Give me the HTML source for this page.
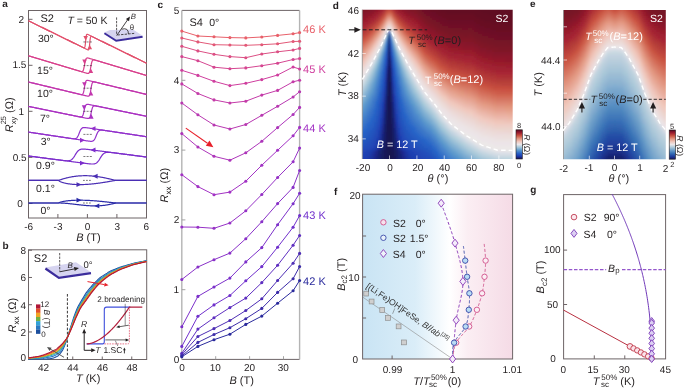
<!DOCTYPE html>
<html><head><meta charset="utf-8"><style>html,body{margin:0;padding:0;background:#fff;}body{width:685px;height:388px;overflow:hidden;font-family:"Liberation Sans", sans-serif;}svg{display:block;will-change:transform;text-rendering:geometricPrecision;}</style></head><body><svg width="685" height="388" viewBox="0 0 685 388" font-family="&quot;Liberation Sans&quot;, sans-serif" font-size="10" fill="#231f20"><text x="2.25" y="7.35" font-weight="bold">a</text>
<rect x="28.5" y="10.5" width="118" height="207.5" fill="none" stroke="#6d6466" stroke-width="1"/>
<line x1="28.5" y1="19.3" x2="32.5" y2="19.3" stroke="#6d6466" stroke-width="1"/>
<line x1="28.5" y1="65.3" x2="32.5" y2="65.3" stroke="#6d6466" stroke-width="1"/>
<line x1="28.5" y1="111.3" x2="32.5" y2="111.3" stroke="#6d6466" stroke-width="1"/>
<line x1="28.5" y1="157.4" x2="32.5" y2="157.4" stroke="#6d6466" stroke-width="1"/>
<line x1="28.5" y1="203.5" x2="32.5" y2="203.5" stroke="#6d6466" stroke-width="1"/>
<line x1="57.9" y1="218" x2="57.9" y2="214" stroke="#6d6466" stroke-width="1"/>
<line x1="87.4" y1="218" x2="87.4" y2="214" stroke="#6d6466" stroke-width="1"/>
<line x1="116.9" y1="218" x2="116.9" y2="214" stroke="#6d6466" stroke-width="1"/>
<text x="18.45" y="22.85">2</text>
<text x="12.5" y="68.45">1.5</text>
<text x="18.55" y="114.7">1</text>
<text x="12.65" y="160.85">0.5</text>
<text x="17.15" y="207.05">0</text>
<text x="24.2" y="230.25">-6</text>
<text x="53.6" y="230.25">-3</text>
<text x="84.8" y="230.25">0</text>
<text x="114.45" y="230.25">3</text>
<text x="143.6" y="230.25">6</text>
<text x="76.2" y="241" font-size="11"><tspan font-style="italic">B</tspan> (T)</text>
<text transform="translate(12.6 132.2) rotate(-90)" font-size="11"><tspan font-style="italic">R</tspan><tspan font-size="7.5" dy="3.2">xy</tspan><tspan font-size="7.5" dx="-7.6" dy="-9.4">25</tspan><tspan dy="6.2"> (Ω)</tspan></text>
<text x="40.4" y="22" font-size="11">S2</text>
<text x="67.4" y="24.15" font-size="10.5"><tspan font-style="italic">T</tspan> = 50 K</text>
<polyline points="28.5,20.8 29,21.05 29.5,21.29 30,21.54 30.5,21.78 31,22.03 31.5,22.27 32,22.52 32.5,22.76 33,23.01 33.5,23.25 34,23.5 34.5,23.74 35,23.98 35.5,24.23 36,24.48 36.5,24.72 37,24.96 37.5,25.21 38,25.46 38.5,25.7 39,25.95 39.5,26.19 40,26.44 40.5,26.68 41,26.93 41.5,27.17 42,27.41 42.5,27.66 43,27.91 43.5,28.15 44,28.39 44.5,28.64 45,28.88 45.5,29.13 46,29.38 46.5,29.62 47,29.87 47.5,30.11 48,30.36 48.5,30.6 49,30.84 49.5,31.09 50,31.34 50.5,31.58 51,31.83 51.5,32.07 52,32.31 52.5,32.56 53,32.8 53.5,33.05 54,33.3 54.5,33.54 55,33.78 55.5,34.03 56,34.27 56.5,34.52 57,34.77 57.5,35.01 58,35.26 58.5,35.5 59,35.75 59.5,35.99 60,36.23 60.5,36.48 61,36.73 61.5,36.97 62,37.22 62.5,37.46 63,37.7 63.5,37.95 64,38.2 64.5,38.44 65,38.69 65.5,38.93 66,39.17 66.5,39.42 67,39.66 67.5,39.91 68,40.16 68.5,40.4 69,40.64 69.5,40.89 70,41.14 70.5,41.38 71,41.62 71.5,41.87 72,42.12 72.5,42.36 73,42.61 73.5,42.85 74,43.09 74.5,43.34 75,43.59 75.5,43.83 76,44.08 76.5,44.32 77,44.56 77.5,44.81 78,45.05 78.5,45.3 79,45.54 79.5,45.79 80,46.03 80.5,46.28 81,46.52 81.5,46.77 82,47.01 82.5,47.26 83,47.5 83.5,47.75 84,47.99 84.5,48.24 85,48.48 85.5,48.73 86,48.97 86.5,49.22 87,49.46 87.5,49.69 88,49.88 88.5,49.88 89,49.05 89.5,45.81 90,40.41 90.5,37.17 91,36.35 91.5,36.34 92,36.53 92.5,36.76 93,37.01 93.5,37.25 94,37.5 94.5,37.74 95,37.99 95.5,38.23 96,38.48 96.5,38.72 97,38.97 97.5,39.21 98,39.46 98.5,39.7 99,39.95 99.5,40.19 100,40.44 100.5,40.68 101,40.93 101.5,41.17 102,41.41 102.5,41.66 103,41.91 103.5,42.15 104,42.4 104.5,42.64 105,42.88 105.5,43.13 106,43.38 106.5,43.62 107,43.87 107.5,44.11 108,44.35 108.5,44.6 109,44.85 109.5,45.09 110,45.34 110.5,45.58 111,45.82 111.5,46.07 112,46.32 112.5,46.56 113,46.8 113.5,47.05 114,47.29 114.5,47.54 115,47.79 115.5,48.03 116,48.27 116.5,48.52 117,48.77 117.5,49.01 118,49.26 118.5,49.5 119,49.74 119.5,49.99 120,50.24 120.5,50.48 121,50.73 121.5,50.97 122,51.21 122.5,51.46 123,51.71 123.5,51.95 124,52.2 124.5,52.44 125,52.68 125.5,52.93 126,53.18 126.5,53.42 127,53.66 127.5,53.91 128,54.16 128.5,54.4 129,54.65 129.5,54.89 130,55.13 130.5,55.38 131,55.63 131.5,55.87 132,56.12 132.5,56.36 133,56.6 133.5,56.85 134,57.1 134.5,57.34 135,57.59 135.5,57.83 136,58.07 136.5,58.32 137,58.57 137.5,58.81 138,59.05 138.5,59.3 139,59.54 139.5,59.79 140,60.04 140.5,60.28 141,60.52 141.5,60.77 142,61.02 142.5,61.26 143,61.51 143.5,61.75 144,61.99 144.5,62.24 145,62.49 145.5,62.73 146,62.98 146.5,63.22" fill="none" stroke="#e2506c" stroke-width="1.2"/>
<polyline points="28.5,20.8 29,21.05 29.5,21.29 30,21.54 30.5,21.78 31,22.03 31.5,22.27 32,22.52 32.5,22.76 33,23.01 33.5,23.25 34,23.5 34.5,23.74 35,23.98 35.5,24.23 36,24.48 36.5,24.72 37,24.96 37.5,25.21 38,25.46 38.5,25.7 39,25.95 39.5,26.19 40,26.44 40.5,26.68 41,26.93 41.5,27.17 42,27.41 42.5,27.66 43,27.91 43.5,28.15 44,28.39 44.5,28.64 45,28.88 45.5,29.13 46,29.38 46.5,29.62 47,29.87 47.5,30.11 48,30.36 48.5,30.6 49,30.84 49.5,31.09 50,31.34 50.5,31.58 51,31.83 51.5,32.07 52,32.31 52.5,32.56 53,32.8 53.5,33.05 54,33.3 54.5,33.54 55,33.78 55.5,34.03 56,34.27 56.5,34.52 57,34.77 57.5,35.01 58,35.26 58.5,35.5 59,35.75 59.5,35.99 60,36.23 60.5,36.48 61,36.73 61.5,36.97 62,37.22 62.5,37.46 63,37.7 63.5,37.95 64,38.2 64.5,38.44 65,38.69 65.5,38.93 66,39.17 66.5,39.42 67,39.66 67.5,39.91 68,40.16 68.5,40.4 69,40.64 69.5,40.89 70,41.14 70.5,41.38 71,41.62 71.5,41.87 72,42.12 72.5,42.36 73,42.61 73.5,42.85 74,43.09 74.5,43.34 75,43.58 75.5,43.83 76,44.07 76.5,44.32 77,44.56 77.5,44.81 78,45.05 78.5,45.3 79,45.54 79.5,45.79 80,46.03 80.5,46.28 81,46.52 81.5,46.77 82,47.01 82.5,47.26 83,47.5 83.5,47.73 84,47.9 84.5,47.81 85,46.65 85.5,42.78 86,37.49 86.5,34.87 87,34.3 87.5,34.36 88,34.57 88.5,34.8 89,35.05 89.5,35.29 90,35.54 90.5,35.78 91,36.03 91.5,36.27 92,36.52 92.5,36.76 93,37.01 93.5,37.25 94,37.5 94.5,37.74 95,37.99 95.5,38.23 96,38.48 96.5,38.72 97,38.97 97.5,39.21 98,39.46 98.5,39.7 99,39.95 99.5,40.19 100,40.43 100.5,40.68 101,40.93 101.5,41.17 102,41.41 102.5,41.66 103,41.91 103.5,42.15 104,42.4 104.5,42.64 105,42.88 105.5,43.13 106,43.38 106.5,43.62 107,43.87 107.5,44.11 108,44.35 108.5,44.6 109,44.85 109.5,45.09 110,45.34 110.5,45.58 111,45.82 111.5,46.07 112,46.32 112.5,46.56 113,46.8 113.5,47.05 114,47.29 114.5,47.54 115,47.79 115.5,48.03 116,48.27 116.5,48.52 117,48.77 117.5,49.01 118,49.26 118.5,49.5 119,49.74 119.5,49.99 120,50.24 120.5,50.48 121,50.73 121.5,50.97 122,51.21 122.5,51.46 123,51.71 123.5,51.95 124,52.2 124.5,52.44 125,52.68 125.5,52.93 126,53.18 126.5,53.42 127,53.66 127.5,53.91 128,54.16 128.5,54.4 129,54.65 129.5,54.89 130,55.13 130.5,55.38 131,55.63 131.5,55.87 132,56.12 132.5,56.36 133,56.6 133.5,56.85 134,57.1 134.5,57.34 135,57.59 135.5,57.83 136,58.07 136.5,58.32 137,58.57 137.5,58.81 138,59.05 138.5,59.3 139,59.54 139.5,59.79 140,60.04 140.5,60.28 141,60.52 141.5,60.77 142,61.02 142.5,61.26 143,61.51 143.5,61.75 144,61.99 144.5,62.24 145,62.49 145.5,62.73 146,62.98 146.5,63.22" fill="none" stroke="#e2506c" stroke-width="1.2"/>
<line x1="83.4" y1="41.96" x2="91.9" y2="41.96" stroke="#231f20" stroke-width="0.6" stroke-dasharray="2,1.2"/>
<path d="M85.65 40.56L83.35 35.96L87.95 35.96Z" fill="#e2506c"/>
<path d="M89.75 44.76L92.05 49.36L87.45 49.36Z" fill="#e2506c"/>
<polyline points="28.5,55.8 29,55.95 29.5,56.1 30,56.25 30.5,56.4 31,56.55 31.5,56.7 32,56.85 32.5,57 33,57.15 33.5,57.3 34,57.45 34.5,57.6 35,57.75 35.5,57.9 36,58.05 36.5,58.2 37,58.35 37.5,58.5 38,58.65 38.5,58.8 39,58.95 39.5,59.1 40,59.25 40.5,59.4 41,59.55 41.5,59.7 42,59.85 42.5,60 43,60.15 43.5,60.3 44,60.45 44.5,60.6 45,60.75 45.5,60.9 46,61.05 46.5,61.2 47,61.35 47.5,61.5 48,61.65 48.5,61.8 49,61.95 49.5,62.1 50,62.25 50.5,62.4 51,62.55 51.5,62.7 52,62.85 52.5,63 53,63.15 53.5,63.3 54,63.45 54.5,63.6 55,63.75 55.5,63.9 56,64.05 56.5,64.2 57,64.35 57.5,64.5 58,64.65 58.5,64.8 59,64.95 59.5,65.1 60,65.25 60.5,65.4 61,65.55 61.5,65.7 62,65.85 62.5,66 63,66.15 63.5,66.3 64,66.45 64.5,66.6 65,66.75 65.5,66.9 66,67.05 66.5,67.2 67,67.35 67.5,67.5 68,67.65 68.5,67.8 69,67.95 69.5,68.1 70,68.25 70.5,68.4 71,68.55 71.5,68.7 72,68.85 72.5,69 73,69.15 73.5,69.3 74,69.45 74.5,69.6 75,69.75 75.5,69.9 76,70.05 76.5,70.2 77,70.35 77.5,70.5 78,70.65 78.5,70.8 79,70.95 79.5,71.1 80,71.25 80.5,71.4 81,71.55 81.5,71.7 82,71.85 82.5,72 83,72.15 83.5,72.3 84,72.45 84.5,72.6 85,72.75 85.5,72.9 86,73.04 86.5,73.18 87,73.31 87.5,73.41 88,73.46 88.5,73.39 89,73.09 89.5,72.35 90,70.91 90.5,68.61 91,65.8 91.5,63.22 92,61.44 92.5,60.45 93,60 93.5,59.86 94,59.87 94.5,59.96 95,60.08 95.5,60.21 96,60.36 96.5,60.5 97,60.65 97.5,60.8 98,60.95 98.5,61.1 99,61.25 99.5,61.4 100,61.55 100.5,61.7 101,61.85 101.5,62 102,62.15 102.5,62.3 103,62.45 103.5,62.6 104,62.75 104.5,62.9 105,63.05 105.5,63.2 106,63.35 106.5,63.5 107,63.65 107.5,63.8 108,63.95 108.5,64.1 109,64.25 109.5,64.4 110,64.55 110.5,64.7 111,64.85 111.5,65 112,65.15 112.5,65.3 113,65.45 113.5,65.6 114,65.75 114.5,65.9 115,66.05 115.5,66.2 116,66.35 116.5,66.5 117,66.65 117.5,66.8 118,66.95 118.5,67.1 119,67.25 119.5,67.4 120,67.55 120.5,67.7 121,67.85 121.5,68 122,68.15 122.5,68.3 123,68.45 123.5,68.6 124,68.75 124.5,68.9 125,69.05 125.5,69.2 126,69.35 126.5,69.5 127,69.65 127.5,69.8 128,69.95 128.5,70.1 129,70.25 129.5,70.4 130,70.55 130.5,70.7 131,70.85 131.5,71 132,71.15 132.5,71.3 133,71.45 133.5,71.6 134,71.75 134.5,71.9 135,72.05 135.5,72.2 136,72.35 136.5,72.5 137,72.65 137.5,72.8 138,72.95 138.5,73.1 139,73.25 139.5,73.4 140,73.55 140.5,73.7 141,73.85 141.5,74 142,74.15 142.5,74.3 143,74.45 143.5,74.6 144,74.75 144.5,74.9 145,75.05 145.5,75.2 146,75.35 146.5,75.5" fill="none" stroke="#d8408c" stroke-width="1.2"/>
<polyline points="28.5,55.8 29,55.95 29.5,56.1 30,56.25 30.5,56.4 31,56.55 31.5,56.7 32,56.85 32.5,57 33,57.15 33.5,57.3 34,57.45 34.5,57.6 35,57.75 35.5,57.9 36,58.05 36.5,58.2 37,58.35 37.5,58.5 38,58.65 38.5,58.8 39,58.95 39.5,59.1 40,59.25 40.5,59.4 41,59.55 41.5,59.7 42,59.85 42.5,60 43,60.15 43.5,60.3 44,60.45 44.5,60.6 45,60.75 45.5,60.9 46,61.05 46.5,61.2 47,61.35 47.5,61.5 48,61.65 48.5,61.8 49,61.95 49.5,62.1 50,62.25 50.5,62.4 51,62.55 51.5,62.7 52,62.85 52.5,63 53,63.15 53.5,63.3 54,63.45 54.5,63.6 55,63.75 55.5,63.9 56,64.05 56.5,64.2 57,64.35 57.5,64.5 58,64.65 58.5,64.8 59,64.95 59.5,65.1 60,65.25 60.5,65.4 61,65.55 61.5,65.7 62,65.85 62.5,66 63,66.15 63.5,66.3 64,66.45 64.5,66.6 65,66.75 65.5,66.9 66,67.05 66.5,67.2 67,67.35 67.5,67.5 68,67.65 68.5,67.8 69,67.95 69.5,68.1 70,68.25 70.5,68.4 71,68.55 71.5,68.7 72,68.85 72.5,69 73,69.15 73.5,69.3 74,69.45 74.5,69.6 75,69.75 75.5,69.9 76,70.05 76.5,70.2 77,70.35 77.5,70.5 78,70.65 78.5,70.8 79,70.95 79.5,71.09 80,71.24 80.5,71.37 81,71.48 81.5,71.56 82,71.55 82.5,71.36 83,70.83 83.5,69.7 84,67.74 84.5,65.05 85,62.29 85.5,60.16 86,58.87 86.5,58.24 87,58 87.5,57.97 88,58.03 88.5,58.14 89,58.27 89.5,58.41 90,58.55 90.5,58.7 91,58.85 91.5,59 92,59.15 92.5,59.3 93,59.45 93.5,59.6 94,59.75 94.5,59.9 95,60.05 95.5,60.2 96,60.35 96.5,60.5 97,60.65 97.5,60.8 98,60.95 98.5,61.1 99,61.25 99.5,61.4 100,61.55 100.5,61.7 101,61.85 101.5,62 102,62.15 102.5,62.3 103,62.45 103.5,62.6 104,62.75 104.5,62.9 105,63.05 105.5,63.2 106,63.35 106.5,63.5 107,63.65 107.5,63.8 108,63.95 108.5,64.1 109,64.25 109.5,64.4 110,64.55 110.5,64.7 111,64.85 111.5,65 112,65.15 112.5,65.3 113,65.45 113.5,65.6 114,65.75 114.5,65.9 115,66.05 115.5,66.2 116,66.35 116.5,66.5 117,66.65 117.5,66.8 118,66.95 118.5,67.1 119,67.25 119.5,67.4 120,67.55 120.5,67.7 121,67.85 121.5,68 122,68.15 122.5,68.3 123,68.45 123.5,68.6 124,68.75 124.5,68.9 125,69.05 125.5,69.2 126,69.35 126.5,69.5 127,69.65 127.5,69.8 128,69.95 128.5,70.1 129,70.25 129.5,70.4 130,70.55 130.5,70.7 131,70.85 131.5,71 132,71.15 132.5,71.3 133,71.45 133.5,71.6 134,71.75 134.5,71.9 135,72.05 135.5,72.2 136,72.35 136.5,72.5 137,72.65 137.5,72.8 138,72.95 138.5,73.1 139,73.25 139.5,73.4 140,73.55 140.5,73.7 141,73.85 141.5,74 142,74.15 142.5,74.3 143,74.45 143.5,74.6 144,74.75 144.5,74.9 145,75.05 145.5,75.2 146,75.35 146.5,75.5" fill="none" stroke="#d8408c" stroke-width="1.2"/>
<line x1="83.4" y1="65.62" x2="91.9" y2="65.62" stroke="#231f20" stroke-width="0.6" stroke-dasharray="2,1.2"/>
<path d="M84.55 64.22L82.25 59.62L86.85 59.62Z" fill="#d8408c"/>
<path d="M90.85 68.42L93.15 73.02L88.55 73.02Z" fill="#d8408c"/>
<polyline points="28.5,82 29,82.12 29.5,82.24 30,82.36 30.5,82.48 31,82.6 31.5,82.72 32,82.84 32.5,82.96 33,83.08 33.5,83.2 34,83.32 34.5,83.44 35,83.56 35.5,83.68 36,83.8 36.5,83.92 37,84.04 37.5,84.16 38,84.28 38.5,84.4 39,84.52 39.5,84.64 40,84.76 40.5,84.88 41,85 41.5,85.12 42,85.24 42.5,85.36 43,85.48 43.5,85.6 44,85.72 44.5,85.84 45,85.96 45.5,86.08 46,86.2 46.5,86.32 47,86.44 47.5,86.56 48,86.68 48.5,86.8 49,86.92 49.5,87.04 50,87.16 50.5,87.28 51,87.4 51.5,87.52 52,87.64 52.5,87.76 53,87.88 53.5,88 54,88.12 54.5,88.24 55,88.36 55.5,88.48 56,88.6 56.5,88.72 57,88.84 57.5,88.96 58,89.08 58.5,89.2 59,89.32 59.5,89.44 60,89.56 60.5,89.68 61,89.8 61.5,89.92 62,90.04 62.5,90.16 63,90.28 63.5,90.4 64,90.52 64.5,90.64 65,90.76 65.5,90.88 66,91 66.5,91.12 67,91.24 67.5,91.36 68,91.48 68.5,91.6 69,91.72 69.5,91.84 70,91.96 70.5,92.08 71,92.2 71.5,92.32 72,92.44 72.5,92.56 73,92.68 73.5,92.8 74,92.92 74.5,93.04 75,93.16 75.5,93.28 76,93.4 76.5,93.52 77,93.64 77.5,93.76 78,93.88 78.5,94 79,94.12 79.5,94.24 80,94.36 80.5,94.48 81,94.6 81.5,94.72 82,94.84 82.5,94.96 83,95.08 83.5,95.2 84,95.32 84.5,95.44 85,95.56 85.5,95.68 86,95.8 86.5,95.91 87,96.02 87.5,96.11 88,96.16 88.5,96.14 89,95.93 89.5,95.34 90,94.05 90.5,91.78 91,88.72 91.5,85.76 92,83.69 92.5,82.58 93,82.09 93.5,81.92 94,81.92 94.5,81.98 95,82.08 95.5,82.19 96,82.3 96.5,82.42 97,82.54 97.5,82.66 98,82.78 98.5,82.9 99,83.02 99.5,83.14 100,83.26 100.5,83.38 101,83.5 101.5,83.62 102,83.74 102.5,83.86 103,83.98 103.5,84.1 104,84.22 104.5,84.34 105,84.46 105.5,84.58 106,84.7 106.5,84.82 107,84.94 107.5,85.06 108,85.18 108.5,85.3 109,85.42 109.5,85.54 110,85.66 110.5,85.78 111,85.9 111.5,86.02 112,86.14 112.5,86.26 113,86.38 113.5,86.5 114,86.62 114.5,86.74 115,86.86 115.5,86.98 116,87.1 116.5,87.22 117,87.34 117.5,87.46 118,87.58 118.5,87.7 119,87.82 119.5,87.94 120,88.06 120.5,88.18 121,88.3 121.5,88.42 122,88.54 122.5,88.66 123,88.78 123.5,88.9 124,89.02 124.5,89.14 125,89.26 125.5,89.38 126,89.5 126.5,89.62 127,89.74 127.5,89.86 128,89.98 128.5,90.1 129,90.22 129.5,90.34 130,90.46 130.5,90.58 131,90.7 131.5,90.82 132,90.94 132.5,91.06 133,91.18 133.5,91.3 134,91.42 134.5,91.54 135,91.66 135.5,91.78 136,91.9 136.5,92.02 137,92.14 137.5,92.26 138,92.38 138.5,92.5 139,92.62 139.5,92.74 140,92.86 140.5,92.98 141,93.1 141.5,93.22 142,93.34 142.5,93.46 143,93.58 143.5,93.7 144,93.82 144.5,93.94 145,94.06 145.5,94.18 146,94.3 146.5,94.42" fill="none" stroke="#c236ae" stroke-width="1.2"/>
<polyline points="28.5,82 29,82.12 29.5,82.24 30,82.36 30.5,82.48 31,82.6 31.5,82.72 32,82.84 32.5,82.96 33,83.08 33.5,83.2 34,83.32 34.5,83.44 35,83.56 35.5,83.68 36,83.8 36.5,83.92 37,84.04 37.5,84.16 38,84.28 38.5,84.4 39,84.52 39.5,84.64 40,84.76 40.5,84.88 41,85 41.5,85.12 42,85.24 42.5,85.36 43,85.48 43.5,85.6 44,85.72 44.5,85.84 45,85.96 45.5,86.08 46,86.2 46.5,86.32 47,86.44 47.5,86.56 48,86.68 48.5,86.8 49,86.92 49.5,87.04 50,87.16 50.5,87.28 51,87.4 51.5,87.52 52,87.64 52.5,87.76 53,87.88 53.5,88 54,88.12 54.5,88.24 55,88.36 55.5,88.48 56,88.6 56.5,88.72 57,88.84 57.5,88.96 58,89.08 58.5,89.2 59,89.32 59.5,89.44 60,89.56 60.5,89.68 61,89.8 61.5,89.92 62,90.04 62.5,90.16 63,90.28 63.5,90.4 64,90.52 64.5,90.64 65,90.76 65.5,90.88 66,91 66.5,91.12 67,91.24 67.5,91.36 68,91.48 68.5,91.6 69,91.72 69.5,91.84 70,91.96 70.5,92.08 71,92.2 71.5,92.32 72,92.44 72.5,92.56 73,92.68 73.5,92.8 74,92.92 74.5,93.04 75,93.16 75.5,93.28 76,93.4 76.5,93.52 77,93.64 77.5,93.76 78,93.88 78.5,94 79,94.12 79.5,94.24 80,94.35 80.5,94.46 81,94.55 81.5,94.6 82,94.58 82.5,94.37 83,93.78 83.5,92.49 84,90.22 84.5,87.16 85,84.2 85.5,82.13 86,81.02 86.5,80.53 87,80.36 87.5,80.36 88,80.42 88.5,80.52 89,80.63 89.5,80.74 90,80.86 90.5,80.98 91,81.1 91.5,81.22 92,81.34 92.5,81.46 93,81.58 93.5,81.7 94,81.82 94.5,81.94 95,82.06 95.5,82.18 96,82.3 96.5,82.42 97,82.54 97.5,82.66 98,82.78 98.5,82.9 99,83.02 99.5,83.14 100,83.26 100.5,83.38 101,83.5 101.5,83.62 102,83.74 102.5,83.86 103,83.98 103.5,84.1 104,84.22 104.5,84.34 105,84.46 105.5,84.58 106,84.7 106.5,84.82 107,84.94 107.5,85.06 108,85.18 108.5,85.3 109,85.42 109.5,85.54 110,85.66 110.5,85.78 111,85.9 111.5,86.02 112,86.14 112.5,86.26 113,86.38 113.5,86.5 114,86.62 114.5,86.74 115,86.86 115.5,86.98 116,87.1 116.5,87.22 117,87.34 117.5,87.46 118,87.58 118.5,87.7 119,87.82 119.5,87.94 120,88.06 120.5,88.18 121,88.3 121.5,88.42 122,88.54 122.5,88.66 123,88.78 123.5,88.9 124,89.02 124.5,89.14 125,89.26 125.5,89.38 126,89.5 126.5,89.62 127,89.74 127.5,89.86 128,89.98 128.5,90.1 129,90.22 129.5,90.34 130,90.46 130.5,90.58 131,90.7 131.5,90.82 132,90.94 132.5,91.06 133,91.18 133.5,91.3 134,91.42 134.5,91.54 135,91.66 135.5,91.78 136,91.9 136.5,92.02 137,92.14 137.5,92.26 138,92.38 138.5,92.5 139,92.62 139.5,92.74 140,92.86 140.5,92.98 141,93.1 141.5,93.22 142,93.34 142.5,93.46 143,93.58 143.5,93.7 144,93.82 144.5,93.94 145,94.06 145.5,94.18 146,94.3 146.5,94.42" fill="none" stroke="#c236ae" stroke-width="1.2"/>
<line x1="83.4" y1="88.19" x2="91.9" y2="88.19" stroke="#231f20" stroke-width="0.6" stroke-dasharray="2,1.2"/>
<path d="M84.45 86.79L82.15 82.19L86.75 82.19Z" fill="#c236ae"/>
<path d="M90.95 90.99L93.25 95.59L88.65 95.59Z" fill="#c236ae"/>
<polyline points="28.5,106.4 29,106.5 29.5,106.61 30,106.71 30.5,106.81 31,106.91 31.5,107.02 32,107.12 32.5,107.22 33,107.32 33.5,107.43 34,107.53 34.5,107.63 35,107.73 35.5,107.84 36,107.94 36.5,108.04 37,108.14 37.5,108.25 38,108.35 38.5,108.45 39,108.55 39.5,108.66 40,108.76 40.5,108.86 41,108.96 41.5,109.07 42,109.17 42.5,109.27 43,109.37 43.5,109.48 44,109.58 44.5,109.68 45,109.78 45.5,109.89 46,109.99 46.5,110.09 47,110.19 47.5,110.3 48,110.4 48.5,110.5 49,110.6 49.5,110.71 50,110.81 50.5,110.91 51,111.01 51.5,111.12 52,111.22 52.5,111.32 53,111.42 53.5,111.53 54,111.63 54.5,111.73 55,111.83 55.5,111.94 56,112.04 56.5,112.14 57,112.24 57.5,112.34 58,112.45 58.5,112.55 59,112.65 59.5,112.76 60,112.86 60.5,112.96 61,113.06 61.5,113.17 62,113.27 62.5,113.37 63,113.47 63.5,113.58 64,113.68 64.5,113.78 65,113.88 65.5,113.98 66,114.09 66.5,114.19 67,114.29 67.5,114.39 68,114.5 68.5,114.6 69,114.7 69.5,114.8 70,114.91 70.5,115.01 71,115.11 71.5,115.21 72,115.32 72.5,115.42 73,115.52 73.5,115.62 74,115.73 74.5,115.83 75,115.93 75.5,116.03 76,116.14 76.5,116.24 77,116.34 77.5,116.44 78,116.55 78.5,116.65 79,116.75 79.5,116.85 80,116.96 80.5,117.06 81,117.16 81.5,117.26 82,117.37 82.5,117.47 83,117.57 83.5,117.67 84,117.78 84.5,117.88 85,117.98 85.5,118.08 86,118.18 86.5,118.27 87,118.35 87.5,118.42 88,118.45 88.5,118.41 89,118.23 89.5,117.8 90,116.97 90.5,115.55 91,113.52 91.5,111.19 92,109.06 92.5,107.51 93,106.57 93.5,106.08 94,105.86 94.5,105.8 95,105.82 95.5,105.88 96,105.96 96.5,106.05 97,106.15 97.5,106.25 98,106.35 98.5,106.45 99,106.55 99.5,106.66 100,106.76 100.5,106.86 101,106.96 101.5,107.07 102,107.17 102.5,107.27 103,107.37 103.5,107.48 104,107.58 104.5,107.68 105,107.78 105.5,107.89 106,107.99 106.5,108.09 107,108.19 107.5,108.3 108,108.4 108.5,108.5 109,108.6 109.5,108.71 110,108.81 110.5,108.91 111,109.01 111.5,109.12 112,109.22 112.5,109.32 113,109.42 113.5,109.53 114,109.63 114.5,109.73 115,109.83 115.5,109.94 116,110.04 116.5,110.14 117,110.24 117.5,110.35 118,110.45 118.5,110.55 119,110.65 119.5,110.76 120,110.86 120.5,110.96 121,111.06 121.5,111.17 122,111.27 122.5,111.37 123,111.47 123.5,111.58 124,111.68 124.5,111.78 125,111.88 125.5,111.98 126,112.09 126.5,112.19 127,112.29 127.5,112.4 128,112.5 128.5,112.6 129,112.7 129.5,112.81 130,112.91 130.5,113.01 131,113.11 131.5,113.22 132,113.32 132.5,113.42 133,113.52 133.5,113.63 134,113.73 134.5,113.83 135,113.93 135.5,114.04 136,114.14 136.5,114.24 137,114.34 137.5,114.45 138,114.55 138.5,114.65 139,114.75 139.5,114.86 140,114.96 140.5,115.06 141,115.16 141.5,115.27 142,115.37 142.5,115.47 143,115.57 143.5,115.67 144,115.78 144.5,115.88 145,115.98 145.5,116.08 146,116.19 146.5,116.29" fill="none" stroke="#aa32c2" stroke-width="1.2"/>
<polyline points="28.5,106.4 29,106.5 29.5,106.61 30,106.71 30.5,106.81 31,106.91 31.5,107.02 32,107.12 32.5,107.22 33,107.32 33.5,107.43 34,107.53 34.5,107.63 35,107.73 35.5,107.84 36,107.94 36.5,108.04 37,108.14 37.5,108.25 38,108.35 38.5,108.45 39,108.55 39.5,108.66 40,108.76 40.5,108.86 41,108.96 41.5,109.07 42,109.17 42.5,109.27 43,109.37 43.5,109.48 44,109.58 44.5,109.68 45,109.78 45.5,109.89 46,109.99 46.5,110.09 47,110.19 47.5,110.3 48,110.4 48.5,110.5 49,110.6 49.5,110.71 50,110.81 50.5,110.91 51,111.01 51.5,111.12 52,111.22 52.5,111.32 53,111.42 53.5,111.53 54,111.63 54.5,111.73 55,111.83 55.5,111.94 56,112.04 56.5,112.14 57,112.24 57.5,112.34 58,112.45 58.5,112.55 59,112.65 59.5,112.75 60,112.86 60.5,112.96 61,113.06 61.5,113.16 62,113.27 62.5,113.37 63,113.47 63.5,113.57 64,113.68 64.5,113.78 65,113.88 65.5,113.98 66,114.09 66.5,114.19 67,114.29 67.5,114.39 68,114.5 68.5,114.6 69,114.7 69.5,114.8 70,114.91 70.5,115.01 71,115.11 71.5,115.21 72,115.32 72.5,115.42 73,115.52 73.5,115.62 74,115.73 74.5,115.83 75,115.93 75.5,116.03 76,116.14 76.5,116.24 77,116.34 77.5,116.44 78,116.54 78.5,116.64 79,116.74 79.5,116.83 80,116.91 80.5,116.96 81,116.97 81.5,116.88 82,116.62 82.5,116.05 83,115 83.5,113.33 84,111.12 84.5,108.81 85,106.89 85.5,105.6 86,104.86 86.5,104.49 87,104.35 87.5,104.33 88,104.36 88.5,104.43 89,104.52 89.5,104.61 90,104.71 90.5,104.81 91,104.91 91.5,105.02 92,105.12 92.5,105.22 93,105.32 93.5,105.43 94,105.53 94.5,105.63 95,105.73 95.5,105.84 96,105.94 96.5,106.04 97,106.14 97.5,106.25 98,106.35 98.5,106.45 99,106.55 99.5,106.66 100,106.76 100.5,106.86 101,106.96 101.5,107.07 102,107.17 102.5,107.27 103,107.37 103.5,107.48 104,107.58 104.5,107.68 105,107.78 105.5,107.89 106,107.99 106.5,108.09 107,108.19 107.5,108.3 108,108.4 108.5,108.5 109,108.6 109.5,108.71 110,108.81 110.5,108.91 111,109.01 111.5,109.12 112,109.22 112.5,109.32 113,109.42 113.5,109.53 114,109.63 114.5,109.73 115,109.83 115.5,109.94 116,110.04 116.5,110.14 117,110.24 117.5,110.35 118,110.45 118.5,110.55 119,110.65 119.5,110.76 120,110.86 120.5,110.96 121,111.06 121.5,111.17 122,111.27 122.5,111.37 123,111.47 123.5,111.58 124,111.68 124.5,111.78 125,111.88 125.5,111.98 126,112.09 126.5,112.19 127,112.29 127.5,112.4 128,112.5 128.5,112.6 129,112.7 129.5,112.81 130,112.91 130.5,113.01 131,113.11 131.5,113.22 132,113.32 132.5,113.42 133,113.52 133.5,113.63 134,113.73 134.5,113.83 135,113.93 135.5,114.04 136,114.14 136.5,114.24 137,114.34 137.5,114.45 138,114.55 138.5,114.65 139,114.75 139.5,114.86 140,114.96 140.5,115.06 141,115.16 141.5,115.27 142,115.37 142.5,115.47 143,115.57 143.5,115.67 144,115.78 144.5,115.88 145,115.98 145.5,116.08 146,116.19 146.5,116.29" fill="none" stroke="#aa32c2" stroke-width="1.2"/>
<line x1="83.4" y1="111.32" x2="91.9" y2="111.32" stroke="#231f20" stroke-width="0.6" stroke-dasharray="2,1.2"/>
<path d="M84.1 109.92L81.8 105.32L86.4 105.32Z" fill="#aa32c2"/>
<path d="M91.3 114.12L93.6 118.72L89 118.72Z" fill="#aa32c2"/>
<polyline points="28.5,132.1 29,132.17 29.5,132.25 30,132.32 30.5,132.4 31,132.47 31.5,132.55 32,132.62 32.5,132.7 33,132.78 33.5,132.85 34,132.92 34.5,133 35,133.07 35.5,133.15 36,133.22 36.5,133.3 37,133.38 37.5,133.45 38,133.53 38.5,133.6 39,133.67 39.5,133.75 40,133.82 40.5,133.9 41,133.97 41.5,134.05 42,134.12 42.5,134.2 43,134.28 43.5,134.35 44,134.42 44.5,134.5 45,134.57 45.5,134.65 46,134.72 46.5,134.8 47,134.88 47.5,134.95 48,135.03 48.5,135.1 49,135.17 49.5,135.25 50,135.32 50.5,135.4 51,135.47 51.5,135.55 52,135.62 52.5,135.7 53,135.78 53.5,135.85 54,135.92 54.5,136 55,136.07 55.5,136.15 56,136.22 56.5,136.3 57,136.37 57.5,136.45 58,136.52 58.5,136.6 59,136.67 59.5,136.75 60,136.82 60.5,136.9 61,136.97 61.5,137.05 62,137.12 62.5,137.2 63,137.27 63.5,137.35 64,137.42 64.5,137.5 65,137.57 65.5,137.65 66,137.72 66.5,137.8 67,137.87 67.5,137.95 68,138.02 68.5,138.1 69,138.17 69.5,138.25 70,138.32 70.5,138.4 71,138.47 71.5,138.55 72,138.62 72.5,138.7 73,138.77 73.5,138.85 74,138.92 74.5,139 75,139.07 75.5,139.15 76,139.22 76.5,139.3 77,139.37 77.5,139.45 78,139.52 78.5,139.6 79,139.67 79.5,139.75 80,139.82 80.5,139.9 81,139.97 81.5,140.05 82,140.12 82.5,140.2 83,140.27 83.5,140.35 84,140.42 84.5,140.5 85,140.57 85.5,140.65 86,140.72 86.5,140.8 87,140.87 87.5,140.94 88,141.01 88.5,141.08 89,141.14 89.5,141.2 90,141.25 90.5,141.29 91,141.31 91.5,141.29 92,141.24 92.5,141.13 93,140.92 93.5,140.6 94,140.12 94.5,139.44 95,138.55 95.5,137.46 96,136.22 96.5,134.94 97,133.72 97.5,132.66 98,131.81 98.5,131.18 99,130.73 99.5,130.44 100,130.25 100.5,130.15 101,130.11 101.5,130.11 102,130.13 102.5,130.17 103,130.22 103.5,130.28 104,130.34 104.5,130.41 105,130.48 105.5,130.56 106,130.63 106.5,130.7 107,130.78 107.5,130.85 108,130.93 108.5,131 109,131.08 109.5,131.15 110,131.23 110.5,131.3 111,131.38 111.5,131.45 112,131.53 112.5,131.6 113,131.68 113.5,131.75 114,131.83 114.5,131.9 115,131.98 115.5,132.05 116,132.13 116.5,132.2 117,132.28 117.5,132.35 118,132.43 118.5,132.5 119,132.58 119.5,132.65 120,132.73 120.5,132.8 121,132.88 121.5,132.95 122,133.03 122.5,133.1 123,133.18 123.5,133.25 124,133.33 124.5,133.4 125,133.48 125.5,133.55 126,133.63 126.5,133.7 127,133.78 127.5,133.85 128,133.93 128.5,134 129,134.08 129.5,134.15 130,134.23 130.5,134.3 131,134.38 131.5,134.45 132,134.53 132.5,134.6 133,134.68 133.5,134.75 134,134.83 134.5,134.9 135,134.98 135.5,135.05 136,135.13 136.5,135.2 137,135.28 137.5,135.35 138,135.43 138.5,135.5 139,135.57 139.5,135.65 140,135.72 140.5,135.8 141,135.88 141.5,135.95 142,136.03 142.5,136.1 143,136.18 143.5,136.25 144,136.32 144.5,136.4 145,136.47 145.5,136.55 146,136.62 146.5,136.7" fill="none" stroke="#9230cc" stroke-width="1.2"/>
<polyline points="28.5,132.1 29,132.17 29.5,132.25 30,132.32 30.5,132.4 31,132.47 31.5,132.55 32,132.62 32.5,132.7 33,132.78 33.5,132.85 34,132.92 34.5,133 35,133.07 35.5,133.15 36,133.22 36.5,133.3 37,133.38 37.5,133.45 38,133.52 38.5,133.6 39,133.67 39.5,133.75 40,133.82 40.5,133.9 41,133.97 41.5,134.05 42,134.12 42.5,134.2 43,134.27 43.5,134.35 44,134.42 44.5,134.5 45,134.57 45.5,134.65 46,134.72 46.5,134.8 47,134.87 47.5,134.95 48,135.02 48.5,135.1 49,135.17 49.5,135.25 50,135.32 50.5,135.4 51,135.47 51.5,135.55 52,135.62 52.5,135.7 53,135.77 53.5,135.85 54,135.92 54.5,136 55,136.07 55.5,136.15 56,136.22 56.5,136.3 57,136.37 57.5,136.45 58,136.52 58.5,136.6 59,136.67 59.5,136.75 60,136.82 60.5,136.9 61,136.97 61.5,137.05 62,137.12 62.5,137.2 63,137.27 63.5,137.35 64,137.42 64.5,137.5 65,137.57 65.5,137.65 66,137.72 66.5,137.8 67,137.87 67.5,137.95 68,138.02 68.5,138.1 69,138.17 69.5,138.25 70,138.32 70.5,138.39 71,138.46 71.5,138.53 72,138.59 72.5,138.65 73,138.7 73.5,138.74 74,138.76 74.5,138.74 75,138.69 75.5,138.58 76,138.37 76.5,138.05 77,137.57 77.5,136.89 78,136 78.5,134.91 79,133.67 79.5,132.39 80,131.17 80.5,130.11 81,129.26 81.5,128.63 82,128.18 82.5,127.89 83,127.7 83.5,127.6 84,127.56 84.5,127.56 85,127.58 85.5,127.62 86,127.67 86.5,127.73 87,127.79 87.5,127.86 88,127.93 88.5,128.01 89,128.08 89.5,128.15 90,128.23 90.5,128.3 91,128.38 91.5,128.45 92,128.53 92.5,128.6 93,128.68 93.5,128.75 94,128.83 94.5,128.9 95,128.98 95.5,129.05 96,129.13 96.5,129.2 97,129.28 97.5,129.35 98,129.43 98.5,129.5 99,129.58 99.5,129.65 100,129.73 100.5,129.8 101,129.88 101.5,129.95 102,130.03 102.5,130.1 103,130.18 103.5,130.25 104,130.33 104.5,130.4 105,130.48 105.5,130.55 106,130.63 106.5,130.7 107,130.78 107.5,130.85 108,130.93 108.5,131 109,131.08 109.5,131.15 110,131.23 110.5,131.3 111,131.38 111.5,131.45 112,131.53 112.5,131.6 113,131.68 113.5,131.75 114,131.83 114.5,131.9 115,131.98 115.5,132.05 116,132.13 116.5,132.2 117,132.28 117.5,132.35 118,132.43 118.5,132.5 119,132.58 119.5,132.65 120,132.73 120.5,132.8 121,132.88 121.5,132.95 122,133.03 122.5,133.1 123,133.18 123.5,133.25 124,133.32 124.5,133.4 125,133.47 125.5,133.55 126,133.62 126.5,133.7 127,133.78 127.5,133.85 128,133.93 128.5,134 129,134.07 129.5,134.15 130,134.22 130.5,134.3 131,134.38 131.5,134.45 132,134.53 132.5,134.6 133,134.68 133.5,134.75 134,134.82 134.5,134.9 135,134.97 135.5,135.05 136,135.12 136.5,135.2 137,135.28 137.5,135.35 138,135.43 138.5,135.5 139,135.57 139.5,135.65 140,135.72 140.5,135.8 141,135.88 141.5,135.95 142,136.03 142.5,136.1 143,136.18 143.5,136.25 144,136.32 144.5,136.4 145,136.47 145.5,136.55 146,136.62 146.5,136.7" fill="none" stroke="#9230cc" stroke-width="1.2"/>
<line x1="83.4" y1="134.38" x2="91.9" y2="134.38" stroke="#231f20" stroke-width="0.6" stroke-dasharray="2,1.2"/>
<path d="M90.5 128.6L95.5 126.2L95.5 131Z" fill="#9230cc"/>
<path d="M85 140.27L80 142.67L80 137.87Z" fill="#9230cc"/>
<polyline points="28.5,156 29,156.06 29.5,156.13 30,156.19 30.5,156.26 31,156.32 31.5,156.39 32,156.45 32.5,156.52 33,156.58 33.5,156.65 34,156.71 34.5,156.78 35,156.84 35.5,156.91 36,156.97 36.5,157.04 37,157.1 37.5,157.17 38,157.23 38.5,157.3 39,157.36 39.5,157.43 40,157.49 40.5,157.56 41,157.62 41.5,157.69 42,157.75 42.5,157.82 43,157.88 43.5,157.95 44,158.01 44.5,158.08 45,158.14 45.5,158.21 46,158.27 46.5,158.34 47,158.4 47.5,158.47 48,158.53 48.5,158.6 49,158.66 49.5,158.73 50,158.79 50.5,158.86 51,158.92 51.5,158.99 52,159.05 52.5,159.12 53,159.18 53.5,159.25 54,159.31 54.5,159.38 55,159.44 55.5,159.51 56,159.57 56.5,159.64 57,159.7 57.5,159.77 58,159.83 58.5,159.9 59,159.96 59.5,160.03 60,160.09 60.5,160.16 61,160.22 61.5,160.29 62,160.35 62.5,160.42 63,160.48 63.5,160.55 64,160.61 64.5,160.68 65,160.74 65.5,160.81 66,160.87 66.5,160.94 67,161 67.5,161.07 68,161.13 68.5,161.2 69,161.26 69.5,161.33 70,161.39 70.5,161.46 71,161.52 71.5,161.59 72,161.65 72.5,161.72 73,161.78 73.5,161.85 74,161.91 74.5,161.98 75,162.04 75.5,162.11 76,162.17 76.5,162.24 77,162.3 77.5,162.37 78,162.43 78.5,162.5 79,162.56 79.5,162.63 80,162.69 80.5,162.76 81,162.82 81.5,162.89 82,162.95 82.5,163.02 83,163.08 83.5,163.15 84,163.21 84.5,163.27 85,163.34 85.5,163.4 86,163.46 86.5,163.52 87,163.59 87.5,163.65 88,163.7 88.5,163.76 89,163.81 89.5,163.86 90,163.91 90.5,163.95 91,163.98 91.5,164.01 92,164.02 92.5,164.02 93,164 93.5,163.97 94,163.9 94.5,163.8 95,163.66 95.5,163.46 96,163.21 96.5,162.9 97,162.5 97.5,162.03 98,161.46 98.5,160.82 99,160.1 99.5,159.32 100,158.5 100.5,157.67 101,156.86 101.5,156.09 102,155.39 102.5,154.76 103,154.21 103.5,153.75 104,153.38 104.5,153.07 105,152.83 105.5,152.65 106,152.52 106.5,152.43 107,152.37 107.5,152.33 108,152.32 108.5,152.32 109,152.34 109.5,152.37 110,152.4 110.5,152.44 111,152.49 111.5,152.54 112,152.59 112.5,152.65 113,152.71 113.5,152.77 114,152.83 114.5,152.89 115,152.95 115.5,153.02 116,153.08 116.5,153.14 117,153.21 117.5,153.27 118,153.34 118.5,153.4 119,153.47 119.5,153.53 120,153.6 120.5,153.66 121,153.73 121.5,153.79 122,153.86 122.5,153.92 123,153.99 123.5,154.05 124,154.12 124.5,154.18 125,154.25 125.5,154.31 126,154.38 126.5,154.44 127,154.51 127.5,154.57 128,154.64 128.5,154.7 129,154.77 129.5,154.83 130,154.9 130.5,154.96 131,155.03 131.5,155.09 132,155.16 132.5,155.22 133,155.29 133.5,155.35 134,155.42 134.5,155.48 135,155.55 135.5,155.61 136,155.68 136.5,155.74 137,155.81 137.5,155.87 138,155.94 138.5,156 139,156.07 139.5,156.13 140,156.2 140.5,156.26 141,156.33 141.5,156.39 142,156.46 142.5,156.52 143,156.59 143.5,156.65 144,156.72 144.5,156.78 145,156.85 145.5,156.91 146,156.98 146.5,157.04" fill="none" stroke="#7c2ecc" stroke-width="1.2"/>
<polyline points="28.5,156 29,156.06 29.5,156.13 30,156.19 30.5,156.26 31,156.32 31.5,156.39 32,156.45 32.5,156.52 33,156.58 33.5,156.65 34,156.71 34.5,156.78 35,156.84 35.5,156.91 36,156.97 36.5,157.04 37,157.1 37.5,157.17 38,157.23 38.5,157.3 39,157.36 39.5,157.43 40,157.49 40.5,157.56 41,157.62 41.5,157.69 42,157.75 42.5,157.82 43,157.88 43.5,157.95 44,158.01 44.5,158.08 45,158.14 45.5,158.21 46,158.27 46.5,158.34 47,158.4 47.5,158.47 48,158.53 48.5,158.6 49,158.66 49.5,158.73 50,158.79 50.5,158.86 51,158.92 51.5,158.99 52,159.05 52.5,159.12 53,159.18 53.5,159.25 54,159.31 54.5,159.38 55,159.44 55.5,159.51 56,159.57 56.5,159.64 57,159.7 57.5,159.77 58,159.83 58.5,159.9 59,159.96 59.5,160.02 60,160.09 60.5,160.15 61,160.21 61.5,160.27 62,160.34 62.5,160.4 63,160.45 63.5,160.51 64,160.56 64.5,160.61 65,160.66 65.5,160.7 66,160.73 66.5,160.76 67,160.77 67.5,160.77 68,160.75 68.5,160.72 69,160.65 69.5,160.55 70,160.41 70.5,160.21 71,159.96 71.5,159.65 72,159.25 72.5,158.78 73,158.21 73.5,157.57 74,156.85 74.5,156.07 75,155.25 75.5,154.42 76,153.61 76.5,152.84 77,152.14 77.5,151.51 78,150.96 78.5,150.5 79,150.13 79.5,149.82 80,149.58 80.5,149.4 81,149.27 81.5,149.18 82,149.12 82.5,149.08 83,149.07 83.5,149.07 84,149.09 84.5,149.12 85,149.15 85.5,149.19 86,149.24 86.5,149.29 87,149.34 87.5,149.4 88,149.46 88.5,149.52 89,149.58 89.5,149.64 90,149.7 90.5,149.77 91,149.83 91.5,149.89 92,149.96 92.5,150.02 93,150.09 93.5,150.15 94,150.22 94.5,150.28 95,150.35 95.5,150.41 96,150.48 96.5,150.54 97,150.61 97.5,150.67 98,150.74 98.5,150.8 99,150.87 99.5,150.93 100,151 100.5,151.06 101,151.13 101.5,151.19 102,151.26 102.5,151.32 103,151.39 103.5,151.45 104,151.52 104.5,151.58 105,151.65 105.5,151.71 106,151.78 106.5,151.84 107,151.91 107.5,151.97 108,152.04 108.5,152.1 109,152.17 109.5,152.23 110,152.3 110.5,152.36 111,152.43 111.5,152.49 112,152.56 112.5,152.62 113,152.69 113.5,152.75 114,152.82 114.5,152.88 115,152.95 115.5,153.01 116,153.08 116.5,153.14 117,153.21 117.5,153.27 118,153.34 118.5,153.4 119,153.47 119.5,153.53 120,153.6 120.5,153.66 121,153.73 121.5,153.79 122,153.86 122.5,153.92 123,153.99 123.5,154.05 124,154.12 124.5,154.18 125,154.25 125.5,154.31 126,154.38 126.5,154.44 127,154.51 127.5,154.57 128,154.64 128.5,154.7 129,154.77 129.5,154.83 130,154.9 130.5,154.96 131,155.03 131.5,155.09 132,155.16 132.5,155.22 133,155.29 133.5,155.35 134,155.42 134.5,155.48 135,155.55 135.5,155.61 136,155.68 136.5,155.74 137,155.81 137.5,155.87 138,155.94 138.5,156 139,156.07 139.5,156.13 140,156.2 140.5,156.26 141,156.33 141.5,156.39 142,156.46 142.5,156.52 143,156.59 143.5,156.65 144,156.72 144.5,156.78 145,156.85 145.5,156.91 146,156.98 146.5,157.04" fill="none" stroke="#7c2ecc" stroke-width="1.2"/>
<line x1="83.4" y1="156.51" x2="91.9" y2="156.51" stroke="#231f20" stroke-width="0.6" stroke-dasharray="2,1.2"/>
<path d="M90.5 150.02L95.5 147.62L95.5 152.42Z" fill="#7c2ecc"/>
<path d="M85 163.08L80 165.48L80 160.68Z" fill="#7c2ecc"/>
<polyline points="28.5,180.4 29,180.4 29.5,180.4 30,180.4 30.5,180.4 31,180.4 31.5,180.4 32,180.4 32.5,180.4 33,180.4 33.5,180.4 34,180.4 34.5,180.4 35,180.4 35.5,180.4 36,180.4 36.5,180.4 37,180.4 37.5,180.4 38,180.4 38.5,180.4 39,180.4 39.5,180.4 40,180.4 40.5,180.4 41,180.4 41.5,180.4 42,180.4 42.5,180.4 43,180.4 43.5,180.4 44,180.4 44.5,180.4 45,180.4 45.5,180.4 46,180.4 46.5,180.4 47,180.4 47.5,180.4 48,180.4 48.5,180.4 49,180.4 49.5,180.4 50,180.4 50.5,180.4 51,180.4 51.5,180.4 52,180.4 52.5,180.4 53,180.4 53.5,180.4 54,180.4 54.5,180.4 55,180.4 55.5,180.4 56,180.4 56.5,180.4 57,180.4 57.5,180.4 58,180.4 58.5,180.4 59,180.28 59.5,180.09 60,179.91 60.5,179.74 61,179.56 61.5,179.4 62,179.24 62.5,179.08 63,178.92 63.5,178.77 64,178.63 64.5,178.48 65,178.35 65.5,178.21 66,178.08 66.5,177.95 67,177.83 67.5,177.71 68,177.59 68.5,177.48 69,177.37 69.5,177.27 70,177.17 70.5,177.07 71,176.97 71.5,176.88 72,176.79 72.5,176.71 73,176.63 73.5,176.55 74,176.48 74.5,176.41 75,176.34 75.5,176.28 76,176.22 76.5,176.16 77,176.11 77.5,176.06 78,176.01 78.5,175.97 79,175.93 79.5,175.89 80,175.86 80.5,175.83 81,175.8 81.5,175.78 82,175.76 82.5,175.74 83,175.73 83.5,175.71 84,175.71 84.5,175.7 85,175.7 85.5,175.7 86,175.71 86.5,175.71 87,175.72 87.5,175.74 88,175.75 88.5,175.77 89,175.79 89.5,175.82 90,175.85 90.5,175.88 91,175.91 91.5,175.95 92,175.99 92.5,176.03 93,176.07 93.5,176.12 94,176.17 94.5,176.23 95,176.28 95.5,176.34 96,176.4 96.5,176.47 97,176.53 97.5,176.6 98,176.67 98.5,176.75 99,176.82 99.5,176.9 100,176.98 100.5,177.07 101,177.15 101.5,177.24 102,177.33 102.5,177.42 103,177.52 103.5,177.61 104,177.71 104.5,177.81 105,177.92 105.5,178.02 106,178.13 106.5,178.23 107,178.34 107.5,178.46 108,178.57 108.5,178.68 109,178.8 109.5,178.91 110,179.03 110.5,179.15 111,179.27 111.5,179.39 112,179.51 112.5,179.63 113,179.75 113.5,179.87 114,179.98 114.5,180.1 115,180.21 115.5,180.31 116,180.4 116.5,180.4 117,180.4 117.5,180.4 118,180.4 118.5,180.4 119,180.4 119.5,180.4 120,180.4 120.5,180.4 121,180.4 121.5,180.4 122,180.4 122.5,180.4 123,180.4 123.5,180.4 124,180.4 124.5,180.4 125,180.4 125.5,180.4 126,180.4 126.5,180.4 127,180.4 127.5,180.4 128,180.4 128.5,180.4 129,180.4 129.5,180.4 130,180.4 130.5,180.4 131,180.4 131.5,180.4 132,180.4 132.5,180.4 133,180.4 133.5,180.4 134,180.4 134.5,180.4 135,180.4 135.5,180.4 136,180.4 136.5,180.4 137,180.4 137.5,180.4 138,180.4 138.5,180.4 139,180.4 139.5,180.4 140,180.4 140.5,180.4 141,180.4 141.5,180.4 142,180.4 142.5,180.4 143,180.4 143.5,180.4 144,180.4 144.5,180.4 145,180.4 145.5,180.4 146,180.4 146.5,180.4" fill="none" stroke="#4a2eb4" stroke-width="1.2"/>
<polyline points="28.5,180.4 29,180.4 29.5,180.4 30,180.4 30.5,180.4 31,180.4 31.5,180.4 32,180.4 32.5,180.4 33,180.4 33.5,180.4 34,180.4 34.5,180.4 35,180.4 35.5,180.4 36,180.4 36.5,180.4 37,180.4 37.5,180.4 38,180.4 38.5,180.4 39,180.4 39.5,180.4 40,180.4 40.5,180.4 41,180.4 41.5,180.4 42,180.4 42.5,180.4 43,180.4 43.5,180.4 44,180.4 44.5,180.4 45,180.4 45.5,180.4 46,180.4 46.5,180.4 47,180.4 47.5,180.4 48,180.4 48.5,180.4 49,180.4 49.5,180.4 50,180.4 50.5,180.4 51,180.4 51.5,180.4 52,180.4 52.5,180.4 53,180.4 53.5,180.4 54,180.4 54.5,180.4 55,180.4 55.5,180.4 56,180.4 56.5,180.4 57,180.4 57.5,180.4 58,180.4 58.5,180.4 59,180.8 59.5,181.17 60,181.46 60.5,181.7 61,181.92 61.5,182.12 62,182.3 62.5,182.47 63,182.62 63.5,182.77 64,182.91 64.5,183.03 65,183.15 65.5,183.27 66,183.37 66.5,183.47 67,183.57 67.5,183.66 68,183.74 68.5,183.82 69,183.89 69.5,183.96 70,184.03 70.5,184.09 71,184.15 71.5,184.2 72,184.25 72.5,184.29 73,184.34 73.5,184.38 74,184.41 74.5,184.44 75,184.47 75.5,184.5 76,184.52 76.5,184.54 77,184.56 77.5,184.57 78,184.58 78.5,184.59 79,184.6 79.5,184.6 80,184.6 80.5,184.6 81,184.59 81.5,184.59 82,184.58 82.5,184.57 83,184.55 83.5,184.54 84,184.52 84.5,184.5 85,184.48 85.5,184.45 86,184.43 86.5,184.4 87,184.37 87.5,184.34 88,184.3 88.5,184.27 89,184.23 89.5,184.19 90,184.15 90.5,184.1 91,184.06 91.5,184.01 92,183.96 92.5,183.91 93,183.86 93.5,183.81 94,183.75 94.5,183.7 95,183.64 95.5,183.58 96,183.52 96.5,183.46 97,183.39 97.5,183.33 98,183.26 98.5,183.19 99,183.13 99.5,183.06 100,182.98 100.5,182.91 101,182.84 101.5,182.76 102,182.69 102.5,182.61 103,182.53 103.5,182.46 104,182.38 104.5,182.3 105,182.21 105.5,182.13 106,182.05 106.5,181.97 107,181.88 107.5,181.8 108,181.71 108.5,181.63 109,181.54 109.5,181.46 110,181.37 110.5,181.28 111,181.2 111.5,181.11 112,181.02 112.5,180.94 113,180.85 113.5,180.77 114,180.69 114.5,180.61 115,180.53 115.5,180.46 116,180.4 116.5,180.4 117,180.4 117.5,180.4 118,180.4 118.5,180.4 119,180.4 119.5,180.4 120,180.4 120.5,180.4 121,180.4 121.5,180.4 122,180.4 122.5,180.4 123,180.4 123.5,180.4 124,180.4 124.5,180.4 125,180.4 125.5,180.4 126,180.4 126.5,180.4 127,180.4 127.5,180.4 128,180.4 128.5,180.4 129,180.4 129.5,180.4 130,180.4 130.5,180.4 131,180.4 131.5,180.4 132,180.4 132.5,180.4 133,180.4 133.5,180.4 134,180.4 134.5,180.4 135,180.4 135.5,180.4 136,180.4 136.5,180.4 137,180.4 137.5,180.4 138,180.4 138.5,180.4 139,180.4 139.5,180.4 140,180.4 140.5,180.4 141,180.4 141.5,180.4 142,180.4 142.5,180.4 143,180.4 143.5,180.4 144,180.4 144.5,180.4 145,180.4 145.5,180.4 146,180.4 146.5,180.4" fill="none" stroke="#4a2eb4" stroke-width="1.2"/>
<line x1="83" y1="180.4" x2="91.7" y2="180.4" stroke="#231f20" stroke-width="0.6" stroke-dasharray="1.8,1.2"/>
<path d="M92.6 176.24L97.6 173.84L97.6 178.64Z" fill="#4a2eb4"/>
<path d="M81.5 184.6L76.5 187L76.5 182.2Z" fill="#4a2eb4"/>
<polyline points="28.5,203 29,203 29.5,203 30,203 30.5,203 31,203 31.5,203 32,203 32.5,203 33,203 33.5,203 34,203 34.5,203 35,203 35.5,203 36,203 36.5,203 37,203 37.5,203 38,203 38.5,203 39,203 39.5,203 40,203 40.5,203 41,203 41.5,203 42,203 42.5,203 43,203 43.5,203 44,203 44.5,203 45,203 45.5,203 46,203 46.5,203 47,203 47.5,203 48,203 48.5,203 49,203 49.5,203 50,203 50.5,203 51,203 51.5,203 52,203 52.5,203 53,203 53.5,203 54,203 54.5,203 55,203 55.5,203 56,203 56.5,203 57,203 57.5,203 58,203 58.5,203 59,202.73 59.5,202.49 60,202.3 60.5,202.13 61,201.99 61.5,201.85 62,201.73 62.5,201.62 63,201.52 63.5,201.42 64,201.33 64.5,201.24 65,201.16 65.5,201.09 66,201.02 66.5,200.95 67,200.89 67.5,200.83 68,200.77 68.5,200.72 69,200.67 69.5,200.62 70,200.58 70.5,200.54 71,200.5 71.5,200.47 72,200.43 72.5,200.4 73,200.38 73.5,200.35 74,200.33 74.5,200.31 75,200.29 75.5,200.27 76,200.25 76.5,200.24 77,200.23 77.5,200.22 78,200.21 78.5,200.21 79,200.2 79.5,200.2 80,200.2 80.5,200.2 81,200.2 81.5,200.21 82,200.21 82.5,200.22 83,200.23 83.5,200.24 84,200.25 84.5,200.27 85,200.28 85.5,200.3 86,200.32 86.5,200.33 87,200.35 87.5,200.38 88,200.4 88.5,200.42 89,200.45 89.5,200.47 90,200.5 90.5,200.53 91,200.56 91.5,200.59 92,200.62 92.5,200.66 93,200.69 93.5,200.73 94,200.76 94.5,200.8 95,200.84 95.5,200.88 96,200.92 96.5,200.96 97,201 97.5,201.05 98,201.09 98.5,201.14 99,201.18 99.5,201.23 100,201.28 100.5,201.32 101,201.37 101.5,201.42 102,201.47 102.5,201.53 103,201.58 103.5,201.63 104,201.68 104.5,201.74 105,201.79 105.5,201.84 106,201.9 106.5,201.96 107,202.01 107.5,202.07 108,202.12 108.5,202.18 109,202.24 109.5,202.3 110,202.35 110.5,202.41 111,202.47 111.5,202.53 112,202.58 112.5,202.64 113,202.7 113.5,202.75 114,202.81 114.5,202.86 115,202.91 115.5,202.96 116,203 116.5,203 117,203 117.5,203 118,203 118.5,203 119,203 119.5,203 120,203 120.5,203 121,203 121.5,203 122,203 122.5,203 123,203 123.5,203 124,203 124.5,203 125,203 125.5,203 126,203 126.5,203 127,203 127.5,203 128,203 128.5,203 129,203 129.5,203 130,203 130.5,203 131,203 131.5,203 132,203 132.5,203 133,203 133.5,203 134,203 134.5,203 135,203 135.5,203 136,203 136.5,203 137,203 137.5,203 138,203 138.5,203 139,203 139.5,203 140,203 140.5,203 141,203 141.5,203 142,203 142.5,203 143,203 143.5,203 144,203 144.5,203 145,203 145.5,203 146,203 146.5,203" fill="none" stroke="#2a2aa8" stroke-width="1.2"/>
<polyline points="28.5,203 29,203 29.5,203 30,203 30.5,203 31,203 31.5,203 32,203 32.5,203 33,203 33.5,203 34,203 34.5,203 35,203 35.5,203 36,203 36.5,203 37,203 37.5,203 38,203 38.5,203 39,203 39.5,203 40,203 40.5,203 41,203 41.5,203 42,203 42.5,203 43,203 43.5,203 44,203 44.5,203 45,203 45.5,203 46,203 46.5,203 47,203 47.5,203 48,203 48.5,203 49,203 49.5,203 50,203 50.5,203 51,203 51.5,203 52,203 52.5,203 53,203 53.5,203 54,203 54.5,203 55,203 55.5,203 56,203 56.5,203 57,203 57.5,203 58,203 58.5,203 59,203 59.5,203.01 60,203.01 60.5,203.02 61,203.04 61.5,203.06 62,203.08 62.5,203.1 63,203.13 63.5,203.16 64,203.19 64.5,203.22 65,203.26 65.5,203.3 66,203.34 66.5,203.38 67,203.43 67.5,203.47 68,203.52 68.5,203.57 69,203.62 69.5,203.67 70,203.73 70.5,203.78 71,203.84 71.5,203.89 72,203.95 72.5,204.01 73,204.07 73.5,204.13 74,204.19 74.5,204.25 75,204.31 75.5,204.37 76,204.43 76.5,204.49 77,204.55 77.5,204.61 78,204.66 78.5,204.72 79,204.78 79.5,204.84 80,204.9 80.5,204.95 81,205.01 81.5,205.06 82,205.12 82.5,205.17 83,205.22 83.5,205.27 84,205.32 84.5,205.37 85,205.41 85.5,205.46 86,205.5 86.5,205.54 87,205.58 87.5,205.62 88,205.65 88.5,205.69 89,205.72 89.5,205.75 90,205.77 90.5,205.8 91,205.82 91.5,205.84 92,205.86 92.5,205.87 93,205.88 93.5,205.89 94,205.9 94.5,205.9 95,205.9 95.5,205.9 96,205.89 96.5,205.88 97,205.87 97.5,205.86 98,205.84 98.5,205.82 99,205.79 99.5,205.76 100,205.73 100.5,205.7 101,205.66 101.5,205.61 102,205.57 102.5,205.52 103,205.47 103.5,205.41 104,205.35 104.5,205.29 105,205.22 105.5,205.15 106,205.07 106.5,205 107,204.91 107.5,204.83 108,204.74 108.5,204.65 109,204.55 109.5,204.45 110,204.35 110.5,204.25 111,204.14 111.5,204.03 112,203.91 112.5,203.8 113,203.68 113.5,203.56 114,203.44 114.5,203.32 115,203.21 115.5,203.09 116,203 116.5,203 117,203 117.5,203 118,203 118.5,203 119,203 119.5,203 120,203 120.5,203 121,203 121.5,203 122,203 122.5,203 123,203 123.5,203 124,203 124.5,203 125,203 125.5,203 126,203 126.5,203 127,203 127.5,203 128,203 128.5,203 129,203 129.5,203 130,203 130.5,203 131,203 131.5,203 132,203 132.5,203 133,203 133.5,203 134,203 134.5,203 135,203 135.5,203 136,203 136.5,203 137,203 137.5,203 138,203 138.5,203 139,203 139.5,203 140,203 140.5,203 141,203 141.5,203 142,203 142.5,203 143,203 143.5,203 144,203 144.5,203 145,203 145.5,203 146,203 146.5,203" fill="none" stroke="#2a2aa8" stroke-width="1.2"/>
<line x1="83" y1="203" x2="91.7" y2="203" stroke="#231f20" stroke-width="0.6" stroke-dasharray="1.8,1.2"/>
<path d="M81.5 200.2L76.5 202.6L76.5 197.8Z" fill="#2a2aa8"/>
<path d="M94.3 205.89L99.3 203.49L99.3 208.29Z" fill="#2a2aa8"/>
<text x="37.95" y="42.35" font-size="10.5">30°</text>
<text x="37.1" y="73.65" font-size="10.5">15°</text>
<text x="37.1" y="97.15" font-size="10.5">10°</text>
<text x="39.95" y="122.1" font-size="10.5">7°</text>
<text x="40.7" y="145.05" font-size="10.5">3°</text>
<text x="36.1" y="169.2" font-size="10.5">0.9°</text>
<text x="36.05" y="191.5" font-size="10.5">0.1°</text>
<text x="40.5" y="214.3" font-size="10.5">0°</text>
<path d="M104.2 32.4 L110 30.0 L133 29.6 L142.6 35.8 L116.2 39.9 Z" fill="#d6d4f0" stroke="none" stroke-width="1"/>
<path d="M104.4 33.2 L116.2 40.8 L142.6 36.8" fill="none" stroke="#3b2c9c" stroke-width="1.9"/>
<line x1="116.6" y1="17.4" x2="116.6" y2="35.2" stroke="#231f20" stroke-width="0.75" stroke-dasharray="2.4,1.1"/>
<line x1="116.8" y1="35.4" x2="127.9" y2="19.4" stroke="#231f20" stroke-width="0.85"/>
<path d="M130 16.6L129.03 21.29L125.92 19.11Z" fill="#231f20"/>
<line x1="117.5" y1="35" x2="134.2" y2="33.4" stroke="#231f20" stroke-width="0.8" stroke-dasharray="2.4,1.2"/>
<path d="M121.6 29.2 Q128.6 27.2 128.4 34.0" fill="none" stroke="#231f20" stroke-width="0.8"/>
<text x="130.75" y="19.3" font-style="italic" font-size="7.8">B</text>
<text x="129.85" y="30.2" font-size="7.8">θ</text>
<text x="2.45" y="248.55" font-weight="bold">b</text>
<rect x="28.5" y="249.8" width="118.2" height="109.7" fill="none" stroke="#6d6466" stroke-width="1"/>
<line x1="28.5" y1="331.96" x2="32" y2="331.96" stroke="#6d6466" stroke-width="1"/>
<line x1="28.5" y1="304.72" x2="32" y2="304.72" stroke="#6d6466" stroke-width="1"/>
<line x1="28.5" y1="277.48" x2="32" y2="277.48" stroke="#6d6466" stroke-width="1"/>
<line x1="28.5" y1="250.24" x2="32" y2="250.24" stroke="#6d6466" stroke-width="1"/>
<line x1="43.25" y1="359.5" x2="43.25" y2="356.5" stroke="#6d6466" stroke-width="1"/>
<line x1="72.75" y1="359.5" x2="72.75" y2="356.5" stroke="#6d6466" stroke-width="1"/>
<line x1="102.25" y1="359.5" x2="102.25" y2="356.5" stroke="#6d6466" stroke-width="1"/>
<line x1="131.75" y1="359.5" x2="131.75" y2="356.5" stroke="#6d6466" stroke-width="1"/>
<text x="20.45" y="253.65">8</text>
<text x="20.4" y="281.05">6</text>
<text x="20.45" y="308.95">4</text>
<text x="20.4" y="336.2">2</text>
<text x="20.4" y="360.95">0</text>
<text x="37.9" y="371.1">42</text>
<text x="67.35" y="371.05">44</text>
<text x="96.95" y="371.05">46</text>
<text x="126.5" y="371.05">48</text>
<text x="75.9" y="382.3" font-size="11"><tspan font-style="italic">T</tspan> (K)</text>
<text transform="translate(16.2 332.5) rotate(-90)" font-size="11"><tspan font-style="italic">R</tspan><tspan font-size="8" dy="2.6">xx</tspan><tspan dy="-2.6"> (Ω)</tspan></text>
<text x="33.85" y="261.6" font-size="11">S2</text>
<rect x="36" y="304.4" width="4.4" height="4.3" fill="#b01838" stroke="none" stroke-width="1"/>
<rect x="36" y="308.59" width="4.4" height="4.3" fill="#e2502a" stroke="none" stroke-width="1"/>
<rect x="36" y="312.78" width="4.4" height="4.3" fill="#f2a424" stroke="none" stroke-width="1"/>
<rect x="36" y="316.97" width="4.4" height="4.3" fill="#72b044" stroke="none" stroke-width="1"/>
<rect x="36" y="321.16" width="4.4" height="4.3" fill="#32a2d8" stroke="none" stroke-width="1"/>
<rect x="36" y="325.35" width="4.4" height="4.3" fill="#2a7ac2" stroke="none" stroke-width="1"/>
<rect x="36" y="329.54" width="4.4" height="4.3" fill="#1c4f9e" stroke="none" stroke-width="1"/>
<text x="40.3" y="306.9" font-size="8">12</text>
<text x="41.3" y="336.5" font-size="8">0</text>
<text transform="translate(44.3 309.6) rotate(90)" font-size="8.4"><tspan font-style="italic">B</tspan> (T)</text>
<line x1="67.4" y1="294" x2="67.4" y2="359.5" stroke="#231f20" stroke-width="0.9" stroke-dasharray="2.6,1.6"/>
<polyline points="28.5,359.1 28.89,359.1 29.29,359.09 29.68,359.09 30.08,359.09 30.47,359.09 30.87,359.09 31.26,359.08 31.66,359.08 32.05,359.08 32.45,359.08 32.84,359.07 33.24,359.07 33.63,359.07 34.03,359.07 34.42,359.06 34.81,359.06 35.21,359.06 35.6,359.06 36,359.05 36.39,359.05 36.79,359.05 37.18,359.05 37.58,359.04 37.97,359.04 38.37,359.04 38.76,359.04 39.16,359.04 39.55,359.03 39.94,359.03 40.34,359.03 40.73,359.03 41.13,359.02 41.52,359.02 41.92,359.02 42.31,359.02 42.71,359.01 43.1,359.01 43.5,359.01 43.89,359.01 44.29,359 44.68,359 45.08,358.99 45.47,358.98 45.86,358.96 46.26,358.95 46.65,358.93 47.05,358.92 47.44,358.9 47.84,358.89 48.23,358.87 48.63,358.85 49.02,358.83 49.42,358.8 49.81,358.76 50.21,358.71 50.6,358.64 50.99,358.57 51.39,358.49 51.78,358.4 52.18,358.31 52.57,358.22 52.97,358.12 53.36,358.02 53.76,357.9 54.15,357.76 54.55,357.6 54.94,357.43 55.34,357.24 55.73,357.05 56.13,356.86 56.52,356.67 56.91,356.47 57.31,356.25 57.7,356.01 58.1,355.72 58.49,355.38 58.89,354.98 59.28,354.54 59.68,354.07 60.07,353.59 60.47,353.09 60.86,352.6 61.26,352.1 61.65,351.57 62.05,351.01 62.44,350.38 62.83,349.67 63.23,348.88 63.62,348.02 64.02,347.11 64.41,346.15 64.81,345.17 65.2,344.15 65.6,343.09 65.99,341.99 66.39,340.86 66.78,339.69 67.18,338.48 67.57,337.24 67.96,335.98 68.36,334.68 68.75,333.37 69.15,332.05 69.54,330.73 69.94,329.42 70.33,328.12 70.73,326.84 71.12,325.57 71.52,324.31 71.91,323.07 72.31,321.82 72.7,320.59 73.1,319.37 73.49,318.18 73.88,317.02 74.28,315.9 74.67,314.82 75.07,313.77 75.46,312.74 75.86,311.72 76.25,310.72 76.65,309.74 77.04,308.8 77.44,307.9 77.83,307.07 78.23,306.3 78.62,305.57 79.02,304.86 79.41,304.17 79.8,303.48 80.2,302.79 80.59,302.11 80.99,301.42 81.38,300.74 81.78,300.07 82.17,299.4 82.57,298.73 82.96,298.07 83.36,297.42 83.75,296.76 84.15,296.11 84.54,295.45 84.93,294.8 85.33,294.15 85.72,293.52 86.12,292.91 86.51,292.33 86.91,291.79 87.3,291.28 87.7,290.79 88.09,290.31 88.49,289.84 88.88,289.37 89.28,288.9 89.67,288.43 90.07,287.97 90.46,287.5 90.85,287.03 91.25,286.56 91.64,286.09 92.04,285.63 92.43,285.18 92.83,284.74 93.22,284.32 93.62,283.91 94.01,283.51 94.41,283.12 94.8,282.73 95.2,282.34 95.59,281.95 95.98,281.56 96.38,281.17 96.77,280.78 97.17,280.39 97.56,280 97.96,279.61 98.35,279.22 98.75,278.84 99.14,278.46 99.54,278.11 99.93,277.77 100.33,277.46 100.72,277.17 101.12,276.89 101.51,276.63 101.9,276.38 102.3,276.13 102.69,275.88 103.09,275.62 103.48,275.37 103.88,275.12 104.27,274.87 104.67,274.61 105.06,274.36 105.46,274.11 105.85,273.86 106.25,273.6 106.64,273.35 107.04,273.1 107.43,272.84 107.82,272.59 108.22,272.34 108.61,272.09 109.01,271.84 109.4,271.61 109.8,271.39 110.19,271.18 110.59,270.99 110.98,270.82 111.38,270.65 111.77,270.49 112.17,270.33 112.56,270.18 112.95,270.02 113.35,269.86 113.74,269.7 114.14,269.54 114.53,269.39 114.93,269.23 115.32,269.07 115.72,268.91 116.11,268.76 116.51,268.6 116.9,268.44 117.3,268.28 117.69,268.12 118.09,267.97 118.48,267.81 118.87,267.65 119.27,267.5 119.66,267.35 120.06,267.21 120.45,267.08 120.85,266.96 121.24,266.84 121.64,266.72 122.03,266.61 122.43,266.49 122.82,266.38 123.22,266.26 123.61,266.14 124.01,266.03 124.4,265.91 124.79,265.8 125.19,265.68 125.58,265.57 125.98,265.45 126.37,265.34 126.77,265.22 127.16,265.11 127.56,264.99 127.95,264.88 128.35,264.76 128.74,264.64 129.14,264.53 129.53,264.41 129.92,264.3 130.32,264.18 130.71,264.07 131.11,263.95 131.5,263.84 131.9,263.72 132.29,263.61 132.69,263.51 133.08,263.41 133.48,263.31 133.87,263.22 134.27,263.14 134.66,263.06 135.06,262.97 135.45,262.89 135.84,262.81 136.24,262.73 136.63,262.65 137.03,262.56 137.42,262.48 137.82,262.4 138.21,262.32 138.61,262.24 139,262.16 139.4,262.07 139.79,261.99 140.19,261.91 140.58,261.83 140.97,261.75 141.37,261.66 141.76,261.58 142.16,261.5 142.55,261.42 142.95,261.34 143.34,261.25 143.74,261.17 144.13,261.09 144.53,261.01 144.92,260.93 145.32,260.85 145.71,260.78 146.11,260.72 146.5,260.68" fill="none" stroke="#1c4f9e" stroke-width="1.1"/>
<polyline points="28.5,358.77 28.89,358.76 29.29,358.75 29.68,358.73 30.08,358.72 30.47,358.7 30.87,358.68 31.26,358.66 31.66,358.64 32.05,358.63 32.45,358.61 32.84,358.59 33.24,358.57 33.63,358.56 34.03,358.54 34.42,358.52 34.81,358.5 35.21,358.49 35.6,358.47 36,358.45 36.39,358.43 36.79,358.41 37.18,358.4 37.58,358.38 37.97,358.36 38.37,358.34 38.76,358.31 39.16,358.29 39.55,358.26 39.94,358.23 40.34,358.2 40.73,358.17 41.13,358.14 41.52,358.11 41.92,358.07 42.31,358.04 42.71,358.01 43.1,357.98 43.5,357.95 43.89,357.91 44.29,357.87 44.68,357.83 45.08,357.78 45.47,357.73 45.86,357.68 46.26,357.63 46.65,357.58 47.05,357.52 47.44,357.47 47.84,357.42 48.23,357.36 48.63,357.31 49.02,357.25 49.42,357.18 49.81,357.11 50.21,357.02 50.6,356.93 50.99,356.82 51.39,356.71 51.78,356.59 52.18,356.48 52.57,356.36 52.97,356.24 53.36,356.11 53.76,355.97 54.15,355.82 54.55,355.65 54.94,355.47 55.34,355.28 55.73,355.08 56.13,354.87 56.52,354.65 56.91,354.43 57.31,354.18 57.7,353.91 58.1,353.61 58.49,353.26 58.89,352.88 59.28,352.46 59.68,352.02 60.07,351.57 60.47,351.11 60.86,350.64 61.26,350.17 61.65,349.67 62.05,349.15 62.44,348.57 62.83,347.94 63.23,347.24 63.62,346.49 64.02,345.7 64.41,344.88 64.81,344.02 65.2,343.14 65.6,342.23 65.99,341.29 66.39,340.31 66.78,339.3 67.18,338.26 67.57,337.17 67.96,336.04 68.36,334.88 68.75,333.69 69.15,332.49 69.54,331.28 69.94,330.08 70.33,328.89 70.73,327.71 71.12,326.54 71.52,325.38 71.91,324.21 72.31,323.05 72.7,321.89 73.1,320.74 73.49,319.6 73.88,318.49 74.28,317.42 74.67,316.37 75.07,315.35 75.46,314.35 75.86,313.36 76.25,312.39 76.65,311.44 77.04,310.52 77.44,309.64 77.83,308.81 78.23,308.01 78.62,307.25 79.02,306.51 79.41,305.78 79.8,305.07 80.2,304.36 80.59,303.67 80.99,302.99 81.38,302.33 81.78,301.69 82.17,301.05 82.57,300.42 82.96,299.79 83.36,299.17 83.75,298.54 84.15,297.92 84.54,297.3 84.93,296.67 85.33,296.05 85.72,295.45 86.12,294.86 86.51,294.29 86.91,293.74 87.3,293.22 87.7,292.71 88.09,292.21 88.49,291.72 88.88,291.23 89.28,290.74 89.67,290.25 90.07,289.76 90.46,289.27 90.85,288.78 91.25,288.29 91.64,287.81 92.04,287.34 92.43,286.87 92.83,286.42 93.22,285.98 93.62,285.55 94.01,285.12 94.41,284.71 94.8,284.29 95.2,283.88 95.59,283.46 95.98,283.05 96.38,282.64 96.77,282.23 97.17,281.82 97.56,281.42 97.96,281.03 98.35,280.64 98.75,280.26 99.14,279.89 99.54,279.53 99.93,279.18 100.33,278.86 100.72,278.55 101.12,278.26 101.51,277.97 101.9,277.69 102.3,277.41 102.69,277.13 103.09,276.85 103.48,276.58 103.88,276.3 104.27,276.03 104.67,275.76 105.06,275.49 105.46,275.23 105.85,274.97 106.25,274.7 106.64,274.44 107.04,274.17 107.43,273.91 107.82,273.65 108.22,273.38 108.61,273.12 109.01,272.86 109.4,272.62 109.8,272.38 110.19,272.16 110.59,271.96 110.98,271.77 111.38,271.59 111.77,271.42 112.17,271.25 112.56,271.07 112.95,270.9 113.35,270.73 113.74,270.56 114.14,270.38 114.53,270.21 114.93,270.04 115.32,269.87 115.72,269.7 116.11,269.52 116.51,269.35 116.9,269.18 117.3,269.01 117.69,268.83 118.09,268.66 118.48,268.49 118.87,268.32 119.27,268.15 119.66,268 120.06,267.84 120.45,267.7 120.85,267.57 121.24,267.44 121.64,267.31 122.03,267.19 122.43,267.07 122.82,266.94 123.22,266.82 123.61,266.7 124.01,266.57 124.4,266.45 124.79,266.33 125.19,266.21 125.58,266.08 125.98,265.96 126.37,265.84 126.77,265.71 127.16,265.59 127.56,265.47 127.95,265.34 128.35,265.22 128.74,265.1 129.14,264.97 129.53,264.85 129.92,264.73 130.32,264.6 130.71,264.48 131.11,264.36 131.5,264.23 131.9,264.11 132.29,263.99 132.69,263.88 133.08,263.78 133.48,263.68 133.87,263.58 134.27,263.49 134.66,263.41 135.06,263.32 135.45,263.24 135.84,263.15 136.24,263.07 136.63,262.98 137.03,262.9 137.42,262.81 137.82,262.73 138.21,262.64 138.61,262.56 139,262.47 139.4,262.39 139.79,262.3 140.19,262.22 140.58,262.13 140.97,262.05 141.37,261.96 141.76,261.88 142.16,261.79 142.55,261.71 142.95,261.62 143.34,261.54 143.74,261.46 144.13,261.37 144.53,261.29 144.92,261.2 145.32,261.12 145.71,261.04 146.11,260.99 146.5,260.95" fill="none" stroke="#2a7ac2" stroke-width="1.1"/>
<polyline points="28.5,358.55 28.89,358.53 29.29,358.51 29.68,358.49 30.08,358.46 30.47,358.43 30.87,358.4 31.26,358.38 31.66,358.35 32.05,358.32 32.45,358.29 32.84,358.26 33.24,358.23 33.63,358.21 34.03,358.18 34.42,358.15 34.81,358.12 35.21,358.09 35.6,358.07 36,358.04 36.39,358.01 36.79,357.98 37.18,357.95 37.58,357.92 37.97,357.89 38.37,357.86 38.76,357.82 39.16,357.78 39.55,357.73 39.94,357.69 40.34,357.64 40.73,357.59 41.13,357.53 41.52,357.48 41.92,357.43 42.31,357.38 42.71,357.33 43.1,357.28 43.5,357.22 43.89,357.16 44.29,357.1 44.68,357.03 45.08,356.96 45.47,356.88 45.86,356.81 46.26,356.73 46.65,356.65 47.05,356.57 47.44,356.49 47.84,356.41 48.23,356.34 48.63,356.26 49.02,356.17 49.42,356.08 49.81,355.98 50.21,355.87 50.6,355.75 50.99,355.63 51.39,355.5 51.78,355.36 52.18,355.23 52.57,355.09 52.97,354.95 53.36,354.81 53.76,354.65 54.15,354.49 54.55,354.32 54.94,354.13 55.34,353.94 55.73,353.73 56.13,353.51 56.52,353.28 56.91,353.03 57.31,352.77 57.7,352.48 58.1,352.17 58.49,351.82 58.89,351.45 59.28,351.05 59.68,350.63 60.07,350.19 60.47,349.75 60.86,349.3 61.26,348.85 61.65,348.37 62.05,347.88 62.44,347.34 62.83,346.76 63.23,346.13 63.62,345.45 64.02,344.74 64.41,344 64.81,343.24 65.2,342.45 65.6,341.64 65.99,340.81 66.39,339.94 66.78,339.05 67.18,338.11 67.57,337.12 67.96,336.09 68.36,335.01 68.75,333.91 69.15,332.79 69.54,331.66 69.94,330.54 70.33,329.42 70.73,328.31 71.12,327.21 71.52,326.1 71.91,325 72.31,323.88 72.7,322.77 73.1,321.67 73.49,320.58 73.88,319.5 74.28,318.45 74.67,317.43 75.07,316.43 75.46,315.45 75.86,314.48 76.25,313.53 76.65,312.6 77.04,311.7 77.44,310.83 77.83,309.99 78.23,309.18 78.62,308.4 79.02,307.63 79.41,306.88 79.8,306.15 80.2,305.43 80.59,304.73 80.99,304.06 81.38,303.42 81.78,302.79 82.17,302.18 82.57,301.57 82.96,300.96 83.36,300.36 83.75,299.76 84.15,299.16 84.54,298.55 84.93,297.95 85.33,297.35 85.72,296.76 86.12,296.18 86.51,295.62 86.91,295.07 87.3,294.54 87.7,294.02 88.09,293.51 88.49,293.01 88.88,292.5 89.28,291.99 89.67,291.48 90.07,290.98 90.46,290.47 90.85,289.97 91.25,289.47 91.64,288.98 92.04,288.5 92.43,288.02 92.83,287.56 93.22,287.11 93.62,286.66 94.01,286.23 94.41,285.79 94.8,285.36 95.2,284.93 95.59,284.5 95.98,284.06 96.38,283.63 96.77,283.21 97.17,282.79 97.56,282.39 97.96,281.99 98.35,281.6 98.75,281.22 99.14,280.85 99.54,280.49 99.93,280.15 100.33,279.82 100.72,279.5 101.12,279.19 101.51,278.88 101.9,278.58 102.3,278.28 102.69,277.99 103.09,277.69 103.48,277.4 103.88,277.11 104.27,276.82 104.67,276.54 105.06,276.27 105.46,275.99 105.85,275.72 106.25,275.45 106.64,275.18 107.04,274.91 107.43,274.64 107.82,274.36 108.22,274.09 108.61,273.82 109.01,273.56 109.4,273.3 109.8,273.06 110.19,272.83 110.59,272.62 110.98,272.42 111.38,272.23 111.77,272.05 112.17,271.87 112.56,271.69 112.95,271.5 113.35,271.32 113.74,271.14 114.14,270.96 114.53,270.78 114.93,270.59 115.32,270.41 115.72,270.23 116.11,270.05 116.51,269.86 116.9,269.68 117.3,269.5 117.69,269.32 118.09,269.14 118.48,268.95 118.87,268.78 119.27,268.6 119.66,268.43 120.06,268.27 120.45,268.12 120.85,267.98 121.24,267.85 121.64,267.72 122.03,267.59 122.43,267.46 122.82,267.33 123.22,267.2 123.61,267.08 124.01,266.95 124.4,266.82 124.79,266.69 125.19,266.56 125.58,266.43 125.98,266.3 126.37,266.17 126.77,266.05 127.16,265.92 127.56,265.79 127.95,265.66 128.35,265.53 128.74,265.4 129.14,265.27 129.53,265.15 129.92,265.02 130.32,264.89 130.71,264.76 131.11,264.63 131.5,264.5 131.9,264.38 132.29,264.25 132.69,264.14 133.08,264.03 133.48,263.92 133.87,263.83 134.27,263.74 134.66,263.65 135.06,263.56 135.45,263.47 135.84,263.39 136.24,263.3 136.63,263.21 137.03,263.13 137.42,263.04 137.82,262.95 138.21,262.87 138.61,262.78 139,262.69 139.4,262.6 139.79,262.52 140.19,262.43 140.58,262.34 140.97,262.26 141.37,262.17 141.76,262.08 142.16,262 142.55,261.91 142.95,261.82 143.34,261.73 143.74,261.65 144.13,261.56 144.53,261.47 144.92,261.39 145.32,261.3 145.71,261.23 146.11,261.17 146.5,261.13" fill="none" stroke="#32a2d8" stroke-width="1.1"/>
<polyline points="28.5,358.35 28.89,358.33 29.29,358.31 29.68,358.27 30.08,358.24 30.47,358.2 30.87,358.16 31.26,358.12 31.66,358.09 32.05,358.05 32.45,358.01 32.84,357.97 33.24,357.94 33.63,357.9 34.03,357.86 34.42,357.83 34.81,357.79 35.21,357.75 35.6,357.71 36,357.68 36.39,357.64 36.79,357.6 37.18,357.56 37.58,357.52 37.97,357.48 38.37,357.44 38.76,357.39 39.16,357.33 39.55,357.27 39.94,357.21 40.34,357.14 40.73,357.07 41.13,357 41.52,356.94 41.92,356.87 42.31,356.8 42.71,356.73 43.1,356.66 43.5,356.58 43.89,356.51 44.29,356.42 44.68,356.33 45.08,356.24 45.47,356.14 45.86,356.04 46.26,355.94 46.65,355.84 47.05,355.74 47.44,355.64 47.84,355.54 48.23,355.43 48.63,355.33 49.02,355.22 49.42,355.11 49.81,354.99 50.21,354.86 50.6,354.72 50.99,354.58 51.39,354.43 51.78,354.28 52.18,354.13 52.57,353.98 52.97,353.82 53.36,353.66 53.76,353.5 54.15,353.33 54.55,353.15 54.94,352.96 55.34,352.76 55.73,352.55 56.13,352.32 56.52,352.08 56.91,351.81 57.31,351.53 57.7,351.23 58.1,350.9 58.49,350.56 58.89,350.19 59.28,349.8 59.68,349.4 60.07,348.99 60.47,348.56 60.86,348.13 61.26,347.69 61.65,347.24 62.05,346.76 62.44,346.26 62.83,345.72 63.23,345.15 63.62,344.54 64.02,343.9 64.41,343.24 64.81,342.55 65.2,341.85 65.6,341.13 65.99,340.39 66.39,339.62 66.78,338.82 67.18,337.97 67.57,337.08 67.96,336.13 68.36,335.13 68.75,334.1 69.15,333.05 69.54,331.99 69.94,330.94 70.33,329.89 70.73,328.84 71.12,327.79 71.52,326.74 71.91,325.68 72.31,324.62 72.7,323.55 73.1,322.49 73.49,321.43 73.88,320.39 74.28,319.36 74.67,318.36 75.07,317.37 75.46,316.41 75.86,315.46 76.25,314.53 76.65,313.62 77.04,312.73 77.44,311.86 77.83,311.03 78.23,310.21 78.62,309.41 79.02,308.62 79.41,307.85 79.8,307.09 80.2,306.36 80.59,305.67 80.99,305 81.38,304.37 81.78,303.76 82.17,303.16 82.57,302.58 82.96,301.99 83.36,301.41 83.75,300.82 84.15,300.24 84.54,299.66 84.93,299.07 85.33,298.49 85.72,297.91 86.12,297.35 86.51,296.79 86.91,296.24 87.3,295.7 87.7,295.18 88.09,294.65 88.49,294.13 88.88,293.61 89.28,293.09 89.67,292.57 90.07,292.05 90.46,291.53 90.85,291.01 91.25,290.5 91.64,290 92.04,289.51 92.43,289.03 92.83,288.56 93.22,288.1 93.62,287.64 94.01,287.19 94.41,286.74 94.8,286.3 95.2,285.85 95.59,285.4 95.98,284.95 96.38,284.51 96.77,284.07 97.17,283.65 97.56,283.23 97.96,282.83 98.35,282.45 98.75,282.07 99.14,281.7 99.54,281.34 99.93,280.99 100.33,280.65 100.72,280.32 101.12,280 101.51,279.68 101.9,279.37 102.3,279.05 102.69,278.74 103.09,278.42 103.48,278.12 103.88,277.81 104.27,277.52 104.67,277.23 105.06,276.95 105.46,276.66 105.85,276.39 106.25,276.11 106.64,275.83 107.04,275.55 107.43,275.27 107.82,274.99 108.22,274.72 108.61,274.44 109.01,274.17 109.4,273.9 109.8,273.65 110.19,273.42 110.59,273.2 110.98,272.99 111.38,272.8 111.77,272.6 112.17,272.41 112.56,272.22 112.95,272.03 113.35,271.84 113.74,271.65 114.14,271.46 114.53,271.27 114.93,271.08 115.32,270.89 115.72,270.7 116.11,270.51 116.51,270.32 116.9,270.12 117.3,269.93 117.69,269.74 118.09,269.55 118.48,269.36 118.87,269.17 119.27,268.99 119.66,268.82 120.06,268.65 120.45,268.49 120.85,268.35 121.24,268.21 121.64,268.07 122.03,267.94 122.43,267.81 122.82,267.67 123.22,267.54 123.61,267.41 124.01,267.27 124.4,267.14 124.79,267.01 125.19,266.87 125.58,266.74 125.98,266.61 126.37,266.47 126.77,266.34 127.16,266.21 127.56,266.07 127.95,265.94 128.35,265.81 128.74,265.67 129.14,265.54 129.53,265.41 129.92,265.27 130.32,265.14 130.71,265.01 131.11,264.87 131.5,264.74 131.9,264.61 132.29,264.48 132.69,264.36 133.08,264.25 133.48,264.14 133.87,264.04 134.27,263.95 134.66,263.86 135.06,263.77 135.45,263.68 135.84,263.59 136.24,263.5 136.63,263.41 137.03,263.33 137.42,263.24 137.82,263.15 138.21,263.06 138.61,262.97 139,262.88 139.4,262.79 139.79,262.7 140.19,262.62 140.58,262.53 140.97,262.44 141.37,262.35 141.76,262.26 142.16,262.17 142.55,262.08 142.95,261.99 143.34,261.91 143.74,261.82 144.13,261.73 144.53,261.64 144.92,261.55 145.32,261.46 145.71,261.39 146.11,261.33 146.5,261.28" fill="none" stroke="#72b044" stroke-width="1.1"/>
<polyline points="28.5,358.17 28.89,358.15 29.29,358.12 29.68,358.08 30.08,358.03 30.47,357.99 30.87,357.94 31.26,357.89 31.66,357.85 32.05,357.8 32.45,357.76 32.84,357.71 33.24,357.66 33.63,357.62 34.03,357.57 34.42,357.53 34.81,357.48 35.21,357.44 35.6,357.39 36,357.34 36.39,357.3 36.79,357.25 37.18,357.21 37.58,357.16 37.97,357.11 38.37,357.05 38.76,356.99 39.16,356.92 39.55,356.85 39.94,356.77 40.34,356.69 40.73,356.6 41.13,356.52 41.52,356.43 41.92,356.35 42.31,356.26 42.71,356.18 43.1,356.09 43.5,356 43.89,355.9 44.29,355.8 44.68,355.69 45.08,355.58 45.47,355.46 45.86,355.34 46.26,355.22 46.65,355.09 47.05,354.97 47.44,354.85 47.84,354.73 48.23,354.61 48.63,354.48 49.02,354.36 49.42,354.22 49.81,354.08 50.21,353.94 50.6,353.78 50.99,353.62 51.39,353.46 51.78,353.29 52.18,353.12 52.57,352.96 52.97,352.79 53.36,352.62 53.76,352.44 54.15,352.26 54.55,352.08 54.94,351.88 55.34,351.68 55.73,351.46 56.13,351.23 56.52,350.97 56.91,350.69 57.31,350.39 57.7,350.08 58.1,349.75 58.49,349.4 58.89,349.04 59.28,348.66 59.68,348.28 60.07,347.88 60.47,347.47 60.86,347.06 61.26,346.63 61.65,346.19 62.05,345.74 62.44,345.27 62.83,344.77 63.23,344.25 63.62,343.7 64.02,343.13 64.41,342.54 64.81,341.92 65.2,341.3 65.6,340.66 65.99,340 66.39,339.32 66.78,338.61 67.18,337.85 67.57,337.04 67.96,336.16 68.36,335.24 68.75,334.28 69.15,333.29 69.54,332.3 69.94,331.3 70.33,330.31 70.73,329.32 71.12,328.33 71.52,327.32 71.91,326.31 72.31,325.29 72.7,324.26 73.1,323.24 73.49,322.21 73.88,321.2 74.28,320.2 74.67,319.21 75.07,318.24 75.46,317.29 75.86,316.36 76.25,315.45 76.65,314.55 77.04,313.68 77.44,312.82 77.83,311.98 78.23,311.15 78.62,310.33 79.02,309.53 79.41,308.73 79.8,307.96 80.2,307.22 80.59,306.52 80.99,305.86 81.38,305.24 81.78,304.65 82.17,304.07 82.57,303.5 82.96,302.93 83.36,302.37 83.75,301.8 84.15,301.23 84.54,300.67 84.93,300.1 85.33,299.54 85.72,298.97 86.12,298.41 86.51,297.86 86.91,297.31 87.3,296.77 87.7,296.23 88.09,295.7 88.49,295.16 88.88,294.63 89.28,294.09 89.67,293.56 90.07,293.03 90.46,292.5 90.85,291.97 91.25,291.45 91.64,290.94 92.04,290.45 92.43,289.96 92.83,289.48 93.22,289.01 93.62,288.54 94.01,288.08 94.41,287.62 94.8,287.15 95.2,286.69 95.59,286.23 95.98,285.77 96.38,285.32 96.77,284.87 97.17,284.43 97.56,284.01 97.96,283.61 98.35,283.22 98.75,282.85 99.14,282.48 99.54,282.12 99.93,281.77 100.33,281.42 100.72,281.08 101.12,280.75 101.51,280.42 101.9,280.09 102.3,279.75 102.69,279.43 103.09,279.1 103.48,278.78 103.88,278.46 104.27,278.16 104.67,277.86 105.06,277.57 105.46,277.28 105.85,277 106.25,276.71 106.64,276.43 107.04,276.14 107.43,275.86 107.82,275.57 108.22,275.29 108.61,275.01 109.01,274.73 109.4,274.46 109.8,274.2 110.19,273.96 110.59,273.73 110.98,273.52 111.38,273.31 111.77,273.11 112.17,272.91 112.56,272.72 112.95,272.52 113.35,272.32 113.74,272.12 114.14,271.92 114.53,271.72 114.93,271.52 115.32,271.32 115.72,271.13 116.11,270.93 116.51,270.73 116.9,270.53 117.3,270.33 117.69,270.13 118.09,269.93 118.48,269.74 118.87,269.54 119.27,269.35 119.66,269.17 120.06,269 120.45,268.83 120.85,268.68 121.24,268.54 121.64,268.4 122.03,268.26 122.43,268.12 122.82,267.99 123.22,267.85 123.61,267.71 124.01,267.57 124.4,267.43 124.79,267.3 125.19,267.16 125.58,267.02 125.98,266.88 126.37,266.75 126.77,266.61 127.16,266.47 127.56,266.33 127.95,266.2 128.35,266.06 128.74,265.92 129.14,265.78 129.53,265.64 129.92,265.51 130.32,265.37 130.71,265.23 131.11,265.09 131.5,264.96 131.9,264.82 132.29,264.69 132.69,264.56 133.08,264.45 133.48,264.34 133.87,264.24 134.27,264.14 134.66,264.05 135.06,263.96 135.45,263.87 135.84,263.78 136.24,263.69 136.63,263.6 137.03,263.51 137.42,263.42 137.82,263.33 138.21,263.24 138.61,263.15 139,263.06 139.4,262.97 139.79,262.88 140.19,262.79 140.58,262.69 140.97,262.6 141.37,262.51 141.76,262.42 142.16,262.33 142.55,262.24 142.95,262.15 143.34,262.06 143.74,261.97 144.13,261.88 144.53,261.79 144.92,261.7 145.32,261.61 145.71,261.53 146.11,261.47 146.5,261.43" fill="none" stroke="#f2a424" stroke-width="1.1"/>
<polyline points="28.5,358 28.89,357.97 29.29,357.94 29.68,357.89 30.08,357.84 30.47,357.78 30.87,357.73 31.26,357.68 31.66,357.62 32.05,357.57 32.45,357.52 32.84,357.46 33.24,357.41 33.63,357.35 34.03,357.3 34.42,357.25 34.81,357.19 35.21,357.14 35.6,357.09 36,357.03 36.39,356.98 36.79,356.92 37.18,356.87 37.58,356.81 37.97,356.76 38.37,356.69 38.76,356.62 39.16,356.54 39.55,356.45 39.94,356.36 40.34,356.26 40.73,356.16 41.13,356.06 41.52,355.96 41.92,355.86 42.31,355.76 42.71,355.66 43.1,355.56 43.5,355.45 43.89,355.34 44.29,355.22 44.68,355.09 45.08,354.95 45.47,354.82 45.86,354.68 46.26,354.54 46.65,354.39 47.05,354.25 47.44,354.11 47.84,353.97 48.23,353.83 48.63,353.69 49.02,353.54 49.42,353.39 49.81,353.23 50.21,353.07 50.6,352.89 50.99,352.72 51.39,352.54 51.78,352.36 52.18,352.18 52.57,352 52.97,351.82 53.36,351.63 53.76,351.45 54.15,351.26 54.55,351.07 54.94,350.87 55.34,350.67 55.73,350.44 56.13,350.2 56.52,349.93 56.91,349.64 57.31,349.33 57.7,349 58.1,348.66 58.49,348.31 58.89,347.95 59.28,347.59 59.68,347.22 60.07,346.84 60.47,346.45 60.86,346.05 61.26,345.64 61.65,345.21 62.05,344.78 62.44,344.34 62.83,343.88 63.23,343.4 63.62,342.91 64.02,342.4 64.41,341.88 64.81,341.33 65.2,340.78 65.6,340.21 65.99,339.64 66.39,339.04 66.78,338.41 67.18,337.74 67.57,337 67.96,336.2 68.36,335.34 68.75,334.44 69.15,333.52 69.54,332.58 69.94,331.65 70.33,330.71 70.73,329.77 71.12,328.83 71.52,327.87 71.91,326.9 72.31,325.92 72.7,324.93 73.1,323.94 73.49,322.95 73.88,321.96 74.28,320.98 74.67,320.01 75.07,319.06 75.46,318.12 75.86,317.21 76.25,316.31 76.65,315.43 77.04,314.57 77.44,313.71 77.83,312.87 78.23,312.03 78.62,311.2 79.02,310.38 79.41,309.57 79.8,308.78 80.2,308.03 80.59,307.33 80.99,306.67 81.38,306.06 81.78,305.48 82.17,304.92 82.57,304.37 82.96,303.82 83.36,303.27 83.75,302.72 84.15,302.17 84.54,301.62 84.93,301.07 85.33,300.52 85.72,299.97 86.12,299.42 86.51,298.87 86.91,298.32 87.3,297.77 87.7,297.22 88.09,296.68 88.49,296.13 88.88,295.59 89.28,295.04 89.67,294.49 90.07,293.95 90.46,293.41 90.85,292.87 91.25,292.34 91.64,291.83 92.04,291.32 92.43,290.83 92.83,290.34 93.22,289.86 93.62,289.39 94.01,288.91 94.41,288.44 94.8,287.96 95.2,287.49 95.59,287.01 95.98,286.54 96.38,286.07 96.77,285.61 97.17,285.17 97.56,284.74 97.96,284.34 98.35,283.95 98.75,283.58 99.14,283.21 99.54,282.86 99.93,282.5 100.33,282.15 100.72,281.8 101.12,281.45 101.51,281.11 101.9,280.76 102.3,280.42 102.69,280.07 103.09,279.73 103.48,279.4 103.88,279.07 104.27,278.76 104.67,278.45 105.06,278.15 105.46,277.86 105.85,277.57 106.25,277.28 106.64,276.99 107.04,276.7 107.43,276.41 107.82,276.12 108.22,275.83 108.61,275.54 109.01,275.25 109.4,274.98 109.8,274.71 110.19,274.47 110.59,274.23 110.98,274.01 111.38,273.8 111.77,273.59 112.17,273.38 112.56,273.18 112.95,272.97 113.35,272.77 113.74,272.56 114.14,272.35 114.53,272.15 114.93,271.94 115.32,271.74 115.72,271.53 116.11,271.32 116.51,271.12 116.9,270.91 117.3,270.71 117.69,270.5 118.09,270.29 118.48,270.09 118.87,269.88 119.27,269.69 119.66,269.5 120.06,269.32 120.45,269.15 120.85,269 121.24,268.85 121.64,268.7 122.03,268.56 122.43,268.42 122.82,268.28 123.22,268.14 123.61,268 124.01,267.85 124.4,267.71 124.79,267.57 125.19,267.43 125.58,267.29 125.98,267.14 126.37,267 126.77,266.86 127.16,266.72 127.56,266.58 127.95,266.44 128.35,266.29 128.74,266.15 129.14,266.01 129.53,265.87 129.92,265.73 130.32,265.58 130.71,265.44 131.11,265.3 131.5,265.16 131.9,265.02 132.29,264.89 132.69,264.76 133.08,264.64 133.48,264.53 133.87,264.42 134.27,264.33 134.66,264.23 135.06,264.14 135.45,264.05 135.84,263.96 136.24,263.87 136.63,263.77 137.03,263.68 137.42,263.59 137.82,263.5 138.21,263.41 138.61,263.31 139,263.22 139.4,263.13 139.79,263.04 140.19,262.95 140.58,262.85 140.97,262.76 141.37,262.67 141.76,262.58 142.16,262.48 142.55,262.39 142.95,262.3 143.34,262.21 143.74,262.12 144.13,262.02 144.53,261.93 144.92,261.84 145.32,261.75 145.71,261.67 146.11,261.61 146.5,261.56" fill="none" stroke="#e2502a" stroke-width="1.1"/>
<polyline points="28.5,357.84 28.89,357.81 29.29,357.77 29.68,357.71 30.08,357.65 30.47,357.59 30.87,357.53 31.26,357.47 31.66,357.41 32.05,357.35 32.45,357.29 32.84,357.23 33.24,357.16 33.63,357.1 34.03,357.04 34.42,356.98 34.81,356.92 35.21,356.86 35.6,356.8 36,356.74 36.39,356.67 36.79,356.61 37.18,356.55 37.58,356.49 37.97,356.42 38.37,356.35 38.76,356.27 39.16,356.17 39.55,356.07 39.94,355.97 40.34,355.86 40.73,355.74 41.13,355.63 41.52,355.51 41.92,355.4 42.31,355.29 42.71,355.17 43.1,355.05 43.5,354.93 43.89,354.8 44.29,354.66 44.68,354.52 45.08,354.36 45.47,354.21 45.86,354.05 46.26,353.89 46.65,353.73 47.05,353.57 47.44,353.41 47.84,353.25 48.23,353.09 48.63,352.93 49.02,352.77 49.42,352.6 49.81,352.42 50.21,352.24 50.6,352.05 50.99,351.86 51.39,351.67 51.78,351.47 52.18,351.28 52.57,351.09 52.97,350.89 53.36,350.7 53.76,350.5 54.15,350.31 54.55,350.11 54.94,349.91 55.34,349.7 55.73,349.48 56.13,349.22 56.52,348.94 56.91,348.64 57.31,348.31 57.7,347.97 58.1,347.62 58.49,347.27 58.89,346.92 59.28,346.57 59.68,346.22 60.07,345.85 60.47,345.48 60.86,345.09 61.26,344.69 61.65,344.28 62.05,343.87 62.44,343.45 62.83,343.03 63.23,342.6 63.62,342.16 64.02,341.72 64.41,341.25 64.81,340.77 65.2,340.29 65.6,339.79 65.99,339.29 66.39,338.78 66.78,338.23 67.18,337.63 67.57,336.97 67.96,336.23 68.36,335.43 68.75,334.6 69.15,333.73 69.54,332.85 69.94,331.98 70.33,331.09 70.73,330.2 71.12,329.31 71.52,328.39 71.91,327.46 72.31,326.52 72.7,325.57 73.1,324.61 73.49,323.65 73.88,322.68 74.28,321.72 74.67,320.77 75.07,319.83 75.46,318.91 75.86,318.01 76.25,317.13 76.65,316.27 77.04,315.41 77.44,314.56 77.83,313.72 78.23,312.87 78.62,312.03 79.02,311.18 79.41,310.36 79.8,309.56 80.2,308.8 80.59,308.09 80.99,307.44 81.38,306.84 81.78,306.28 82.17,305.73 82.57,305.2 82.96,304.66 83.36,304.13 83.75,303.59 84.15,303.06 84.54,302.52 84.93,301.99 85.33,301.45 85.72,300.91 86.12,300.37 86.51,299.82 86.91,299.28 87.3,298.72 87.7,298.17 88.09,297.61 88.49,297.05 88.88,296.5 89.28,295.94 89.67,295.38 90.07,294.83 90.46,294.27 90.85,293.73 91.25,293.19 91.64,292.67 92.04,292.16 92.43,291.66 92.83,291.16 93.22,290.68 93.62,290.19 94.01,289.7 94.41,289.22 94.8,288.73 95.2,288.24 95.59,287.76 95.98,287.27 96.38,286.79 96.77,286.32 97.17,285.87 97.56,285.44 97.96,285.03 98.35,284.64 98.75,284.27 99.14,283.91 99.54,283.55 99.93,283.19 100.33,282.83 100.72,282.48 101.12,282.12 101.51,281.76 101.9,281.4 102.3,281.04 102.69,280.69 103.09,280.33 103.48,279.99 103.88,279.65 104.27,279.33 104.67,279.01 105.06,278.71 105.46,278.41 105.85,278.11 106.25,277.82 106.64,277.52 107.04,277.22 107.43,276.93 107.82,276.63 108.22,276.34 108.61,276.04 109.01,275.75 109.4,275.47 109.8,275.2 110.19,274.95 110.59,274.71 110.98,274.48 111.38,274.26 111.77,274.04 112.17,273.83 112.56,273.62 112.95,273.4 113.35,273.19 113.74,272.98 114.14,272.77 114.53,272.55 114.93,272.34 115.32,272.13 115.72,271.91 116.11,271.7 116.51,271.49 116.9,271.27 117.3,271.06 117.69,270.85 118.09,270.63 118.48,270.42 118.87,270.21 119.27,270.01 119.66,269.81 120.06,269.63 120.45,269.46 120.85,269.3 121.24,269.14 121.64,269 122.03,268.85 122.43,268.7 122.82,268.56 123.22,268.41 123.61,268.27 124.01,268.12 124.4,267.98 124.79,267.83 125.19,267.68 125.58,267.54 125.98,267.39 126.37,267.25 126.77,267.1 127.16,266.96 127.56,266.81 127.95,266.66 128.35,266.52 128.74,266.37 129.14,266.23 129.53,266.08 129.92,265.94 130.32,265.79 130.71,265.64 131.11,265.5 131.5,265.35 131.9,265.21 132.29,265.07 132.69,264.94 133.08,264.82 133.48,264.71 133.87,264.6 134.27,264.5 134.66,264.41 135.06,264.31 135.45,264.22 135.84,264.13 136.24,264.03 136.63,263.94 137.03,263.85 137.42,263.75 137.82,263.66 138.21,263.56 138.61,263.47 139,263.38 139.4,263.28 139.79,263.19 140.19,263.1 140.58,263 140.97,262.91 141.37,262.82 141.76,262.72 142.16,262.63 142.55,262.54 142.95,262.44 143.34,262.35 143.74,262.25 144.13,262.16 144.53,262.07 144.92,261.97 145.32,261.88 145.71,261.8 146.11,261.74 146.5,261.69" fill="none" stroke="#b01838" stroke-width="1.1"/>
<line x1="87.5" y1="281.6" x2="104.5" y2="284.6" stroke="#e8202a" stroke-width="1"/>
<path d="M108.6 285.3L104.13 286.45L104.79 282.7Z" fill="#e8202a"/>
<line x1="64" y1="357.3" x2="49.5" y2="348.6" stroke="#4d4d4d" stroke-width="0.9"/>
<path d="M47 347.1L51.58 347.63L49.62 350.89Z" fill="#4d4d4d"/>
<path d="M45.2 267.6 L76.0 262.2 L91.0 272.2 L58.9 277.0 Z" fill="#d6d4f0" stroke="none" stroke-width="1"/>
<path d="M45.4 268.5 L58.9 277.9 L91.0 273.2" fill="none" stroke="#3b2c9c" stroke-width="2.2"/>
<line x1="59.7" y1="253" x2="59.7" y2="271.6" stroke="#231f20" stroke-width="0.75" stroke-dasharray="2.4,1.1"/>
<line x1="59.7" y1="271.8" x2="74.5" y2="268.9" stroke="#231f20" stroke-width="0.9"/>
<path d="M79 268.1L74.68 271.07L73.89 266.94Z" fill="#231f20"/>
<text x="67.5" y="268.4" font-style="italic" font-size="8">B</text>
<text x="83.45" y="268.15" font-size="9.5">0°</text>
<path d="M86.7 343.9 H102.6 Q104.3 343.9 104.3 341.5 V309.5 Q104.3 307.1 106.6 307.1 H130.3" fill="none" stroke="#3f4fdc" stroke-width="1.1"/>
<path d="M104.3 343.9 H127.4 Q129.4 343.9 129.4 341.8 V307.6" fill="none" stroke="#e0506c" stroke-width="0.8" stroke-dasharray="1.6,1"/>
<polyline points="86.7,343.9 87.24,343.88 87.78,343.84 88.32,343.78 88.86,343.7 89.4,343.61 89.94,343.5 90.48,343.37 91.02,343.23 91.56,343.08 92.11,342.91 92.65,342.73 93.19,342.54 93.73,342.34 94.27,342.12 94.81,341.89 95.35,341.65 95.89,341.4 96.43,341.13 96.97,340.86 97.51,340.57 98.05,340.28 98.59,339.97 99.13,339.65 99.67,339.33 100.21,338.99 100.75,338.64 101.29,338.28 101.83,337.91 102.37,337.53 102.92,337.14 103.46,336.74 104,336.33 104.54,335.91 105.08,335.48 105.62,335.05 106.16,334.6 106.7,334.14 107.24,333.68 107.78,333.2 108.32,332.72 108.86,332.22 109.4,331.72 109.94,331.21 110.48,330.69 111.02,330.16 111.56,329.62 112.1,329.07 112.64,328.51 113.18,327.95 113.73,327.37 114.27,326.79 114.81,326.2 115.35,325.6 115.89,324.99 116.43,324.37 116.97,323.75 117.51,323.11 118.05,322.47 118.59,321.82 119.13,321.16 119.67,320.49 120.21,319.82 120.75,319.13 121.29,318.44 121.83,317.74 122.37,317.03 122.91,316.32 123.45,315.59 123.99,314.86 124.54,314.12 125.08,313.37 125.62,312.62 126.16,311.85 126.7,311.08 127.24,310.3 127.78,309.51 128.32,308.71 128.86,307.91 129.4,307.1 142.3,307.1" fill="none" stroke="#b3203e" stroke-width="1.2"/>
<line x1="105.3" y1="339.9" x2="126.5" y2="339.9" stroke="#231f20" stroke-width="0.7"/>
<path d="M129.2 339.9L125.6 341.4L125.6 338.4Z" fill="#231f20"/>
<line x1="115.3" y1="340.6" x2="117.8" y2="346" stroke="#231f20" stroke-width="0.5"/>
<line x1="125.2" y1="303.8" x2="125.2" y2="325.5" stroke="#231f20" stroke-width="0.5"/>
<line x1="128.8" y1="325.2" x2="119" y2="326.8" stroke="#231f20" stroke-width="0.7"/>
<path d="M116.2 327.2L119.34 325.28L119.78 328.05Z" fill="#231f20"/>
<line x1="84.2" y1="350.3" x2="84.2" y2="332.5" stroke="#231f20" stroke-width="1"/>
<path d="M84.2 328.8L86.2 333.2L82.2 333.2Z" fill="#231f20"/>
<line x1="84.2" y1="350.3" x2="91.5" y2="350.3" stroke="#231f20" stroke-width="1"/>
<path d="M95.6 350.3L91.2 352.3L91.2 348.3Z" fill="#231f20"/>
<text x="80.95" y="327.4" font-style="italic" font-size="8.5">R</text>
<text x="95.25" y="353.4" font-style="italic" font-size="8.5">T</text>
<text x="103.4" y="353.4" font-size="8.5">1.SC</text>
<line x1="124.4" y1="353.4" x2="124.4" y2="349.5" stroke="#231f20" stroke-width="0.9"/>
<path d="M124.4 347.4L125.7 350.2L123.1 350.2Z" fill="#231f20"/>
<text x="97.3" y="302" font-size="8.2">2.broadening</text>
<text x="157.55" y="7.55" font-weight="bold">c</text>
<line x1="181.8" y1="10.4" x2="299.6" y2="10.4" stroke="#6d6466" stroke-width="1"/>
<line x1="181.8" y1="359.4" x2="299.6" y2="359.4" stroke="#6d6466" stroke-width="1"/>
<line x1="181.8" y1="10.4" x2="181.8" y2="359.4" stroke="#b4b4b4" stroke-width="1.4"/>
<line x1="299.6" y1="10.4" x2="299.6" y2="359.4" stroke="#b4b4b4" stroke-width="1.4"/>
<line x1="181.8" y1="289.7" x2="185.4" y2="289.7" stroke="#9a9a9a" stroke-width="0.9"/>
<line x1="181.8" y1="219.9" x2="185.4" y2="219.9" stroke="#9a9a9a" stroke-width="0.9"/>
<line x1="181.8" y1="150.1" x2="185.4" y2="150.1" stroke="#9a9a9a" stroke-width="0.9"/>
<line x1="181.8" y1="80.3" x2="185.4" y2="80.3" stroke="#9a9a9a" stroke-width="0.9"/>
<line x1="215.7" y1="359.4" x2="215.7" y2="356.2" stroke="#9a9a9a" stroke-width="0.9"/>
<line x1="249.6" y1="359.4" x2="249.6" y2="356.2" stroke="#9a9a9a" stroke-width="0.9"/>
<line x1="283.5" y1="359.4" x2="283.5" y2="356.2" stroke="#9a9a9a" stroke-width="0.9"/>
<text x="173.7" y="14.2">5</text>
<text x="173.75" y="84.05">4</text>
<text x="173.75" y="153.15">3</text>
<text x="173.7" y="223.2">2</text>
<text x="173.55" y="293.05">1</text>
<text x="173.7" y="363.35">0</text>
<text x="179.15" y="371.1">0</text>
<text x="209.7" y="371.1">10</text>
<text x="243.95" y="371.1">20</text>
<text x="277.8" y="371.1">30</text>
<text x="229.4" y="383.6" font-size="11"><tspan font-style="italic">B</tspan> (T)</text>
<text transform="translate(168.2 202.4) rotate(-90)" font-size="11"><tspan font-style="italic">R</tspan><tspan font-size="8" dy="2.6">xx</tspan><tspan dy="-2.6"> (Ω)</tspan></text>
<text x="189.4" y="25.7" font-size="11">S4</text>
<text x="209.25" y="25.5" font-size="10.5">0°</text>
<polyline points="181.8,31.1 197.9,36 214,36.8 229.9,37.6 245.8,37.9 261.8,37 277.6,35.4 293.1,33.8 299.6,32.6" fill="none" stroke="#e8606a" stroke-width="1"/>
<circle cx="181.8" cy="31.1" r="1.55" fill="#e8606a"/>
<circle cx="197.9" cy="36" r="1.55" fill="#e8606a"/>
<circle cx="214" cy="36.8" r="1.55" fill="#e8606a"/>
<circle cx="229.9" cy="37.6" r="1.55" fill="#e8606a"/>
<circle cx="245.8" cy="37.9" r="1.55" fill="#e8606a"/>
<circle cx="261.8" cy="37" r="1.55" fill="#e8606a"/>
<circle cx="277.6" cy="35.4" r="1.55" fill="#e8606a"/>
<circle cx="293.1" cy="33.8" r="1.55" fill="#e8606a"/>
<circle cx="299.6" cy="32.6" r="1.55" fill="#e8606a"/>
<polyline points="181.8,38 197.9,41.9 214,44.7 229.9,45 245.8,45.3 261.8,44.7 277.6,43.8 293.1,41.5 299.6,41.3" fill="none" stroke="#e25877" stroke-width="1"/>
<circle cx="181.8" cy="38" r="1.55" fill="#e25877"/>
<circle cx="197.9" cy="41.9" r="1.55" fill="#e25877"/>
<circle cx="214" cy="44.7" r="1.55" fill="#e25877"/>
<circle cx="229.9" cy="45" r="1.55" fill="#e25877"/>
<circle cx="245.8" cy="45.3" r="1.55" fill="#e25877"/>
<circle cx="261.8" cy="44.7" r="1.55" fill="#e25877"/>
<circle cx="277.6" cy="43.8" r="1.55" fill="#e25877"/>
<circle cx="293.1" cy="41.5" r="1.55" fill="#e25877"/>
<circle cx="299.6" cy="41.3" r="1.55" fill="#e25877"/>
<polyline points="181.8,46.3 197.9,50.9 214,54.3 229.9,56.6 245.8,57.7 261.8,54 277.6,51.8 293.1,50 299.6,48.4" fill="none" stroke="#dc4f84" stroke-width="1"/>
<circle cx="181.8" cy="46.3" r="1.55" fill="#dc4f84"/>
<circle cx="197.9" cy="50.9" r="1.55" fill="#dc4f84"/>
<circle cx="214" cy="54.3" r="1.55" fill="#dc4f84"/>
<circle cx="229.9" cy="56.6" r="1.55" fill="#dc4f84"/>
<circle cx="245.8" cy="57.7" r="1.55" fill="#dc4f84"/>
<circle cx="261.8" cy="54" r="1.55" fill="#dc4f84"/>
<circle cx="277.6" cy="51.8" r="1.55" fill="#dc4f84"/>
<circle cx="293.1" cy="50" r="1.55" fill="#dc4f84"/>
<circle cx="299.6" cy="48.4" r="1.55" fill="#dc4f84"/>
<polyline points="181.8,56.6 197.9,60.7 214,67.2 229.9,68.7 245.8,67.9 261.8,65.7 277.6,63.2 293.1,59.5 299.6,58.6" fill="none" stroke="#d54691" stroke-width="1"/>
<circle cx="181.8" cy="56.6" r="1.55" fill="#d54691"/>
<circle cx="197.9" cy="60.7" r="1.55" fill="#d54691"/>
<circle cx="214" cy="67.2" r="1.55" fill="#d54691"/>
<circle cx="229.9" cy="68.7" r="1.55" fill="#d54691"/>
<circle cx="245.8" cy="67.9" r="1.55" fill="#d54691"/>
<circle cx="261.8" cy="65.7" r="1.55" fill="#d54691"/>
<circle cx="277.6" cy="63.2" r="1.55" fill="#d54691"/>
<circle cx="293.1" cy="59.5" r="1.55" fill="#d54691"/>
<circle cx="299.6" cy="58.6" r="1.55" fill="#d54691"/>
<polyline points="181.8,70.3 197.9,75.4 214,81.3 229.9,85.6 245.8,83.3 261.8,79.6 277.6,75 293.1,67 299.6,69" fill="none" stroke="#cf3e9e" stroke-width="1"/>
<circle cx="181.8" cy="70.3" r="1.55" fill="#cf3e9e"/>
<circle cx="197.9" cy="75.4" r="1.55" fill="#cf3e9e"/>
<circle cx="214" cy="81.3" r="1.55" fill="#cf3e9e"/>
<circle cx="229.9" cy="85.6" r="1.55" fill="#cf3e9e"/>
<circle cx="245.8" cy="83.3" r="1.55" fill="#cf3e9e"/>
<circle cx="261.8" cy="79.6" r="1.55" fill="#cf3e9e"/>
<circle cx="277.6" cy="75" r="1.55" fill="#cf3e9e"/>
<circle cx="293.1" cy="67" r="1.55" fill="#cf3e9e"/>
<circle cx="299.6" cy="69" r="1.55" fill="#cf3e9e"/>
<polyline points="181.8,83.9 197.9,93.5 214,99.9 229.9,103 245.8,101.2 261.8,95.1 277.6,90.4 293.1,81.8 299.6,80.2" fill="none" stroke="#c43ba8" stroke-width="1"/>
<circle cx="181.8" cy="83.9" r="1.55" fill="#c43ba8"/>
<circle cx="197.9" cy="93.5" r="1.55" fill="#c43ba8"/>
<circle cx="214" cy="99.9" r="1.55" fill="#c43ba8"/>
<circle cx="229.9" cy="103" r="1.55" fill="#c43ba8"/>
<circle cx="245.8" cy="101.2" r="1.55" fill="#c43ba8"/>
<circle cx="261.8" cy="95.1" r="1.55" fill="#c43ba8"/>
<circle cx="277.6" cy="90.4" r="1.55" fill="#c43ba8"/>
<circle cx="293.1" cy="81.8" r="1.55" fill="#c43ba8"/>
<circle cx="299.6" cy="80.2" r="1.55" fill="#c43ba8"/>
<polyline points="181.8,103 197.9,114.8 214,125 229.9,129 245.8,124.5 261.8,115.3 277.6,106.3 293.1,97 299.6,91.7" fill="none" stroke="#b838b1" stroke-width="1"/>
<circle cx="181.8" cy="103" r="1.55" fill="#b838b1"/>
<circle cx="197.9" cy="114.8" r="1.55" fill="#b838b1"/>
<circle cx="214" cy="125" r="1.55" fill="#b838b1"/>
<circle cx="229.9" cy="129" r="1.55" fill="#b838b1"/>
<circle cx="245.8" cy="124.5" r="1.55" fill="#b838b1"/>
<circle cx="261.8" cy="115.3" r="1.55" fill="#b838b1"/>
<circle cx="277.6" cy="106.3" r="1.55" fill="#b838b1"/>
<circle cx="293.1" cy="97" r="1.55" fill="#b838b1"/>
<circle cx="299.6" cy="91.7" r="1.55" fill="#b838b1"/>
<polyline points="181.8,133.6 197.9,147 214,156.3 229.9,160.2 245.8,152.8 261.8,141.3 277.6,127.6 293.1,114.5 299.6,107.4" fill="none" stroke="#ad35ba" stroke-width="1"/>
<circle cx="181.8" cy="133.6" r="1.55" fill="#ad35ba"/>
<circle cx="197.9" cy="147" r="1.55" fill="#ad35ba"/>
<circle cx="214" cy="156.3" r="1.55" fill="#ad35ba"/>
<circle cx="229.9" cy="160.2" r="1.55" fill="#ad35ba"/>
<circle cx="245.8" cy="152.8" r="1.55" fill="#ad35ba"/>
<circle cx="261.8" cy="141.3" r="1.55" fill="#ad35ba"/>
<circle cx="277.6" cy="127.6" r="1.55" fill="#ad35ba"/>
<circle cx="293.1" cy="114.5" r="1.55" fill="#ad35ba"/>
<circle cx="299.6" cy="107.4" r="1.55" fill="#ad35ba"/>
<polyline points="181.8,174.7 197.9,186.6 214,194.7 229.9,192.1 245.8,181.2 261.8,165.2 277.6,150.3 293.1,135.8 299.6,127.4" fill="none" stroke="#a232c4" stroke-width="1"/>
<circle cx="181.8" cy="174.7" r="1.55" fill="#a232c4"/>
<circle cx="197.9" cy="186.6" r="1.55" fill="#a232c4"/>
<circle cx="214" cy="194.7" r="1.55" fill="#a232c4"/>
<circle cx="229.9" cy="192.1" r="1.55" fill="#a232c4"/>
<circle cx="245.8" cy="181.2" r="1.55" fill="#a232c4"/>
<circle cx="261.8" cy="165.2" r="1.55" fill="#a232c4"/>
<circle cx="277.6" cy="150.3" r="1.55" fill="#a232c4"/>
<circle cx="293.1" cy="135.8" r="1.55" fill="#a232c4"/>
<circle cx="299.6" cy="127.4" r="1.55" fill="#a232c4"/>
<polyline points="181.8,227 197.9,227.2 214,228.3 229.9,223 245.8,210.8 261.8,194.5 277.6,177.5 293.1,161.8 299.6,148.1" fill="none" stroke="#9632c6" stroke-width="1"/>
<circle cx="181.8" cy="227" r="1.55" fill="#9632c6"/>
<circle cx="197.9" cy="227.2" r="1.55" fill="#9632c6"/>
<circle cx="214" cy="228.3" r="1.55" fill="#9632c6"/>
<circle cx="229.9" cy="223" r="1.55" fill="#9632c6"/>
<circle cx="245.8" cy="210.8" r="1.55" fill="#9632c6"/>
<circle cx="261.8" cy="194.5" r="1.55" fill="#9632c6"/>
<circle cx="277.6" cy="177.5" r="1.55" fill="#9632c6"/>
<circle cx="293.1" cy="161.8" r="1.55" fill="#9632c6"/>
<circle cx="299.6" cy="148.1" r="1.55" fill="#9632c6"/>
<polyline points="181.8,279.5 197.9,267 214,259.7 229.9,253.1 245.8,238.7 261.8,221.7 277.6,203.6 293.1,187.4 299.6,170.5" fill="none" stroke="#8931c8" stroke-width="1"/>
<circle cx="181.8" cy="279.5" r="1.55" fill="#8931c8"/>
<circle cx="197.9" cy="267" r="1.55" fill="#8931c8"/>
<circle cx="214" cy="259.7" r="1.55" fill="#8931c8"/>
<circle cx="229.9" cy="253.1" r="1.55" fill="#8931c8"/>
<circle cx="245.8" cy="238.7" r="1.55" fill="#8931c8"/>
<circle cx="261.8" cy="221.7" r="1.55" fill="#8931c8"/>
<circle cx="277.6" cy="203.6" r="1.55" fill="#8931c8"/>
<circle cx="293.1" cy="187.4" r="1.55" fill="#8931c8"/>
<circle cx="299.6" cy="170.5" r="1.55" fill="#8931c8"/>
<polyline points="181.8,326.8 197.9,296.4 214,287 229.9,278.1 245.8,261.9 261.8,247.6 277.6,224.7 293.1,203.7 299.6,193.3" fill="none" stroke="#7c30ca" stroke-width="1"/>
<circle cx="181.8" cy="326.8" r="1.55" fill="#7c30ca"/>
<circle cx="197.9" cy="296.4" r="1.55" fill="#7c30ca"/>
<circle cx="214" cy="287" r="1.55" fill="#7c30ca"/>
<circle cx="229.9" cy="278.1" r="1.55" fill="#7c30ca"/>
<circle cx="245.8" cy="261.9" r="1.55" fill="#7c30ca"/>
<circle cx="261.8" cy="247.6" r="1.55" fill="#7c30ca"/>
<circle cx="277.6" cy="224.7" r="1.55" fill="#7c30ca"/>
<circle cx="293.1" cy="203.7" r="1.55" fill="#7c30ca"/>
<circle cx="299.6" cy="193.3" r="1.55" fill="#7c30ca"/>
<polyline points="181.8,346.4 197.9,316.3 214,304.9 229.9,295.5 245.8,280.8 261.8,266.6 277.6,247.2 293.1,227.2 299.6,215.6" fill="none" stroke="#7030cc" stroke-width="1"/>
<circle cx="181.8" cy="346.4" r="1.55" fill="#7030cc"/>
<circle cx="197.9" cy="316.3" r="1.55" fill="#7030cc"/>
<circle cx="214" cy="304.9" r="1.55" fill="#7030cc"/>
<circle cx="229.9" cy="295.5" r="1.55" fill="#7030cc"/>
<circle cx="245.8" cy="280.8" r="1.55" fill="#7030cc"/>
<circle cx="261.8" cy="266.6" r="1.55" fill="#7030cc"/>
<circle cx="277.6" cy="247.2" r="1.55" fill="#7030cc"/>
<circle cx="293.1" cy="227.2" r="1.55" fill="#7030cc"/>
<circle cx="299.6" cy="215.6" r="1.55" fill="#7030cc"/>
<polyline points="181.8,353.3 197.9,329.1 214,317.8 229.9,307.6 245.8,298.1 261.8,282.6 277.6,265.3 293.1,245.2 299.6,235.5" fill="none" stroke="#5e2ec0" stroke-width="1"/>
<circle cx="181.8" cy="353.3" r="1.55" fill="#5e2ec0"/>
<circle cx="197.9" cy="329.1" r="1.55" fill="#5e2ec0"/>
<circle cx="214" cy="317.8" r="1.55" fill="#5e2ec0"/>
<circle cx="229.9" cy="307.6" r="1.55" fill="#5e2ec0"/>
<circle cx="245.8" cy="298.1" r="1.55" fill="#5e2ec0"/>
<circle cx="261.8" cy="282.6" r="1.55" fill="#5e2ec0"/>
<circle cx="277.6" cy="265.3" r="1.55" fill="#5e2ec0"/>
<circle cx="293.1" cy="245.2" r="1.55" fill="#5e2ec0"/>
<circle cx="299.6" cy="235.5" r="1.55" fill="#5e2ec0"/>
<polyline points="181.8,354.7 197.9,336.5 214,328.6 229.9,320.5 245.8,310.5 261.8,298.8 277.6,280.5 293.1,263.2 299.6,253.4" fill="none" stroke="#4d2db4" stroke-width="1"/>
<circle cx="181.8" cy="354.7" r="1.55" fill="#4d2db4"/>
<circle cx="197.9" cy="336.5" r="1.55" fill="#4d2db4"/>
<circle cx="214" cy="328.6" r="1.55" fill="#4d2db4"/>
<circle cx="229.9" cy="320.5" r="1.55" fill="#4d2db4"/>
<circle cx="245.8" cy="310.5" r="1.55" fill="#4d2db4"/>
<circle cx="261.8" cy="298.8" r="1.55" fill="#4d2db4"/>
<circle cx="277.6" cy="280.5" r="1.55" fill="#4d2db4"/>
<circle cx="293.1" cy="263.2" r="1.55" fill="#4d2db4"/>
<circle cx="299.6" cy="253.4" r="1.55" fill="#4d2db4"/>
<polyline points="181.8,356 197.9,342.4 214,334.5 229.9,327.7 245.8,318.7 261.8,308.4 277.6,292.4 293.1,278.7 299.6,266.6" fill="none" stroke="#3c2ca8" stroke-width="1"/>
<circle cx="181.8" cy="356" r="1.55" fill="#3c2ca8"/>
<circle cx="197.9" cy="342.4" r="1.55" fill="#3c2ca8"/>
<circle cx="214" cy="334.5" r="1.55" fill="#3c2ca8"/>
<circle cx="229.9" cy="327.7" r="1.55" fill="#3c2ca8"/>
<circle cx="245.8" cy="318.7" r="1.55" fill="#3c2ca8"/>
<circle cx="261.8" cy="308.4" r="1.55" fill="#3c2ca8"/>
<circle cx="277.6" cy="292.4" r="1.55" fill="#3c2ca8"/>
<circle cx="293.1" cy="278.7" r="1.55" fill="#3c2ca8"/>
<circle cx="299.6" cy="266.6" r="1.55" fill="#3c2ca8"/>
<polyline points="181.8,356.8 197.9,346.4 214,339.7 229.9,334.2 245.8,324.4 261.8,316.1 277.6,303.2 293.1,290.8 299.6,280.5" fill="none" stroke="#2a2a9c" stroke-width="1"/>
<circle cx="181.8" cy="356.8" r="1.55" fill="#2a2a9c"/>
<circle cx="197.9" cy="346.4" r="1.55" fill="#2a2a9c"/>
<circle cx="214" cy="339.7" r="1.55" fill="#2a2a9c"/>
<circle cx="229.9" cy="334.2" r="1.55" fill="#2a2a9c"/>
<circle cx="245.8" cy="324.4" r="1.55" fill="#2a2a9c"/>
<circle cx="261.8" cy="316.1" r="1.55" fill="#2a2a9c"/>
<circle cx="277.6" cy="303.2" r="1.55" fill="#2a2a9c"/>
<circle cx="293.1" cy="290.8" r="1.55" fill="#2a2a9c"/>
<circle cx="299.6" cy="280.5" r="1.55" fill="#2a2a9c"/>
<text x="303.1" y="33.4" fill="#e8606a" font-size="11">46 K</text>
<text x="303.1" y="72.65" fill="#cf3e9e" font-size="11">45 K</text>
<text x="303.1" y="132" fill="#a232c4" font-size="11">44 K</text>
<text x="303.1" y="218.7" fill="#7030cc" font-size="11">43 K</text>
<text x="303.1" y="285.15" fill="#2a2a9c" font-size="11">42 K</text>
<line x1="185.8" y1="128.1" x2="207.5" y2="143.2" stroke="#e8202a" stroke-width="1.1"/>
<path d="M213.4 147.2L205.82 145.85L209.46 140.59Z" fill="#e8202a"/>
<text x="332.75" y="8.55" font-weight="bold">d</text>
<defs><clipPath id="hc1"><rect x="362.3" y="9.7" width="150.4" height="149.3"/></clipPath><filter id="hb1" x="-5%" y="-5%" width="110%" height="110%"><feGaussianBlur stdDeviation="0.9"/></filter></defs>
<g clip-path="url(#hc1)"><g filter="url(#hb1)" shape-rendering="crispEdges">
<path fill="#701028" d="M358.3 5.7h2v2h-2zM420.3 5.7h2v2h-2zM420.3 7.7h4v2h-4zM422.3 9.7h4v2h-4zM424.3 11.7h6v2h-6zM428.3 13.7h4v2h-4zM430.3 15.7h6v2h-6zM434.3 17.7h6v2h-6zM438.3 19.7h6v2h-6zM440.3 21.7h8v2h-8zM444.3 23.7h30v2h-30zM450.3 25.7h26v2h-26zM474.3 27.7h6v2h-6zM476.3 29.7h8v2h-8zM480.3 31.7h10v2h-10zM484.3 33.7h14v2h-14zM490.3 35.7h28v2h-28zM496.3 37.7h22v2h-22z"/>
<path fill="#741428" d="M360.3 5.7h2v2h-2zM416.3 5.7h2v2h-2zM358.3 7.7h2v2h-2zM418.3 7.7h2v2h-2zM420.3 9.7h2v2h-2zM422.3 11.7h2v2h-2zM424.3 13.7h2v2h-2zM426.3 15.7h4v2h-4zM430.3 17.7h2v2h-2zM432.3 19.7h4v2h-4zM436.3 21.7h4v2h-4zM438.3 23.7h4v2h-4zM442.3 25.7h6v2h-6zM446.3 27.7h16v2h-16zM468.3 27.7h4v2h-4zM454.3 29.7h20v2h-20zM474.3 31.7h4v2h-4zM476.3 33.7h6v2h-6zM480.3 35.7h8v2h-8zM486.3 37.7h8v2h-8zM492.3 39.7h26v2h-26zM508.3 41.7h10v2h-10z"/>
<path fill="#781428" d="M362.3 5.7h6v2h-6zM410.3 5.7h6v2h-6zM360.3 7.7h2v2h-2zM416.3 7.7h2v2h-2zM358.3 9.7h2v2h-2zM418.3 9.7h2v2h-2zM420.3 11.7h2v2h-2zM422.3 13.7h2v2h-2zM424.3 15.7h2v2h-2zM426.3 17.7h4v2h-4zM428.3 19.7h4v2h-4zM432.3 21.7h4v2h-4zM434.3 23.7h4v2h-4zM438.3 25.7h4v2h-4zM440.3 27.7h6v2h-6zM444.3 29.7h10v2h-10zM448.3 31.7h26v2h-26zM464.3 33.7h4v2h-4zM472.3 33.7h4v2h-4zM474.3 35.7h6v2h-6zM478.3 37.7h8v2h-8zM482.3 39.7h10v2h-10zM488.3 41.7h20v2h-20zM494.3 43.7h24v2h-24z"/>
<path fill="#7c1428" d="M368.3 5.7h4v2h-4zM406.3 5.7h4v2h-4zM362.3 7.7h6v2h-6zM410.3 7.7h6v2h-6zM360.3 9.7h4v2h-4zM416.3 9.7h2v2h-2zM358.3 11.7h2v2h-2zM418.3 11.7h2v2h-2zM420.3 13.7h2v2h-2zM422.3 15.7h2v2h-2zM424.3 17.7h2v2h-2zM426.3 19.7h2v2h-2zM428.3 21.7h4v2h-4zM430.3 23.7h4v2h-4zM434.3 25.7h4v2h-4zM436.3 27.7h4v2h-4zM440.3 29.7h4v2h-4zM444.3 31.7h4v2h-4zM448.3 33.7h16v2h-16zM468.3 33.7h4v2h-4zM456.3 35.7h18v2h-18zM474.3 37.7h4v2h-4zM476.3 39.7h6v2h-6zM480.3 41.7h8v2h-8zM484.3 43.7h10v2h-10zM490.3 45.7h28v2h-28zM498.3 47.7h20v2h-20z"/>
<path fill="#801428" d="M372.3 5.7h4v2h-4zM404.3 5.7h2v2h-2zM368.3 7.7h4v2h-4zM406.3 7.7h4v2h-4zM364.3 9.7h4v2h-4zM410.3 9.7h6v2h-6zM360.3 11.7h2v2h-2zM416.3 11.7h2v2h-2zM358.3 13.7h2v2h-2zM418.3 13.7h2v2h-2zM420.3 15.7h2v2h-2zM422.3 17.7h2v2h-2zM424.3 19.7h2v2h-2zM424.3 21.7h4v2h-4zM428.3 23.7h2v2h-2zM430.3 25.7h4v2h-4zM434.3 27.7h2v2h-2zM436.3 29.7h4v2h-4zM440.3 31.7h4v2h-4zM442.3 33.7h6v2h-6zM446.3 35.7h10v2h-10zM452.3 37.7h22v2h-22zM472.3 39.7h4v2h-4zM476.3 41.7h4v2h-4zM478.3 43.7h6v2h-6zM482.3 45.7h8v2h-8zM488.3 47.7h10v2h-10zM494.3 49.7h24v2h-24z"/>
<path fill="#84182c" d="M376.3 5.7h2v2h-2zM400.3 5.7h2v2h-2zM404.3 7.7h2v2h-2zM370.3 9.7h2v2h-2zM408.3 9.7h2v2h-2zM364.3 11.7h2v2h-2zM412.3 11.7h2v2h-2zM416.3 13.7h2v2h-2zM418.3 15.7h2v2h-2zM428.3 25.7h2v2h-2zM430.3 27.7h2v2h-2zM434.3 29.7h2v2h-2zM436.3 31.7h2v2h-2zM440.3 33.7h2v2h-2zM442.3 35.7h2v2h-2zM446.3 37.7h4v2h-4zM450.3 39.7h12v2h-12zM466.3 41.7h8v2h-8zM474.3 43.7h4v2h-4zM478.3 45.7h2v2h-2zM480.3 47.7h6v2h-6zM486.3 49.7h6v2h-6zM494.3 51.7h22v2h-22z"/>
<path fill="#88182c" d="M378.3 5.7h2v2h-2zM374.3 7.7h2v2h-2zM402.3 7.7h2v2h-2zM372.3 9.7h2v2h-2zM406.3 9.7h2v2h-2zM366.3 11.7h4v2h-4zM408.3 11.7h4v2h-4zM362.3 13.7h4v2h-4zM412.3 13.7h4v2h-4zM360.3 15.7h2v2h-2zM416.3 15.7h2v2h-2zM358.3 17.7h2v2h-2zM418.3 17.7h2v2h-2zM420.3 19.7h2v2h-2zM422.3 21.7h2v2h-2zM424.3 23.7h2v2h-2zM426.3 25.7h2v2h-2zM428.3 27.7h2v2h-2zM430.3 29.7h4v2h-4zM434.3 31.7h2v2h-2zM436.3 33.7h4v2h-4zM440.3 35.7h2v2h-2zM442.3 37.7h4v2h-4zM446.3 39.7h4v2h-4zM450.3 41.7h16v2h-16zM464.3 43.7h10v2h-10zM474.3 45.7h4v2h-4zM478.3 47.7h2v2h-2zM480.3 49.7h6v2h-6zM486.3 51.7h8v2h-8zM492.3 53.7h26v2h-26zM516.3 55.7h2v2h-2z"/>
<path fill="#90182c" d="M380.3 5.7h2v2h-2zM378.3 7.7h2v2h-2zM398.3 7.7h2v2h-2zM402.3 9.7h2v2h-2zM372.3 11.7h2v2h-2zM404.3 11.7h2v2h-2zM368.3 13.7h4v2h-4zM408.3 13.7h2v2h-2zM364.3 15.7h4v2h-4zM412.3 15.7h2v2h-2zM362.3 17.7h2v2h-2zM414.3 17.7h4v2h-4zM360.3 19.7h2v2h-2zM358.3 21.7h2v2h-2zM420.3 23.7h2v2h-2zM422.3 25.7h2v2h-2zM424.3 27.7h2v2h-2zM426.3 29.7h2v2h-2zM428.3 31.7h2v2h-2zM432.3 33.7h2v2h-2zM434.3 35.7h2v2h-2zM438.3 37.7h2v2h-2zM440.3 39.7h2v2h-2zM442.3 41.7h4v2h-4zM446.3 43.7h4v2h-4zM450.3 45.7h12v2h-12zM462.3 47.7h12v2h-12zM474.3 49.7h2v2h-2zM476.3 51.7h4v2h-4zM480.3 53.7h4v2h-4zM484.3 55.7h8v2h-8zM492.3 57.7h14v2h-14zM504.3 59.7h14v2h-14z"/>
<path fill="#981c2c" d="M382.3 5.7h2v2h-2zM380.3 7.7h2v2h-2zM378.3 9.7h2v2h-2zM402.3 11.7h2v2h-2zM372.3 13.7h2v2h-2zM404.3 13.7h2v2h-2zM370.3 15.7h2v2h-2zM406.3 15.7h2v2h-2zM366.3 17.7h2v2h-2zM410.3 17.7h2v2h-2zM362.3 19.7h4v2h-4zM414.3 19.7h2v2h-2zM360.3 21.7h2v2h-2zM416.3 21.7h2v2h-2zM418.3 23.7h2v2h-2zM420.3 25.7h2v2h-2zM424.3 31.7h2v2h-2zM428.3 33.7h2v2h-2zM430.3 35.7h2v2h-2zM432.3 37.7h4v2h-4zM436.3 39.7h2v2h-2zM438.3 41.7h2v2h-2zM440.3 43.7h4v2h-4zM444.3 45.7h4v2h-4zM448.3 47.7h4v2h-4zM454.3 49.7h10v2h-10zM464.3 51.7h10v2h-10zM474.3 53.7h2v2h-2zM476.3 55.7h4v2h-4zM480.3 57.7h4v2h-4zM486.3 59.7h6v2h-6zM492.3 61.7h12v2h-12zM510.3 63.7h8v2h-8z"/>
<path fill="#a02430" d="M384.3 5.7h2v2h-2zM396.3 9.7h2v2h-2zM398.3 11.7h2v2h-2zM374.3 15.7h2v2h-2zM408.3 19.7h2v2h-2zM366.3 21.7h2v2h-2zM414.3 23.7h2v2h-2zM432.3 41.7h2v2h-2zM440.3 47.7h2v2h-2zM446.3 51.7h2v2h-2zM450.3 53.7h4v2h-4zM460.3 55.7h4v2h-4zM472.3 57.7h2v2h-2zM478.3 61.7h2v2h-2zM482.3 63.7h2v2h-2zM488.3 65.7h2v2h-2zM494.3 67.7h2v2h-2z"/>
<path fill="#ac3034" d="M386.3 5.7h2v2h-2zM392.3 7.7h2v2h-2zM378.3 15.7h2v2h-2zM376.3 17.7h2v2h-2zM374.3 19.7h2v2h-2zM408.3 23.7h2v2h-2zM366.3 25.7h2v2h-2zM410.3 25.7h2v2h-2zM364.3 27.7h2v2h-2zM416.3 29.7h2v2h-2zM358.3 33.7h2v2h-2zM420.3 35.7h2v2h-2zM422.3 37.7h2v2h-2zM426.3 41.7h2v2h-2zM428.3 43.7h2v2h-2zM430.3 45.7h2v2h-2zM436.3 49.7h2v2h-2zM438.3 51.7h2v2h-2zM440.3 53.7h2v2h-2zM444.3 55.7h2v2h-2zM446.3 57.7h2v2h-2zM450.3 59.7h6v2h-6zM456.3 61.7h8v2h-8zM466.3 63.7h6v2h-6zM474.3 65.7h2v2h-2zM476.3 67.7h4v2h-4zM480.3 69.7h4v2h-4zM484.3 71.7h6v2h-6zM490.3 73.7h6v2h-6zM502.3 75.7h16v2h-16z"/>
<path fill="#b03434" d="M388.3 5.7h4v2h-4zM398.3 15.7h2v2h-2zM400.3 17.7h2v2h-2zM402.3 19.7h2v2h-2zM404.3 21.7h2v2h-2zM370.3 23.7h2v2h-2zM414.3 29.7h2v2h-2zM418.3 33.7h2v2h-2zM424.3 41.7h2v2h-2zM426.3 43.7h2v2h-2zM434.3 49.7h2v2h-2zM436.3 51.7h2v2h-2zM444.3 57.7h2v2h-2zM448.3 59.7h2v2h-2zM452.3 61.7h4v2h-4zM460.3 63.7h4v2h-4zM472.3 65.7h2v2h-2zM474.3 67.7h2v2h-2zM478.3 69.7h2v2h-2zM482.3 71.7h2v2h-2zM488.3 73.7h2v2h-2zM494.3 75.7h2v2h-2z"/>
<path fill="#a42430" d="M392.3 5.7h2v2h-2zM394.3 7.7h2v2h-2zM400.3 13.7h2v2h-2zM402.3 15.7h2v2h-2zM372.3 17.7h2v2h-2zM404.3 17.7h2v2h-2zM370.3 19.7h2v2h-2zM410.3 21.7h2v2h-2zM364.3 23.7h2v2h-2zM412.3 23.7h2v2h-2zM416.3 25.7h2v2h-2zM358.3 29.7h2v2h-2zM420.3 31.7h2v2h-2zM422.3 33.7h2v2h-2zM424.3 35.7h2v2h-2zM426.3 37.7h2v2h-2zM428.3 39.7h2v2h-2zM430.3 41.7h2v2h-2zM434.3 43.7h2v2h-2zM436.3 45.7h2v2h-2zM438.3 47.7h2v2h-2zM442.3 49.7h2v2h-2zM444.3 51.7h2v2h-2zM448.3 53.7h2v2h-2zM454.3 55.7h6v2h-6zM462.3 57.7h10v2h-10zM472.3 59.7h4v2h-4zM476.3 61.7h2v2h-2zM480.3 63.7h2v2h-2zM484.3 65.7h4v2h-4zM490.3 67.7h4v2h-4zM496.3 69.7h22v2h-22z"/>
<path fill="#9c1c30" d="M394.3 5.7h2v2h-2zM400.3 11.7h2v2h-2zM374.3 13.7h2v2h-2zM402.3 13.7h2v2h-2zM372.3 15.7h2v2h-2zM408.3 17.7h2v2h-2zM366.3 19.7h2v2h-2zM362.3 21.7h2v2h-2zM414.3 21.7h2v2h-2zM360.3 23.7h2v2h-2zM418.3 25.7h2v2h-2zM420.3 27.7h2v2h-2zM430.3 37.7h2v2h-2zM436.3 41.7h2v2h-2zM438.3 43.7h2v2h-2zM440.3 45.7h2v2h-2zM444.3 47.7h2v2h-2zM448.3 49.7h2v2h-2zM454.3 51.7h6v2h-6zM464.3 53.7h8v2h-8zM474.3 55.7h2v2h-2zM476.3 57.7h2v2h-2zM480.3 59.7h2v2h-2zM484.3 61.7h4v2h-4zM492.3 63.7h4v2h-4zM506.3 65.7h12v2h-12z"/>
<path fill="#94182c" d="M396.3 5.7h2v2h-2zM376.3 9.7h2v2h-2zM406.3 13.7h2v2h-2zM410.3 15.7h2v2h-2zM364.3 17.7h2v2h-2zM416.3 19.7h2v2h-2zM418.3 21.7h2v2h-2zM430.3 33.7h2v2h-2zM436.3 37.7h2v2h-2zM438.3 39.7h2v2h-2zM448.3 45.7h2v2h-2zM458.3 47.7h4v2h-4zM472.3 49.7h2v2h-2zM478.3 53.7h2v2h-2zM482.3 55.7h2v2h-2zM488.3 57.7h4v2h-4zM494.3 59.7h10v2h-10z"/>
<path fill="#8c182c" d="M398.3 5.7h2v2h-2zM376.3 7.7h2v2h-2zM400.3 7.7h2v2h-2zM374.3 9.7h2v2h-2zM404.3 9.7h2v2h-2zM370.3 11.7h2v2h-2zM406.3 11.7h2v2h-2zM366.3 13.7h2v2h-2zM410.3 13.7h2v2h-2zM362.3 15.7h2v2h-2zM414.3 15.7h2v2h-2zM360.3 17.7h2v2h-2zM358.3 19.7h2v2h-2zM418.3 19.7h2v2h-2zM420.3 21.7h2v2h-2zM422.3 23.7h2v2h-2zM424.3 25.7h2v2h-2zM426.3 27.7h2v2h-2zM428.3 29.7h2v2h-2zM430.3 31.7h4v2h-4zM434.3 33.7h2v2h-2zM436.3 35.7h4v2h-4zM440.3 37.7h2v2h-2zM442.3 39.7h4v2h-4zM446.3 41.7h4v2h-4zM450.3 43.7h14v2h-14zM462.3 45.7h12v2h-12zM474.3 47.7h4v2h-4zM476.3 49.7h4v2h-4zM480.3 51.7h6v2h-6zM484.3 53.7h8v2h-8zM492.3 55.7h24v2h-24zM506.3 57.7h12v2h-12z"/>
<path fill="#841428" d="M402.3 5.7h2v2h-2zM372.3 7.7h2v2h-2zM368.3 9.7h2v2h-2zM362.3 11.7h2v2h-2zM414.3 11.7h2v2h-2zM360.3 13.7h2v2h-2zM358.3 15.7h2v2h-2zM420.3 17.7h2v2h-2zM422.3 19.7h2v2h-2zM426.3 23.7h2v2h-2zM432.3 27.7h2v2h-2zM438.3 31.7h2v2h-2zM444.3 35.7h2v2h-2zM450.3 37.7h2v2h-2zM462.3 39.7h10v2h-10zM474.3 41.7h2v2h-2zM480.3 45.7h2v2h-2zM486.3 47.7h2v2h-2zM492.3 49.7h2v2h-2zM516.3 51.7h2v2h-2z"/>
<path fill="#741028" d="M418.3 5.7h2v2h-2zM426.3 13.7h2v2h-2zM432.3 17.7h2v2h-2zM436.3 19.7h2v2h-2zM442.3 23.7h2v2h-2zM448.3 25.7h2v2h-2zM462.3 27.7h6v2h-6zM472.3 27.7h2v2h-2zM474.3 29.7h2v2h-2zM478.3 31.7h2v2h-2zM482.3 33.7h2v2h-2zM488.3 35.7h2v2h-2zM494.3 37.7h2v2h-2z"/>
<path fill="#6c1028" d="M422.3 5.7h2v2h-2zM424.3 7.7h4v2h-4zM426.3 9.7h4v2h-4zM430.3 11.7h6v2h-6zM432.3 13.7h6v2h-6zM436.3 15.7h6v2h-6zM440.3 17.7h6v2h-6zM444.3 19.7h30v2h-30zM448.3 21.7h28v2h-28zM474.3 23.7h6v2h-6zM476.3 25.7h8v2h-8zM480.3 27.7h10v2h-10zM484.3 29.7h12v2h-12zM490.3 31.7h28v2h-28zM498.3 33.7h20v2h-20z"/>
<path fill="#6c1024" d="M424.3 5.7h2v2h-2zM430.3 9.7h2v2h-2zM438.3 13.7h2v2h-2zM442.3 15.7h2v2h-2zM446.3 17.7h2v2h-2zM476.3 21.7h2v2h-2zM484.3 25.7h2v2h-2zM490.3 27.7h2v2h-2zM496.3 29.7h22v2h-22z"/>
<path fill="#681024" d="M426.3 5.7h8v2h-8zM428.3 7.7h10v2h-10zM432.3 9.7h8v2h-8zM436.3 11.7h10v2h-10zM440.3 13.7h34v2h-34zM444.3 15.7h32v2h-32zM448.3 17.7h32v2h-32zM474.3 19.7h10v2h-10zM478.3 21.7h14v2h-14zM480.3 23.7h26v2h-26zM486.3 25.7h32v2h-32zM492.3 27.7h26v2h-26z"/>
<path fill="#641024" d="M434.3 5.7h8v2h-8zM438.3 7.7h12v2h-12zM460.3 7.7h14v2h-14zM440.3 9.7h36v2h-36zM446.3 11.7h34v2h-34zM474.3 13.7h10v2h-10zM476.3 15.7h14v2h-14zM480.3 17.7h22v2h-22zM484.3 19.7h34v2h-34zM492.3 21.7h26v2h-26zM506.3 23.7h12v2h-12z"/>
<path fill="#640c24" d="M442.3 5.7h2v2h-2zM470.3 5.7h2v2h-2zM450.3 7.7h10v2h-10zM476.3 9.7h2v2h-2zM480.3 11.7h2v2h-2zM484.3 13.7h4v2h-4zM490.3 15.7h4v2h-4zM502.3 17.7h16v2h-16z"/>
<path fill="#600c24" d="M444.3 5.7h26v2h-26zM472.3 5.7h18v2h-18zM474.3 7.7h22v2h-22zM478.3 9.7h40v2h-40zM482.3 11.7h36v2h-36zM488.3 13.7h30v2h-30zM494.3 15.7h24v2h-24z"/>
<path fill="#5c0c24" d="M490.3 5.7h28v2h-28zM496.3 7.7h22v2h-22z"/>
<path fill="#a02030" d="M382.3 7.7h2v2h-2zM380.3 9.7h2v2h-2zM378.3 11.7h2v2h-2zM376.3 13.7h2v2h-2zM404.3 15.7h2v2h-2zM370.3 17.7h2v2h-2zM406.3 17.7h2v2h-2zM368.3 19.7h2v2h-2zM410.3 19.7h2v2h-2zM364.3 21.7h2v2h-2zM412.3 21.7h2v2h-2zM362.3 23.7h2v2h-2zM416.3 23.7h2v2h-2zM360.3 25.7h2v2h-2zM358.3 27.7h2v2h-2zM418.3 27.7h2v2h-2zM420.3 29.7h2v2h-2zM422.3 31.7h2v2h-2zM424.3 33.7h2v2h-2zM426.3 35.7h2v2h-2zM428.3 37.7h2v2h-2zM430.3 39.7h2v2h-2zM434.3 41.7h2v2h-2zM436.3 43.7h2v2h-2zM438.3 45.7h2v2h-2zM442.3 47.7h2v2h-2zM444.3 49.7h4v2h-4zM448.3 51.7h4v2h-4zM454.3 53.7h10v2h-10zM464.3 55.7h10v2h-10zM474.3 57.7h2v2h-2zM476.3 59.7h4v2h-4zM480.3 61.7h4v2h-4zM484.3 63.7h6v2h-6zM490.3 65.7h6v2h-6zM496.3 67.7h22v2h-22z"/>
<path fill="#a82c34" d="M384.3 7.7h2v2h-2zM382.3 9.7h2v2h-2zM396.3 11.7h2v2h-2zM398.3 13.7h2v2h-2zM400.3 15.7h2v2h-2zM402.3 17.7h2v2h-2zM372.3 19.7h2v2h-2zM404.3 19.7h2v2h-2zM370.3 21.7h2v2h-2zM364.3 25.7h2v2h-2zM412.3 25.7h2v2h-2zM362.3 27.7h2v2h-2zM360.3 29.7h2v2h-2zM358.3 31.7h2v2h-2zM418.3 31.7h2v2h-2zM420.3 33.7h2v2h-2zM430.3 43.7h2v2h-2zM432.3 45.7h2v2h-2zM438.3 49.7h2v2h-2zM440.3 51.7h2v2h-2zM442.3 53.7h4v2h-4zM446.3 55.7h2v2h-2zM450.3 57.7h4v2h-4zM458.3 59.7h6v2h-6zM466.3 61.7h6v2h-6zM474.3 63.7h2v2h-2zM478.3 65.7h2v2h-2zM480.3 67.7h4v2h-4zM486.3 69.7h4v2h-4zM492.3 71.7h4v2h-4zM512.3 73.7h6v2h-6z"/>
<path fill="#b43c38" d="M386.3 7.7h2v2h-2zM370.3 25.7h2v2h-2zM416.3 33.7h2v2h-2zM422.3 41.7h2v2h-2zM428.3 47.7h2v2h-2zM438.3 55.7h2v2h-2zM440.3 57.7h2v2h-2zM450.3 63.7h2v2h-2zM458.3 65.7h2v2h-2zM464.3 67.7h4v2h-4zM476.3 71.7h2v2h-2zM484.3 75.7h2v2h-2zM490.3 77.7h2v2h-2zM496.3 79.7h18v2h-18z"/>
<path fill="#bc403c" d="M388.3 7.7h2v2h-2zM414.3 33.7h2v2h-2zM416.3 35.7h2v2h-2zM422.3 43.7h2v2h-2zM426.3 47.7h2v2h-2zM428.3 49.7h2v2h-2zM430.3 51.7h2v2h-2zM440.3 59.7h2v2h-2zM446.3 63.7h2v2h-2zM456.3 67.7h2v2h-2zM462.3 69.7h4v2h-4zM472.3 71.7h2v2h-2zM478.3 75.7h2v2h-2zM482.3 77.7h2v2h-2zM488.3 79.7h2v2h-2zM494.3 81.7h2v2h-2z"/>
<path fill="#b84038" d="M390.3 7.7h2v2h-2zM382.3 13.7h2v2h-2zM396.3 15.7h2v2h-2zM410.3 29.7h2v2h-2zM412.3 31.7h2v2h-2zM362.3 33.7h2v2h-2zM360.3 35.7h2v2h-2zM418.3 37.7h2v2h-2zM424.3 45.7h2v2h-2zM434.3 53.7h2v2h-2zM436.3 55.7h2v2h-2zM438.3 57.7h2v2h-2zM444.3 61.7h2v2h-2zM450.3 65.7h4v2h-4zM458.3 67.7h2v2h-2zM466.3 69.7h6v2h-6zM476.3 73.7h2v2h-2zM484.3 77.7h2v2h-2zM490.3 79.7h2v2h-2zM496.3 81.7h22v2h-22z"/>
<path fill="#9c1c2c" d="M396.3 7.7h2v2h-2zM398.3 9.7h2v2h-2zM376.3 11.7h2v2h-2zM368.3 17.7h2v2h-2zM412.3 19.7h2v2h-2zM358.3 25.7h2v2h-2zM422.3 29.7h2v2h-2zM426.3 33.7h2v2h-2zM428.3 35.7h2v2h-2zM434.3 39.7h2v2h-2zM442.3 45.7h2v2h-2zM446.3 47.7h2v2h-2zM450.3 49.7h4v2h-4zM460.3 51.7h4v2h-4zM472.3 53.7h2v2h-2zM478.3 57.7h2v2h-2zM482.3 59.7h4v2h-4zM488.3 61.7h4v2h-4zM496.3 63.7h14v2h-14z"/>
<path fill="#b43838" d="M384.3 9.7h2v2h-2zM394.3 11.7h2v2h-2zM378.3 17.7h2v2h-2zM376.3 19.7h2v2h-2zM374.3 21.7h2v2h-2zM372.3 23.7h2v2h-2zM410.3 27.7h2v2h-2zM364.3 29.7h2v2h-2zM412.3 29.7h2v2h-2zM362.3 31.7h2v2h-2zM414.3 31.7h2v2h-2zM360.3 33.7h2v2h-2zM418.3 35.7h2v2h-2zM424.3 43.7h2v2h-2zM426.3 45.7h2v2h-2zM432.3 49.7h2v2h-2zM434.3 51.7h2v2h-2zM436.3 53.7h2v2h-2zM442.3 57.7h2v2h-2zM444.3 59.7h2v2h-2zM448.3 61.7h2v2h-2zM452.3 63.7h4v2h-4zM460.3 65.7h4v2h-4zM468.3 67.7h6v2h-6zM474.3 69.7h2v2h-2zM478.3 71.7h2v2h-2zM480.3 73.7h4v2h-4zM486.3 75.7h4v2h-4zM492.3 77.7h4v2h-4zM514.3 79.7h4v2h-4z"/>
<path fill="#c0483c" d="M386.3 9.7h2v2h-2zM392.3 11.7h2v2h-2zM380.3 17.7h2v2h-2zM398.3 19.7h2v2h-2zM400.3 21.7h2v2h-2zM410.3 31.7h2v2h-2zM412.3 33.7h2v2h-2zM362.3 35.7h2v2h-2zM414.3 35.7h2v2h-2zM416.3 37.7h2v2h-2zM422.3 45.7h2v2h-2zM424.3 47.7h2v2h-2zM426.3 49.7h2v2h-2zM428.3 51.7h2v2h-2zM430.3 53.7h2v2h-2zM438.3 59.7h2v2h-2zM440.3 61.7h2v2h-2zM442.3 63.7h2v2h-2zM446.3 65.7h2v2h-2zM448.3 67.7h2v2h-2zM454.3 69.7h4v2h-4zM460.3 71.7h4v2h-4zM468.3 73.7h4v2h-4zM474.3 75.7h2v2h-2zM476.3 77.7h4v2h-4zM480.3 79.7h2v2h-2zM486.3 81.7h4v2h-4zM492.3 83.7h4v2h-4zM508.3 85.7h10v2h-10z"/>
<path fill="#c85040" d="M388.3 9.7h2v2h-2zM384.3 13.7h2v2h-2zM394.3 15.7h2v2h-2zM378.3 21.7h2v2h-2zM400.3 23.7h2v2h-2zM402.3 25.7h2v2h-2zM404.3 27.7h2v2h-2zM410.3 33.7h2v2h-2zM412.3 35.7h2v2h-2zM414.3 37.7h2v2h-2zM416.3 39.7h2v2h-2zM358.3 43.7h2v2h-2zM420.3 45.7h2v2h-2zM422.3 47.7h2v2h-2zM430.3 55.7h2v2h-2zM432.3 57.7h2v2h-2zM442.3 65.7h2v2h-2zM444.3 67.7h2v2h-2zM448.3 69.7h2v2h-2zM450.3 71.7h4v2h-4zM458.3 73.7h4v2h-4zM464.3 75.7h6v2h-6zM472.3 77.7h2v2h-2zM476.3 79.7h2v2h-2zM478.3 81.7h2v2h-2zM482.3 83.7h4v2h-4zM488.3 85.7h4v2h-4zM494.3 87.7h24v2h-24z"/>
<path fill="#c44c40" d="M390.3 9.7h2v2h-2zM376.3 23.7h2v2h-2zM374.3 25.7h2v2h-2zM406.3 29.7h2v2h-2zM366.3 33.7h2v2h-2zM364.3 35.7h2v2h-2zM362.3 37.7h2v2h-2zM360.3 39.7h2v2h-2zM418.3 41.7h2v2h-2zM424.3 49.7h2v2h-2zM426.3 51.7h2v2h-2zM438.3 61.7h2v2h-2zM440.3 63.7h2v2h-2zM446.3 67.7h2v2h-2zM454.3 71.7h4v2h-4zM462.3 73.7h2v2h-2zM470.3 75.7h2v2h-2zM474.3 77.7h2v2h-2zM480.3 81.7h2v2h-2zM486.3 83.7h2v2h-2zM492.3 85.7h2v2h-2z"/>
<path fill="#b83c38" d="M392.3 9.7h2v2h-2zM380.3 15.7h2v2h-2zM398.3 17.7h2v2h-2zM400.3 19.7h2v2h-2zM402.3 21.7h2v2h-2zM404.3 23.7h2v2h-2zM406.3 25.7h2v2h-2zM368.3 27.7h2v2h-2zM408.3 27.7h2v2h-2zM366.3 29.7h2v2h-2zM364.3 31.7h2v2h-2zM358.3 37.7h2v2h-2zM420.3 39.7h2v2h-2zM430.3 49.7h2v2h-2zM432.3 51.7h2v2h-2zM442.3 59.7h2v2h-2zM446.3 61.7h2v2h-2zM448.3 63.7h2v2h-2zM454.3 65.7h4v2h-4zM460.3 67.7h4v2h-4zM472.3 69.7h2v2h-2zM474.3 71.7h2v2h-2zM478.3 73.7h2v2h-2zM480.3 75.7h4v2h-4zM486.3 77.7h4v2h-4zM492.3 79.7h4v2h-4z"/>
<path fill="#ac2c34" d="M394.3 9.7h2v2h-2zM406.3 21.7h2v2h-2zM368.3 23.7h2v2h-2zM414.3 27.7h2v2h-2zM424.3 39.7h2v2h-2zM434.3 47.7h2v2h-2zM448.3 57.7h2v2h-2zM456.3 59.7h2v2h-2zM464.3 61.7h2v2h-2zM472.3 63.7h2v2h-2zM476.3 65.7h2v2h-2zM484.3 69.7h2v2h-2zM490.3 71.7h2v2h-2zM496.3 73.7h16v2h-16z"/>
<path fill="#941c2c" d="M400.3 9.7h2v2h-2zM374.3 11.7h2v2h-2zM368.3 15.7h2v2h-2zM408.3 15.7h2v2h-2zM412.3 17.7h2v2h-2zM358.3 23.7h2v2h-2zM422.3 27.7h2v2h-2zM424.3 29.7h2v2h-2zM426.3 31.7h2v2h-2zM432.3 35.7h2v2h-2zM440.3 41.7h2v2h-2zM444.3 43.7h2v2h-2zM452.3 47.7h6v2h-6zM464.3 49.7h8v2h-8zM474.3 51.7h2v2h-2zM476.3 53.7h2v2h-2zM480.3 55.7h2v2h-2zM484.3 57.7h4v2h-4zM492.3 59.7h2v2h-2zM504.3 61.7h14v2h-14z"/>
<path fill="#a82834" d="M380.3 11.7h2v2h-2zM376.3 15.7h2v2h-2zM374.3 17.7h2v2h-2zM408.3 21.7h2v2h-2zM366.3 23.7h2v2h-2zM410.3 23.7h2v2h-2zM416.3 27.7h2v2h-2zM422.3 35.7h2v2h-2zM424.3 37.7h2v2h-2zM426.3 39.7h2v2h-2zM428.3 41.7h2v2h-2zM434.3 45.7h2v2h-2zM436.3 47.7h2v2h-2zM442.3 51.7h2v2h-2zM448.3 55.7h2v2h-2zM454.3 57.7h4v2h-4zM464.3 59.7h6v2h-6zM472.3 61.7h2v2h-2zM476.3 63.7h2v2h-2zM484.3 67.7h2v2h-2zM490.3 69.7h2v2h-2zM496.3 71.7h22v2h-22z"/>
<path fill="#b03438" d="M382.3 11.7h2v2h-2zM396.3 13.7h2v2h-2zM406.3 23.7h2v2h-2zM368.3 25.7h2v2h-2zM408.3 25.7h2v2h-2zM366.3 27.7h2v2h-2zM416.3 31.7h2v2h-2zM358.3 35.7h2v2h-2zM422.3 39.7h2v2h-2zM428.3 45.7h2v2h-2zM430.3 47.7h2v2h-2zM438.3 53.7h2v2h-2zM440.3 55.7h2v2h-2zM446.3 59.7h2v2h-2zM450.3 61.7h2v2h-2zM458.3 63.7h2v2h-2zM466.3 65.7h6v2h-6zM476.3 69.7h2v2h-2zM480.3 71.7h2v2h-2zM484.3 73.7h4v2h-4zM490.3 75.7h4v2h-4zM502.3 77.7h16v2h-16z"/>
<path fill="#bc443c" d="M384.3 11.7h2v2h-2zM394.3 13.7h2v2h-2zM378.3 19.7h2v2h-2zM376.3 21.7h2v2h-2zM374.3 23.7h2v2h-2zM372.3 25.7h2v2h-2zM370.3 27.7h2v2h-2zM406.3 27.7h2v2h-2zM368.3 29.7h2v2h-2zM366.3 31.7h2v2h-2zM358.3 39.7h2v2h-2zM420.3 41.7h2v2h-2zM432.3 53.7h2v2h-2zM442.3 61.7h2v2h-2zM444.3 63.7h2v2h-2zM448.3 65.7h2v2h-2zM452.3 67.7h4v2h-4zM458.3 69.7h4v2h-4zM466.3 71.7h6v2h-6zM474.3 73.7h2v2h-2zM476.3 75.7h2v2h-2zM480.3 77.7h2v2h-2zM484.3 79.7h4v2h-4zM490.3 81.7h4v2h-4zM500.3 83.7h18v2h-18z"/>
<path fill="#cc5844" d="M386.3 11.7h2v2h-2zM392.3 13.7h2v2h-2zM374.3 27.7h2v2h-2zM372.3 29.7h2v2h-2zM364.3 37.7h2v2h-2zM362.3 39.7h2v2h-2zM422.3 49.7h2v2h-2zM428.3 55.7h2v2h-2zM430.3 57.7h2v2h-2zM442.3 67.7h2v2h-2zM448.3 71.7h2v2h-2zM452.3 73.7h2v2h-2zM458.3 75.7h2v2h-2zM464.3 77.7h2v2h-2zM472.3 79.7h2v2h-2zM478.3 83.7h2v2h-2zM482.3 85.7h2v2h-2zM488.3 87.7h2v2h-2zM496.3 89.7h4v2h-4z"/>
<path fill="#d06450" d="M388.3 11.7h2v2h-2zM380.3 21.7h2v2h-2zM372.3 31.7h2v2h-2zM406.3 33.7h2v2h-2zM408.3 35.7h2v2h-2zM410.3 37.7h2v2h-2zM412.3 39.7h2v2h-2zM414.3 41.7h2v2h-2zM416.3 43.7h2v2h-2zM358.3 47.7h2v2h-2zM432.3 61.7h2v2h-2zM434.3 63.7h2v2h-2zM436.3 65.7h2v2h-2zM438.3 67.7h2v2h-2zM440.3 69.7h2v2h-2zM446.3 73.7h2v2h-2zM454.3 77.7h2v2h-2zM460.3 79.7h2v2h-2zM466.3 81.7h4v2h-4zM476.3 85.7h2v2h-2zM484.3 89.7h2v2h-2zM490.3 91.7h2v2h-2zM496.3 93.7h22v2h-22z"/>
<path fill="#d0604c" d="M390.3 11.7h2v2h-2zM366.3 37.7h2v2h-2zM364.3 39.7h2v2h-2zM362.3 41.7h2v2h-2zM430.3 59.7h2v2h-2zM474.3 83.7h2v2h-2zM494.3 91.7h2v2h-2z"/>
<path fill="#a42830" d="M378.3 13.7h2v2h-2zM406.3 19.7h2v2h-2zM368.3 21.7h2v2h-2zM362.3 25.7h2v2h-2zM414.3 25.7h2v2h-2zM360.3 27.7h2v2h-2zM418.3 29.7h2v2h-2zM432.3 43.7h2v2h-2zM440.3 49.7h2v2h-2zM446.3 53.7h2v2h-2zM450.3 55.7h4v2h-4zM458.3 57.7h4v2h-4zM470.3 59.7h2v2h-2zM474.3 61.7h2v2h-2zM478.3 63.7h2v2h-2zM480.3 65.7h4v2h-4zM486.3 67.7h4v2h-4zM492.3 69.7h4v2h-4z"/>
<path fill="#b03034" d="M380.3 13.7h2v2h-2zM372.3 21.7h2v2h-2zM412.3 27.7h2v2h-2zM362.3 29.7h2v2h-2zM360.3 31.7h2v2h-2zM432.3 47.7h2v2h-2zM442.3 55.7h2v2h-2zM464.3 63.7h2v2h-2zM496.3 75.7h6v2h-6z"/>
<path fill="#d46c58" d="M386.3 13.7h2v2h-2zM382.3 19.7h2v2h-2zM378.3 25.7h2v2h-2zM402.3 29.7h2v2h-2zM368.3 37.7h2v2h-2zM366.3 39.7h2v2h-2zM364.3 41.7h2v2h-2zM362.3 43.7h2v2h-2zM422.3 53.7h2v2h-2zM432.3 63.7h2v2h-2zM434.3 65.7h2v2h-2zM436.3 67.7h2v2h-2zM446.3 75.7h2v2h-2zM454.3 79.7h2v2h-2zM460.3 81.7h2v2h-2zM466.3 83.7h4v2h-4zM472.3 85.7h2v2h-2zM476.3 87.7h2v2h-2zM484.3 91.7h2v2h-2zM490.3 93.7h2v2h-2zM496.3 95.7h22v2h-22z"/>
<path fill="#d87864" d="M388.3 13.7h2v2h-2zM376.3 29.7h2v2h-2zM402.3 31.7h2v2h-2zM368.3 39.7h2v2h-2zM366.3 41.7h2v2h-2zM364.3 43.7h2v2h-2zM362.3 45.7h2v2h-2zM416.3 47.7h2v2h-2zM434.3 67.7h2v2h-2zM436.3 69.7h2v2h-2zM438.3 71.7h2v2h-2zM440.3 73.7h2v2h-2zM442.3 75.7h2v2h-2zM448.3 79.7h2v2h-2zM452.3 81.7h2v2h-2zM458.3 83.7h2v2h-2zM462.3 85.7h4v2h-4zM470.3 87.7h2v2h-2zM474.3 89.7h2v2h-2zM480.3 93.7h2v2h-2zM486.3 95.7h2v2h-2zM492.3 97.7h4v2h-4z"/>
<path fill="#d47460" d="M390.3 13.7h2v2h-2zM384.3 17.7h2v2h-2zM394.3 19.7h2v2h-2zM380.3 23.7h2v2h-2zM374.3 31.7h2v2h-2zM406.3 35.7h2v2h-2zM360.3 47.7h2v2h-2zM418.3 49.7h2v2h-2zM424.3 57.7h2v2h-2zM426.3 59.7h2v2h-2zM428.3 61.7h2v2h-2zM430.3 63.7h2v2h-2zM432.3 65.7h2v2h-2zM444.3 75.7h2v2h-2zM450.3 79.7h2v2h-2zM454.3 81.7h2v2h-2zM460.3 83.7h2v2h-2zM466.3 85.7h4v2h-4zM472.3 87.7h2v2h-2zM476.3 89.7h2v2h-2zM484.3 93.7h2v2h-2zM490.3 95.7h2v2h-2zM496.3 97.7h22v2h-22z"/>
<path fill="#c44c3c" d="M382.3 15.7h2v2h-2zM396.3 17.7h2v2h-2zM372.3 27.7h2v2h-2zM370.3 29.7h2v2h-2zM368.3 31.7h2v2h-2zM358.3 41.7h2v2h-2zM420.3 43.7h2v2h-2zM434.3 57.7h2v2h-2zM436.3 59.7h2v2h-2zM444.3 65.7h2v2h-2zM450.3 69.7h2v2h-2zM458.3 71.7h2v2h-2zM464.3 73.7h2v2h-2zM472.3 75.7h2v2h-2zM478.3 79.7h2v2h-2zM482.3 81.7h2v2h-2zM488.3 83.7h2v2h-2zM494.3 85.7h8v2h-8z"/>
<path fill="#d06050" d="M384.3 15.7h2v2h-2zM394.3 17.7h2v2h-2zM398.3 23.7h2v2h-2zM370.3 33.7h2v2h-2zM368.3 35.7h2v2h-2zM422.3 51.7h2v2h-2zM444.3 71.7h2v2h-2zM450.3 75.7h2v2h-2zM456.3 77.7h2v2h-2zM462.3 79.7h2v2h-2zM470.3 81.7h2v2h-2zM480.3 87.7h2v2h-2zM486.3 89.7h2v2h-2zM492.3 91.7h2v2h-2z"/>
<path fill="#dc806c" d="M386.3 15.7h2v2h-2zM362.3 47.7h2v2h-2zM422.3 57.7h2v2h-2zM434.3 69.7h2v2h-2zM436.3 71.7h2v2h-2zM438.3 73.7h2v2h-2zM440.3 75.7h2v2h-2zM448.3 81.7h2v2h-2zM452.3 83.7h2v2h-2zM470.3 89.7h2v2h-2zM480.3 95.7h2v2h-2zM486.3 97.7h2v2h-2zM492.3 99.7h2v2h-2z"/>
<path fill="#e0907c" d="M388.3 15.7h2v2h-2zM382.3 23.7h2v2h-2zM366.3 45.7h2v2h-2zM414.3 49.7h2v2h-2zM358.3 55.7h2v2h-2zM420.3 57.7h2v2h-2zM446.3 83.7h2v2h-2zM458.3 89.7h2v2h-2zM464.3 91.7h2v2h-2zM470.3 93.7h2v2h-2zM474.3 95.7h2v2h-2zM480.3 99.7h2v2h-2zM486.3 101.7h2v2h-2zM492.3 103.7h2v2h-2z"/>
<path fill="#e08c74" d="M390.3 15.7h2v2h-2zM408.3 41.7h2v2h-2zM422.3 59.7h2v2h-2zM434.3 71.7h2v2h-2zM436.3 73.7h2v2h-2zM438.3 75.7h2v2h-2zM468.3 91.7h2v2h-2zM476.3 95.7h2v2h-2zM484.3 99.7h2v2h-2zM506.3 103.7h6v2h-6z"/>
<path fill="#d06858" d="M392.3 15.7h2v2h-2zM396.3 21.7h2v2h-2zM430.3 61.7h2v2h-2zM444.3 73.7h2v2h-2zM450.3 77.7h2v2h-2zM456.3 79.7h2v2h-2zM470.3 83.7h2v2h-2z"/>
<path fill="#cc5848" d="M382.3 17.7h2v2h-2zM396.3 19.7h2v2h-2zM406.3 31.7h2v2h-2zM408.3 33.7h2v2h-2zM410.3 35.7h2v2h-2zM412.3 37.7h2v2h-2zM414.3 39.7h2v2h-2zM416.3 41.7h2v2h-2zM432.3 59.7h2v2h-2zM444.3 69.7h2v2h-2zM450.3 73.7h2v2h-2zM456.3 75.7h2v2h-2zM474.3 81.7h2v2h-2zM494.3 89.7h2v2h-2z"/>
<path fill="#e09480" d="M386.3 17.7h2v2h-2zM398.3 29.7h2v2h-2zM368.3 43.7h2v2h-2zM410.3 45.7h2v2h-2zM412.3 47.7h2v2h-2zM360.3 53.7h2v2h-2zM418.3 55.7h2v2h-2zM422.3 61.7h2v2h-2zM434.3 73.7h2v2h-2zM436.3 75.7h2v2h-2zM438.3 77.7h2v2h-2zM440.3 79.7h2v2h-2zM442.3 81.7h2v2h-2zM448.3 85.7h2v2h-2zM456.3 89.7h2v2h-2zM466.3 93.7h2v2h-2zM472.3 95.7h2v2h-2zM478.3 99.7h2v2h-2zM482.3 101.7h2v2h-2zM490.3 103.7h2v2h-2zM496.3 105.7h8v2h-8z"/>
<path fill="#e8a494" d="M388.3 17.7h2v2h-2zM372.3 41.7h2v2h-2zM406.3 43.7h2v2h-2zM414.3 53.7h2v2h-2zM434.3 77.7h2v2h-2zM442.3 85.7h2v2h-2zM450.3 91.7h2v2h-2zM464.3 97.7h2v2h-2zM470.3 99.7h2v2h-2zM480.3 105.7h2v2h-2zM486.3 107.7h2v2h-2zM492.3 109.7h2v2h-2z"/>
<path fill="#e4a08c" d="M390.3 17.7h2v2h-2zM382.3 25.7h2v2h-2zM374.3 37.7h2v2h-2zM404.3 39.7h2v2h-2zM368.3 45.7h2v2h-2zM410.3 47.7h2v2h-2zM360.3 55.7h2v2h-2zM418.3 57.7h2v2h-2zM422.3 63.7h2v2h-2zM444.3 85.7h2v2h-2zM454.3 91.7h2v2h-2zM458.3 93.7h2v2h-2zM464.3 95.7h2v2h-2zM470.3 97.7h2v2h-2zM474.3 99.7h2v2h-2zM476.3 101.7h2v2h-2zM480.3 103.7h2v2h-2zM484.3 105.7h4v2h-4zM492.3 107.7h2v2h-2zM506.3 109.7h12v2h-12z"/>
<path fill="#d88068" d="M392.3 17.7h2v2h-2zM372.3 35.7h2v2h-2zM408.3 39.7h2v2h-2zM446.3 79.7h2v2h-2zM488.3 97.7h2v2h-2zM494.3 99.7h2v2h-2z"/>
<path fill="#c85440" d="M380.3 19.7h2v2h-2zM398.3 21.7h2v2h-2zM434.3 59.7h2v2h-2zM436.3 61.7h2v2h-2zM438.3 63.7h2v2h-2zM440.3 65.7h2v2h-2zM446.3 69.7h2v2h-2zM456.3 73.7h2v2h-2zM462.3 75.7h2v2h-2zM470.3 77.7h2v2h-2zM474.3 79.7h2v2h-2zM480.3 83.7h2v2h-2zM486.3 85.7h2v2h-2zM492.3 87.7h2v2h-2z"/>
<path fill="#dc8874" d="M384.3 19.7h2v2h-2zM376.3 31.7h2v2h-2zM402.3 33.7h2v2h-2zM370.3 39.7h2v2h-2zM410.3 43.7h2v2h-2zM412.3 45.7h2v2h-2zM424.3 61.7h2v2h-2zM426.3 63.7h2v2h-2zM428.3 65.7h2v2h-2zM430.3 67.7h2v2h-2zM432.3 69.7h2v2h-2zM446.3 81.7h2v2h-2zM458.3 87.7h2v2h-2zM464.3 89.7h2v2h-2zM470.3 91.7h2v2h-2zM474.3 93.7h2v2h-2zM480.3 97.7h2v2h-2zM486.3 99.7h2v2h-2zM492.3 101.7h2v2h-2z"/>
<path fill="#e8a898" d="M386.3 19.7h2v2h-2zM394.3 25.7h2v2h-2zM368.3 47.7h2v2h-2zM412.3 51.7h2v2h-2zM360.3 57.7h2v2h-2zM418.3 59.7h2v2h-2zM422.3 65.7h2v2h-2zM446.3 89.7h2v2h-2zM452.3 93.7h2v2h-2zM462.3 97.7h2v2h-2zM466.3 99.7h4v2h-4zM472.3 101.7h2v2h-2zM478.3 105.7h2v2h-2zM482.3 107.7h2v2h-2zM490.3 109.7h2v2h-2zM496.3 111.7h10v2h-10z"/>
<path fill="#ecb8ac" d="M388.3 19.7h2v2h-2zM394.3 27.7h2v2h-2zM378.3 35.7h2v2h-2zM374.3 41.7h2v2h-2zM370.3 47.7h2v2h-2zM408.3 49.7h2v2h-2zM364.3 55.7h2v2h-2zM414.3 57.7h2v2h-2zM446.3 93.7h2v2h-2zM448.3 95.7h2v2h-2zM452.3 97.7h2v2h-2zM456.3 99.7h2v2h-2zM460.3 101.7h2v2h-2zM464.3 103.7h2v2h-2zM470.3 105.7h2v2h-2zM474.3 107.7h2v2h-2zM480.3 111.7h2v2h-2zM486.3 113.7h2v2h-2zM492.3 115.7h2v2h-2z"/>
<path fill="#e8b0a4" d="M390.3 19.7h2v2h-2zM376.3 37.7h2v2h-2zM406.3 45.7h2v2h-2zM366.3 51.7h2v2h-2zM360.3 59.7h2v2h-2zM456.3 97.7h2v2h-2z"/>
<path fill="#e0947c" d="M392.3 19.7h2v2h-2zM374.3 35.7h2v2h-2zM404.3 37.7h2v2h-2zM424.3 63.7h2v2h-2zM426.3 65.7h2v2h-2zM428.3 67.7h2v2h-2zM430.3 69.7h2v2h-2zM432.3 71.7h2v2h-2zM452.3 87.7h2v2h-2zM462.3 91.7h2v2h-2zM468.3 93.7h2v2h-2zM476.3 97.7h2v2h-2zM484.3 101.7h2v2h-2zM504.3 105.7h14v2h-14z"/>
<path fill="#d87c68" d="M382.3 21.7h2v2h-2zM396.3 23.7h2v2h-2zM378.3 27.7h2v2h-2zM400.3 29.7h2v2h-2zM370.3 37.7h2v2h-2zM410.3 41.7h2v2h-2zM412.3 43.7h2v2h-2zM424.3 59.7h2v2h-2zM426.3 61.7h2v2h-2zM428.3 63.7h2v2h-2zM430.3 65.7h2v2h-2zM444.3 77.7h2v2h-2zM450.3 81.7h2v2h-2zM454.3 83.7h2v2h-2zM460.3 85.7h2v2h-2zM466.3 87.7h4v2h-4zM472.3 89.7h2v2h-2zM476.3 91.7h2v2h-2zM478.3 93.7h2v2h-2zM482.3 95.7h4v2h-4zM490.3 97.7h2v2h-2zM496.3 99.7h16v2h-16z"/>
<path fill="#e49c88" d="M384.3 21.7h2v2h-2zM378.3 31.7h2v2h-2zM400.3 33.7h2v2h-2zM366.3 47.7h2v2h-2zM414.3 51.7h2v2h-2zM424.3 65.7h2v2h-2zM426.3 67.7h2v2h-2zM428.3 69.7h2v2h-2zM430.3 71.7h2v2h-2zM432.3 73.7h2v2h-2zM434.3 75.7h2v2h-2zM436.3 77.7h2v2h-2zM438.3 79.7h2v2h-2zM440.3 81.7h2v2h-2zM442.3 83.7h2v2h-2zM448.3 87.7h2v2h-2zM452.3 89.7h2v2h-2zM456.3 91.7h2v2h-2zM460.3 93.7h2v2h-2zM466.3 95.7h2v2h-2zM472.3 97.7h2v2h-2zM478.3 101.7h2v2h-2zM482.3 103.7h2v2h-2zM488.3 105.7h4v2h-4zM494.3 107.7h10v2h-10z"/>
<path fill="#ecbcac" d="M386.3 21.7h2v2h-2zM360.3 61.7h2v2h-2zM418.3 63.7h2v2h-2zM422.3 69.7h2v2h-2zM476.3 109.7h2v2h-2zM508.3 117.7h10v2h-10z"/>
<path fill="#f0c8c0" d="M388.3 21.7h2v2h-2zM386.3 23.7h2v2h-2zM396.3 33.7h2v2h-2zM376.3 41.7h2v2h-2zM402.3 43.7h2v2h-2zM372.3 47.7h2v2h-2zM368.3 53.7h2v2h-2zM410.3 55.7h2v2h-2zM364.3 59.7h2v2h-2zM414.3 61.7h2v2h-2zM422.3 73.7h2v2h-2zM440.3 93.7h2v2h-2zM450.3 101.7h2v2h-2zM454.3 103.7h2v2h-2zM458.3 105.7h2v2h-2zM462.3 107.7h2v2h-2zM466.3 109.7h2v2h-2zM474.3 113.7h2v2h-2zM478.3 115.7h2v2h-2zM482.3 117.7h2v2h-2zM486.3 119.7h4v2h-4zM494.3 121.7h2v2h-2z"/>
<path fill="#f0c4b8" d="M390.3 21.7h2v2h-2zM380.3 33.7h2v2h-2zM400.3 39.7h2v2h-2zM374.3 43.7h2v2h-2zM404.3 45.7h2v2h-2zM370.3 49.7h2v2h-2zM408.3 51.7h2v2h-2zM364.3 57.7h2v2h-2zM414.3 59.7h2v2h-2zM360.3 63.7h2v2h-2zM418.3 65.7h2v2h-2zM422.3 71.7h2v2h-2zM438.3 89.7h2v2h-2zM440.3 91.7h2v2h-2zM442.3 93.7h2v2h-2zM450.3 99.7h2v2h-2zM454.3 101.7h2v2h-2zM458.3 103.7h2v2h-2zM462.3 105.7h2v2h-2zM466.3 107.7h4v2h-4zM472.3 109.7h2v2h-2zM478.3 113.7h2v2h-2zM482.3 115.7h2v2h-2zM488.3 117.7h2v2h-2zM494.3 119.7h6v2h-6z"/>
<path fill="#e4a494" d="M392.3 21.7h2v2h-2zM380.3 29.7h2v2h-2zM364.3 51.7h2v2h-2zM424.3 67.7h2v2h-2zM432.3 75.7h2v2h-2zM436.3 79.7h2v2h-2zM438.3 81.7h2v2h-2zM440.3 83.7h2v2h-2zM474.3 101.7h2v2h-2z"/>
<path fill="#dc8870" d="M394.3 21.7h2v2h-2zM368.3 41.7h2v2h-2zM454.3 85.7h2v2h-2zM488.3 99.7h2v2h-2zM494.3 101.7h2v2h-2z"/>
<path fill="#cc5c48" d="M378.3 23.7h2v2h-2zM376.3 25.7h2v2h-2zM402.3 27.7h2v2h-2zM404.3 29.7h2v2h-2zM358.3 45.7h2v2h-2zM420.3 47.7h2v2h-2zM434.3 61.7h2v2h-2zM436.3 63.7h2v2h-2zM438.3 65.7h2v2h-2zM440.3 67.7h2v2h-2zM446.3 71.7h2v2h-2zM454.3 75.7h2v2h-2zM460.3 77.7h4v2h-4zM468.3 79.7h4v2h-4zM476.3 83.7h2v2h-2zM480.3 85.7h2v2h-2zM484.3 87.7h4v2h-4zM492.3 89.7h2v2h-2zM506.3 91.7h12v2h-12z"/>
<path fill="#e8ac9c" d="M384.3 23.7h2v2h-2zM396.3 29.7h2v2h-2zM374.3 39.7h2v2h-2zM404.3 41.7h2v2h-2zM370.3 45.7h2v2h-2zM410.3 49.7h2v2h-2zM362.3 55.7h2v2h-2zM416.3 57.7h2v2h-2zM358.3 61.7h2v2h-2zM420.3 63.7h2v2h-2zM424.3 69.7h2v2h-2zM426.3 71.7h2v2h-2zM428.3 73.7h2v2h-2zM430.3 75.7h2v2h-2zM432.3 77.7h2v2h-2zM434.3 79.7h2v2h-2zM436.3 81.7h2v2h-2zM438.3 83.7h2v2h-2zM440.3 85.7h2v2h-2zM442.3 87.7h2v2h-2zM450.3 93.7h2v2h-2zM454.3 95.7h2v2h-2zM460.3 97.7h2v2h-2zM464.3 99.7h2v2h-2zM470.3 101.7h2v2h-2zM474.3 103.7h2v2h-2zM476.3 105.7h2v2h-2zM480.3 107.7h2v2h-2zM486.3 109.7h2v2h-2zM492.3 111.7h2v2h-2zM510.3 113.7h8v2h-8z"/>
<path fill="#ecd4d0" d="M388.3 23.7h2v2h-2zM386.3 25.7h2v2h-2zM384.3 29.7h2v2h-2zM382.3 33.7h2v2h-2zM380.3 37.7h2v2h-2zM400.3 43.7h2v2h-2zM374.3 47.7h2v2h-2zM406.3 53.7h2v2h-2zM368.3 57.7h2v2h-2zM410.3 59.7h2v2h-2zM364.3 63.7h2v2h-2zM414.3 65.7h2v2h-2zM360.3 69.7h2v2h-2zM418.3 71.7h2v2h-2zM422.3 77.7h2v2h-2zM428.3 85.7h2v2h-2zM430.3 87.7h2v2h-2zM432.3 89.7h2v2h-2zM434.3 91.7h2v2h-2zM436.3 93.7h2v2h-2zM438.3 95.7h2v2h-2zM444.3 101.7h2v2h-2zM446.3 103.7h2v2h-2zM448.3 105.7h2v2h-2zM450.3 107.7h2v2h-2zM454.3 109.7h2v2h-2zM458.3 111.7h2v2h-2zM462.3 113.7h2v2h-2zM464.3 115.7h4v2h-4zM470.3 117.7h2v2h-2zM474.3 119.7h2v2h-2zM476.3 121.7h4v2h-4zM480.3 123.7h4v2h-4zM484.3 125.7h6v2h-6zM492.3 127.7h4v2h-4zM504.3 129.7h14v2h-14z"/>
<path fill="#ecd0c8" d="M390.3 23.7h2v2h-2zM378.3 39.7h2v2h-2zM402.3 45.7h2v2h-2zM372.3 49.7h2v2h-2zM406.3 51.7h2v2h-2zM368.3 55.7h2v2h-2zM410.3 57.7h2v2h-2zM364.3 61.7h2v2h-2zM414.3 63.7h2v2h-2zM360.3 67.7h2v2h-2zM418.3 69.7h2v2h-2zM422.3 75.7h2v2h-2zM430.3 85.7h2v2h-2zM432.3 87.7h2v2h-2zM434.3 89.7h2v2h-2zM436.3 91.7h2v2h-2zM438.3 93.7h2v2h-2zM440.3 95.7h2v2h-2zM442.3 97.7h2v2h-2zM444.3 99.7h2v2h-2zM446.3 101.7h2v2h-2zM448.3 103.7h2v2h-2zM452.3 105.7h2v2h-2zM456.3 107.7h2v2h-2zM460.3 109.7h2v2h-2zM464.3 111.7h2v2h-2zM468.3 113.7h2v2h-2zM472.3 115.7h2v2h-2zM476.3 117.7h2v2h-2zM478.3 119.7h2v2h-2zM482.3 121.7h4v2h-4zM488.3 123.7h4v2h-4zM494.3 125.7h24v2h-24z"/>
<path fill="#ecb4a8" d="M392.3 23.7h2v2h-2zM368.3 49.7h2v2h-2zM410.3 51.7h2v2h-2zM362.3 57.7h2v2h-2zM416.3 59.7h2v2h-2zM420.3 65.7h2v2h-2zM426.3 73.7h2v2h-2zM428.3 75.7h2v2h-2zM430.3 77.7h2v2h-2zM432.3 79.7h2v2h-2zM436.3 83.7h2v2h-2zM438.3 85.7h2v2h-2zM442.3 89.7h2v2h-2zM454.3 97.7h2v2h-2zM458.3 99.7h2v2h-2zM468.3 103.7h2v2h-2zM484.3 111.7h2v2h-2zM490.3 113.7h2v2h-2zM496.3 115.7h12v2h-12z"/>
<path fill="#e49884" d="M394.3 23.7h2v2h-2zM402.3 35.7h2v2h-2zM372.3 39.7h2v2h-2zM408.3 43.7h2v2h-2zM362.3 51.7h2v2h-2zM416.3 53.7h2v2h-2zM444.3 83.7h2v2h-2zM446.3 85.7h2v2h-2zM454.3 89.7h2v2h-2zM458.3 91.7h2v2h-2zM464.3 93.7h2v2h-2zM470.3 95.7h2v2h-2zM474.3 97.7h2v2h-2zM476.3 99.7h2v2h-2zM480.3 101.7h2v2h-2zM486.3 103.7h2v2h-2zM492.3 105.7h2v2h-2zM510.3 107.7h8v2h-8z"/>
<path fill="#c0443c" d="M402.3 23.7h2v2h-2zM404.3 25.7h2v2h-2zM408.3 29.7h2v2h-2zM364.3 33.7h2v2h-2zM360.3 37.7h2v2h-2zM418.3 39.7h2v2h-2zM434.3 55.7h2v2h-2zM436.3 57.7h2v2h-2zM450.3 67.7h2v2h-2zM464.3 71.7h2v2h-2zM472.3 73.7h2v2h-2zM482.3 79.7h2v2h-2zM496.3 83.7h4v2h-4z"/>
<path fill="#dc8470" d="M380.3 25.7h2v2h-2zM404.3 35.7h2v2h-2zM366.3 43.7h2v2h-2zM364.3 45.7h2v2h-2zM414.3 47.7h2v2h-2zM416.3 49.7h2v2h-2zM358.3 53.7h2v2h-2zM420.3 55.7h2v2h-2zM444.3 79.7h2v2h-2zM450.3 83.7h2v2h-2zM456.3 85.7h2v2h-2zM460.3 87.7h2v2h-2zM466.3 89.7h2v2h-2zM472.3 91.7h2v2h-2zM478.3 95.7h2v2h-2zM482.3 97.7h4v2h-4zM490.3 99.7h2v2h-2zM496.3 101.7h12v2h-12z"/>
<path fill="#ecbcb0" d="M384.3 25.7h2v2h-2zM396.3 31.7h2v2h-2zM402.3 41.7h2v2h-2zM406.3 47.7h2v2h-2zM366.3 53.7h2v2h-2zM412.3 55.7h2v2h-2zM428.3 77.7h2v2h-2zM430.3 79.7h2v2h-2zM436.3 85.7h2v2h-2zM438.3 87.7h2v2h-2zM440.3 89.7h2v2h-2zM442.3 91.7h2v2h-2zM450.3 97.7h2v2h-2zM454.3 99.7h2v2h-2zM458.3 101.7h2v2h-2zM462.3 103.7h2v2h-2zM466.3 105.7h4v2h-4zM472.3 107.7h2v2h-2zM478.3 111.7h2v2h-2zM482.3 113.7h4v2h-4zM488.3 115.7h4v2h-4zM496.3 117.7h12v2h-12z"/>
<path fill="#ece0e0" d="M388.3 25.7h2v2h-2zM394.3 35.7h2v2h-2zM396.3 39.7h2v2h-2zM398.3 43.7h2v2h-2zM376.3 47.7h2v2h-2zM374.3 51.7h2v2h-2zM404.3 53.7h2v2h-2zM372.3 55.7h2v2h-2zM406.3 57.7h2v2h-2zM368.3 61.7h2v2h-2zM410.3 63.7h2v2h-2zM364.3 67.7h2v2h-2zM412.3 67.7h2v2h-2zM414.3 69.7h2v2h-2zM362.3 71.7h2v2h-2zM360.3 73.7h2v2h-2zM416.3 73.7h2v2h-2zM358.3 77.7h2v2h-2zM420.3 79.7h2v2h-2zM422.3 83.7h2v2h-2zM424.3 85.7h2v2h-2zM426.3 87.7h2v2h-2zM430.3 93.7h2v2h-2zM432.3 95.7h2v2h-2zM434.3 97.7h2v2h-2zM436.3 99.7h2v2h-2zM438.3 101.7h2v2h-2zM444.3 107.7h2v2h-2zM446.3 109.7h2v2h-2zM448.3 111.7h2v2h-2zM450.3 113.7h2v2h-2zM452.3 115.7h4v2h-4zM454.3 117.7h4v2h-4zM458.3 119.7h4v2h-4zM462.3 121.7h4v2h-4zM464.3 123.7h6v2h-6zM468.3 125.7h6v2h-6zM472.3 127.7h4v2h-4zM476.3 129.7h4v2h-4zM480.3 131.7h4v2h-4zM482.3 133.7h8v2h-8zM490.3 135.7h12v2h-12zM496.3 137.7h22v2h-22z"/>
<path fill="#ecdcd8" d="M390.3 25.7h2v2h-2zM392.3 29.7h2v2h-2zM394.3 33.7h2v2h-2zM396.3 37.7h2v2h-2zM398.3 41.7h2v2h-2zM374.3 49.7h2v2h-2zM406.3 55.7h2v2h-2zM368.3 59.7h2v2h-2zM410.3 61.7h2v2h-2zM364.3 65.7h2v2h-2zM414.3 67.7h2v2h-2zM360.3 71.7h2v2h-2zM420.3 77.7h2v2h-2zM424.3 83.7h2v2h-2zM426.3 85.7h2v2h-2zM428.3 87.7h2v2h-2zM440.3 101.7h2v2h-2zM442.3 103.7h2v2h-2zM444.3 105.7h2v2h-2zM446.3 107.7h2v2h-2zM452.3 111.7h2v2h-2zM458.3 115.7h2v2h-2zM462.3 117.7h2v2h-2zM466.3 119.7h2v2h-2zM470.3 121.7h2v2h-2zM474.3 123.7h2v2h-2zM476.3 125.7h4v2h-4zM480.3 127.7h2v2h-2zM486.3 129.7h4v2h-4zM492.3 131.7h4v2h-4zM510.3 133.7h8v2h-8z"/>
<path fill="#f0c8bc" d="M392.3 25.7h2v2h-2zM394.3 29.7h2v2h-2zM378.3 37.7h2v2h-2zM406.3 49.7h2v2h-2zM366.3 55.7h2v2h-2zM412.3 57.7h2v2h-2zM362.3 61.7h2v2h-2zM416.3 63.7h2v2h-2zM358.3 67.7h2v2h-2zM420.3 69.7h2v2h-2zM424.3 75.7h2v2h-2zM426.3 77.7h2v2h-2zM428.3 79.7h2v2h-2zM430.3 81.7h2v2h-2zM432.3 83.7h2v2h-2zM434.3 85.7h2v2h-2zM444.3 95.7h2v2h-2zM446.3 97.7h2v2h-2zM448.3 99.7h2v2h-2zM452.3 101.7h2v2h-2zM456.3 103.7h2v2h-2zM460.3 105.7h2v2h-2zM464.3 107.7h2v2h-2zM468.3 109.7h4v2h-4zM472.3 111.7h2v2h-2zM476.3 113.7h2v2h-2zM480.3 115.7h2v2h-2zM484.3 117.7h4v2h-4zM490.3 119.7h4v2h-4zM496.3 121.7h22v2h-22z"/>
<path fill="#e08c78" d="M396.3 25.7h2v2h-2zM378.3 29.7h2v2h-2zM372.3 37.7h2v2h-2zM406.3 39.7h2v2h-2zM362.3 49.7h2v2h-2zM442.3 79.7h2v2h-2zM450.3 85.7h2v2h-2zM456.3 87.7h2v2h-2zM466.3 91.7h2v2h-2zM472.3 93.7h2v2h-2zM482.3 99.7h2v2h-2zM490.3 101.7h2v2h-2zM496.3 103.7h10v2h-10z"/>
<path fill="#d4705c" d="M398.3 25.7h2v2h-2zM372.3 33.7h2v2h-2zM408.3 37.7h2v2h-2zM410.3 39.7h2v2h-2zM412.3 41.7h2v2h-2zM414.3 43.7h2v2h-2zM358.3 49.7h2v2h-2zM420.3 51.7h2v2h-2zM440.3 71.7h2v2h-2zM442.3 73.7h2v2h-2zM448.3 77.7h2v2h-2zM452.3 79.7h2v2h-2zM456.3 81.7h4v2h-4zM462.3 83.7h4v2h-4zM470.3 85.7h2v2h-2zM474.3 87.7h2v2h-2zM480.3 91.7h2v2h-2zM486.3 93.7h4v2h-4zM492.3 95.7h4v2h-4z"/>
<path fill="#cc604c" d="M400.3 25.7h2v2h-2zM360.3 43.7h2v2h-2zM418.3 45.7h2v2h-2zM424.3 53.7h2v2h-2zM426.3 55.7h2v2h-2zM428.3 57.7h2v2h-2zM442.3 69.7h2v2h-2zM448.3 73.7h2v2h-2zM452.3 75.7h2v2h-2zM458.3 77.7h2v2h-2zM464.3 79.7h2v2h-2zM478.3 85.7h2v2h-2zM482.3 87.7h2v2h-2zM488.3 89.7h2v2h-2z"/>
<path fill="#d06854" d="M376.3 27.7h2v2h-2zM404.3 31.7h2v2h-2zM360.3 45.7h2v2h-2zM418.3 47.7h2v2h-2zM424.3 55.7h2v2h-2zM426.3 57.7h2v2h-2zM428.3 59.7h2v2h-2zM442.3 71.7h2v2h-2zM448.3 75.7h2v2h-2zM452.3 77.7h2v2h-2zM458.3 79.7h2v2h-2zM462.3 81.7h4v2h-4zM474.3 85.7h2v2h-2zM478.3 87.7h2v2h-2zM480.3 89.7h4v2h-4zM486.3 91.7h4v2h-4zM492.3 93.7h4v2h-4z"/>
<path fill="#e09880" d="M380.3 27.7h2v2h-2zM370.3 41.7h2v2h-2zM450.3 87.7h2v2h-2zM460.3 91.7h2v2h-2zM488.3 103.7h2v2h-2zM494.3 105.7h2v2h-2z"/>
<path fill="#e8b0a0" d="M382.3 27.7h2v2h-2zM398.3 33.7h2v2h-2zM402.3 39.7h2v2h-2zM364.3 53.7h2v2h-2zM414.3 55.7h2v2h-2zM418.3 61.7h2v2h-2zM422.3 67.7h2v2h-2zM444.3 89.7h2v2h-2zM446.3 91.7h2v2h-2zM452.3 95.7h2v2h-2zM458.3 97.7h2v2h-2zM462.3 99.7h2v2h-2zM466.3 101.7h4v2h-4zM472.3 103.7h2v2h-2zM478.3 107.7h2v2h-2zM482.3 109.7h4v2h-4zM488.3 111.7h4v2h-4zM494.3 113.7h14v2h-14z"/>
<path fill="#f0ccc4" d="M384.3 27.7h2v2h-2zM382.3 31.7h2v2h-2zM380.3 35.7h2v2h-2zM400.3 41.7h2v2h-2zM374.3 45.7h2v2h-2zM404.3 47.7h2v2h-2zM370.3 51.7h2v2h-2zM408.3 53.7h2v2h-2zM366.3 57.7h2v2h-2zM412.3 59.7h2v2h-2zM362.3 63.7h2v2h-2zM416.3 65.7h2v2h-2zM358.3 69.7h2v2h-2zM420.3 71.7h2v2h-2zM424.3 77.7h2v2h-2zM426.3 79.7h2v2h-2zM428.3 81.7h2v2h-2zM430.3 83.7h2v2h-2zM432.3 85.7h2v2h-2zM434.3 87.7h2v2h-2zM436.3 89.7h2v2h-2zM446.3 99.7h2v2h-2zM448.3 101.7h2v2h-2zM450.3 103.7h2v2h-2zM454.3 105.7h2v2h-2zM458.3 107.7h2v2h-2zM462.3 109.7h2v2h-2zM466.3 111.7h4v2h-4zM472.3 113.7h2v2h-2zM474.3 115.7h4v2h-4zM478.3 117.7h2v2h-2zM482.3 119.7h4v2h-4zM488.3 121.7h4v2h-4zM494.3 123.7h20v2h-20z"/>
<path fill="#ecdcdc" d="M386.3 27.7h2v2h-2zM384.3 31.7h2v2h-2zM382.3 35.7h2v2h-2zM380.3 39.7h2v2h-2zM378.3 43.7h2v2h-2zM400.3 45.7h2v2h-2zM402.3 49.7h2v2h-2zM372.3 53.7h2v2h-2zM370.3 57.7h2v2h-2zM408.3 59.7h2v2h-2zM366.3 63.7h2v2h-2zM412.3 65.7h2v2h-2zM362.3 69.7h2v2h-2zM416.3 71.7h2v2h-2zM358.3 75.7h2v2h-2zM422.3 81.7h2v2h-2zM430.3 91.7h2v2h-2zM432.3 93.7h2v2h-2zM434.3 95.7h2v2h-2zM436.3 97.7h2v2h-2zM438.3 99.7h2v2h-2zM448.3 109.7h2v2h-2zM450.3 111.7h2v2h-2zM452.3 113.7h4v2h-4zM456.3 115.7h2v2h-2zM460.3 117.7h2v2h-2zM462.3 119.7h4v2h-4zM466.3 121.7h4v2h-4zM470.3 123.7h4v2h-4zM474.3 125.7h2v2h-2zM478.3 127.7h2v2h-2zM480.3 129.7h6v2h-6zM486.3 131.7h6v2h-6zM492.3 133.7h18v2h-18z"/>
<path fill="#ece4e8" d="M388.3 27.7h2v2h-2zM386.3 29.7h2v2h-2zM396.3 41.7h2v2h-2zM398.3 45.7h2v2h-2zM400.3 49.7h2v2h-2zM374.3 53.7h2v2h-2zM372.3 57.7h2v2h-2zM406.3 59.7h2v2h-2zM370.3 61.7h2v2h-2zM408.3 63.7h2v2h-2zM366.3 67.7h2v2h-2zM412.3 69.7h2v2h-2zM364.3 71.7h2v2h-2zM362.3 73.7h2v2h-2zM414.3 73.7h2v2h-2zM360.3 77.7h2v2h-2zM418.3 79.7h2v2h-2zM420.3 83.7h2v2h-2zM422.3 85.7h2v2h-2zM424.3 89.7h2v2h-2zM426.3 91.7h2v2h-2zM428.3 93.7h2v2h-2zM434.3 101.7h2v2h-2zM436.3 103.7h2v2h-2zM438.3 105.7h2v2h-2zM440.3 109.7h2v2h-2zM442.3 111.7h2v2h-2zM444.3 113.7h2v2h-2zM446.3 115.7h2v2h-2zM448.3 117.7h2v2h-2zM450.3 119.7h4v2h-4zM454.3 121.7h2v2h-2zM456.3 123.7h4v2h-4zM458.3 125.7h6v2h-6zM462.3 127.7h4v2h-4zM464.3 129.7h6v2h-6zM468.3 131.7h6v2h-6zM472.3 133.7h6v2h-6zM476.3 135.7h4v2h-4zM478.3 137.7h8v2h-8zM482.3 139.7h10v2h-10zM488.3 141.7h22v2h-22zM494.3 143.7h24v2h-24z"/>
<path fill="#ece4e4" d="M390.3 27.7h2v2h-2zM384.3 33.7h2v2h-2zM382.3 37.7h2v2h-2zM380.3 41.7h2v2h-2zM378.3 45.7h2v2h-2zM376.3 49.7h2v2h-2zM402.3 51.7h2v2h-2zM404.3 55.7h2v2h-2zM370.3 59.7h2v2h-2zM368.3 63.7h2v2h-2zM410.3 65.7h2v2h-2zM364.3 69.7h2v2h-2zM414.3 71.7h2v2h-2zM360.3 75.7h2v2h-2zM416.3 75.7h2v2h-2zM358.3 79.7h2v2h-2zM420.3 81.7h2v2h-2zM424.3 87.7h2v2h-2zM426.3 89.7h2v2h-2zM430.3 95.7h2v2h-2zM432.3 97.7h2v2h-2zM434.3 99.7h2v2h-2zM436.3 101.7h2v2h-2zM438.3 103.7h2v2h-2zM440.3 107.7h2v2h-2zM442.3 109.7h2v2h-2zM444.3 111.7h2v2h-2zM446.3 113.7h2v2h-2zM448.3 115.7h2v2h-2zM450.3 117.7h4v2h-4zM454.3 119.7h4v2h-4zM456.3 121.7h4v2h-4zM460.3 123.7h4v2h-4zM464.3 125.7h4v2h-4zM466.3 127.7h6v2h-6zM470.3 129.7h4v2h-4zM474.3 131.7h4v2h-4zM478.3 133.7h4v2h-4zM480.3 135.7h8v2h-8zM486.3 137.7h8v2h-8zM492.3 139.7h26v2h-26zM510.3 141.7h8v2h-8z"/>
<path fill="#ecd0cc" d="M392.3 27.7h2v2h-2zM394.3 31.7h2v2h-2zM376.3 43.7h2v2h-2zM426.3 81.7h2v2h-2zM428.3 83.7h2v2h-2zM450.3 105.7h2v2h-2zM454.3 107.7h2v2h-2zM458.3 109.7h2v2h-2zM462.3 111.7h2v2h-2zM466.3 113.7h2v2h-2zM470.3 115.7h2v2h-2zM474.3 117.7h2v2h-2zM480.3 121.7h2v2h-2zM486.3 123.7h2v2h-2zM492.3 125.7h2v2h-2z"/>
<path fill="#e49c8c" d="M396.3 27.7h2v2h-2zM412.3 49.7h2v2h-2zM450.3 89.7h2v2h-2z"/>
<path fill="#dc846c" d="M398.3 27.7h2v2h-2zM374.3 33.7h2v2h-2zM442.3 77.7h2v2h-2zM462.3 87.7h2v2h-2zM468.3 89.7h2v2h-2zM476.3 93.7h2v2h-2zM508.3 101.7h10v2h-10z"/>
<path fill="#d46c5c" d="M400.3 27.7h2v2h-2zM370.3 35.7h2v2h-2zM416.3 45.7h2v2h-2zM438.3 69.7h2v2h-2zM478.3 89.7h2v2h-2zM482.3 91.7h2v2h-2z"/>
<path fill="#d06454" d="M374.3 29.7h2v2h-2zM420.3 49.7h2v2h-2zM472.3 83.7h2v2h-2z"/>
<path fill="#ecc0b4" d="M382.3 29.7h2v2h-2zM398.3 35.7h2v2h-2zM376.3 39.7h2v2h-2zM368.3 51.7h2v2h-2zM410.3 53.7h2v2h-2zM362.3 59.7h2v2h-2zM416.3 61.7h2v2h-2zM358.3 65.7h2v2h-2zM420.3 67.7h2v2h-2zM424.3 73.7h2v2h-2zM426.3 75.7h2v2h-2zM446.3 95.7h2v2h-2zM448.3 97.7h2v2h-2zM452.3 99.7h2v2h-2zM456.3 101.7h2v2h-2zM460.3 103.7h2v2h-2zM464.3 105.7h2v2h-2zM470.3 107.7h2v2h-2zM474.3 109.7h2v2h-2zM476.3 111.7h2v2h-2zM480.3 113.7h2v2h-2zM484.3 115.7h4v2h-4zM492.3 117.7h2v2h-2zM506.3 119.7h12v2h-12z"/>
<path fill="#2450bc" d="M388.3 29.7h2v2h-2zM390.3 45.7h2v2h-2zM386.3 51.7h2v2h-2zM392.3 65.7h2v2h-2zM384.3 69.7h2v2h-2zM384.3 71.7h2v2h-2zM394.3 81.7h2v2h-2zM394.3 83.7h2v2h-2zM382.3 87.7h2v2h-2zM382.3 89.7h2v2h-2zM396.3 97.7h2v2h-2zM380.3 101.7h2v2h-2zM398.3 109.7h2v2h-2zM398.3 111.7h2v2h-2zM378.3 113.7h2v2h-2zM398.3 113.7h2v2h-2zM378.3 115.7h2v2h-2zM400.3 121.7h2v2h-2zM376.3 123.7h2v2h-2zM400.3 123.7h2v2h-2zM376.3 125.7h2v2h-2zM402.3 127.7h2v2h-2zM374.3 129.7h2v2h-2zM402.3 129.7h2v2h-2zM374.3 131.7h2v2h-2zM372.3 133.7h2v2h-2zM404.3 133.7h2v2h-2zM372.3 135.7h2v2h-2zM404.3 135.7h2v2h-2zM370.3 137.7h2v2h-2zM406.3 137.7h2v2h-2zM368.3 139.7h4v2h-4zM408.3 139.7h2v2h-2zM366.3 141.7h4v2h-4zM408.3 141.7h4v2h-4zM364.3 143.7h4v2h-4zM410.3 143.7h4v2h-4zM362.3 145.7h4v2h-4zM412.3 145.7h6v2h-6zM358.3 147.7h4v2h-4zM416.3 147.7h4v2h-4zM422.3 149.7h4v2h-4zM424.3 151.7h4v2h-4zM428.3 153.7h2v2h-2zM430.3 155.7h2v2h-2zM432.3 157.7h2v2h-2zM434.3 159.7h2v2h-2z"/>
<path fill="#ece8e8" d="M390.3 29.7h2v2h-2zM392.3 33.7h2v2h-2zM394.3 37.7h2v2h-2zM382.3 39.7h2v2h-2zM380.3 43.7h2v2h-2zM378.3 47.7h2v2h-2zM376.3 51.7h2v2h-2zM402.3 53.7h2v2h-2zM374.3 55.7h2v2h-2zM404.3 57.7h2v2h-2zM406.3 61.7h2v2h-2zM368.3 65.7h2v2h-2zM410.3 67.7h2v2h-2zM366.3 69.7h2v2h-2zM412.3 71.7h2v2h-2zM362.3 75.7h2v2h-2zM414.3 75.7h2v2h-2zM416.3 77.7h2v2h-2zM360.3 79.7h2v2h-2zM358.3 81.7h2v2h-2zM418.3 81.7h2v2h-2zM420.3 85.7h2v2h-2zM422.3 87.7h2v2h-2zM424.3 91.7h2v2h-2zM426.3 93.7h2v2h-2zM428.3 95.7h2v2h-2zM430.3 97.7h2v2h-2zM432.3 99.7h2v2h-2zM432.3 101.7h2v2h-2zM434.3 103.7h2v2h-2zM436.3 105.7h2v2h-2zM438.3 107.7h2v2h-2zM440.3 111.7h2v2h-2zM442.3 113.7h2v2h-2zM444.3 115.7h2v2h-2zM446.3 117.7h2v2h-2zM448.3 119.7h2v2h-2zM450.3 121.7h4v2h-4zM452.3 123.7h4v2h-4zM454.3 125.7h4v2h-4zM456.3 127.7h6v2h-6zM460.3 129.7h4v2h-4zM462.3 131.7h6v2h-6zM464.3 133.7h8v2h-8zM468.3 135.7h8v2h-8zM470.3 137.7h8v2h-8zM474.3 139.7h8v2h-8zM478.3 141.7h10v2h-10zM480.3 143.7h14v2h-14zM486.3 145.7h32v2h-32zM492.3 147.7h26v2h-26zM516.3 149.7h2v2h-2z"/>
<path fill="#cc5444" d="M370.3 31.7h2v2h-2zM368.3 33.7h2v2h-2zM366.3 35.7h2v2h-2zM360.3 41.7h2v2h-2zM418.3 43.7h2v2h-2zM424.3 51.7h2v2h-2zM426.3 53.7h2v2h-2zM460.3 75.7h2v2h-2zM466.3 77.7h4v2h-4zM476.3 81.7h2v2h-2zM484.3 85.7h2v2h-2zM490.3 87.7h2v2h-2zM500.3 89.7h16v2h-16z"/>
<path fill="#ecb4a4" d="M380.3 31.7h2v2h-2zM440.3 87.7h2v2h-2zM450.3 95.7h2v2h-2zM476.3 107.7h2v2h-2zM508.3 115.7h10v2h-10z"/>
<path fill="#d4dce4" d="M386.3 31.7h2v2h-2zM394.3 39.7h2v2h-2zM404.3 61.7h2v2h-2zM366.3 73.7h2v2h-2zM364.3 77.7h2v2h-2zM414.3 79.7h2v2h-2zM416.3 83.7h2v2h-2zM358.3 87.7h2v2h-2zM420.3 89.7h2v2h-2zM430.3 103.7h2v2h-2zM432.3 105.7h2v2h-2zM438.3 113.7h2v2h-2zM448.3 125.7h2v2h-2zM450.3 127.7h2v2h-2zM456.3 131.7h2v2h-2zM458.3 133.7h2v2h-2zM464.3 137.7h2v2h-2zM466.3 139.7h2v2h-2zM470.3 141.7h2v2h-2zM476.3 145.7h2v2h-2zM484.3 149.7h2v2h-2zM490.3 151.7h4v2h-4zM498.3 153.7h20v2h-20z"/>
<path fill="#1c34a0" d="M388.3 31.7h2v2h-2zM386.3 65.7h2v2h-2zM392.3 85.7h2v2h-2zM384.3 93.7h2v2h-2zM394.3 107.7h2v2h-2zM382.3 115.7h2v2h-2zM396.3 125.7h2v2h-2zM380.3 129.7h2v2h-2zM378.3 141.7h2v2h-2zM376.3 147.7h2v2h-2zM404.3 149.7h2v2h-2zM372.3 151.7h2v2h-2zM406.3 153.7h2v2h-2zM370.3 155.7h2v2h-2zM408.3 157.7h2v2h-2zM368.3 159.7h2v2h-2zM410.3 161.7h2v2h-2z"/>
<path fill="#94bcd4" d="M390.3 31.7h2v2h-2zM378.3 57.7h2v2h-2zM400.3 61.7h2v2h-2zM372.3 73.7h2v2h-2zM408.3 81.7h2v2h-2zM360.3 97.7h2v2h-2zM418.3 99.7h2v2h-2zM432.3 117.7h2v2h-2zM438.3 125.7h2v2h-2zM458.3 145.7h2v2h-2zM466.3 151.7h2v2h-2zM476.3 157.7h2v2h-2zM484.3 161.7h2v2h-2z"/>
<path fill="#ece0e4" d="M392.3 31.7h2v2h-2zM400.3 47.7h2v2h-2zM408.3 61.7h2v2h-2zM366.3 65.7h2v2h-2zM418.3 77.7h2v2h-2zM428.3 91.7h2v2h-2zM440.3 105.7h2v2h-2zM442.3 107.7h2v2h-2zM444.3 109.7h2v2h-2zM446.3 111.7h2v2h-2zM448.3 113.7h2v2h-2zM450.3 115.7h2v2h-2zM460.3 121.7h2v2h-2zM474.3 129.7h2v2h-2zM478.3 131.7h2v2h-2zM488.3 135.7h2v2h-2zM494.3 137.7h2v2h-2z"/>
<path fill="#e4a490" d="M398.3 31.7h2v2h-2zM376.3 35.7h2v2h-2zM402.3 37.7h2v2h-2zM408.3 45.7h2v2h-2zM416.3 55.7h2v2h-2zM358.3 59.7h2v2h-2zM420.3 61.7h2v2h-2zM426.3 69.7h2v2h-2zM428.3 71.7h2v2h-2zM430.3 73.7h2v2h-2zM448.3 89.7h2v2h-2zM452.3 91.7h2v2h-2zM456.3 93.7h2v2h-2zM460.3 95.7h2v2h-2zM466.3 97.7h2v2h-2zM472.3 99.7h2v2h-2zM478.3 103.7h2v2h-2zM482.3 105.7h2v2h-2zM488.3 107.7h2v2h-2zM494.3 109.7h2v2h-2z"/>
<path fill="#e09078" d="M400.3 31.7h2v2h-2zM364.3 47.7h2v2h-2zM416.3 51.7h2v2h-2zM444.3 81.7h2v2h-2zM454.3 87.7h2v2h-2zM460.3 89.7h2v2h-2zM478.3 97.7h2v2h-2zM488.3 101.7h2v2h-2zM494.3 103.7h2v2h-2z"/>
<path fill="#c45040" d="M408.3 31.7h2v2h-2zM428.3 53.7h2v2h-2z"/>
<path fill="#e49880" d="M376.3 33.7h2v2h-2z"/>
<path fill="#e8ac98" d="M378.3 33.7h2v2h-2zM400.3 35.7h2v2h-2zM448.3 91.7h2v2h-2zM456.3 95.7h2v2h-2zM488.3 109.7h2v2h-2zM494.3 111.7h2v2h-2z"/>
<path fill="#90bcd4" d="M386.3 33.7h2v2h-2zM376.3 63.7h2v2h-2zM366.3 87.7h2v2h-2zM414.3 93.7h2v2h-2zM430.3 115.7h2v2h-2zM448.3 137.7h2v2h-2zM450.3 139.7h2v2h-2z"/>
<path fill="#1c2480" d="M388.3 33.7h2v2h-2zM390.3 65.7h2v2h-2zM386.3 77.7h2v2h-2zM384.3 109.7h2v2h-2zM382.3 131.7h2v2h-2zM380.3 145.7h2v2h-2zM400.3 151.7h2v2h-2zM376.3 153.7h2v2h-2zM402.3 159.7h2v2h-2zM374.3 161.7h2v2h-2z"/>
<path fill="#5c98cc" d="M390.3 33.7h2v2h-2zM398.3 65.7h2v2h-2zM378.3 67.7h2v2h-2zM402.3 79.7h2v2h-2zM374.3 81.7h2v2h-2zM404.3 85.7h2v2h-2zM372.3 87.7h2v2h-2zM406.3 91.7h2v2h-2zM408.3 95.7h2v2h-2zM410.3 99.7h2v2h-2zM364.3 103.7h2v2h-2zM362.3 107.7h2v2h-2zM416.3 109.7h2v2h-2zM358.3 113.7h2v2h-2zM420.3 115.7h2v2h-2zM422.3 117.7h2v2h-2zM434.3 131.7h2v2h-2zM436.3 133.7h2v2h-2zM440.3 139.7h2v2h-2zM442.3 141.7h2v2h-2zM444.3 143.7h2v2h-2zM446.3 145.7h2v2h-2zM452.3 151.7h2v2h-2zM454.3 153.7h2v2h-2zM460.3 157.7h2v2h-2zM462.3 159.7h2v2h-2z"/>
<path fill="#d87460" d="M404.3 33.7h2v2h-2zM422.3 55.7h2v2h-2zM446.3 77.7h2v2h-2zM478.3 91.7h2v2h-2zM482.3 93.7h2v2h-2z"/>
<path fill="#e8e4e8" d="M384.3 35.7h2v2h-2zM370.3 63.7h2v2h-2zM410.3 69.7h2v2h-2zM416.3 79.7h2v2h-2zM358.3 83.7h2v2h-2zM422.3 89.7h2v2h-2zM430.3 99.7h2v2h-2zM446.3 119.7h2v2h-2zM448.3 121.7h2v2h-2zM450.3 123.7h2v2h-2zM458.3 129.7h2v2h-2zM460.3 131.7h2v2h-2zM466.3 135.7h2v2h-2zM472.3 139.7h2v2h-2zM490.3 147.7h2v2h-2zM496.3 149.7h10v2h-10z"/>
<path fill="#68a0cc" d="M386.3 35.7h2v2h-2zM370.3 89.7h2v2h-2zM366.3 97.7h2v2h-2zM360.3 107.7h2v2h-2zM422.3 115.7h2v2h-2zM436.3 131.7h2v2h-2zM444.3 141.7h2v2h-2zM452.3 149.7h2v2h-2zM460.3 155.7h2v2h-2z"/>
<path fill="#182070" d="M388.3 35.7h2v2h-2zM390.3 73.7h2v2h-2zM386.3 87.7h2v2h-2zM386.3 89.7h2v2h-2zM392.3 113.7h2v2h-2zM392.3 115.7h2v2h-2zM384.3 123.7h2v2h-2zM394.3 137.7h2v2h-2zM394.3 139.7h2v2h-2zM382.3 143.7h2v2h-2zM398.3 153.7h2v2h-2zM398.3 155.7h2v2h-2zM378.3 157.7h2v2h-2z"/>
<path fill="#4480cc" d="M390.3 35.7h2v2h-2zM384.3 49.7h2v2h-2zM382.3 59.7h2v2h-2zM396.3 65.7h2v2h-2zM378.3 77.7h2v2h-2zM400.3 83.7h2v2h-2zM376.3 85.7h2v2h-2zM402.3 91.7h2v2h-2zM372.3 97.7h2v2h-2zM406.3 101.7h2v2h-2zM408.3 105.7h2v2h-2zM368.3 107.7h2v2h-2zM410.3 109.7h2v2h-2zM366.3 111.7h2v2h-2zM412.3 113.7h2v2h-2zM362.3 117.7h2v2h-2zM360.3 119.7h2v2h-2zM416.3 119.7h2v2h-2zM418.3 121.7h2v2h-2zM428.3 131.7h2v2h-2zM430.3 133.7h2v2h-2zM436.3 141.7h2v2h-2zM438.3 143.7h2v2h-2zM442.3 149.7h2v2h-2zM444.3 151.7h2v2h-2zM446.3 153.7h2v2h-2zM448.3 155.7h2v2h-2zM450.3 157.7h2v2h-2zM452.3 159.7h2v2h-2z"/>
<path fill="#c4d4e0" d="M392.3 35.7h2v2h-2zM396.3 45.7h2v2h-2zM378.3 51.7h2v2h-2zM404.3 63.7h2v2h-2zM406.3 67.7h2v2h-2zM408.3 71.7h2v2h-2zM410.3 75.7h2v2h-2zM412.3 79.7h2v2h-2zM360.3 87.7h2v2h-2zM418.3 89.7h2v2h-2zM426.3 101.7h2v2h-2zM428.3 103.7h2v2h-2zM436.3 113.7h2v2h-2zM440.3 119.7h2v2h-2zM442.3 121.7h2v2h-2zM444.3 123.7h2v2h-2zM452.3 131.7h2v2h-2zM454.3 133.7h2v2h-2zM460.3 137.7h2v2h-2zM462.3 139.7h2v2h-2zM468.3 143.7h2v2h-2zM474.3 147.7h2v2h-2zM478.3 149.7h2v2h-2zM482.3 151.7h2v2h-2zM488.3 153.7h2v2h-2zM494.3 155.7h2v2h-2z"/>
<path fill="#ecd4cc" d="M396.3 35.7h2v2h-2zM398.3 39.7h2v2h-2zM404.3 49.7h2v2h-2zM370.3 53.7h2v2h-2zM408.3 55.7h2v2h-2zM366.3 59.7h2v2h-2zM412.3 61.7h2v2h-2zM362.3 65.7h2v2h-2zM416.3 67.7h2v2h-2zM358.3 71.7h2v2h-2zM420.3 73.7h2v2h-2zM424.3 79.7h2v2h-2zM440.3 97.7h2v2h-2zM442.3 99.7h2v2h-2zM452.3 107.7h2v2h-2zM456.3 109.7h2v2h-2zM460.3 111.7h2v2h-2zM464.3 113.7h2v2h-2zM468.3 115.7h2v2h-2zM472.3 117.7h2v2h-2zM476.3 119.7h2v2h-2zM484.3 123.7h2v2h-2zM490.3 125.7h2v2h-2zM496.3 127.7h22v2h-22z"/>
<path fill="#b8d0e0" d="M384.3 37.7h2v2h-2zM408.3 73.7h2v2h-2zM410.3 77.7h2v2h-2zM360.3 89.7h2v2h-2zM478.3 151.7h2v2h-2z"/>
<path fill="#508ccc" d="M386.3 37.7h2v2h-2zM384.3 47.7h2v2h-2zM394.3 53.7h2v2h-2zM382.3 55.7h2v2h-2zM396.3 61.7h2v2h-2zM380.3 63.7h2v2h-2zM398.3 69.7h2v2h-2zM378.3 71.7h2v2h-2zM400.3 77.7h2v2h-2zM376.3 79.7h2v2h-2zM402.3 85.7h2v2h-2zM374.3 87.7h2v2h-2zM404.3 91.7h2v2h-2zM372.3 93.7h2v2h-2zM406.3 95.7h2v2h-2zM370.3 97.7h2v2h-2zM408.3 99.7h2v2h-2zM368.3 101.7h2v2h-2zM410.3 103.7h2v2h-2zM366.3 105.7h2v2h-2zM412.3 107.7h2v2h-2zM364.3 109.7h2v2h-2zM362.3 111.7h2v2h-2zM414.3 111.7h2v2h-2zM416.3 113.7h2v2h-2zM360.3 115.7h2v2h-2zM358.3 117.7h2v2h-2zM418.3 117.7h2v2h-2zM420.3 119.7h2v2h-2zM422.3 121.7h2v2h-2zM428.3 127.7h2v2h-2zM430.3 129.7h2v2h-2zM436.3 137.7h2v2h-2zM440.3 143.7h2v2h-2zM442.3 145.7h2v2h-2zM444.3 147.7h2v2h-2zM446.3 149.7h2v2h-2zM448.3 151.7h2v2h-2zM450.3 153.7h2v2h-2zM452.3 155.7h2v2h-2zM454.3 157.7h2v2h-2zM458.3 159.7h2v2h-2zM460.3 161.7h2v2h-2z"/>
<path fill="#181c68" d="M388.3 37.7h2v2h-2zM390.3 81.7h2v2h-2zM386.3 95.7h2v2h-2zM386.3 97.7h2v2h-2zM392.3 123.7h2v2h-2zM392.3 125.7h2v2h-2zM384.3 131.7h2v2h-2zM384.3 133.7h2v2h-2zM394.3 145.7h2v2h-2zM396.3 149.7h2v2h-2zM396.3 151.7h2v2h-2zM380.3 153.7h2v2h-2zM380.3 155.7h2v2h-2z"/>
<path fill="#3470c8" d="M390.3 37.7h2v2h-2zM386.3 41.7h2v2h-2zM384.3 53.7h2v2h-2zM394.3 61.7h2v2h-2zM382.3 65.7h2v2h-2zM396.3 73.7h2v2h-2zM380.3 75.7h2v2h-2zM398.3 83.7h2v2h-2zM378.3 85.7h2v2h-2zM378.3 87.7h2v2h-2zM400.3 93.7h2v2h-2zM376.3 95.7h2v2h-2zM402.3 99.7h2v2h-2zM374.3 101.7h2v2h-2zM404.3 105.7h2v2h-2zM372.3 107.7h2v2h-2zM370.3 111.7h2v2h-2zM406.3 111.7h2v2h-2zM370.3 113.7h2v2h-2zM368.3 115.7h2v2h-2zM408.3 115.7h2v2h-2zM368.3 117.7h2v2h-2zM366.3 119.7h2v2h-2zM410.3 119.7h2v2h-2zM412.3 121.7h2v2h-2zM364.3 123.7h2v2h-2zM362.3 125.7h2v2h-2zM360.3 127.7h2v2h-2zM416.3 127.7h2v2h-2zM358.3 129.7h2v2h-2zM418.3 129.7h2v2h-2zM420.3 131.7h2v2h-2zM422.3 133.7h2v2h-2zM424.3 135.7h2v2h-2zM428.3 137.7h2v2h-2zM430.3 139.7h2v2h-2zM432.3 141.7h2v2h-2zM436.3 147.7h2v2h-2zM438.3 149.7h2v2h-2zM442.3 155.7h2v2h-2zM444.3 157.7h2v2h-2zM446.3 159.7h2v2h-2zM448.3 161.7h2v2h-2z"/>
<path fill="#9cc0d8" d="M392.3 37.7h2v2h-2zM394.3 43.7h2v2h-2zM382.3 45.7h2v2h-2zM396.3 49.7h2v2h-2zM402.3 65.7h2v2h-2zM406.3 75.7h2v2h-2zM408.3 79.7h2v2h-2zM410.3 83.7h2v2h-2zM412.3 87.7h2v2h-2zM414.3 91.7h2v2h-2zM360.3 95.7h2v2h-2zM418.3 97.7h2v2h-2zM426.3 109.7h2v2h-2zM428.3 111.7h2v2h-2zM430.3 113.7h2v2h-2zM436.3 121.7h2v2h-2zM444.3 131.7h2v2h-2zM446.3 133.7h2v2h-2zM448.3 135.7h2v2h-2zM450.3 137.7h2v2h-2zM452.3 139.7h2v2h-2zM458.3 143.7h2v2h-2zM460.3 145.7h2v2h-2zM466.3 149.7h2v2h-2zM472.3 153.7h2v2h-2zM482.3 159.7h2v2h-2zM490.3 161.7h2v2h-2z"/>
<path fill="#f0ccc0" d="M398.3 37.7h2v2h-2zM360.3 65.7h2v2h-2zM418.3 67.7h2v2h-2zM438.3 91.7h2v2h-2zM442.3 95.7h2v2h-2zM444.3 97.7h2v2h-2zM452.3 103.7h2v2h-2zM456.3 105.7h2v2h-2zM460.3 107.7h2v2h-2zM464.3 109.7h2v2h-2zM470.3 111.7h2v2h-2zM480.3 117.7h2v2h-2zM492.3 121.7h2v2h-2zM514.3 123.7h4v2h-4z"/>
<path fill="#ecb8a8" d="M400.3 37.7h2v2h-2zM404.3 43.7h2v2h-2zM358.3 63.7h2v2h-2zM424.3 71.7h2v2h-2zM434.3 81.7h2v2h-2zM444.3 91.7h2v2h-2zM462.3 101.7h2v2h-2zM466.3 103.7h2v2h-2zM472.3 105.7h2v2h-2zM478.3 109.7h2v2h-2zM482.3 111.7h2v2h-2zM488.3 113.7h2v2h-2zM494.3 115.7h2v2h-2z"/>
<path fill="#d8806c" d="M406.3 37.7h2v2h-2zM360.3 49.7h2v2h-2zM418.3 51.7h2v2h-2zM432.3 67.7h2v2h-2zM458.3 85.7h2v2h-2zM464.3 87.7h2v2h-2zM474.3 91.7h2v2h-2z"/>
<path fill="#b03838" d="M420.3 37.7h2v2h-2zM456.3 63.7h2v2h-2zM464.3 65.7h2v2h-2zM496.3 77.7h6v2h-6z"/>
<path fill="#98c0d8" d="M384.3 39.7h2v2h-2zM374.3 67.7h2v2h-2zM370.3 77.7h2v2h-2zM368.3 81.7h2v2h-2zM366.3 85.7h2v2h-2zM364.3 89.7h2v2h-2zM416.3 95.7h2v2h-2zM358.3 99.7h2v2h-2zM420.3 101.7h2v2h-2zM424.3 107.7h2v2h-2zM440.3 127.7h2v2h-2zM442.3 129.7h2v2h-2zM454.3 141.7h2v2h-2zM462.3 147.7h2v2h-2zM468.3 151.7h2v2h-2zM474.3 155.7h2v2h-2zM478.3 157.7h2v2h-2zM488.3 161.7h2v2h-2z"/>
<path fill="#407cc8" d="M386.3 39.7h2v2h-2zM392.3 47.7h2v2h-2zM394.3 57.7h2v2h-2zM396.3 67.7h2v2h-2zM380.3 69.7h2v2h-2zM398.3 75.7h2v2h-2zM378.3 79.7h2v2h-2zM400.3 85.7h2v2h-2zM376.3 87.7h2v2h-2zM402.3 93.7h2v2h-2zM374.3 95.7h2v2h-2zM372.3 99.7h2v2h-2zM404.3 99.7h2v2h-2zM406.3 103.7h2v2h-2zM370.3 105.7h2v2h-2zM408.3 107.7h2v2h-2zM368.3 109.7h2v2h-2zM408.3 109.7h2v2h-2zM410.3 111.7h2v2h-2zM366.3 113.7h2v2h-2zM412.3 115.7h2v2h-2zM364.3 117.7h2v2h-2zM362.3 119.7h2v2h-2zM414.3 119.7h2v2h-2zM360.3 121.7h2v2h-2zM416.3 121.7h2v2h-2zM358.3 123.7h2v2h-2zM418.3 123.7h2v2h-2zM420.3 125.7h2v2h-2zM422.3 127.7h2v2h-2zM424.3 129.7h2v2h-2zM426.3 131.7h2v2h-2zM428.3 133.7h2v2h-2zM430.3 135.7h2v2h-2zM432.3 137.7h2v2h-2zM434.3 139.7h2v2h-2zM438.3 145.7h2v2h-2zM446.3 155.7h2v2h-2zM448.3 157.7h2v2h-2zM450.3 159.7h2v2h-2z"/>
<path fill="#181c60" d="M388.3 39.7h2v2h-2zM390.3 89.7h2v2h-2zM390.3 91.7h2v2h-2zM390.3 93.7h2v2h-2zM386.3 103.7h2v2h-2zM386.3 105.7h2v2h-2zM386.3 107.7h2v2h-2zM386.3 109.7h2v2h-2zM386.3 111.7h2v2h-2zM392.3 133.7h2v2h-2zM392.3 135.7h2v2h-2zM392.3 137.7h2v2h-2zM384.3 139.7h2v2h-2zM384.3 141.7h2v2h-2zM384.3 143.7h2v2h-2zM384.3 145.7h2v2h-2zM382.3 149.7h2v2h-2zM382.3 151.7h2v2h-2zM382.3 153.7h2v2h-2zM396.3 159.7h2v2h-2zM396.3 161.7h2v2h-2z"/>
<path fill="#2864c8" d="M390.3 39.7h2v2h-2zM394.3 67.7h2v2h-2zM382.3 71.7h2v2h-2zM396.3 79.7h2v2h-2zM380.3 83.7h2v2h-2zM398.3 91.7h2v2h-2zM378.3 93.7h2v2h-2zM378.3 95.7h2v2h-2zM400.3 99.7h2v2h-2zM376.3 101.7h2v2h-2zM400.3 101.7h2v2h-2zM376.3 103.7h2v2h-2zM402.3 107.7h2v2h-2zM374.3 109.7h2v2h-2zM402.3 109.7h2v2h-2zM374.3 111.7h2v2h-2zM404.3 113.7h2v2h-2zM372.3 115.7h2v2h-2zM404.3 115.7h2v2h-2zM372.3 117.7h2v2h-2zM370.3 119.7h2v2h-2zM406.3 119.7h2v2h-2zM370.3 121.7h2v2h-2zM368.3 123.7h2v2h-2zM408.3 123.7h2v2h-2zM410.3 125.7h2v2h-2zM366.3 127.7h2v2h-2zM412.3 127.7h2v2h-2zM364.3 129.7h2v2h-2zM412.3 129.7h2v2h-2zM362.3 131.7h2v2h-2zM414.3 131.7h2v2h-2zM360.3 133.7h2v2h-2zM416.3 133.7h2v2h-2zM358.3 135.7h2v2h-2zM418.3 135.7h2v2h-2zM422.3 137.7h2v2h-2zM424.3 139.7h2v2h-2zM426.3 141.7h2v2h-2zM430.3 143.7h2v2h-2zM434.3 149.7h2v2h-2zM436.3 151.7h2v2h-2zM440.3 157.7h2v2h-2zM442.3 159.7h2v2h-2zM444.3 161.7h2v2h-2z"/>
<path fill="#7cacd0" d="M392.3 39.7h2v2h-2zM398.3 59.7h2v2h-2zM378.3 61.7h2v2h-2zM400.3 65.7h2v2h-2zM376.3 67.7h2v2h-2zM402.3 71.7h2v2h-2zM374.3 73.7h2v2h-2zM404.3 77.7h2v2h-2zM370.3 83.7h2v2h-2zM408.3 87.7h2v2h-2zM410.3 91.7h2v2h-2zM364.3 95.7h2v2h-2zM362.3 99.7h2v2h-2zM416.3 101.7h2v2h-2zM358.3 105.7h2v2h-2zM420.3 107.7h2v2h-2zM424.3 113.7h2v2h-2zM426.3 115.7h2v2h-2zM428.3 117.7h2v2h-2zM430.3 119.7h2v2h-2zM436.3 127.7h2v2h-2zM444.3 137.7h2v2h-2zM446.3 139.7h2v2h-2zM448.3 141.7h2v2h-2zM450.3 143.7h2v2h-2zM452.3 145.7h2v2h-2zM458.3 149.7h2v2h-2zM460.3 151.7h2v2h-2zM466.3 155.7h2v2h-2zM472.3 159.7h2v2h-2z"/>
<path fill="#9c2030" d="M432.3 39.7h2v2h-2zM452.3 51.7h2v2h-2zM490.3 63.7h2v2h-2zM496.3 65.7h10v2h-10z"/>
<path fill="#ecd8d4" d="M378.3 41.7h2v2h-2zM376.3 45.7h2v2h-2zM402.3 47.7h2v2h-2zM372.3 51.7h2v2h-2zM370.3 55.7h2v2h-2zM408.3 57.7h2v2h-2zM366.3 61.7h2v2h-2zM412.3 63.7h2v2h-2zM362.3 67.7h2v2h-2zM416.3 69.7h2v2h-2zM358.3 73.7h2v2h-2zM420.3 75.7h2v2h-2zM424.3 81.7h2v2h-2zM426.3 83.7h2v2h-2zM436.3 95.7h2v2h-2zM438.3 97.7h2v2h-2zM440.3 99.7h2v2h-2zM442.3 101.7h2v2h-2zM444.3 103.7h2v2h-2zM446.3 105.7h2v2h-2zM448.3 107.7h2v2h-2zM452.3 109.7h2v2h-2zM454.3 111.7h4v2h-4zM458.3 113.7h4v2h-4zM462.3 115.7h2v2h-2zM466.3 117.7h4v2h-4zM470.3 119.7h4v2h-4zM474.3 121.7h2v2h-2zM476.3 123.7h4v2h-4zM480.3 125.7h4v2h-4zM486.3 127.7h4v2h-4zM492.3 129.7h8v2h-8zM508.3 131.7h10v2h-10z"/>
<path fill="#ccd8e4" d="M382.3 41.7h2v2h-2zM398.3 49.7h2v2h-2zM374.3 59.7h2v2h-2zM372.3 63.7h2v2h-2zM370.3 67.7h2v2h-2zM368.3 71.7h2v2h-2zM412.3 77.7h2v2h-2zM414.3 81.7h2v2h-2zM360.3 85.7h2v2h-2zM358.3 89.7h2v2h-2zM420.3 91.7h2v2h-2zM424.3 97.7h2v2h-2zM426.3 99.7h2v2h-2zM434.3 109.7h2v2h-2zM440.3 117.7h2v2h-2zM454.3 131.7h2v2h-2zM456.3 133.7h2v2h-2zM462.3 137.7h2v2h-2zM464.3 139.7h2v2h-2zM470.3 143.7h2v2h-2zM474.3 145.7h2v2h-2zM480.3 149.7h2v2h-2zM486.3 151.7h2v2h-2zM492.3 153.7h2v2h-2z"/>
<path fill="#7cacd4" d="M384.3 41.7h2v2h-2z"/>
<path fill="#181c5c" d="M388.3 41.7h2v2h-2zM390.3 95.7h2v2h-2zM390.3 97.7h2v2h-2zM390.3 99.7h2v2h-2zM386.3 113.7h2v2h-2zM386.3 115.7h2v2h-2zM386.3 117.7h2v2h-2zM392.3 139.7h2v2h-2zM392.3 141.7h2v2h-2zM392.3 143.7h2v2h-2zM384.3 147.7h2v2h-2zM394.3 149.7h2v2h-2zM394.3 151.7h2v2h-2zM394.3 153.7h2v2h-2zM382.3 155.7h2v2h-2zM382.3 157.7h2v2h-2zM382.3 159.7h2v2h-2z"/>
<path fill="#285cc4" d="M390.3 41.7h2v2h-2zM392.3 57.7h2v2h-2zM394.3 71.7h2v2h-2zM382.3 77.7h2v2h-2zM396.3 85.7h2v2h-2zM380.3 89.7h2v2h-2zM398.3 97.7h2v2h-2zM378.3 99.7h2v2h-2zM378.3 101.7h2v2h-2zM400.3 107.7h2v2h-2zM376.3 109.7h2v2h-2zM376.3 111.7h2v2h-2zM402.3 115.7h2v2h-2zM374.3 117.7h2v2h-2zM404.3 121.7h2v2h-2zM372.3 123.7h2v2h-2zM406.3 125.7h2v2h-2zM370.3 127.7h2v2h-2zM368.3 129.7h2v2h-2zM408.3 129.7h2v2h-2zM366.3 131.7h2v2h-2zM410.3 131.7h2v2h-2zM412.3 133.7h2v2h-2zM414.3 135.7h2v2h-2zM360.3 137.7h2v2h-2zM416.3 137.7h2v2h-2zM358.3 139.7h2v2h-2zM418.3 139.7h2v2h-2zM420.3 141.7h2v2h-2zM426.3 145.7h2v2h-2zM430.3 147.7h2v2h-2zM436.3 155.7h2v2h-2zM440.3 161.7h2v2h-2z"/>
<path fill="#649ccc" d="M392.3 41.7h2v2h-2zM394.3 49.7h2v2h-2zM382.3 51.7h2v2h-2zM398.3 63.7h2v2h-2zM378.3 65.7h2v2h-2zM402.3 77.7h2v2h-2zM374.3 79.7h2v2h-2zM404.3 83.7h2v2h-2zM372.3 85.7h2v2h-2zM408.3 93.7h2v2h-2zM410.3 97.7h2v2h-2zM364.3 101.7h2v2h-2zM362.3 105.7h2v2h-2zM416.3 107.7h2v2h-2zM358.3 111.7h2v2h-2zM420.3 113.7h2v2h-2zM434.3 129.7h2v2h-2zM440.3 137.7h2v2h-2zM454.3 151.7h2v2h-2zM462.3 157.7h2v2h-2zM464.3 159.7h2v2h-2zM468.3 161.7h2v2h-2z"/>
<path fill="#b8d0dc" d="M394.3 41.7h2v2h-2zM398.3 51.7h2v2h-2zM376.3 57.7h2v2h-2zM404.3 65.7h2v2h-2zM406.3 69.7h2v2h-2zM412.3 81.7h2v2h-2zM414.3 85.7h2v2h-2zM420.3 95.7h2v2h-2zM424.3 101.7h2v2h-2zM426.3 103.7h2v2h-2zM434.3 113.7h2v2h-2zM440.3 121.7h2v2h-2zM442.3 123.7h2v2h-2zM454.3 135.7h2v2h-2zM462.3 141.7h2v2h-2zM468.3 145.7h2v2h-2zM474.3 149.7h2v2h-2zM486.3 155.7h4v2h-4zM494.3 157.7h2v2h-2z"/>
<path fill="#e49c84" d="M406.3 41.7h2v2h-2zM364.3 49.7h2v2h-2zM358.3 57.7h2v2h-2zM420.3 59.7h2v2h-2zM462.3 93.7h2v2h-2zM468.3 95.7h2v2h-2zM484.3 103.7h2v2h-2zM504.3 107.7h6v2h-6z"/>
<path fill="#e4a090" d="M370.3 43.7h2v2h-2zM362.3 53.7h2v2h-2zM446.3 87.7h2v2h-2zM462.3 95.7h2v2h-2zM468.3 97.7h2v2h-2zM490.3 107.7h2v2h-2zM496.3 109.7h10v2h-10z"/>
<path fill="#e8b4a4" d="M372.3 43.7h2v2h-2zM412.3 53.7h2v2h-2zM448.3 93.7h2v2h-2zM460.3 99.7h2v2h-2zM464.3 101.7h2v2h-2zM470.3 103.7h2v2h-2zM474.3 105.7h2v2h-2zM480.3 109.7h2v2h-2zM486.3 111.7h2v2h-2zM492.3 113.7h2v2h-2z"/>
<path fill="#b0ccdc" d="M382.3 43.7h2v2h-2zM396.3 47.7h2v2h-2zM378.3 53.7h2v2h-2zM374.3 63.7h2v2h-2zM406.3 71.7h2v2h-2zM408.3 75.7h2v2h-2zM410.3 79.7h2v2h-2zM412.3 83.7h2v2h-2zM360.3 91.7h2v2h-2zM418.3 93.7h2v2h-2zM426.3 105.7h2v2h-2zM428.3 107.7h2v2h-2zM430.3 109.7h2v2h-2zM436.3 117.7h2v2h-2zM442.3 125.7h2v2h-2zM444.3 127.7h2v2h-2zM446.3 129.7h2v2h-2zM448.3 131.7h2v2h-2zM452.3 135.7h2v2h-2zM460.3 141.7h2v2h-2zM468.3 147.7h2v2h-2zM472.3 149.7h2v2h-2zM478.3 153.7h2v2h-2zM482.3 155.7h2v2h-2zM488.3 157.7h2v2h-2zM494.3 159.7h6v2h-6z"/>
<path fill="#68a0d0" d="M384.3 43.7h2v2h-2zM400.3 69.7h2v2h-2zM376.3 71.7h2v2h-2zM372.3 83.7h2v2h-2zM406.3 87.7h2v2h-2zM368.3 93.7h2v2h-2zM412.3 99.7h2v2h-2zM362.3 103.7h2v2h-2zM418.3 109.7h2v2h-2zM424.3 117.7h2v2h-2zM426.3 119.7h2v2h-2zM428.3 121.7h2v2h-2zM430.3 123.7h2v2h-2zM446.3 143.7h2v2h-2zM448.3 145.7h2v2h-2zM450.3 147.7h2v2h-2zM458.3 153.7h2v2h-2zM466.3 159.7h2v2h-2z"/>
<path fill="#2c68c8" d="M386.3 43.7h2v2h-2zM392.3 53.7h2v2h-2zM384.3 57.7h2v2h-2zM394.3 65.7h2v2h-2zM382.3 69.7h2v2h-2zM396.3 77.7h2v2h-2zM380.3 79.7h2v2h-2zM380.3 81.7h2v2h-2zM398.3 87.7h2v2h-2zM398.3 89.7h2v2h-2zM378.3 91.7h2v2h-2zM400.3 97.7h2v2h-2zM376.3 99.7h2v2h-2zM402.3 103.7h2v2h-2zM402.3 105.7h2v2h-2zM374.3 107.7h2v2h-2zM404.3 111.7h2v2h-2zM372.3 113.7h2v2h-2zM406.3 115.7h2v2h-2zM370.3 117.7h2v2h-2zM406.3 117.7h2v2h-2zM408.3 119.7h2v2h-2zM368.3 121.7h2v2h-2zM408.3 121.7h2v2h-2zM366.3 123.7h2v2h-2zM410.3 123.7h2v2h-2zM366.3 125.7h2v2h-2zM412.3 125.7h2v2h-2zM364.3 127.7h2v2h-2zM414.3 127.7h2v2h-2zM362.3 129.7h2v2h-2zM414.3 129.7h2v2h-2zM360.3 131.7h2v2h-2zM416.3 131.7h2v2h-2zM358.3 133.7h2v2h-2zM418.3 133.7h2v2h-2zM420.3 135.7h2v2h-2zM424.3 137.7h2v2h-2zM426.3 139.7h2v2h-2zM428.3 141.7h2v2h-2zM432.3 145.7h2v2h-2zM434.3 147.7h2v2h-2zM436.3 149.7h2v2h-2zM438.3 153.7h2v2h-2zM440.3 155.7h2v2h-2zM442.3 157.7h2v2h-2zM444.3 159.7h2v2h-2z"/>
<path fill="#18185c" d="M388.3 43.7h2v2h-2zM390.3 101.7h2v2h-2zM390.3 103.7h2v2h-2zM386.3 119.7h2v2h-2zM386.3 121.7h2v2h-2zM392.3 145.7h2v2h-2zM394.3 155.7h2v2h-2zM394.3 157.7h2v2h-2zM382.3 161.7h2v2h-2z"/>
<path fill="#2454c0" d="M390.3 43.7h2v2h-2zM386.3 49.7h2v2h-2zM382.3 83.7h2v2h-2zM396.3 93.7h2v2h-2zM398.3 105.7h2v2h-2zM378.3 109.7h2v2h-2zM376.3 119.7h2v2h-2zM402.3 123.7h2v2h-2zM374.3 125.7h2v2h-2zM372.3 129.7h2v2h-2zM370.3 133.7h2v2h-2zM408.3 135.7h2v2h-2zM410.3 137.7h2v2h-2zM412.3 139.7h2v2h-2zM362.3 141.7h2v2h-2zM414.3 141.7h2v2h-2zM360.3 143.7h2v2h-2zM416.3 143.7h2v2h-2zM420.3 145.7h2v2h-2zM436.3 159.7h2v2h-2z"/>
<path fill="#5490cc" d="M392.3 43.7h2v2h-2zM398.3 67.7h2v2h-2zM400.3 75.7h2v2h-2zM376.3 77.7h2v2h-2zM402.3 83.7h2v2h-2zM374.3 85.7h2v2h-2zM404.3 89.7h2v2h-2zM372.3 91.7h2v2h-2zM370.3 95.7h2v2h-2zM368.3 99.7h2v2h-2zM366.3 103.7h2v2h-2zM412.3 105.7h2v2h-2zM364.3 107.7h2v2h-2zM414.3 109.7h2v2h-2zM360.3 113.7h2v2h-2zM358.3 115.7h2v2h-2zM418.3 115.7h2v2h-2zM420.3 117.7h2v2h-2zM424.3 123.7h2v2h-2zM426.3 125.7h2v2h-2zM432.3 131.7h2v2h-2zM434.3 133.7h2v2h-2zM438.3 139.7h2v2h-2zM440.3 141.7h2v2h-2zM442.3 143.7h2v2h-2zM454.3 155.7h2v2h-2zM456.3 157.7h2v2h-2zM462.3 161.7h2v2h-2z"/>
<path fill="#e0e0e8" d="M396.3 43.7h2v2h-2zM406.3 63.7h2v2h-2zM414.3 77.7h2v2h-2zM358.3 85.7h2v2h-2zM420.3 87.7h2v2h-2zM432.3 103.7h2v2h-2zM438.3 111.7h2v2h-2zM476.3 143.7h2v2h-2zM484.3 147.7h2v2h-2zM508.3 151.7h10v2h-10z"/>
<path fill="#ecc0b0" d="M372.3 45.7h2v2h-2zM432.3 81.7h2v2h-2zM434.3 83.7h2v2h-2zM444.3 93.7h2v2h-2zM494.3 117.7h2v2h-2z"/>
<path fill="#d8dce4" d="M380.3 45.7h2v2h-2zM368.3 69.7h2v2h-2zM424.3 95.7h2v2h-2zM434.3 107.7h2v2h-2zM480.3 147.7h2v2h-2zM486.3 149.7h2v2h-2z"/>
<path fill="#5894cc" d="M384.3 45.7h2v2h-2zM394.3 51.7h2v2h-2zM382.3 53.7h2v2h-2zM396.3 59.7h2v2h-2zM380.3 61.7h2v2h-2zM378.3 69.7h2v2h-2zM400.3 73.7h2v2h-2zM376.3 75.7h2v2h-2zM402.3 81.7h2v2h-2zM374.3 83.7h2v2h-2zM404.3 87.7h2v2h-2zM372.3 89.7h2v2h-2zM370.3 93.7h2v2h-2zM406.3 93.7h2v2h-2zM368.3 97.7h2v2h-2zM408.3 97.7h2v2h-2zM366.3 101.7h2v2h-2zM410.3 101.7h2v2h-2zM412.3 103.7h2v2h-2zM364.3 105.7h2v2h-2zM414.3 107.7h2v2h-2zM362.3 109.7h2v2h-2zM360.3 111.7h2v2h-2zM416.3 111.7h2v2h-2zM418.3 113.7h2v2h-2zM422.3 119.7h2v2h-2zM424.3 121.7h2v2h-2zM426.3 123.7h2v2h-2zM428.3 125.7h2v2h-2zM430.3 127.7h2v2h-2zM432.3 129.7h2v2h-2zM436.3 135.7h2v2h-2zM438.3 137.7h2v2h-2zM444.3 145.7h2v2h-2zM446.3 147.7h2v2h-2zM448.3 149.7h2v2h-2zM450.3 151.7h2v2h-2zM452.3 153.7h2v2h-2zM456.3 155.7h2v2h-2zM458.3 157.7h2v2h-2zM460.3 159.7h2v2h-2zM464.3 161.7h2v2h-2z"/>
<path fill="#2860c4" d="M386.3 45.7h2v2h-2zM392.3 55.7h2v2h-2zM384.3 61.7h2v2h-2zM394.3 69.7h2v2h-2zM382.3 73.7h2v2h-2zM382.3 75.7h2v2h-2zM396.3 83.7h2v2h-2zM380.3 85.7h2v2h-2zM380.3 87.7h2v2h-2zM398.3 93.7h2v2h-2zM398.3 95.7h2v2h-2zM378.3 97.7h2v2h-2zM400.3 103.7h2v2h-2zM376.3 105.7h2v2h-2zM400.3 105.7h2v2h-2zM376.3 107.7h2v2h-2zM402.3 111.7h2v2h-2zM374.3 113.7h2v2h-2zM402.3 113.7h2v2h-2zM374.3 115.7h2v2h-2zM404.3 117.7h2v2h-2zM372.3 119.7h2v2h-2zM404.3 119.7h2v2h-2zM372.3 121.7h2v2h-2zM370.3 123.7h2v2h-2zM406.3 123.7h2v2h-2zM370.3 125.7h2v2h-2zM408.3 125.7h2v2h-2zM368.3 127.7h2v2h-2zM408.3 127.7h2v2h-2zM366.3 129.7h2v2h-2zM410.3 129.7h2v2h-2zM364.3 131.7h2v2h-2zM412.3 131.7h2v2h-2zM362.3 133.7h4v2h-4zM414.3 133.7h2v2h-2zM360.3 135.7h4v2h-4zM416.3 135.7h2v2h-2zM358.3 137.7h2v2h-2zM418.3 137.7h2v2h-2zM420.3 139.7h2v2h-2zM422.3 141.7h4v2h-4zM424.3 143.7h4v2h-4zM428.3 145.7h4v2h-4zM432.3 149.7h2v2h-2zM434.3 151.7h2v2h-2zM436.3 153.7h2v2h-2zM438.3 157.7h2v2h-2zM440.3 159.7h2v2h-2zM442.3 161.7h2v2h-2z"/>
<path fill="#181858" d="M388.3 45.7h2v2h-2zM388.3 47.7h2v2h-2zM390.3 105.7h2v2h-2zM390.3 107.7h2v2h-2zM390.3 109.7h2v2h-2zM390.3 111.7h2v2h-2zM390.3 113.7h2v2h-2zM390.3 115.7h2v2h-2zM390.3 117.7h2v2h-2zM390.3 119.7h2v2h-2zM390.3 121.7h2v2h-2zM386.3 123.7h2v2h-2zM386.3 125.7h2v2h-2zM386.3 127.7h2v2h-2zM386.3 129.7h2v2h-2zM386.3 131.7h2v2h-2zM386.3 133.7h2v2h-2zM386.3 135.7h2v2h-2zM386.3 137.7h2v2h-2zM392.3 147.7h2v2h-2zM384.3 149.7h2v2h-2zM392.3 149.7h2v2h-2zM384.3 151.7h2v2h-2zM384.3 153.7h2v2h-2zM384.3 155.7h2v2h-2zM384.3 157.7h2v2h-2zM384.3 159.7h2v2h-2zM394.3 159.7h2v2h-2zM394.3 161.7h2v2h-2z"/>
<path fill="#4884cc" d="M392.3 45.7h2v2h-2zM394.3 55.7h2v2h-2zM382.3 57.7h2v2h-2zM380.3 67.7h2v2h-2zM398.3 73.7h2v2h-2zM378.3 75.7h2v2h-2zM400.3 81.7h2v2h-2zM376.3 83.7h2v2h-2zM402.3 89.7h2v2h-2zM374.3 91.7h2v2h-2zM372.3 95.7h2v2h-2zM404.3 95.7h2v2h-2zM406.3 99.7h2v2h-2zM370.3 101.7h2v2h-2zM408.3 103.7h2v2h-2zM368.3 105.7h2v2h-2zM410.3 107.7h2v2h-2zM366.3 109.7h2v2h-2zM412.3 111.7h2v2h-2zM364.3 113.7h2v2h-2zM362.3 115.7h2v2h-2zM414.3 115.7h2v2h-2zM416.3 117.7h2v2h-2zM418.3 119.7h2v2h-2zM358.3 121.7h2v2h-2zM420.3 123.7h2v2h-2zM422.3 125.7h2v2h-2zM424.3 127.7h2v2h-2zM426.3 129.7h2v2h-2zM432.3 135.7h2v2h-2zM434.3 137.7h2v2h-2zM436.3 139.7h2v2h-2zM440.3 145.7h2v2h-2zM442.3 147.7h2v2h-2zM444.3 149.7h2v2h-2zM452.3 157.7h2v2h-2zM454.3 159.7h2v2h-2zM456.3 161.7h2v2h-2z"/>
<path fill="#88b4d4" d="M394.3 45.7h2v2h-2zM382.3 47.7h2v2h-2zM396.3 51.7h2v2h-2zM380.3 53.7h2v2h-2zM398.3 57.7h2v2h-2zM378.3 59.7h2v2h-2zM400.3 63.7h2v2h-2zM406.3 79.7h2v2h-2zM368.3 85.7h2v2h-2zM366.3 89.7h2v2h-2zM364.3 93.7h2v2h-2zM414.3 95.7h2v2h-2zM360.3 99.7h2v2h-2zM418.3 101.7h2v2h-2zM428.3 115.7h2v2h-2zM430.3 117.7h2v2h-2zM432.3 119.7h2v2h-2zM438.3 127.7h2v2h-2zM446.3 137.7h2v2h-2zM448.3 139.7h2v2h-2zM450.3 141.7h2v2h-2zM458.3 147.7h2v2h-2zM466.3 153.7h2v2h-2zM472.3 157.7h2v2h-2zM476.3 159.7h2v2h-2z"/>
<path fill="#d87c64" d="M414.3 45.7h2v2h-2zM358.3 51.7h2v2h-2zM420.3 53.7h2v2h-2zM456.3 83.7h2v2h-2zM512.3 99.7h6v2h-6z"/>
<path fill="#c0d4e0" d="M380.3 47.7h2v2h-2zM402.3 59.7h2v2h-2zM372.3 65.7h2v2h-2zM370.3 69.7h2v2h-2zM368.3 73.7h2v2h-2zM366.3 77.7h2v2h-2zM364.3 81.7h2v2h-2zM414.3 83.7h2v2h-2zM416.3 87.7h2v2h-2zM358.3 91.7h2v2h-2zM420.3 93.7h2v2h-2zM424.3 99.7h2v2h-2zM432.3 109.7h2v2h-2zM434.3 111.7h2v2h-2zM438.3 117.7h2v2h-2zM456.3 135.7h2v2h-2zM464.3 141.7h2v2h-2zM470.3 145.7h2v2h-2zM480.3 151.7h2v2h-2zM486.3 153.7h2v2h-2zM492.3 155.7h2v2h-2zM512.3 157.7h6v2h-6z"/>
<path fill="#285cc0" d="M386.3 47.7h2v2h-2zM384.3 63.7h2v2h-2zM394.3 73.7h2v2h-2zM396.3 87.7h2v2h-2zM380.3 91.7h2v2h-2zM398.3 99.7h2v2h-2zM400.3 109.7h2v2h-2zM376.3 113.7h2v2h-2zM402.3 117.7h2v2h-2zM374.3 119.7h2v2h-2zM404.3 123.7h2v2h-2zM372.3 125.7h2v2h-2zM406.3 127.7h2v2h-2zM368.3 131.7h2v2h-2zM366.3 133.7h2v2h-2zM410.3 133.7h2v2h-2zM364.3 135.7h2v2h-2zM412.3 135.7h2v2h-2zM362.3 137.7h2v2h-2zM414.3 137.7h2v2h-2zM360.3 139.7h2v2h-2zM416.3 139.7h2v2h-2zM358.3 141.7h2v2h-2zM422.3 143.7h2v2h-2zM424.3 145.7h2v2h-2zM428.3 147.7h2v2h-2zM432.3 151.7h2v2h-2zM434.3 153.7h2v2h-2zM438.3 159.7h2v2h-2z"/>
<path fill="#204cb8" d="M390.3 47.7h2v2h-2zM386.3 53.7h2v2h-2zM392.3 67.7h2v2h-2zM384.3 73.7h2v2h-2zM394.3 85.7h2v2h-2zM394.3 87.7h2v2h-2zM382.3 91.7h2v2h-2zM396.3 101.7h2v2h-2zM380.3 105.7h2v2h-2zM380.3 107.7h2v2h-2zM398.3 115.7h2v2h-2zM398.3 117.7h2v2h-2zM378.3 119.7h2v2h-2zM378.3 121.7h2v2h-2zM400.3 125.7h2v2h-2zM376.3 127.7h2v2h-2zM400.3 127.7h2v2h-2zM376.3 129.7h2v2h-2zM402.3 131.7h2v2h-2zM374.3 133.7h2v2h-2zM402.3 133.7h2v2h-2zM374.3 135.7h2v2h-2zM372.3 137.7h2v2h-2zM404.3 137.7h2v2h-2zM372.3 139.7h2v2h-2zM370.3 141.7h2v2h-2zM406.3 141.7h2v2h-2zM368.3 143.7h4v2h-4zM408.3 143.7h2v2h-2zM366.3 145.7h4v2h-4zM410.3 145.7h2v2h-2zM362.3 147.7h4v2h-4zM412.3 147.7h4v2h-4zM358.3 149.7h2v2h-2zM420.3 149.7h2v2h-2zM422.3 151.7h2v2h-2zM424.3 153.7h2v2h-2zM426.3 155.7h4v2h-4zM430.3 157.7h2v2h-2zM432.3 159.7h2v2h-2z"/>
<path fill="#74a8d0" d="M394.3 47.7h2v2h-2zM382.3 49.7h2v2h-2zM402.3 73.7h2v2h-2zM374.3 75.7h2v2h-2zM404.3 79.7h2v2h-2zM370.3 85.7h2v2h-2zM408.3 89.7h2v2h-2zM410.3 93.7h2v2h-2zM364.3 97.7h2v2h-2zM416.3 103.7h2v2h-2zM358.3 107.7h2v2h-2zM420.3 109.7h2v2h-2zM424.3 115.7h2v2h-2zM426.3 117.7h2v2h-2zM428.3 119.7h2v2h-2zM430.3 121.7h2v2h-2zM432.3 123.7h2v2h-2zM438.3 131.7h2v2h-2zM448.3 143.7h2v2h-2zM450.3 145.7h2v2h-2zM456.3 149.7h2v2h-2zM458.3 151.7h2v2h-2zM466.3 157.7h2v2h-2zM470.3 159.7h2v2h-2z"/>
<path fill="#e4e4e8" d="M398.3 47.7h2v2h-2zM400.3 51.7h2v2h-2zM368.3 67.7h2v2h-2zM412.3 73.7h2v2h-2zM362.3 77.7h2v2h-2zM418.3 83.7h2v2h-2zM426.3 95.7h2v2h-2zM428.3 97.7h2v2h-2zM436.3 107.7h2v2h-2zM440.3 113.7h2v2h-2zM442.3 115.7h2v2h-2zM444.3 117.7h2v2h-2zM452.3 125.7h2v2h-2zM454.3 127.7h2v2h-2zM462.3 133.7h2v2h-2zM468.3 137.7h2v2h-2zM474.3 141.7h2v2h-2zM478.3 143.7h2v2h-2zM482.3 145.7h2v2h-2zM488.3 147.7h2v2h-2zM494.3 149.7h2v2h-2z"/>
<path fill="#e8b09c" d="M408.3 47.7h2v2h-2zM508.3 113.7h2v2h-2z"/>
<path fill="#e8a894" d="M366.3 49.7h2v2h-2zM444.3 87.7h2v2h-2zM454.3 93.7h2v2h-2zM458.3 95.7h2v2h-2zM476.3 103.7h2v2h-2zM484.3 107.7h2v2h-2zM506.3 111.7h12v2h-12z"/>
<path fill="#d8e0e4" d="M378.3 49.7h2v2h-2zM370.3 65.7h2v2h-2zM412.3 75.7h2v2h-2zM360.3 83.7h2v2h-2zM418.3 85.7h2v2h-2zM426.3 97.7h2v2h-2zM440.3 115.7h2v2h-2zM442.3 117.7h2v2h-2zM454.3 129.7h2v2h-2zM462.3 135.7h2v2h-2zM468.3 139.7h2v2h-2zM474.3 143.7h2v2h-2zM488.3 149.7h2v2h-2zM494.3 151.7h2v2h-2z"/>
<path fill="#a8c8dc" d="M380.3 49.7h2v2h-2zM362.3 89.7h2v2h-2zM432.3 113.7h2v2h-2zM514.3 161.7h4v2h-4z"/>
<path fill="#181854" d="M388.3 49.7h2v2h-2zM388.3 51.7h2v2h-2zM388.3 53.7h2v2h-2zM388.3 55.7h2v2h-2zM388.3 57.7h2v2h-2zM388.3 59.7h2v2h-2zM388.3 61.7h2v2h-2zM388.3 63.7h2v2h-2zM388.3 65.7h2v2h-2zM390.3 123.7h2v2h-2zM390.3 125.7h2v2h-2zM390.3 127.7h2v2h-2zM390.3 129.7h2v2h-2zM390.3 131.7h2v2h-2zM390.3 133.7h2v2h-2zM390.3 135.7h2v2h-2zM390.3 137.7h2v2h-2zM386.3 139.7h2v2h-2zM390.3 139.7h2v2h-2zM386.3 141.7h2v2h-2zM390.3 141.7h2v2h-2zM386.3 143.7h2v2h-2zM390.3 143.7h2v2h-2zM386.3 145.7h2v2h-2zM390.3 145.7h2v2h-2zM386.3 147.7h2v2h-2zM390.3 147.7h2v2h-2zM386.3 149.7h2v2h-2zM386.3 151.7h2v2h-2zM392.3 151.7h2v2h-2zM386.3 153.7h2v2h-2zM392.3 153.7h2v2h-2zM386.3 155.7h2v2h-2zM392.3 155.7h2v2h-2zM386.3 157.7h2v2h-2zM392.3 157.7h2v2h-2zM386.3 159.7h2v2h-2zM392.3 159.7h2v2h-2zM384.3 161.7h2v2h-2zM392.3 161.7h2v2h-2z"/>
<path fill="#2044b4" d="M390.3 49.7h2v2h-2zM386.3 57.7h2v2h-2zM392.3 71.7h2v2h-2zM392.3 73.7h2v2h-2zM384.3 79.7h2v2h-2zM394.3 93.7h2v2h-2zM382.3 97.7h2v2h-2zM382.3 99.7h2v2h-2zM396.3 109.7h2v2h-2zM396.3 111.7h2v2h-2zM380.3 113.7h2v2h-2zM380.3 115.7h2v2h-2zM398.3 123.7h2v2h-2zM378.3 125.7h2v2h-2zM398.3 125.7h2v2h-2zM378.3 127.7h2v2h-2zM400.3 133.7h2v2h-2zM376.3 135.7h2v2h-2zM402.3 139.7h2v2h-2zM374.3 141.7h2v2h-2zM402.3 141.7h2v2h-2zM374.3 143.7h2v2h-2zM404.3 143.7h2v2h-2zM372.3 145.7h2v2h-2zM404.3 145.7h2v2h-2zM370.3 147.7h2v2h-2zM406.3 147.7h2v2h-2zM362.3 149.7h4v2h-4zM412.3 149.7h4v2h-4zM360.3 151.7h4v2h-4zM414.3 151.7h4v2h-4zM358.3 153.7h4v2h-4zM416.3 153.7h4v2h-4zM358.3 155.7h2v2h-2zM418.3 155.7h4v2h-4zM420.3 157.7h4v2h-4zM422.3 159.7h6v2h-6zM426.3 161.7h4v2h-4z"/>
<path fill="#3874c8" d="M392.3 49.7h2v2h-2zM382.3 63.7h2v2h-2zM396.3 71.7h2v2h-2zM380.3 73.7h2v2h-2zM398.3 81.7h2v2h-2zM378.3 83.7h2v2h-2zM400.3 89.7h2v2h-2zM400.3 91.7h2v2h-2zM376.3 93.7h2v2h-2zM402.3 97.7h2v2h-2zM374.3 99.7h2v2h-2zM404.3 103.7h2v2h-2zM372.3 105.7h2v2h-2zM406.3 107.7h2v2h-2zM370.3 109.7h2v2h-2zM406.3 109.7h2v2h-2zM368.3 113.7h2v2h-2zM408.3 113.7h2v2h-2zM366.3 117.7h2v2h-2zM410.3 117.7h2v2h-2zM412.3 119.7h2v2h-2zM364.3 121.7h2v2h-2zM362.3 123.7h2v2h-2zM414.3 123.7h2v2h-2zM360.3 125.7h2v2h-2zM416.3 125.7h2v2h-2zM358.3 127.7h2v2h-2zM418.3 127.7h2v2h-2zM420.3 129.7h2v2h-2zM422.3 131.7h2v2h-2zM424.3 133.7h2v2h-2zM426.3 135.7h4v2h-4zM430.3 137.7h2v2h-2zM434.3 143.7h2v2h-2zM436.3 145.7h2v2h-2zM440.3 151.7h2v2h-2zM442.3 153.7h2v2h-2zM444.3 155.7h2v2h-2zM446.3 157.7h2v2h-2zM448.3 159.7h2v2h-2zM450.3 161.7h2v2h-2z"/>
<path fill="#dc8c74" d="M360.3 51.7h2v2h-2zM418.3 53.7h2v2h-2zM440.3 77.7h2v2h-2zM448.3 83.7h2v2h-2zM452.3 85.7h2v2h-2zM462.3 89.7h2v2h-2zM512.3 103.7h6v2h-6z"/>
<path fill="#98bcd8" d="M380.3 51.7h2v2h-2zM362.3 93.7h2v2h-2zM434.3 119.7h2v2h-2zM486.3 161.7h2v2h-2z"/>
<path fill="#3c78c8" d="M384.3 51.7h2v2h-2zM394.3 59.7h2v2h-2zM382.3 61.7h2v2h-2zM396.3 69.7h2v2h-2zM380.3 71.7h2v2h-2zM398.3 77.7h2v2h-2zM398.3 79.7h2v2h-2zM378.3 81.7h2v2h-2zM400.3 87.7h2v2h-2zM376.3 89.7h2v2h-2zM376.3 91.7h2v2h-2zM402.3 95.7h2v2h-2zM374.3 97.7h2v2h-2zM372.3 101.7h2v2h-2zM404.3 101.7h2v2h-2zM372.3 103.7h2v2h-2zM406.3 105.7h2v2h-2zM370.3 107.7h2v2h-2zM368.3 111.7h2v2h-2zM408.3 111.7h2v2h-2zM410.3 113.7h2v2h-2zM366.3 115.7h2v2h-2zM410.3 115.7h2v2h-2zM412.3 117.7h2v2h-2zM364.3 119.7h2v2h-2zM362.3 121.7h2v2h-2zM414.3 121.7h2v2h-2zM360.3 123.7h2v2h-2zM416.3 123.7h2v2h-2zM358.3 125.7h2v2h-2zM418.3 125.7h2v2h-2zM420.3 127.7h2v2h-2zM422.3 129.7h2v2h-2zM424.3 131.7h2v2h-2zM426.3 133.7h2v2h-2zM432.3 139.7h2v2h-2zM434.3 141.7h2v2h-2zM436.3 143.7h2v2h-2zM438.3 147.7h2v2h-2zM440.3 149.7h2v2h-2zM442.3 151.7h2v2h-2zM444.3 153.7h2v2h-2zM452.3 161.7h2v2h-2z"/>
<path fill="#1c40b0" d="M390.3 51.7h2v2h-2zM386.3 59.7h2v2h-2zM384.3 83.7h2v2h-2zM394.3 97.7h2v2h-2zM382.3 103.7h2v2h-2zM396.3 115.7h2v2h-2zM398.3 129.7h2v2h-2zM378.3 131.7h2v2h-2zM374.3 145.7h2v2h-2zM368.3 149.7h2v2h-2zM366.3 151.7h2v2h-2zM410.3 151.7h2v2h-2zM412.3 153.7h2v2h-2zM414.3 155.7h2v2h-2zM416.3 157.7h2v2h-2zM358.3 159.7h2v2h-2zM418.3 159.7h2v2h-2zM420.3 161.7h2v2h-2z"/>
<path fill="#306cc8" d="M392.3 51.7h2v2h-2zM384.3 55.7h2v2h-2zM394.3 63.7h2v2h-2zM382.3 67.7h2v2h-2zM396.3 75.7h2v2h-2zM380.3 77.7h2v2h-2zM398.3 85.7h2v2h-2zM378.3 89.7h2v2h-2zM400.3 95.7h2v2h-2zM376.3 97.7h2v2h-2zM402.3 101.7h2v2h-2zM374.3 103.7h2v2h-2zM374.3 105.7h2v2h-2zM404.3 107.7h2v2h-2zM372.3 109.7h2v2h-2zM404.3 109.7h2v2h-2zM372.3 111.7h2v2h-2zM406.3 113.7h2v2h-2zM370.3 115.7h2v2h-2zM408.3 117.7h2v2h-2zM368.3 119.7h2v2h-2zM366.3 121.7h2v2h-2zM410.3 121.7h2v2h-2zM412.3 123.7h2v2h-2zM364.3 125.7h2v2h-2zM414.3 125.7h2v2h-2zM362.3 127.7h2v2h-2zM360.3 129.7h2v2h-2zM416.3 129.7h2v2h-2zM358.3 131.7h2v2h-2zM418.3 131.7h2v2h-2zM420.3 133.7h2v2h-2zM422.3 135.7h2v2h-2zM426.3 137.7h2v2h-2zM428.3 139.7h2v2h-2zM430.3 141.7h2v2h-2zM432.3 143.7h2v2h-2zM434.3 145.7h2v2h-2zM438.3 151.7h2v2h-2zM440.3 153.7h2v2h-2zM446.3 161.7h2v2h-2z"/>
<path fill="#ecd8d8" d="M404.3 51.7h2v2h-2zM418.3 73.7h2v2h-2zM422.3 79.7h2v2h-2zM430.3 89.7h2v2h-2zM432.3 91.7h2v2h-2zM434.3 93.7h2v2h-2zM450.3 109.7h2v2h-2zM456.3 113.7h2v2h-2zM460.3 115.7h2v2h-2zM464.3 117.7h2v2h-2zM468.3 119.7h2v2h-2zM472.3 121.7h2v2h-2zM482.3 127.7h4v2h-4zM490.3 129.7h2v2h-2zM496.3 131.7h12v2h-12z"/>
<path fill="#dce0e4" d="M376.3 53.7h2v2h-2zM410.3 71.7h2v2h-2zM478.3 145.7h2v2h-2z"/>
<path fill="#1c3cac" d="M390.3 53.7h2v2h-2zM384.3 87.7h2v2h-2zM394.3 101.7h2v2h-2zM382.3 107.7h2v2h-2zM370.3 149.7h2v2h-2zM368.3 153.7h2v2h-2zM410.3 155.7h2v2h-2zM362.3 161.7h2v2h-2z"/>
<path fill="#78acd0" d="M396.3 53.7h2v2h-2zM380.3 55.7h2v2h-2zM372.3 79.7h2v2h-2zM412.3 95.7h2v2h-2zM422.3 111.7h2v2h-2zM442.3 135.7h2v2h-2zM454.3 147.7h2v2h-2zM462.3 153.7h2v2h-2zM468.3 157.7h2v2h-2z"/>
<path fill="#a4c8d8" d="M398.3 53.7h2v2h-2zM374.3 65.7h2v2h-2zM406.3 73.7h2v2h-2zM408.3 77.7h2v2h-2zM414.3 89.7h2v2h-2zM426.3 107.7h2v2h-2zM428.3 109.7h2v2h-2zM436.3 119.7h2v2h-2zM442.3 127.7h2v2h-2zM444.3 129.7h2v2h-2zM452.3 137.7h2v2h-2zM460.3 143.7h2v2h-2zM468.3 149.7h2v2h-2zM478.3 155.7h2v2h-2zM482.3 157.7h2v2h-2zM488.3 159.7h2v2h-2zM494.3 161.7h2v2h-2z"/>
<path fill="#d0d8e4" d="M400.3 53.7h2v2h-2zM468.3 141.7h2v2h-2zM494.3 153.7h2v2h-2z"/>
<path fill="#c8d8e0" d="M376.3 55.7h2v2h-2zM366.3 75.7h2v2h-2zM364.3 79.7h2v2h-2zM362.3 83.7h2v2h-2zM416.3 85.7h2v2h-2zM422.3 95.7h2v2h-2zM430.3 105.7h2v2h-2zM432.3 107.7h2v2h-2zM438.3 115.7h2v2h-2zM446.3 125.7h2v2h-2zM448.3 127.7h2v2h-2zM450.3 129.7h2v2h-2zM458.3 135.7h2v2h-2zM466.3 141.7h2v2h-2zM472.3 145.7h2v2h-2zM476.3 147.7h2v2h-2zM484.3 151.7h2v2h-2zM490.3 153.7h2v2h-2zM496.3 155.7h22v2h-22z"/>
<path fill="#a0c4d8" d="M378.3 55.7h2v2h-2zM400.3 59.7h2v2h-2zM404.3 69.7h2v2h-2zM370.3 75.7h2v2h-2zM362.3 91.7h2v2h-2zM416.3 93.7h2v2h-2zM358.3 97.7h2v2h-2zM432.3 115.7h2v2h-2zM434.3 117.7h2v2h-2zM438.3 123.7h2v2h-2zM456.3 141.7h2v2h-2zM464.3 147.7h2v2h-2zM470.3 151.7h2v2h-2zM480.3 157.7h2v2h-2zM486.3 159.7h2v2h-2zM492.3 161.7h2v2h-2z"/>
<path fill="#2048b8" d="M386.3 55.7h2v2h-2zM392.3 69.7h2v2h-2zM384.3 75.7h2v2h-2zM394.3 89.7h2v2h-2zM394.3 91.7h2v2h-2zM382.3 93.7h2v2h-2zM382.3 95.7h2v2h-2zM396.3 103.7h2v2h-2zM396.3 105.7h2v2h-2zM380.3 109.7h2v2h-2zM380.3 111.7h2v2h-2zM398.3 119.7h2v2h-2zM398.3 121.7h2v2h-2zM378.3 123.7h2v2h-2zM400.3 129.7h2v2h-2zM376.3 131.7h2v2h-2zM402.3 135.7h2v2h-2zM374.3 137.7h2v2h-2zM402.3 137.7h2v2h-2zM404.3 139.7h2v2h-2zM372.3 141.7h2v2h-2zM404.3 141.7h2v2h-2zM372.3 143.7h2v2h-2zM406.3 143.7h2v2h-2zM370.3 145.7h2v2h-2zM406.3 145.7h4v2h-4zM366.3 147.7h4v2h-4zM408.3 147.7h4v2h-4zM360.3 149.7h2v2h-2zM416.3 149.7h4v2h-4zM358.3 151.7h2v2h-2zM418.3 151.7h4v2h-4zM420.3 153.7h4v2h-4zM422.3 155.7h4v2h-4zM426.3 157.7h4v2h-4zM428.3 159.7h4v2h-4zM432.3 161.7h2v2h-2z"/>
<path fill="#1c34a4" d="M390.3 55.7h2v2h-2zM382.3 113.7h2v2h-2zM398.3 137.7h2v2h-2zM400.3 145.7h2v2h-2zM372.3 149.7h2v2h-2zM366.3 161.7h2v2h-2z"/>
<path fill="#6ca0d0" d="M396.3 55.7h2v2h-2zM402.3 75.7h2v2h-2zM374.3 77.7h2v2h-2zM404.3 81.7h2v2h-2zM408.3 91.7h2v2h-2zM410.3 95.7h2v2h-2zM416.3 105.7h2v2h-2zM358.3 109.7h2v2h-2zM420.3 111.7h2v2h-2zM432.3 125.7h2v2h-2zM438.3 133.7h2v2h-2zM470.3 161.7h2v2h-2z"/>
<path fill="#94bcd8" d="M398.3 55.7h2v2h-2zM404.3 71.7h2v2h-2zM410.3 85.7h2v2h-2zM412.3 89.7h2v2h-2zM422.3 105.7h2v2h-2zM456.3 143.7h2v2h-2zM464.3 149.7h2v2h-2zM470.3 153.7h2v2h-2zM480.3 159.7h2v2h-2z"/>
<path fill="#bcd4e0" d="M400.3 55.7h2v2h-2zM374.3 61.7h2v2h-2zM458.3 137.7h2v2h-2zM476.3 149.7h2v2h-2zM484.3 153.7h2v2h-2zM504.3 157.7h8v2h-8z"/>
<path fill="#e0e4e8" d="M402.3 55.7h2v2h-2zM404.3 59.7h2v2h-2zM366.3 71.7h2v2h-2zM360.3 81.7h2v2h-2zM424.3 93.7h2v2h-2zM434.3 105.7h2v2h-2zM456.3 129.7h2v2h-2zM464.3 135.7h2v2h-2zM470.3 139.7h2v2h-2zM480.3 145.7h2v2h-2zM486.3 147.7h2v2h-2zM492.3 149.7h2v2h-2z"/>
<path fill="#c4483c" d="M432.3 55.7h2v2h-2zM452.3 69.7h2v2h-2zM466.3 73.7h2v2h-2zM484.3 81.7h2v2h-2zM490.3 83.7h2v2h-2zM502.3 85.7h6v2h-6z"/>
<path fill="#dce0e8" d="M374.3 57.7h2v2h-2zM372.3 61.7h2v2h-2zM408.3 67.7h2v2h-2zM364.3 75.7h2v2h-2zM362.3 79.7h2v2h-2zM416.3 81.7h2v2h-2zM422.3 91.7h2v2h-2zM428.3 99.7h2v2h-2zM430.3 101.7h2v2h-2zM436.3 109.7h2v2h-2zM444.3 119.7h2v2h-2zM446.3 121.7h2v2h-2zM448.3 123.7h2v2h-2zM450.3 125.7h2v2h-2zM452.3 127.7h2v2h-2zM458.3 131.7h2v2h-2zM460.3 133.7h2v2h-2zM466.3 137.7h2v2h-2zM472.3 141.7h2v2h-2zM482.3 147.7h2v2h-2zM490.3 149.7h2v2h-2zM496.3 151.7h12v2h-12z"/>
<path fill="#6ca4d0" d="M380.3 57.7h2v2h-2zM364.3 99.7h2v2h-2zM414.3 101.7h2v2h-2zM434.3 127.7h2v2h-2zM440.3 135.7h2v2h-2zM454.3 149.7h2v2h-2zM456.3 151.7h2v2h-2zM464.3 157.7h2v2h-2z"/>
<path fill="#1c309c" d="M390.3 57.7h2v2h-2zM394.3 111.7h2v2h-2zM382.3 117.7h2v2h-2zM404.3 151.7h2v2h-2zM408.3 161.7h2v2h-2z"/>
<path fill="#609ccc" d="M396.3 57.7h2v2h-2zM380.3 59.7h2v2h-2zM400.3 71.7h2v2h-2zM376.3 73.7h2v2h-2zM406.3 89.7h2v2h-2zM370.3 91.7h2v2h-2zM368.3 95.7h2v2h-2zM412.3 101.7h2v2h-2zM418.3 111.7h2v2h-2zM424.3 119.7h2v2h-2zM426.3 121.7h2v2h-2zM432.3 127.7h2v2h-2zM438.3 135.7h2v2h-2zM456.3 153.7h2v2h-2zM458.3 155.7h2v2h-2zM466.3 161.7h2v2h-2z"/>
<path fill="#acccdc" d="M400.3 57.7h2v2h-2zM368.3 77.7h2v2h-2zM366.3 81.7h2v2h-2zM414.3 87.7h2v2h-2zM420.3 97.7h2v2h-2zM424.3 103.7h2v2h-2zM434.3 115.7h2v2h-2zM440.3 123.7h2v2h-2zM454.3 137.7h2v2h-2zM462.3 143.7h2v2h-2zM474.3 151.7h2v2h-2z"/>
<path fill="#d0dce4" d="M402.3 57.7h2v2h-2zM406.3 65.7h2v2h-2zM408.3 69.7h2v2h-2zM410.3 73.7h2v2h-2zM362.3 81.7h2v2h-2zM418.3 87.7h2v2h-2zM422.3 93.7h2v2h-2zM428.3 101.7h2v2h-2zM436.3 111.7h2v2h-2zM442.3 119.7h2v2h-2zM444.3 121.7h2v2h-2zM446.3 123.7h2v2h-2zM452.3 129.7h2v2h-2zM460.3 135.7h2v2h-2zM472.3 143.7h2v2h-2zM478.3 147.7h2v2h-2zM482.3 149.7h2v2h-2zM488.3 151.7h2v2h-2zM496.3 153.7h2v2h-2z"/>
<path fill="#e8e8e8" d="M372.3 59.7h2v2h-2zM408.3 65.7h2v2h-2zM364.3 73.7h2v2h-2zM438.3 109.7h2v2h-2zM476.3 141.7h2v2h-2zM484.3 145.7h2v2h-2zM506.3 149.7h10v2h-10z"/>
<path fill="#acc8dc" d="M376.3 59.7h2v2h-2zM404.3 67.7h2v2h-2zM370.3 73.7h2v2h-2zM364.3 85.7h2v2h-2zM416.3 91.7h2v2h-2zM358.3 95.7h2v2h-2zM456.3 139.7h2v2h-2zM464.3 145.7h2v2h-2zM470.3 149.7h2v2h-2zM480.3 155.7h2v2h-2zM486.3 157.7h2v2h-2zM492.3 159.7h2v2h-2z"/>
<path fill="#2864c4" d="M384.3 59.7h2v2h-2zM396.3 81.7h2v2h-2zM406.3 121.7h2v2h-2zM368.3 125.7h2v2h-2zM410.3 127.7h2v2h-2zM420.3 137.7h2v2h-2zM422.3 139.7h2v2h-2zM428.3 143.7h2v2h-2zM432.3 147.7h2v2h-2zM438.3 155.7h2v2h-2z"/>
<path fill="#1c2c94" d="M390.3 59.7h2v2h-2zM386.3 69.7h2v2h-2zM402.3 149.7h2v2h-2zM374.3 151.7h2v2h-2zM404.3 155.7h2v2h-2zM372.3 157.7h2v2h-2zM406.3 161.7h2v2h-2z"/>
<path fill="#2458c0" d="M392.3 59.7h2v2h-2zM392.3 61.7h2v2h-2zM384.3 65.7h2v2h-2zM394.3 75.7h2v2h-2zM394.3 77.7h2v2h-2zM382.3 79.7h2v2h-2zM382.3 81.7h2v2h-2zM396.3 89.7h2v2h-2zM396.3 91.7h2v2h-2zM380.3 93.7h2v2h-2zM380.3 95.7h2v2h-2zM398.3 101.7h2v2h-2zM378.3 103.7h2v2h-2zM398.3 103.7h2v2h-2zM378.3 105.7h2v2h-2zM378.3 107.7h2v2h-2zM400.3 111.7h2v2h-2zM400.3 113.7h2v2h-2zM376.3 115.7h2v2h-2zM400.3 115.7h2v2h-2zM376.3 117.7h2v2h-2zM402.3 119.7h2v2h-2zM374.3 121.7h2v2h-2zM402.3 121.7h2v2h-2zM374.3 123.7h2v2h-2zM404.3 125.7h2v2h-2zM372.3 127.7h2v2h-2zM404.3 127.7h2v2h-2zM370.3 129.7h2v2h-2zM406.3 129.7h2v2h-2zM370.3 131.7h2v2h-2zM406.3 131.7h4v2h-4zM368.3 133.7h2v2h-2zM408.3 133.7h2v2h-2zM366.3 135.7h4v2h-4zM410.3 135.7h2v2h-2zM364.3 137.7h4v2h-4zM412.3 137.7h2v2h-2zM362.3 139.7h4v2h-4zM414.3 139.7h2v2h-2zM360.3 141.7h2v2h-2zM416.3 141.7h4v2h-4zM358.3 143.7h2v2h-2zM418.3 143.7h4v2h-4zM422.3 145.7h2v2h-2zM424.3 147.7h4v2h-4zM428.3 149.7h4v2h-4zM430.3 151.7h2v2h-2zM432.3 153.7h2v2h-2zM434.3 155.7h2v2h-2zM436.3 157.7h2v2h-2zM438.3 161.7h2v2h-2z"/>
<path fill="#9cc4d8" d="M376.3 61.7h2v2h-2zM372.3 71.7h2v2h-2zM422.3 103.7h2v2h-2zM476.3 155.7h2v2h-2zM484.3 159.7h2v2h-2z"/>
<path fill="#1c3cb0" d="M386.3 61.7h2v2h-2zM392.3 77.7h2v2h-2zM392.3 79.7h2v2h-2zM384.3 85.7h2v2h-2zM394.3 99.7h2v2h-2zM382.3 105.7h2v2h-2zM396.3 117.7h2v2h-2zM396.3 119.7h2v2h-2zM380.3 121.7h2v2h-2zM380.3 123.7h2v2h-2zM398.3 131.7h2v2h-2zM378.3 133.7h2v2h-2zM378.3 135.7h2v2h-2zM400.3 139.7h2v2h-2zM376.3 141.7h2v2h-2zM400.3 141.7h2v2h-2zM376.3 143.7h2v2h-2zM402.3 145.7h2v2h-2zM374.3 147.7h2v2h-2zM408.3 149.7h2v2h-2zM368.3 151.7h2v2h-2zM408.3 151.7h2v2h-2zM366.3 153.7h2v2h-2zM410.3 153.7h2v2h-2zM364.3 155.7h4v2h-4zM412.3 155.7h2v2h-2zM362.3 157.7h4v2h-4zM412.3 157.7h4v2h-4zM360.3 159.7h4v2h-4zM414.3 159.7h4v2h-4zM358.3 161.7h4v2h-4zM416.3 161.7h4v2h-4z"/>
<path fill="#1c2c8c" d="M390.3 61.7h2v2h-2zM386.3 71.7h2v2h-2zM384.3 101.7h2v2h-2zM394.3 119.7h2v2h-2zM382.3 125.7h2v2h-2zM396.3 135.7h2v2h-2zM380.3 139.7h2v2h-2zM402.3 153.7h2v2h-2zM374.3 155.7h2v2h-2zM404.3 159.7h2v2h-2zM372.3 161.7h2v2h-2z"/>
<path fill="#70a4d0" d="M398.3 61.7h2v2h-2zM378.3 63.7h2v2h-2zM400.3 67.7h2v2h-2zM376.3 69.7h2v2h-2zM372.3 81.7h2v2h-2zM406.3 85.7h2v2h-2zM370.3 87.7h2v2h-2zM368.3 91.7h2v2h-2zM366.3 95.7h2v2h-2zM412.3 97.7h2v2h-2zM360.3 105.7h2v2h-2zM418.3 107.7h2v2h-2zM422.3 113.7h2v2h-2zM436.3 129.7h2v2h-2zM442.3 137.7h2v2h-2zM444.3 139.7h2v2h-2zM446.3 141.7h2v2h-2zM452.3 147.7h2v2h-2zM460.3 153.7h2v2h-2zM462.3 155.7h2v2h-2zM468.3 159.7h2v2h-2zM472.3 161.7h2v2h-2z"/>
<path fill="#b4d0dc" d="M402.3 61.7h2v2h-2zM370.3 71.7h2v2h-2zM368.3 75.7h2v2h-2zM366.3 79.7h2v2h-2zM364.3 83.7h2v2h-2zM416.3 89.7h2v2h-2zM358.3 93.7h2v2h-2zM456.3 137.7h2v2h-2zM464.3 143.7h2v2h-2zM470.3 147.7h2v2h-2zM480.3 153.7h2v2h-2zM492.3 157.7h2v2h-2z"/>
<path fill="#1c38a8" d="M386.3 63.7h2v2h-2zM392.3 81.7h2v2h-2zM384.3 89.7h2v2h-2zM394.3 103.7h2v2h-2zM382.3 109.7h2v2h-2zM396.3 123.7h2v2h-2zM380.3 127.7h2v2h-2zM398.3 135.7h2v2h-2zM378.3 137.7h2v2h-2zM376.3 145.7h2v2h-2zM406.3 149.7h2v2h-2zM370.3 151.7h2v2h-2zM408.3 153.7h2v2h-2zM368.3 155.7h2v2h-2zM410.3 157.7h2v2h-2zM366.3 159.7h2v2h-2zM364.3 161.7h2v2h-2zM412.3 161.7h2v2h-2z"/>
<path fill="#1c2888" d="M390.3 63.7h2v2h-2zM386.3 73.7h2v2h-2zM392.3 97.7h2v2h-2zM384.3 103.7h2v2h-2zM384.3 105.7h2v2h-2zM394.3 121.7h2v2h-2zM394.3 123.7h2v2h-2zM382.3 127.7h2v2h-2zM396.3 137.7h2v2h-2zM380.3 141.7h2v2h-2zM398.3 147.7h2v2h-2zM376.3 149.7h2v2h-2zM402.3 155.7h2v2h-2zM374.3 157.7h2v2h-2zM404.3 161.7h2v2h-2z"/>
<path fill="#2454bc" d="M392.3 63.7h2v2h-2zM384.3 67.7h2v2h-2zM394.3 79.7h2v2h-2zM382.3 85.7h2v2h-2zM396.3 95.7h2v2h-2zM380.3 97.7h2v2h-2zM380.3 99.7h2v2h-2zM398.3 107.7h2v2h-2zM378.3 111.7h2v2h-2zM400.3 117.7h2v2h-2zM400.3 119.7h2v2h-2zM376.3 121.7h2v2h-2zM402.3 125.7h2v2h-2zM374.3 127.7h2v2h-2zM404.3 129.7h2v2h-2zM372.3 131.7h2v2h-2zM404.3 131.7h2v2h-2zM406.3 133.7h2v2h-2zM370.3 135.7h2v2h-2zM406.3 135.7h2v2h-2zM368.3 137.7h2v2h-2zM408.3 137.7h2v2h-2zM366.3 139.7h2v2h-2zM410.3 139.7h2v2h-2zM364.3 141.7h2v2h-2zM412.3 141.7h2v2h-2zM362.3 143.7h2v2h-2zM414.3 143.7h2v2h-2zM358.3 145.7h4v2h-4zM418.3 145.7h2v2h-2zM420.3 147.7h4v2h-4zM426.3 149.7h2v2h-2zM428.3 151.7h2v2h-2zM430.3 153.7h2v2h-2zM432.3 155.7h2v2h-2zM434.3 157.7h2v2h-2zM436.3 161.7h2v2h-2z"/>
<path fill="#4c88cc" d="M396.3 63.7h2v2h-2zM380.3 65.7h2v2h-2zM398.3 71.7h2v2h-2zM378.3 73.7h2v2h-2zM400.3 79.7h2v2h-2zM376.3 81.7h2v2h-2zM402.3 87.7h2v2h-2zM374.3 89.7h2v2h-2zM404.3 93.7h2v2h-2zM406.3 97.7h2v2h-2zM370.3 99.7h2v2h-2zM408.3 101.7h2v2h-2zM368.3 103.7h2v2h-2zM410.3 105.7h2v2h-2zM366.3 107.7h2v2h-2zM412.3 109.7h2v2h-2zM364.3 111.7h2v2h-2zM362.3 113.7h2v2h-2zM414.3 113.7h2v2h-2zM416.3 115.7h2v2h-2zM360.3 117.7h2v2h-2zM358.3 119.7h2v2h-2zM420.3 121.7h2v2h-2zM422.3 123.7h2v2h-2zM424.3 125.7h2v2h-2zM426.3 127.7h2v2h-2zM428.3 129.7h2v2h-2zM430.3 131.7h2v2h-2zM432.3 133.7h2v2h-2zM434.3 135.7h2v2h-2zM438.3 141.7h2v2h-2zM446.3 151.7h2v2h-2zM448.3 153.7h2v2h-2zM450.3 155.7h2v2h-2zM456.3 159.7h2v2h-2zM458.3 161.7h2v2h-2z"/>
<path fill="#a8c8d8" d="M402.3 63.7h2v2h-2zM372.3 69.7h2v2h-2zM410.3 81.7h2v2h-2zM412.3 85.7h2v2h-2zM360.3 93.7h2v2h-2zM418.3 95.7h2v2h-2zM422.3 101.7h2v2h-2zM430.3 111.7h2v2h-2zM438.3 121.7h2v2h-2zM446.3 131.7h2v2h-2zM448.3 133.7h2v2h-2zM450.3 135.7h2v2h-2zM458.3 141.7h2v2h-2zM466.3 147.7h2v2h-2zM472.3 151.7h2v2h-2zM476.3 153.7h2v2h-2zM484.3 157.7h2v2h-2zM490.3 159.7h2v2h-2zM496.3 161.7h18v2h-18z"/>
<path fill="#84b4d4" d="M376.3 65.7h2v2h-2zM402.3 69.7h2v2h-2zM370.3 81.7h2v2h-2zM358.3 103.7h2v2h-2zM420.3 105.7h2v2h-2zM424.3 111.7h2v2h-2zM426.3 113.7h2v2h-2zM436.3 125.7h2v2h-2zM444.3 135.7h2v2h-2zM452.3 143.7h2v2h-2zM460.3 149.7h2v2h-2zM478.3 161.7h2v2h-2z"/>
<path fill="#b4ccdc" d="M372.3 67.7h2v2h-2zM362.3 87.7h2v2h-2zM422.3 99.7h2v2h-2zM432.3 111.7h2v2h-2zM438.3 119.7h2v2h-2zM450.3 133.7h2v2h-2zM458.3 139.7h2v2h-2zM466.3 145.7h2v2h-2zM476.3 151.7h2v2h-2zM484.3 155.7h2v2h-2zM490.3 157.7h2v2h-2zM500.3 159.7h18v2h-18z"/>
<path fill="#1c3098" d="M386.3 67.7h2v2h-2zM392.3 89.7h2v2h-2zM384.3 95.7h2v2h-2zM394.3 113.7h2v2h-2zM382.3 119.7h2v2h-2zM396.3 129.7h2v2h-2zM380.3 133.7h2v2h-2zM398.3 141.7h2v2h-2zM374.3 149.7h2v2h-2zM372.3 153.7h2v2h-2zM404.3 153.7h2v2h-2zM406.3 157.7h2v2h-2zM370.3 159.7h2v2h-2z"/>
<path fill="#181850" d="M388.3 67.7h2v2h-2zM388.3 69.7h2v2h-2zM388.3 71.7h2v2h-2zM388.3 73.7h2v2h-2zM388.3 75.7h2v2h-2zM388.3 77.7h2v2h-2zM388.3 79.7h2v2h-2zM388.3 81.7h2v2h-2zM388.3 83.7h2v2h-2zM388.3 85.7h2v2h-2zM388.3 87.7h2v2h-2zM388.3 89.7h2v2h-2zM388.3 91.7h2v2h-2zM388.3 93.7h2v2h-2zM388.3 95.7h2v2h-2zM388.3 97.7h2v2h-2zM388.3 99.7h2v2h-2zM388.3 101.7h2v2h-2zM388.3 103.7h2v2h-2zM388.3 105.7h2v2h-2zM388.3 107.7h2v2h-2zM388.3 109.7h2v2h-2zM388.3 111.7h2v2h-2zM388.3 113.7h2v2h-2zM388.3 115.7h2v2h-2zM388.3 117.7h2v2h-2zM388.3 119.7h2v2h-2zM388.3 121.7h2v2h-2zM388.3 123.7h2v2h-2zM388.3 125.7h2v2h-2zM388.3 127.7h2v2h-2zM388.3 129.7h2v2h-2zM388.3 131.7h2v2h-2zM388.3 133.7h2v2h-2zM388.3 135.7h2v2h-2zM388.3 137.7h2v2h-2zM388.3 139.7h2v2h-2zM388.3 141.7h2v2h-2zM388.3 143.7h2v2h-2zM388.3 145.7h2v2h-2zM388.3 147.7h2v2h-2zM388.3 149.7h4v2h-4zM388.3 151.7h4v2h-4zM388.3 153.7h4v2h-4zM388.3 155.7h4v2h-4zM388.3 157.7h4v2h-4zM388.3 159.7h4v2h-4zM386.3 161.7h6v2h-6z"/>
<path fill="#18247c" d="M390.3 67.7h2v2h-2zM386.3 79.7h2v2h-2zM392.3 103.7h2v2h-2zM384.3 113.7h2v2h-2zM394.3 129.7h2v2h-2zM382.3 135.7h2v2h-2zM396.3 145.7h2v2h-2zM380.3 147.7h2v2h-2zM378.3 149.7h2v2h-2zM400.3 153.7h2v2h-2zM400.3 155.7h2v2h-2zM376.3 157.7h2v2h-2z"/>
<path fill="#90b8d4" d="M402.3 67.7h2v2h-2zM406.3 77.7h2v2h-2zM370.3 79.7h2v2h-2zM368.3 83.7h2v2h-2zM364.3 91.7h2v2h-2zM420.3 103.7h2v2h-2zM424.3 109.7h2v2h-2zM426.3 111.7h2v2h-2zM428.3 113.7h2v2h-2zM436.3 123.7h2v2h-2zM442.3 131.7h2v2h-2zM444.3 133.7h2v2h-2zM446.3 135.7h2v2h-2zM452.3 141.7h2v2h-2zM460.3 147.7h2v2h-2zM468.3 153.7h2v2h-2zM472.3 155.7h2v2h-2zM478.3 159.7h2v2h-2zM482.3 161.7h2v2h-2z"/>
<path fill="#8cb8d4" d="M374.3 69.7h2v2h-2zM404.3 73.7h2v2h-2zM410.3 87.7h2v2h-2zM412.3 91.7h2v2h-2zM362.3 95.7h2v2h-2zM416.3 97.7h2v2h-2zM358.3 101.7h2v2h-2zM422.3 107.7h2v2h-2zM434.3 121.7h2v2h-2zM440.3 129.7h2v2h-2zM454.3 143.7h2v2h-2zM462.3 149.7h2v2h-2zM464.3 151.7h2v2h-2zM474.3 157.7h2v2h-2zM480.3 161.7h2v2h-2z"/>
<path fill="#182478" d="M390.3 69.7h2v2h-2zM386.3 81.7h2v2h-2zM386.3 83.7h2v2h-2zM392.3 105.7h2v2h-2zM392.3 107.7h2v2h-2zM384.3 115.7h2v2h-2zM384.3 117.7h2v2h-2zM394.3 131.7h2v2h-2zM394.3 133.7h2v2h-2zM382.3 137.7h2v2h-2zM378.3 151.7h2v2h-2zM400.3 157.7h2v2h-2zM376.3 159.7h2v2h-2zM376.3 161.7h2v2h-2z"/>
<path fill="#84b0d4" d="M374.3 71.7h2v2h-2zM404.3 75.7h2v2h-2zM408.3 85.7h2v2h-2zM410.3 89.7h2v2h-2zM362.3 97.7h2v2h-2zM416.3 99.7h2v2h-2zM440.3 131.7h2v2h-2zM442.3 133.7h2v2h-2zM454.3 145.7h2v2h-2zM462.3 151.7h2v2h-2zM468.3 155.7h2v2h-2zM474.3 159.7h2v2h-2z"/>
<path fill="#182074" d="M390.3 71.7h2v2h-2zM386.3 85.7h2v2h-2zM392.3 109.7h2v2h-2zM392.3 111.7h2v2h-2zM384.3 119.7h2v2h-2zM384.3 121.7h2v2h-2zM394.3 135.7h2v2h-2zM382.3 139.7h2v2h-2zM382.3 141.7h2v2h-2zM396.3 147.7h2v2h-2zM398.3 149.7h2v2h-2zM398.3 151.7h2v2h-2zM378.3 153.7h2v2h-2zM378.3 155.7h2v2h-2zM400.3 159.7h2v2h-2zM400.3 161.7h2v2h-2z"/>
<path fill="#c85444" d="M454.3 73.7h2v2h-2zM516.3 89.7h2v2h-2z"/>
<path fill="#8cb4d4" d="M372.3 75.7h2v2h-2zM408.3 83.7h2v2h-2zM456.3 145.7h2v2h-2zM470.3 155.7h2v2h-2z"/>
<path fill="#1c2884" d="M386.3 75.7h2v2h-2zM392.3 99.7h2v2h-2zM384.3 107.7h2v2h-2zM394.3 125.7h2v2h-2zM382.3 129.7h2v2h-2zM396.3 139.7h2v2h-2zM380.3 143.7h2v2h-2zM400.3 149.7h2v2h-2zM376.3 151.7h2v2h-2zM402.3 157.7h2v2h-2zM374.3 159.7h2v2h-2z"/>
<path fill="#18206c" d="M390.3 75.7h2v2h-2zM390.3 77.7h2v2h-2zM386.3 91.7h2v2h-2zM386.3 93.7h2v2h-2zM392.3 117.7h2v2h-2zM392.3 119.7h2v2h-2zM384.3 125.7h2v2h-2zM384.3 127.7h2v2h-2zM394.3 141.7h2v2h-2zM394.3 143.7h2v2h-2zM382.3 145.7h2v2h-2zM380.3 149.7h2v2h-2zM398.3 157.7h2v2h-2zM378.3 159.7h2v2h-2zM398.3 159.7h2v2h-2zM378.3 161.7h2v2h-2z"/>
<path fill="#1c40b4" d="M392.3 75.7h2v2h-2zM384.3 81.7h2v2h-2zM394.3 95.7h2v2h-2zM382.3 101.7h2v2h-2zM396.3 113.7h2v2h-2zM380.3 117.7h2v2h-2zM380.3 119.7h2v2h-2zM398.3 127.7h2v2h-2zM378.3 129.7h2v2h-2zM400.3 135.7h2v2h-2zM376.3 137.7h2v2h-2zM400.3 137.7h2v2h-2zM376.3 139.7h2v2h-2zM402.3 143.7h2v2h-2zM372.3 147.7h2v2h-2zM404.3 147.7h2v2h-2zM366.3 149.7h2v2h-2zM410.3 149.7h2v2h-2zM364.3 151.7h2v2h-2zM412.3 151.7h2v2h-2zM362.3 153.7h4v2h-4zM414.3 153.7h2v2h-2zM360.3 155.7h4v2h-4zM416.3 155.7h2v2h-2zM358.3 157.7h4v2h-4zM418.3 157.7h2v2h-2zM420.3 159.7h2v2h-2zM422.3 161.7h4v2h-4z"/>
<path fill="#ece0dc" d="M418.3 75.7h2v2h-2zM428.3 89.7h2v2h-2zM440.3 103.7h2v2h-2zM442.3 105.7h2v2h-2zM458.3 117.7h2v2h-2zM476.3 127.7h2v2h-2zM484.3 131.7h2v2h-2zM490.3 133.7h2v2h-2zM502.3 135.7h16v2h-16z"/>
<path fill="#80b0d4" d="M372.3 77.7h2v2h-2zM406.3 81.7h2v2h-2zM368.3 87.7h2v2h-2zM366.3 91.7h2v2h-2zM412.3 93.7h2v2h-2zM414.3 97.7h2v2h-2zM360.3 101.7h2v2h-2zM418.3 103.7h2v2h-2zM422.3 109.7h2v2h-2zM432.3 121.7h2v2h-2zM434.3 123.7h2v2h-2zM438.3 129.7h2v2h-2zM456.3 147.7h2v2h-2zM464.3 153.7h2v2h-2zM470.3 157.7h2v2h-2z"/>
<path fill="#2048b4" d="M384.3 77.7h2v2h-2zM396.3 107.7h2v2h-2zM400.3 131.7h2v2h-2zM376.3 133.7h2v2h-2zM374.3 139.7h2v2h-2zM424.3 157.7h2v2h-2zM430.3 161.7h2v2h-2z"/>
<path fill="#a4c4d8" d="M368.3 79.7h2v2h-2zM366.3 83.7h2v2h-2zM364.3 87.7h2v2h-2zM420.3 99.7h2v2h-2zM424.3 105.7h2v2h-2zM440.3 125.7h2v2h-2zM454.3 139.7h2v2h-2zM462.3 145.7h2v2h-2zM474.3 153.7h2v2h-2z"/>
<path fill="#182068" d="M390.3 79.7h2v2h-2zM392.3 121.7h2v2h-2zM384.3 129.7h2v2h-2zM382.3 147.7h2v2h-2zM380.3 151.7h2v2h-2zM398.3 161.7h2v2h-2z"/>
<path fill="#cc5c4c" d="M466.3 79.7h2v2h-2zM472.3 81.7h2v2h-2zM490.3 89.7h2v2h-2zM496.3 91.7h10v2h-10z"/>
<path fill="#181c64" d="M390.3 83.7h2v2h-2zM390.3 85.7h2v2h-2zM390.3 87.7h2v2h-2zM386.3 99.7h2v2h-2zM386.3 101.7h2v2h-2zM392.3 127.7h2v2h-2zM392.3 129.7h2v2h-2zM392.3 131.7h2v2h-2zM384.3 135.7h2v2h-2zM384.3 137.7h2v2h-2zM394.3 147.7h2v2h-2zM396.3 153.7h2v2h-2zM396.3 155.7h2v2h-2zM380.3 157.7h2v2h-2zM396.3 157.7h2v2h-2zM380.3 159.7h2v2h-2zM380.3 161.7h2v2h-2z"/>
<path fill="#1c38a4" d="M392.3 83.7h2v2h-2zM384.3 91.7h2v2h-2zM394.3 105.7h2v2h-2zM382.3 111.7h2v2h-2zM378.3 139.7h2v2h-2zM406.3 151.7h2v2h-2zM370.3 153.7h2v2h-2zM408.3 155.7h2v2h-2zM368.3 157.7h2v2h-2zM410.3 159.7h2v2h-2z"/>
<path fill="#78a8d0" d="M406.3 83.7h2v2h-2zM368.3 89.7h2v2h-2zM366.3 93.7h2v2h-2zM414.3 99.7h2v2h-2zM360.3 103.7h2v2h-2zM418.3 105.7h2v2h-2zM434.3 125.7h2v2h-2zM440.3 133.7h2v2h-2zM464.3 155.7h2v2h-2zM474.3 161.7h2v2h-2z"/>
<path fill="#bcd0e0" d="M362.3 85.7h2v2h-2zM418.3 91.7h2v2h-2zM422.3 97.7h2v2h-2zM428.3 105.7h2v2h-2zM430.3 107.7h2v2h-2zM436.3 115.7h2v2h-2zM444.3 125.7h2v2h-2zM446.3 127.7h2v2h-2zM448.3 129.7h2v2h-2zM450.3 131.7h2v2h-2zM452.3 133.7h2v2h-2zM460.3 139.7h2v2h-2zM466.3 143.7h2v2h-2zM472.3 147.7h2v2h-2zM482.3 153.7h2v2h-2zM490.3 155.7h2v2h-2zM496.3 157.7h8v2h-8z"/>
<path fill="#1c349c" d="M392.3 87.7h2v2h-2zM394.3 109.7h2v2h-2zM396.3 127.7h2v2h-2zM380.3 131.7h2v2h-2zM398.3 139.7h2v2h-2zM378.3 143.7h2v2h-2zM400.3 147.7h2v2h-2zM406.3 155.7h2v2h-2zM370.3 157.7h2v2h-2zM408.3 159.7h2v2h-2zM368.3 161.7h2v2h-2z"/>
<path fill="#f0c4bc" d="M436.3 87.7h2v2h-2zM474.3 111.7h2v2h-2z"/>
<path fill="#1c3094" d="M392.3 91.7h2v2h-2zM384.3 97.7h2v2h-2zM394.3 115.7h2v2h-2zM382.3 121.7h2v2h-2zM396.3 131.7h2v2h-2zM380.3 135.7h2v2h-2zM398.3 143.7h2v2h-2zM378.3 145.7h2v2h-2zM372.3 155.7h2v2h-2zM406.3 159.7h2v2h-2zM370.3 161.7h2v2h-2z"/>
<path fill="#4480c8" d="M374.3 93.7h2v2h-2zM404.3 97.7h2v2h-2zM370.3 103.7h2v2h-2zM364.3 115.7h2v2h-2zM414.3 117.7h2v2h-2zM440.3 147.7h2v2h-2zM454.3 161.7h2v2h-2z"/>
<path fill="#1c2c90" d="M392.3 93.7h2v2h-2zM384.3 99.7h2v2h-2zM394.3 117.7h2v2h-2zM382.3 123.7h2v2h-2zM396.3 133.7h2v2h-2zM380.3 137.7h2v2h-2zM398.3 145.7h2v2h-2zM378.3 147.7h2v2h-2zM402.3 151.7h2v2h-2zM374.3 153.7h2v2h-2zM404.3 157.7h2v2h-2zM372.3 159.7h2v2h-2z"/>
<path fill="#1c288c" d="M392.3 95.7h2v2h-2z"/>
<path fill="#d87860" d="M488.3 95.7h2v2h-2z"/>
<path fill="#6098cc" d="M366.3 99.7h2v2h-2zM414.3 105.7h2v2h-2zM360.3 109.7h2v2h-2zM428.3 123.7h2v2h-2zM430.3 125.7h2v2h-2zM448.3 147.7h2v2h-2zM450.3 149.7h2v2h-2z"/>
<path fill="#204cbc" d="M396.3 99.7h2v2h-2zM380.3 103.7h2v2h-2zM378.3 117.7h2v2h-2zM406.3 139.7h2v2h-2zM426.3 153.7h2v2h-2zM434.3 161.7h2v2h-2z"/>
<path fill="#70a8d0" d="M362.3 101.7h2v2h-2z"/>
<path fill="#182480" d="M392.3 101.7h2v2h-2zM384.3 111.7h2v2h-2zM394.3 127.7h2v2h-2zM382.3 133.7h2v2h-2zM396.3 143.7h2v2h-2zM376.3 155.7h2v2h-2zM402.3 161.7h2v2h-2z"/>
<path fill="#64a0cc" d="M414.3 103.7h2v2h-2zM442.3 139.7h2v2h-2z"/>
<path fill="#f0d0c8" d="M470.3 113.7h2v2h-2zM492.3 123.7h2v2h-2z"/>
<path fill="#ecc4b8" d="M490.3 117.7h2v2h-2zM500.3 119.7h4v2h-4z"/>
<path fill="#f0ccc8" d="M480.3 119.7h2v2h-2zM486.3 121.7h2v2h-2z"/>
<path fill="#ecc0b8" d="M504.3 119.7h2v2h-2z"/>
<path fill="#1c38ac" d="M396.3 121.7h2v2h-2zM380.3 125.7h2v2h-2zM398.3 133.7h2v2h-2zM400.3 143.7h2v2h-2zM402.3 147.7h2v2h-2zM366.3 157.7h2v2h-2zM364.3 159.7h2v2h-2zM412.3 159.7h2v2h-2zM414.3 161.7h2v2h-2z"/>
<path fill="#ecd8d0" d="M490.3 127.7h2v2h-2zM500.3 129.7h4v2h-4z"/>
<path fill="#1c2484" d="M396.3 141.7h2v2h-2z"/>
<path fill="#80acd4" d="M476.3 161.7h2v2h-2z"/>
</g></g>
<line x1="362.3" y1="9.7" x2="362.3" y2="159" stroke="#8a8a8a" stroke-width="0.8"/>
<line x1="362.3" y1="53.42" x2="365.8" y2="53.42" stroke="#ffffff" stroke-width="0.8" opacity="0.8"/>
<line x1="362.3" y1="96.14" x2="365.8" y2="96.14" stroke="#ffffff" stroke-width="0.8" opacity="0.8"/>
<line x1="362.3" y1="138.86" x2="365.8" y2="138.86" stroke="#ffffff" stroke-width="0.8" opacity="0.8"/>
<line x1="389.6" y1="159" x2="389.6" y2="155.5" stroke="#ffffff" stroke-width="0.8" opacity="0.8"/>
<line x1="416.92" y1="159" x2="416.92" y2="155.5" stroke="#ffffff" stroke-width="0.8" opacity="0.8"/>
<line x1="444.24" y1="159" x2="444.24" y2="155.5" stroke="#ffffff" stroke-width="0.8" opacity="0.8"/>
<line x1="471.56" y1="159" x2="471.56" y2="155.5" stroke="#ffffff" stroke-width="0.8" opacity="0.8"/>
<line x1="498.88" y1="159" x2="498.88" y2="155.5" stroke="#ffffff" stroke-width="0.8" opacity="0.8"/>
<text x="347.85" y="14.15">46</text>
<text x="347.85" y="56.9">42</text>
<text x="347.75" y="98.5">38</text>
<text x="347.65" y="141.75">34</text>
<text x="355.75" y="170.85">-20</text>
<text x="387.15" y="170.85">0</text>
<text x="412.15" y="170.85">20</text>
<text x="439.05" y="170.85">40</text>
<text x="465.95" y="170.85">60</text>
<text x="493.3" y="170.85">80</text>
<text x="427.6" y="182.3" font-size="11"><tspan font-style="italic">θ</tspan> (°)</text>
<text transform="translate(346.3 96.2) rotate(-90)" font-size="11"><tspan font-style="italic">T</tspan> (K)</text>
<polyline points="362.28,79.38 362.96,78.25 363.65,77.13 364.33,75.97 365.01,74.82 365.7,73.66 366.38,72.5 367.06,71.34 367.74,70.19 368.43,69.03 369.11,67.87 369.79,66.72 370.48,65.56 371.16,64.4 371.84,63.25 372.53,61.97 373.21,60.69 373.89,59.42 374.57,58.14 375.26,56.86 375.94,55.59 376.62,54.31 377.31,53.04 377.99,51.76 378.67,50.48 379.36,49.21 380.04,47.89 380.72,46.42 381.4,44.94 382.09,43.47 382.77,41.99 383.45,40.52 384.14,39.04 384.82,37.56 385.5,36.09 386.19,34.61 386.87,33.14 387.55,31.66 388.23,30.55 388.92,29.97 389.6,29.39 390.28,29.97 390.97,30.55 391.65,31.66 392.33,33.14 393.02,34.61 393.7,36.09 394.38,37.56 395.06,39.04 395.75,40.52 396.43,41.99 397.11,43.47 397.8,44.94 398.48,46.42 399.16,47.89 399.85,49.21 400.53,50.48 401.21,51.76 401.89,53.04 402.58,54.31 403.26,55.59 403.94,56.86 404.63,58.14 405.31,59.42 405.99,60.69 406.68,61.97 407.36,63.25 408.04,64.4 408.72,65.56 409.41,66.72 410.09,67.87 410.77,69.03 411.46,70.19 412.14,71.34 412.82,72.5 413.5,73.66 414.19,74.82 414.87,75.97 415.55,77.13 416.24,78.25 416.92,79.38 417.6,80.5 418.29,81.62 418.97,82.75 419.65,83.87 420.34,85 421.02,86.12 421.7,87.24 422.38,88.37 423.07,89.49 423.75,90.62 424.43,91.74 425.12,92.68 425.8,93.51 426.48,94.33 427.17,95.16 427.85,95.98 428.53,96.81 429.21,97.64 429.9,98.46 430.58,99.29 431.26,100.11 431.95,100.94 432.63,101.76 433.31,102.59 434,103.41 434.68,104.24 435.36,105.08 436.04,106.01 436.73,106.94 437.41,107.87 438.09,108.8 438.78,109.73 439.46,110.66 440.14,111.59 440.83,112.52 441.51,113.45 442.19,114.34 442.87,115.09 443.56,115.83 444.24,116.58 444.92,117.33 445.61,118.08 446.29,118.82 446.97,119.57 447.66,120.32 448.34,121.07 449.02,121.81 449.7,122.56 450.39,123.31 451.07,124.01 451.75,124.53 452.44,125.05 453.12,125.57 453.8,126.09 454.49,126.61 455.17,127.13 455.85,127.65 456.53,128.17 457.22,128.69 457.9,129.21 458.58,129.73 459.27,130.25 459.95,130.77 460.63,131.29 461.32,131.81 462,132.33 462.68,132.85 463.36,133.37 464.05,133.89 464.73,134.41 465.41,134.93 466.1,135.45 466.78,135.91 467.46,136.33 468.15,136.75 468.83,137.17 469.51,137.6 470.19,138.02 470.88,138.44 471.56,138.86 472.24,139.28 472.93,139.7 473.61,140.12 474.29,140.55 474.98,140.97 475.66,141.39 476.34,141.81 477.02,142.23 477.71,142.65 478.39,143.08 479.07,143.5 479.76,143.92 480.44,144.34 481.12,144.76 481.81,145.18 482.49,145.44 483.17,145.65 483.85,145.87 484.54,146.08 485.22,146.3 485.9,146.51 486.59,146.73 487.27,146.94 487.95,147.16 488.64,147.37 489.32,147.59 490,147.8 490.68,148.01 491.37,148.23 492.05,148.44 492.73,148.66 493.42,148.87 494.1,149.09 494.78,149.3 495.47,149.52 496.15,149.73 496.83,149.95 497.51,150.08 498.2,150.1 498.88,150.11 499.56,150.13 500.25,150.15 500.93,150.16 501.61,150.18 502.3,150.2 502.98,150.21 503.66,150.23 504.34,150.25 505.03,150.26 505.71,150.28 506.39,150.29 507.08,150.31 507.76,150.33 508.44,150.34 509.12,150.36 509.81,150.38 510.49,150.39 511.17,150.41 511.86,150.43 512.54,150.44" fill="none" stroke="#ffffff" stroke-width="1.4" stroke-dasharray="4.6,3"/>
<line x1="362.7" y1="29.8" x2="427.1" y2="29.8" stroke="#231f20" stroke-width="1" stroke-dasharray="3.8,2.4"/>
<line x1="348.9" y1="29.8" x2="356" y2="29.8" stroke="#3a3a3a" stroke-width="1.3"/>
<path d="M360.8 29.8L354.4 32.7L354.4 26.9Z" fill="#231f20"/>
<text x="495.6" y="21.8" fill="#ffffff" font-size="10.5">S2</text>
<text x="376.7" y="147.75" fill="#ffffff" font-size="10.8"><tspan font-style="italic">B</tspan> = 12 T</text>
<text x="408.25" y="43.65" font-style="italic" font-size="10.5">T</text>
<text x="416.7" y="39.5" font-size="8">50%</text>
<text x="418" y="46.55" font-size="8">sc</text>
<text x="433.85" y="43.8" font-size="11">(<tspan font-style="italic">B</tspan>=0)</text>
<text x="424.95" y="83.5" fill="#ffffff" font-size="10.5">T</text>
<text x="433.7" y="79" fill="#ffffff" font-size="8">50%</text>
<text x="433.9" y="86.45" fill="#ffffff" font-size="8">sc</text>
<text x="449.75" y="83.45" fill="#ffffff" font-size="11">(<tspan font-style="italic">B</tspan>=12)</text>
<defs><linearGradient id="cbg2" x1="0" y1="0" x2="0" y2="1"><stop offset="0" stop-color="#520a22"/><stop offset="0.1" stop-color="#9c1c2e"/><stop offset="0.2" stop-color="#c95240"/><stop offset="0.3" stop-color="#e1937d"/><stop offset="0.4" stop-color="#efc6bb"/><stop offset="0.5" stop-color="#ebe7ea"/><stop offset="0.6" stop-color="#a5c7d9"/><stop offset="0.7" stop-color="#5c98cc"/><stop offset="0.8" stop-color="#2a66c8"/><stop offset="0.9" stop-color="#1c3cb0"/><stop offset="0.95" stop-color="#1a2580"/><stop offset="1" stop-color="#16164e"/></linearGradient></defs>
<rect x="516" y="129.8" width="6.3" height="29.2" fill="url(#cbg2)" stroke="#231f20" stroke-width="0.6"/>
<text x="517.1" y="127.75" font-size="7.5">8</text>
<text x="517.1" y="167.6" font-size="7.5">0</text>
<text transform="translate(524.4 134.3) rotate(90)" font-size="8.6"><tspan font-style="italic">R</tspan> (Ω)</text>
<text x="530.1" y="7.1" font-weight="bold">e</text>
<defs><clipPath id="hc3"><rect x="563.5" y="10" width="102.3" height="149.2"/></clipPath><filter id="hb3" x="-5%" y="-5%" width="110%" height="110%"><feGaussianBlur stdDeviation="0.9"/></filter></defs>
<g clip-path="url(#hc3)"><g filter="url(#hb3)" shape-rendering="crispEdges">
<path fill="#701028" d="M559.5 6h14v2h-14zM655.5 6h14v2h-14zM559.5 8h12v2h-12zM657.5 8h12v2h-12z"/>
<path fill="#741028" d="M573.5 6h2v2h-2zM653.5 6h2v2h-2zM669.5 6h2v2h-2zM561.5 10h2v2h-2zM665.5 10h2v2h-2z"/>
<path fill="#741428" d="M575.5 6h2v2h-2zM651.5 6h2v2h-2zM571.5 8h4v2h-4zM653.5 8h4v2h-4zM669.5 8h2v2h-2zM559.5 10h2v2h-2zM563.5 10h8v2h-8zM657.5 10h8v2h-8zM667.5 10h2v2h-2zM561.5 12h6v2h-6zM661.5 12h6v2h-6z"/>
<path fill="#781428" d="M577.5 6h2v2h-2zM649.5 6h2v2h-2zM575.5 8h4v2h-4zM649.5 8h4v2h-4zM571.5 10h6v2h-6zM651.5 10h6v2h-6zM669.5 10h2v2h-2zM559.5 12h2v2h-2zM567.5 12h6v2h-6zM655.5 12h6v2h-6zM667.5 12h4v2h-4zM559.5 14h10v2h-10zM659.5 14h10v2h-10z"/>
<path fill="#7c1428" d="M579.5 6h2v2h-2zM647.5 6h2v2h-2zM577.5 10h2v2h-2zM649.5 10h2v2h-2zM573.5 12h4v2h-4zM651.5 12h4v2h-4zM569.5 14h4v2h-4zM655.5 14h4v2h-4zM669.5 14h2v2h-2zM559.5 16h12v2h-12zM657.5 16h12v2h-12zM561.5 18h2v2h-2zM665.5 18h2v2h-2z"/>
<path fill="#801428" d="M581.5 6h2v2h-2zM645.5 6h2v2h-2zM579.5 8h2v2h-2zM647.5 8h2v2h-2zM577.5 12h2v2h-2zM649.5 12h2v2h-2zM573.5 14h4v2h-4zM651.5 14h4v2h-4zM571.5 16h2v2h-2zM655.5 16h2v2h-2zM669.5 16h2v2h-2zM559.5 18h2v2h-2zM563.5 18h8v2h-8zM657.5 18h8v2h-8zM667.5 18h2v2h-2zM561.5 20h4v2h-4zM663.5 20h4v2h-4z"/>
<path fill="#84182c" d="M583.5 6h2v2h-2zM643.5 6h2v2h-2zM581.5 8h2v2h-2zM645.5 8h2v2h-2zM577.5 14h2v2h-2zM649.5 14h2v2h-2zM575.5 16h2v2h-2zM651.5 16h2v2h-2zM571.5 18h4v2h-4zM653.5 18h4v2h-4zM569.5 20h2v2h-2zM657.5 20h2v2h-2zM669.5 20h2v2h-2zM559.5 22h8v2h-8zM661.5 22h8v2h-8z"/>
<path fill="#90182c" d="M585.5 6h2v2h-2zM641.5 6h2v2h-2zM583.5 10h2v2h-2zM643.5 10h2v2h-2zM581.5 14h2v2h-2zM645.5 14h2v2h-2zM579.5 16h2v2h-2zM647.5 16h2v2h-2zM573.5 22h4v2h-4zM651.5 22h4v2h-4zM571.5 24h2v2h-2zM655.5 24h2v2h-2zM567.5 26h4v2h-4zM657.5 26h4v2h-4zM669.5 26h2v2h-2zM559.5 28h8v2h-8zM661.5 28h8v2h-8z"/>
<path fill="#981c2c" d="M587.5 6h2v2h-2zM639.5 6h2v2h-2zM585.5 10h2v2h-2zM641.5 10h2v2h-2zM583.5 14h2v2h-2zM643.5 14h2v2h-2zM581.5 16h2v2h-2zM645.5 16h2v2h-2zM579.5 20h2v2h-2zM647.5 20h2v2h-2zM577.5 22h2v2h-2zM649.5 22h2v2h-2zM575.5 24h2v2h-2zM651.5 24h2v2h-2zM573.5 26h2v2h-2zM653.5 26h2v2h-2zM571.5 28h2v2h-2zM655.5 28h2v2h-2zM565.5 30h4v2h-4zM659.5 30h4v2h-4zM669.5 30h2v2h-2zM559.5 32h6v2h-6zM663.5 32h6v2h-6z"/>
<path fill="#a02030" d="M589.5 6h2v2h-2zM637.5 6h2v2h-2zM581.5 20h2v2h-2zM645.5 20h2v2h-2zM577.5 26h2v2h-2zM649.5 26h2v2h-2zM575.5 28h2v2h-2zM651.5 28h2v2h-2zM573.5 30h2v2h-2zM653.5 30h2v2h-2zM571.5 32h2v2h-2zM655.5 32h2v2h-2zM565.5 34h4v2h-4zM659.5 34h4v2h-4zM669.5 34h2v2h-2zM559.5 36h6v2h-6zM663.5 36h6v2h-6z"/>
<path fill="#a42830" d="M591.5 6h2v2h-2zM635.5 6h2v2h-2zM589.5 8h2v2h-2zM637.5 8h2v2h-2zM587.5 12h2v2h-2zM639.5 12h2v2h-2zM585.5 16h2v2h-2zM641.5 16h2v2h-2zM583.5 20h2v2h-2zM643.5 20h2v2h-2zM579.5 26h2v2h-2zM647.5 26h2v2h-2zM575.5 32h2v2h-2zM651.5 32h2v2h-2zM567.5 38h2v2h-2zM659.5 38h2v2h-2zM669.5 38h2v2h-2zM559.5 40h4v2h-4zM665.5 40h4v2h-4z"/>
<path fill="#a82c34" d="M593.5 6h2v2h-2zM633.5 6h2v2h-2zM591.5 8h2v2h-2zM635.5 8h2v2h-2zM589.5 10h2v2h-2zM637.5 10h2v2h-2zM587.5 14h2v2h-2zM639.5 14h2v2h-2zM585.5 18h2v2h-2zM641.5 18h2v2h-2zM583.5 22h2v2h-2zM643.5 22h2v2h-2zM579.5 28h2v2h-2zM647.5 28h2v2h-2zM575.5 34h2v2h-2zM651.5 34h2v2h-2zM573.5 36h2v2h-2zM653.5 36h2v2h-2zM567.5 40h2v2h-2zM659.5 40h2v2h-2zM669.5 40h2v2h-2zM559.5 42h6v2h-6zM663.5 42h6v2h-6z"/>
<path fill="#b03434" d="M595.5 6h2v2h-2zM631.5 6h2v2h-2zM593.5 8h2v2h-2zM633.5 8h2v2h-2zM581.5 28h2v2h-2zM645.5 28h2v2h-2zM569.5 42h2v2h-2zM657.5 42h2v2h-2zM567.5 44h2v2h-2zM659.5 44h2v2h-2zM669.5 44h2v2h-2zM559.5 46h6v2h-6zM663.5 46h6v2h-6z"/>
<path fill="#b43838" d="M597.5 6h2v2h-2zM629.5 6h2v2h-2zM595.5 8h2v2h-2zM631.5 8h2v2h-2zM593.5 10h2v2h-2zM633.5 10h2v2h-2zM591.5 12h2v2h-2zM635.5 12h2v2h-2zM581.5 30h2v2h-2zM645.5 30h2v2h-2zM579.5 34h2v2h-2zM647.5 34h2v2h-2zM577.5 36h2v2h-2zM649.5 36h2v2h-2zM575.5 40h2v2h-2zM651.5 40h2v2h-2zM569.5 44h2v2h-2zM657.5 44h2v2h-2zM567.5 46h2v2h-2zM659.5 46h2v2h-2zM559.5 48h2v2h-2zM563.5 48h2v2h-2zM663.5 48h2v2h-2zM667.5 48h2v2h-2z"/>
<path fill="#b84038" d="M599.5 6h2v2h-2zM627.5 6h2v2h-2zM597.5 8h2v2h-2zM629.5 8h2v2h-2zM595.5 10h2v2h-2zM631.5 10h2v2h-2zM579.5 36h2v2h-2zM647.5 36h2v2h-2zM575.5 42h2v2h-2zM651.5 42h2v2h-2zM573.5 44h2v2h-2zM653.5 44h2v2h-2zM571.5 46h2v2h-2zM655.5 46h2v2h-2zM569.5 48h2v2h-2zM657.5 48h2v2h-2zM565.5 50h2v2h-2zM661.5 50h2v2h-2zM669.5 50h2v2h-2zM559.5 52h4v2h-4zM665.5 52h4v2h-4z"/>
<path fill="#bc443c" d="M601.5 6h2v2h-2zM625.5 6h2v2h-2zM593.5 14h2v2h-2zM633.5 14h2v2h-2zM591.5 16h2v2h-2zM635.5 16h2v2h-2zM579.5 38h2v2h-2zM647.5 38h2v2h-2zM575.5 44h2v2h-2zM651.5 44h2v2h-2zM573.5 46h2v2h-2zM653.5 46h2v2h-2zM571.5 48h2v2h-2zM655.5 48h2v2h-2zM569.5 50h2v2h-2zM657.5 50h2v2h-2zM565.5 52h2v2h-2zM661.5 52h2v2h-2zM669.5 52h2v2h-2zM559.5 54h4v2h-4zM665.5 54h4v2h-4z"/>
<path fill="#c0483c" d="M603.5 6h2v2h-2zM623.5 6h2v2h-2zM613.5 8h2v2h-2zM591.5 18h2v2h-2zM635.5 18h2v2h-2zM589.5 20h2v2h-2zM637.5 20h2v2h-2zM587.5 24h2v2h-2zM639.5 24h2v2h-2zM585.5 28h2v2h-2zM641.5 28h2v2h-2zM581.5 36h2v2h-2zM645.5 36h2v2h-2zM579.5 40h2v2h-2zM647.5 40h2v2h-2zM575.5 46h2v2h-2zM651.5 46h2v2h-2zM573.5 48h2v2h-2zM653.5 48h2v2h-2zM571.5 50h2v2h-2zM655.5 50h2v2h-2zM569.5 52h2v2h-2zM657.5 52h2v2h-2zM565.5 54h2v2h-2zM661.5 54h2v2h-2zM669.5 54h2v2h-2zM559.5 56h6v2h-6zM663.5 56h6v2h-6z"/>
<path fill="#c44c40" d="M605.5 6h2v2h-2zM621.5 6h2v2h-2zM611.5 8h2v2h-2zM615.5 8h2v2h-2zM599.5 10h2v2h-2zM627.5 10h2v2h-2zM597.5 12h2v2h-2zM629.5 12h2v2h-2zM589.5 22h2v2h-2zM637.5 22h2v2h-2zM587.5 26h2v2h-2zM639.5 26h2v2h-2zM581.5 38h2v2h-2zM645.5 38h2v2h-2zM575.5 48h2v2h-2zM651.5 48h2v2h-2zM573.5 50h2v2h-2zM653.5 50h2v2h-2zM571.5 52h2v2h-2zM655.5 52h2v2h-2zM569.5 54h2v2h-2zM657.5 54h2v2h-2zM563.5 58h2v2h-2zM663.5 58h2v2h-2z"/>
<path fill="#c85040" d="M607.5 6h2v2h-2zM619.5 6h2v2h-2zM603.5 8h2v2h-2zM623.5 8h2v2h-2zM613.5 10h2v2h-2zM595.5 16h2v2h-2zM631.5 16h2v2h-2zM593.5 18h2v2h-2zM633.5 18h2v2h-2zM591.5 20h2v2h-2zM635.5 20h2v2h-2zM585.5 32h2v2h-2zM641.5 32h2v2h-2zM583.5 36h2v2h-2zM643.5 36h2v2h-2zM577.5 46h2v2h-2zM649.5 46h2v2h-2zM565.5 58h2v2h-2zM661.5 58h2v2h-2zM669.5 58h2v2h-2zM559.5 60h4v2h-4zM665.5 60h4v2h-4z"/>
<path fill="#c44c3c" d="M609.5 6h2v2h-2zM617.5 6h2v2h-2zM601.5 8h2v2h-2zM625.5 8h2v2h-2zM595.5 14h2v2h-2zM631.5 14h2v2h-2zM593.5 16h2v2h-2zM633.5 16h2v2h-2zM585.5 30h2v2h-2zM641.5 30h2v2h-2zM583.5 34h2v2h-2zM643.5 34h2v2h-2zM577.5 44h2v2h-2zM649.5 44h2v2h-2zM565.5 56h2v2h-2zM661.5 56h2v2h-2zM669.5 56h2v2h-2zM559.5 58h4v2h-4zM665.5 58h4v2h-4z"/>
<path fill="#c0443c" d="M611.5 6h2v2h-2zM615.5 6h2v2h-2zM599.5 8h2v2h-2zM627.5 8h2v2h-2zM597.5 10h2v2h-2zM629.5 10h2v2h-2zM595.5 12h2v2h-2zM631.5 12h2v2h-2zM583.5 32h2v2h-2zM643.5 32h2v2h-2zM577.5 42h2v2h-2zM649.5 42h2v2h-2zM567.5 52h2v2h-2zM659.5 52h2v2h-2zM563.5 54h2v2h-2zM663.5 54h2v2h-2z"/>
<path fill="#bc403c" d="M613.5 6h2v2h-2zM589.5 18h2v2h-2zM637.5 18h2v2h-2zM587.5 22h2v2h-2zM639.5 22h2v2h-2zM585.5 26h2v2h-2zM641.5 26h2v2h-2zM583.5 30h2v2h-2zM643.5 30h2v2h-2zM581.5 34h2v2h-2zM645.5 34h2v2h-2zM577.5 40h2v2h-2zM649.5 40h2v2h-2zM567.5 50h2v2h-2zM659.5 50h2v2h-2zM563.5 52h2v2h-2zM663.5 52h2v2h-2z"/>
<path fill="#88182c" d="M583.5 8h2v2h-2zM643.5 8h2v2h-2zM581.5 10h2v2h-2zM645.5 10h2v2h-2zM579.5 12h2v2h-2zM647.5 12h2v2h-2zM577.5 16h2v2h-2zM649.5 16h2v2h-2zM575.5 18h2v2h-2zM651.5 18h2v2h-2zM571.5 20h4v2h-4zM653.5 20h4v2h-4zM567.5 22h4v2h-4zM657.5 22h4v2h-4zM669.5 22h2v2h-2zM559.5 24h8v2h-8zM661.5 24h8v2h-8z"/>
<path fill="#94182c" d="M585.5 8h2v2h-2zM641.5 8h2v2h-2zM577.5 20h2v2h-2zM649.5 20h2v2h-2zM573.5 24h2v2h-2zM653.5 24h2v2h-2zM567.5 28h2v2h-2zM659.5 28h2v2h-2zM561.5 30h2v2h-2zM665.5 30h2v2h-2z"/>
<path fill="#9c1c30" d="M587.5 8h2v2h-2zM639.5 8h2v2h-2zM585.5 12h2v2h-2zM641.5 12h2v2h-2zM581.5 18h2v2h-2zM645.5 18h2v2h-2zM577.5 24h2v2h-2zM649.5 24h2v2h-2zM573.5 28h2v2h-2zM653.5 28h2v2h-2zM571.5 30h2v2h-2zM655.5 30h2v2h-2zM567.5 32h2v2h-2zM659.5 32h2v2h-2zM669.5 32h2v2h-2zM559.5 34h6v2h-6zM663.5 34h6v2h-6z"/>
<path fill="#cc5844" d="M605.5 8h4v2h-4zM619.5 8h4v2h-4zM611.5 10h2v2h-2zM615.5 10h2v2h-2zM593.5 20h2v2h-2zM633.5 20h2v2h-2zM591.5 22h2v2h-2zM635.5 22h2v2h-2zM585.5 34h2v2h-2zM641.5 34h2v2h-2zM583.5 38h2v2h-2zM643.5 38h2v2h-2zM569.5 58h2v2h-2zM657.5 58h2v2h-2zM563.5 62h2v2h-2zM663.5 62h2v2h-2z"/>
<path fill="#c85440" d="M609.5 8h2v2h-2zM617.5 8h2v2h-2zM601.5 10h2v2h-2zM625.5 10h2v2h-2zM599.5 12h2v2h-2zM627.5 12h2v2h-2zM597.5 14h2v2h-2zM629.5 14h2v2h-2zM589.5 24h2v2h-2zM637.5 24h2v2h-2zM587.5 28h2v2h-2zM639.5 28h2v2h-2zM581.5 40h2v2h-2zM645.5 40h2v2h-2zM579.5 44h2v2h-2zM647.5 44h2v2h-2zM575.5 50h2v2h-2zM651.5 50h2v2h-2zM573.5 52h2v2h-2zM653.5 52h2v2h-2zM571.5 54h2v2h-2zM655.5 54h2v2h-2zM569.5 56h2v2h-2zM657.5 56h2v2h-2zM567.5 58h2v2h-2zM659.5 58h2v2h-2zM563.5 60h2v2h-2zM663.5 60h2v2h-2zM669.5 60h2v2h-2z"/>
<path fill="#841428" d="M579.5 10h2v2h-2zM647.5 10h2v2h-2zM573.5 16h2v2h-2zM653.5 16h2v2h-2zM669.5 18h2v2h-2zM559.5 20h2v2h-2zM565.5 20h4v2h-4zM659.5 20h4v2h-4zM667.5 20h2v2h-2z"/>
<path fill="#a02430" d="M587.5 10h2v2h-2zM639.5 10h2v2h-2zM585.5 14h2v2h-2zM641.5 14h2v2h-2zM583.5 18h2v2h-2zM643.5 18h2v2h-2zM579.5 24h2v2h-2zM647.5 24h2v2h-2zM569.5 34h2v2h-2zM657.5 34h2v2h-2zM565.5 36h2v2h-2zM661.5 36h2v2h-2zM561.5 38h2v2h-2zM665.5 38h2v2h-2z"/>
<path fill="#b03034" d="M591.5 10h2v2h-2zM635.5 10h2v2h-2zM577.5 34h2v2h-2zM649.5 34h2v2h-2zM571.5 40h2v2h-2zM655.5 40h2v2h-2zM565.5 44h2v2h-2zM661.5 44h2v2h-2z"/>
<path fill="#cc5848" d="M603.5 10h2v2h-2zM623.5 10h2v2h-2zM595.5 18h2v2h-2zM631.5 18h2v2h-2zM587.5 30h2v2h-2zM639.5 30h2v2h-2zM581.5 42h2v2h-2zM645.5 42h2v2h-2zM575.5 52h2v2h-2zM651.5 52h2v2h-2zM573.5 54h2v2h-2zM653.5 54h2v2h-2zM571.5 56h2v2h-2zM655.5 56h2v2h-2zM567.5 60h2v2h-2zM659.5 60h2v2h-2zM669.5 62h2v2h-2z"/>
<path fill="#cc604c" d="M605.5 10h2v2h-2zM621.5 10h2v2h-2zM585.5 36h2v2h-2zM641.5 36h2v2h-2zM583.5 40h2v2h-2zM643.5 40h2v2h-2zM581.5 44h2v2h-2zM645.5 44h2v2h-2zM575.5 54h2v2h-2zM651.5 54h2v2h-2zM573.5 56h2v2h-2zM653.5 56h2v2h-2zM571.5 58h2v2h-2zM655.5 58h2v2h-2zM569.5 60h2v2h-2zM657.5 60h2v2h-2zM567.5 62h2v2h-2zM659.5 62h2v2h-2z"/>
<path fill="#d06050" d="M607.5 10h2v2h-2zM619.5 10h2v2h-2zM595.5 20h2v2h-2zM631.5 20h2v2h-2zM579.5 48h2v2h-2zM647.5 48h2v2h-2zM565.5 64h2v2h-2zM661.5 64h2v2h-2z"/>
<path fill="#cc5c48" d="M609.5 10h2v2h-2zM617.5 10h2v2h-2zM601.5 12h2v2h-2zM613.5 12h2v2h-2zM625.5 12h2v2h-2zM599.5 14h2v2h-2zM627.5 14h2v2h-2zM597.5 16h2v2h-2zM629.5 16h2v2h-2zM589.5 26h2v2h-2zM637.5 26h2v2h-2zM579.5 46h2v2h-2zM647.5 46h2v2h-2zM577.5 50h2v2h-2zM649.5 50h2v2h-2zM565.5 62h2v2h-2zM661.5 62h2v2h-2zM559.5 64h4v2h-4zM665.5 64h4v2h-4z"/>
<path fill="#8c182c" d="M581.5 12h2v2h-2zM645.5 12h2v2h-2zM579.5 14h2v2h-2zM647.5 14h2v2h-2zM577.5 18h2v2h-2zM649.5 18h2v2h-2zM575.5 20h2v2h-2zM651.5 20h2v2h-2zM571.5 22h2v2h-2zM655.5 22h2v2h-2zM567.5 24h4v2h-4zM657.5 24h4v2h-4zM669.5 24h2v2h-2zM559.5 26h8v2h-8zM661.5 26h8v2h-8z"/>
<path fill="#941c2c" d="M583.5 12h2v2h-2zM643.5 12h2v2h-2zM579.5 18h2v2h-2zM647.5 18h2v2h-2zM571.5 26h2v2h-2zM655.5 26h2v2h-2zM569.5 28h2v2h-2zM657.5 28h2v2h-2zM669.5 28h2v2h-2zM559.5 30h2v2h-2zM563.5 30h2v2h-2zM663.5 30h2v2h-2zM667.5 30h2v2h-2z"/>
<path fill="#ac3034" d="M589.5 12h2v2h-2zM637.5 12h2v2h-2zM587.5 16h2v2h-2zM639.5 16h2v2h-2zM585.5 20h2v2h-2zM641.5 20h2v2h-2zM583.5 24h2v2h-2zM643.5 24h2v2h-2zM579.5 30h2v2h-2zM647.5 30h2v2h-2zM575.5 36h2v2h-2zM651.5 36h2v2h-2zM573.5 38h2v2h-2zM653.5 38h2v2h-2zM569.5 40h2v2h-2zM657.5 40h2v2h-2zM567.5 42h2v2h-2zM659.5 42h2v2h-2zM669.5 42h2v2h-2zM559.5 44h6v2h-6zM663.5 44h6v2h-6z"/>
<path fill="#b83c38" d="M593.5 12h2v2h-2zM633.5 12h2v2h-2zM591.5 14h2v2h-2zM635.5 14h2v2h-2zM589.5 16h2v2h-2zM637.5 16h2v2h-2zM587.5 20h2v2h-2zM639.5 20h2v2h-2zM585.5 24h2v2h-2zM641.5 24h2v2h-2zM581.5 32h2v2h-2zM645.5 32h2v2h-2zM577.5 38h2v2h-2zM649.5 38h2v2h-2zM567.5 48h2v2h-2zM659.5 48h2v2h-2zM563.5 50h2v2h-2zM663.5 50h2v2h-2z"/>
<path fill="#d06450" d="M603.5 12h2v2h-2zM623.5 12h2v2h-2zM601.5 14h2v2h-2zM625.5 14h2v2h-2zM599.5 16h2v2h-2zM627.5 16h2v2h-2zM597.5 18h2v2h-2zM629.5 18h2v2h-2zM589.5 28h2v2h-2zM637.5 28h2v2h-2zM583.5 42h2v2h-2zM643.5 42h2v2h-2zM577.5 52h2v2h-2zM649.5 52h2v2h-2zM573.5 58h2v2h-2zM653.5 58h2v2h-2zM571.5 60h2v2h-2zM655.5 60h2v2h-2zM569.5 62h2v2h-2zM657.5 62h2v2h-2zM567.5 64h2v2h-2zM659.5 64h2v2h-2zM563.5 66h2v2h-2zM663.5 66h2v2h-2zM669.5 66h2v2h-2z"/>
<path fill="#d06854" d="M605.5 12h2v2h-2zM621.5 12h2v2h-2zM613.5 14h2v2h-2zM593.5 24h2v2h-2zM633.5 24h2v2h-2zM587.5 34h2v2h-2zM639.5 34h2v2h-2zM585.5 38h2v2h-2zM641.5 38h2v2h-2zM581.5 46h2v2h-2zM645.5 46h2v2h-2zM579.5 50h2v2h-2zM647.5 50h2v2h-2zM577.5 54h2v2h-2zM649.5 54h2v2h-2zM565.5 66h2v2h-2zM661.5 66h2v2h-2zM563.5 68h2v2h-2zM663.5 68h2v2h-2zM669.5 68h2v2h-2z"/>
<path fill="#d46c58" d="M607.5 12h2v2h-2zM619.5 12h2v2h-2zM603.5 14h2v2h-2zM611.5 14h2v2h-2zM615.5 14h2v2h-2zM623.5 14h2v2h-2zM601.5 16h2v2h-2zM625.5 16h2v2h-2zM599.5 18h2v2h-2zM627.5 18h2v2h-2zM597.5 20h2v2h-2zM629.5 20h2v2h-2zM591.5 28h2v2h-2zM635.5 28h2v2h-2zM585.5 40h2v2h-2zM641.5 40h2v2h-2zM583.5 44h2v2h-2zM643.5 44h2v2h-2zM581.5 48h2v2h-2zM645.5 48h2v2h-2zM575.5 58h2v2h-2zM651.5 58h2v2h-2zM573.5 60h2v2h-2zM653.5 60h2v2h-2zM571.5 62h2v2h-2zM655.5 62h2v2h-2zM567.5 66h2v2h-2zM659.5 66h2v2h-2zM565.5 68h2v2h-2zM661.5 68h2v2h-2zM559.5 70h4v2h-4zM665.5 70h4v2h-4z"/>
<path fill="#d06454" d="M609.5 12h2v2h-2zM617.5 12h2v2h-2zM591.5 26h2v2h-2zM635.5 26h2v2h-2zM575.5 56h2v2h-2zM651.5 56h2v2h-2zM559.5 68h4v2h-4zM665.5 68h4v2h-4z"/>
<path fill="#d0604c" d="M611.5 12h2v2h-2zM615.5 12h2v2h-2zM593.5 22h2v2h-2zM633.5 22h2v2h-2zM587.5 32h2v2h-2zM639.5 32h2v2h-2zM559.5 66h4v2h-4zM665.5 66h4v2h-4z"/>
<path fill="#b03838" d="M589.5 14h2v2h-2zM637.5 14h2v2h-2zM587.5 18h2v2h-2zM639.5 18h2v2h-2zM571.5 42h2v2h-2zM655.5 42h2v2h-2zM669.5 46h2v2h-2zM561.5 48h2v2h-2zM665.5 48h2v2h-2z"/>
<path fill="#d4705c" d="M605.5 14h2v2h-2zM609.5 14h2v2h-2zM617.5 14h2v2h-2zM621.5 14h2v2h-2zM613.5 16h2v2h-2zM595.5 24h2v2h-2zM631.5 24h2v2h-2zM593.5 26h2v2h-2zM633.5 26h2v2h-2zM589.5 32h2v2h-2zM637.5 32h2v2h-2zM587.5 36h2v2h-2zM639.5 36h2v2h-2zM579.5 52h2v2h-2zM647.5 52h2v2h-2zM577.5 56h2v2h-2zM649.5 56h2v2h-2zM573.5 62h2v2h-2zM653.5 62h2v2h-2zM571.5 64h2v2h-2zM655.5 64h2v2h-2zM569.5 66h2v2h-2zM657.5 66h2v2h-2zM567.5 68h2v2h-2zM659.5 68h2v2h-2zM563.5 70h2v2h-2zM663.5 70h2v2h-2zM559.5 72h4v2h-4zM665.5 72h4v2h-4z"/>
<path fill="#d47460" d="M607.5 14h2v2h-2zM619.5 14h2v2h-2zM603.5 16h2v2h-2zM623.5 16h2v2h-2zM597.5 22h2v2h-2zM629.5 22h2v2h-2zM591.5 30h2v2h-2zM635.5 30h2v2h-2zM585.5 42h2v2h-2zM641.5 42h2v2h-2zM583.5 46h2v2h-2zM643.5 46h2v2h-2zM581.5 50h2v2h-2zM645.5 50h2v2h-2zM579.5 54h2v2h-2zM647.5 54h2v2h-2zM575.5 60h2v2h-2zM651.5 60h2v2h-2zM565.5 70h2v2h-2zM661.5 70h2v2h-2zM563.5 72h2v2h-2zM663.5 72h2v2h-2zM669.5 72h2v2h-2z"/>
<path fill="#9c2030" d="M583.5 16h2v2h-2zM643.5 16h2v2h-2zM579.5 22h2v2h-2zM647.5 22h2v2h-2zM569.5 32h2v2h-2zM657.5 32h2v2h-2z"/>
<path fill="#d87c68" d="M605.5 16h2v2h-2zM621.5 16h2v2h-2zM603.5 18h2v2h-2zM613.5 18h2v2h-2zM623.5 18h2v2h-2zM597.5 24h2v2h-2zM629.5 24h2v2h-2zM591.5 32h2v2h-2zM635.5 32h2v2h-2zM585.5 44h2v2h-2zM641.5 44h2v2h-2zM581.5 52h2v2h-2zM645.5 52h2v2h-2zM579.5 56h2v2h-2zM647.5 56h2v2h-2zM577.5 60h2v2h-2zM649.5 60h2v2h-2zM571.5 68h2v2h-2zM655.5 68h2v2h-2zM569.5 70h2v2h-2zM657.5 70h2v2h-2zM567.5 72h2v2h-2zM659.5 72h2v2h-2zM565.5 74h2v2h-2zM661.5 74h2v2h-2zM559.5 76h4v2h-4zM665.5 76h6v2h-6z"/>
<path fill="#d88068" d="M607.5 16h2v2h-2zM619.5 16h2v2h-2zM601.5 20h2v2h-2zM625.5 20h2v2h-2zM599.5 22h2v2h-2zM627.5 22h2v2h-2zM587.5 40h2v2h-2zM639.5 40h2v2h-2zM573.5 66h2v2h-2zM653.5 66h2v2h-2z"/>
<path fill="#d87c64" d="M609.5 16h2v2h-2zM617.5 16h2v2h-2z"/>
<path fill="#d87460" d="M611.5 16h2v2h-2zM615.5 16h2v2h-2zM601.5 18h2v2h-2zM625.5 18h2v2h-2zM599.5 20h2v2h-2zM627.5 20h2v2h-2zM559.5 74h4v2h-4zM665.5 74h4v2h-4z"/>
<path fill="#dc8470" d="M605.5 18h2v2h-2zM609.5 18h2v2h-2zM617.5 18h2v2h-2zM621.5 18h2v2h-2zM597.5 26h2v2h-2zM629.5 26h2v2h-2zM591.5 34h2v2h-2zM635.5 34h2v2h-2zM587.5 42h2v2h-2zM639.5 42h2v2h-2zM585.5 46h2v2h-2zM641.5 46h2v2h-2zM577.5 62h2v2h-2zM649.5 62h2v2h-2zM575.5 66h2v2h-2zM651.5 66h2v2h-2zM573.5 68h2v2h-2zM653.5 68h2v2h-2zM571.5 70h2v2h-2zM655.5 70h2v2h-2zM565.5 76h2v2h-2zM661.5 76h2v2h-2zM563.5 78h2v2h-2zM663.5 78h2v2h-2zM669.5 78h2v2h-2z"/>
<path fill="#dc8874" d="M607.5 18h2v2h-2zM619.5 18h2v2h-2zM601.5 22h2v2h-2zM625.5 22h2v2h-2zM589.5 38h2v2h-2zM637.5 38h2v2h-2zM583.5 52h2v2h-2zM643.5 52h2v2h-2zM581.5 56h2v2h-2zM645.5 56h2v2h-2zM579.5 60h2v2h-2zM647.5 60h2v2h-2zM577.5 64h2v2h-2zM649.5 64h2v2h-2zM571.5 72h2v2h-2zM655.5 72h2v2h-2zM569.5 74h2v2h-2zM657.5 74h2v2h-2zM567.5 76h2v2h-2zM659.5 76h2v2h-2zM565.5 78h2v2h-2zM661.5 78h2v2h-2zM669.5 80h2v2h-2z"/>
<path fill="#d8806c" d="M611.5 18h2v2h-2zM615.5 18h2v2h-2zM593.5 30h2v2h-2zM633.5 30h2v2h-2zM575.5 64h2v2h-2zM651.5 64h2v2h-2zM563.5 76h2v2h-2zM663.5 76h2v2h-2z"/>
<path fill="#dc8870" d="M603.5 20h2v2h-2zM613.5 20h2v2h-2zM623.5 20h2v2h-2zM599.5 24h2v2h-2zM627.5 24h2v2h-2zM593.5 32h2v2h-2zM633.5 32h2v2h-2zM559.5 80h4v2h-4zM665.5 80h4v2h-4z"/>
<path fill="#e09078" d="M605.5 20h2v2h-2zM609.5 20h2v2h-2zM617.5 20h2v2h-2zM621.5 20h2v2h-2zM599.5 26h2v2h-2zM627.5 26h2v2h-2zM593.5 34h2v2h-2zM633.5 34h2v2h-2zM589.5 40h2v2h-2zM637.5 40h2v2h-2zM583.5 54h2v2h-2zM643.5 54h2v2h-2zM581.5 58h2v2h-2zM645.5 58h2v2h-2zM569.5 76h2v2h-2zM657.5 76h2v2h-2zM567.5 78h2v2h-2zM659.5 78h2v2h-2zM565.5 80h2v2h-2zM661.5 80h2v2h-2zM669.5 82h2v2h-2z"/>
<path fill="#e0907c" d="M607.5 20h2v2h-2zM619.5 20h2v2h-2zM603.5 22h2v2h-2zM613.5 22h2v2h-2zM623.5 22h2v2h-2zM601.5 24h2v2h-2zM625.5 24h2v2h-2zM585.5 50h2v2h-2zM641.5 50h2v2h-2zM579.5 62h2v2h-2zM647.5 62h2v2h-2zM577.5 66h2v2h-2zM649.5 66h2v2h-2zM573.5 72h2v2h-2zM653.5 72h2v2h-2zM571.5 74h2v2h-2zM655.5 74h2v2h-2zM563.5 82h2v2h-2zM663.5 82h2v2h-2zM559.5 84h2v2h-2zM667.5 84h2v2h-2z"/>
<path fill="#dc8c74" d="M611.5 20h2v2h-2zM615.5 20h2v2h-2zM595.5 30h2v2h-2zM631.5 30h2v2h-2zM585.5 48h2v2h-2zM641.5 48h2v2h-2zM573.5 70h2v2h-2zM653.5 70h2v2h-2z"/>
<path fill="#a42430" d="M581.5 22h2v2h-2zM645.5 22h2v2h-2zM577.5 28h2v2h-2zM649.5 28h2v2h-2zM575.5 30h2v2h-2zM651.5 30h2v2h-2zM573.5 32h2v2h-2zM653.5 32h2v2h-2zM571.5 34h2v2h-2zM655.5 34h2v2h-2zM567.5 36h4v2h-4zM657.5 36h4v2h-4zM669.5 36h2v2h-2zM559.5 38h2v2h-2zM563.5 38h4v2h-4zM661.5 38h4v2h-4zM667.5 38h2v2h-2z"/>
<path fill="#b03438" d="M585.5 22h2v2h-2zM641.5 22h2v2h-2zM583.5 26h2v2h-2zM643.5 26h2v2h-2zM579.5 32h2v2h-2zM647.5 32h2v2h-2zM575.5 38h2v2h-2zM651.5 38h2v2h-2zM573.5 40h2v2h-2zM653.5 40h2v2h-2zM565.5 46h2v2h-2zM661.5 46h2v2h-2z"/>
<path fill="#d06858" d="M595.5 22h2v2h-2zM631.5 22h2v2h-2zM589.5 30h2v2h-2zM637.5 30h2v2h-2z"/>
<path fill="#e49880" d="M605.5 22h2v2h-2zM621.5 22h2v2h-2zM561.5 86h2v2h-2zM665.5 86h2v2h-2z"/>
<path fill="#e49884" d="M607.5 22h4v2h-4zM617.5 22h4v2h-4zM603.5 24h2v2h-2zM623.5 24h2v2h-2zM601.5 26h2v2h-2zM625.5 26h2v2h-2zM599.5 28h2v2h-2zM627.5 28h2v2h-2zM595.5 34h2v2h-2zM631.5 34h2v2h-2zM591.5 40h2v2h-2zM635.5 40h2v2h-2zM587.5 48h2v2h-2zM639.5 48h2v2h-2zM585.5 52h2v2h-2zM641.5 52h2v2h-2zM575.5 72h2v2h-2zM651.5 72h2v2h-2zM569.5 80h2v2h-2zM657.5 80h2v2h-2zM567.5 82h2v2h-2zM659.5 82h2v2h-2zM565.5 84h2v2h-2zM661.5 84h2v2h-2zM669.5 86h2v2h-2z"/>
<path fill="#e09480" d="M611.5 22h2v2h-2zM615.5 22h2v2h-2zM597.5 30h2v2h-2zM629.5 30h2v2h-2zM587.5 46h2v2h-2zM639.5 46h2v2h-2zM583.5 56h2v2h-2zM643.5 56h2v2h-2zM581.5 60h2v2h-2zM645.5 60h2v2h-2zM579.5 64h2v2h-2zM647.5 64h2v2h-2zM571.5 76h2v2h-2zM655.5 76h2v2h-2zM569.5 78h2v2h-2zM657.5 78h2v2h-2zM567.5 80h2v2h-2zM659.5 80h2v2h-2zM565.5 82h2v2h-2zM661.5 82h2v2h-2zM563.5 84h2v2h-2zM663.5 84h2v2h-2z"/>
<path fill="#a82834" d="M581.5 24h2v2h-2zM645.5 24h2v2h-2zM577.5 30h2v2h-2zM649.5 30h2v2h-2zM573.5 34h2v2h-2zM653.5 34h2v2h-2zM571.5 36h2v2h-2zM655.5 36h2v2h-2zM569.5 38h2v2h-2zM657.5 38h2v2h-2zM563.5 40h4v2h-4zM661.5 40h4v2h-4z"/>
<path fill="#cc5c4c" d="M591.5 24h2v2h-2zM635.5 24h2v2h-2zM563.5 64h2v2h-2zM663.5 64h2v2h-2zM669.5 64h2v2h-2z"/>
<path fill="#e4a08c" d="M605.5 24h2v2h-2zM609.5 24h2v2h-2zM617.5 24h2v2h-2zM621.5 24h2v2h-2zM603.5 26h2v2h-2zM623.5 26h2v2h-2zM601.5 28h2v2h-2zM625.5 28h2v2h-2zM599.5 30h2v2h-2zM627.5 30h2v2h-2zM595.5 36h2v2h-2zM631.5 36h2v2h-2zM591.5 42h2v2h-2zM635.5 42h2v2h-2zM587.5 50h2v2h-2zM639.5 50h2v2h-2zM583.5 60h2v2h-2zM643.5 60h2v2h-2zM581.5 64h2v2h-2zM645.5 64h2v2h-2zM579.5 68h2v2h-2zM647.5 68h2v2h-2zM577.5 72h2v2h-2zM649.5 72h2v2h-2zM573.5 78h2v2h-2zM653.5 78h2v2h-2zM571.5 80h2v2h-2zM655.5 80h2v2h-2zM565.5 86h2v2h-2zM661.5 86h2v2h-2zM563.5 88h2v2h-2zM663.5 88h2v2h-2zM559.5 90h4v2h-4zM665.5 90h6v2h-6z"/>
<path fill="#e4a090" d="M607.5 24h2v2h-2zM619.5 24h2v2h-2zM567.5 86h2v2h-2zM659.5 86h2v2h-2z"/>
<path fill="#e49c88" d="M611.5 24h2v2h-2zM615.5 24h2v2h-2zM597.5 32h2v2h-2zM629.5 32h2v2h-2zM593.5 38h2v2h-2zM633.5 38h2v2h-2zM589.5 44h2v2h-2zM637.5 44h2v2h-2zM585.5 54h2v2h-2zM641.5 54h2v2h-2zM583.5 58h2v2h-2zM643.5 58h2v2h-2zM581.5 62h2v2h-2zM645.5 62h2v2h-2zM579.5 66h2v2h-2zM647.5 66h2v2h-2zM577.5 70h2v2h-2zM649.5 70h2v2h-2zM575.5 74h2v2h-2zM651.5 74h2v2h-2zM573.5 76h2v2h-2zM653.5 76h2v2h-2zM567.5 84h2v2h-2zM659.5 84h2v2h-2zM559.5 88h4v2h-4zM665.5 88h6v2h-6z"/>
<path fill="#e49c84" d="M613.5 24h2v2h-2zM571.5 78h2v2h-2zM655.5 78h2v2h-2zM563.5 86h2v2h-2zM663.5 86h2v2h-2z"/>
<path fill="#9c1c2c" d="M575.5 26h2v2h-2zM651.5 26h2v2h-2zM569.5 30h2v2h-2zM657.5 30h2v2h-2zM565.5 32h2v2h-2zM661.5 32h2v2h-2z"/>
<path fill="#ac2c34" d="M581.5 26h2v2h-2zM645.5 26h2v2h-2zM577.5 32h2v2h-2zM649.5 32h2v2h-2zM571.5 38h2v2h-2zM655.5 38h2v2h-2zM565.5 42h2v2h-2zM661.5 42h2v2h-2z"/>
<path fill="#d87864" d="M595.5 26h2v2h-2zM631.5 26h2v2h-2zM593.5 28h2v2h-2zM633.5 28h2v2h-2zM589.5 34h2v2h-2zM637.5 34h2v2h-2zM587.5 38h2v2h-2zM639.5 38h2v2h-2zM583.5 48h2v2h-2zM643.5 48h2v2h-2zM575.5 62h2v2h-2zM651.5 62h2v2h-2zM573.5 64h2v2h-2zM653.5 64h2v2h-2zM571.5 66h2v2h-2zM655.5 66h2v2h-2zM567.5 70h2v2h-2zM659.5 70h2v2h-2zM565.5 72h2v2h-2zM661.5 72h2v2h-2zM563.5 74h2v2h-2zM663.5 74h2v2h-2zM669.5 74h2v2h-2z"/>
<path fill="#e8a494" d="M605.5 26h2v2h-2zM621.5 26h2v2h-2zM587.5 52h2v2h-2zM639.5 52h2v2h-2zM581.5 66h2v2h-2zM645.5 66h2v2h-2zM579.5 70h2v2h-2zM647.5 70h2v2h-2zM577.5 74h2v2h-2zM649.5 74h2v2h-2zM573.5 80h2v2h-2zM653.5 80h2v2h-2z"/>
<path fill="#e8a898" d="M607.5 26h2v2h-2zM619.5 26h2v2h-2zM597.5 36h2v2h-2zM629.5 36h2v2h-2zM593.5 42h2v2h-2zM633.5 42h2v2h-2zM589.5 48h2v2h-2zM637.5 48h2v2h-2zM585.5 58h2v2h-2zM641.5 58h2v2h-2zM571.5 84h2v2h-2zM655.5 84h2v2h-2zM563.5 92h2v2h-2zM663.5 92h2v2h-2zM561.5 94h2v2h-2zM665.5 94h2v2h-2zM669.5 94h2v2h-2z"/>
<path fill="#e8a894" d="M609.5 26h2v2h-2zM617.5 26h2v2h-2zM603.5 28h2v2h-2zM623.5 28h2v2h-2zM601.5 30h2v2h-2zM625.5 30h2v2h-2zM595.5 38h2v2h-2zM631.5 38h2v2h-2zM591.5 44h2v2h-2zM635.5 44h2v2h-2zM583.5 62h2v2h-2zM643.5 62h2v2h-2zM575.5 78h2v2h-2zM651.5 78h2v2h-2zM569.5 86h2v2h-2zM657.5 86h2v2h-2zM567.5 88h2v2h-2zM659.5 88h2v2h-2zM565.5 90h2v2h-2zM661.5 90h2v2h-2zM559.5 94h2v2h-2zM667.5 94h2v2h-2z"/>
<path fill="#e4a494" d="M611.5 26h2v2h-2zM615.5 26h2v2h-2zM599.5 32h2v2h-2zM627.5 32h2v2h-2zM669.5 92h2v2h-2z"/>
<path fill="#e4a490" d="M613.5 26h2v2h-2zM597.5 34h2v2h-2zM629.5 34h2v2h-2zM593.5 40h2v2h-2zM633.5 40h2v2h-2zM589.5 46h2v2h-2zM637.5 46h2v2h-2zM585.5 56h2v2h-2zM641.5 56h2v2h-2zM575.5 76h2v2h-2zM651.5 76h2v2h-2zM571.5 82h2v2h-2zM655.5 82h2v2h-2zM569.5 84h2v2h-2zM657.5 84h2v2h-2zM565.5 88h2v2h-2zM661.5 88h2v2h-2zM563.5 90h2v2h-2zM663.5 90h2v2h-2zM559.5 92h4v2h-4zM665.5 92h4v2h-4z"/>
<path fill="#b43c38" d="M583.5 28h2v2h-2zM643.5 28h2v2h-2zM573.5 42h2v2h-2zM653.5 42h2v2h-2zM571.5 44h2v2h-2zM655.5 44h2v2h-2zM569.5 46h2v2h-2zM657.5 46h2v2h-2zM565.5 48h2v2h-2zM661.5 48h2v2h-2zM669.5 48h2v2h-2zM559.5 50h4v2h-4zM665.5 50h4v2h-4z"/>
<path fill="#dc846c" d="M595.5 28h2v2h-2zM631.5 28h2v2h-2zM579.5 58h2v2h-2zM647.5 58h2v2h-2zM569.5 72h2v2h-2zM657.5 72h2v2h-2zM567.5 74h2v2h-2zM659.5 74h2v2h-2z"/>
<path fill="#e08c78" d="M597.5 28h2v2h-2zM629.5 28h2v2h-2zM591.5 36h2v2h-2zM635.5 36h2v2h-2zM587.5 44h2v2h-2zM639.5 44h2v2h-2zM575.5 68h2v2h-2zM651.5 68h2v2h-2zM559.5 82h4v2h-4zM665.5 82h4v2h-4z"/>
<path fill="#e8ac9c" d="M605.5 28h2v2h-2zM611.5 28h6v2h-6zM621.5 28h2v2h-2zM603.5 30h2v2h-2zM623.5 30h2v2h-2zM601.5 32h2v2h-2zM625.5 32h2v2h-2zM599.5 34h2v2h-2zM627.5 34h2v2h-2zM595.5 40h2v2h-2zM631.5 40h2v2h-2zM591.5 46h2v2h-2zM635.5 46h2v2h-2zM587.5 54h2v2h-2zM639.5 54h2v2h-2zM583.5 64h2v2h-2zM643.5 64h2v2h-2zM581.5 68h2v2h-2zM645.5 68h2v2h-2zM579.5 72h2v2h-2zM647.5 72h2v2h-2zM577.5 76h2v2h-2zM649.5 76h2v2h-2zM575.5 80h2v2h-2zM651.5 80h2v2h-2zM571.5 86h2v2h-2zM655.5 86h2v2h-2zM569.5 88h2v2h-2zM657.5 88h2v2h-2zM567.5 90h2v2h-2zM659.5 90h2v2h-2zM565.5 92h2v2h-2zM661.5 92h2v2h-2zM563.5 94h2v2h-2zM663.5 94h2v2h-2zM559.5 96h4v2h-4zM665.5 96h6v2h-6z"/>
<path fill="#e8b0a0" d="M607.5 28h4v2h-4zM617.5 28h4v2h-4zM597.5 38h2v2h-2zM629.5 38h2v2h-2zM593.5 44h2v2h-2zM633.5 44h2v2h-2zM589.5 50h2v2h-2zM637.5 50h2v2h-2zM587.5 56h2v2h-2zM639.5 56h2v2h-2zM585.5 60h2v2h-2zM641.5 60h2v2h-2zM581.5 70h2v2h-2zM645.5 70h2v2h-2zM579.5 74h2v2h-2zM647.5 74h2v2h-2zM577.5 78h2v2h-2zM649.5 78h2v2h-2zM575.5 82h2v2h-2zM651.5 82h2v2h-2zM573.5 84h2v2h-2zM653.5 84h2v2h-2zM569.5 90h2v2h-2zM657.5 90h2v2h-2zM567.5 92h2v2h-2zM659.5 92h2v2h-2zM565.5 94h2v2h-2zM661.5 94h2v2h-2zM563.5 96h2v2h-2zM663.5 96h2v2h-2zM559.5 98h4v2h-4zM665.5 98h4v2h-4z"/>
<path fill="#ecb4a8" d="M605.5 30h2v2h-2zM611.5 30h2v2h-2zM615.5 30h2v2h-2zM621.5 30h2v2h-2zM603.5 32h2v2h-2zM623.5 32h2v2h-2zM593.5 46h2v2h-2zM633.5 46h2v2h-2zM579.5 76h2v2h-2zM647.5 76h2v2h-2zM577.5 80h2v2h-2zM649.5 80h2v2h-2zM569.5 92h2v2h-2zM657.5 92h2v2h-2zM567.5 94h2v2h-2zM659.5 94h2v2h-2zM565.5 96h2v2h-2zM661.5 96h2v2h-2zM563.5 98h2v2h-2zM663.5 98h2v2h-2zM561.5 100h2v2h-2zM665.5 100h2v2h-2zM669.5 100h2v2h-2z"/>
<path fill="#ecb8ac" d="M607.5 30h2v2h-2zM619.5 30h2v2h-2zM599.5 38h2v2h-2zM627.5 38h2v2h-2zM595.5 44h2v2h-2zM631.5 44h2v2h-2zM591.5 50h2v2h-2zM635.5 50h2v2h-2zM573.5 88h2v2h-2zM653.5 88h2v2h-2zM567.5 96h2v2h-2zM659.5 96h2v2h-2zM565.5 98h2v2h-2zM661.5 98h2v2h-2zM559.5 102h2v2h-2zM667.5 102h2v2h-2z"/>
<path fill="#ecb8a8" d="M609.5 30h2v2h-2zM617.5 30h2v2h-2zM597.5 40h2v2h-2zM629.5 40h2v2h-2zM587.5 58h2v2h-2zM639.5 58h2v2h-2zM583.5 68h2v2h-2zM643.5 68h2v2h-2zM581.5 72h2v2h-2zM645.5 72h2v2h-2zM575.5 84h2v2h-2zM651.5 84h2v2h-2zM571.5 90h2v2h-2zM655.5 90h2v2h-2z"/>
<path fill="#ecb4a4" d="M613.5 30h2v2h-2zM601.5 34h2v2h-2zM625.5 34h2v2h-2zM589.5 52h2v2h-2zM637.5 52h2v2h-2zM585.5 62h2v2h-2zM641.5 62h2v2h-2zM573.5 86h2v2h-2zM653.5 86h2v2h-2zM559.5 100h2v2h-2zM667.5 100h2v2h-2z"/>
<path fill="#e0947c" d="M595.5 32h2v2h-2zM631.5 32h2v2h-2zM591.5 38h2v2h-2zM635.5 38h2v2h-2zM575.5 70h2v2h-2zM651.5 70h2v2h-2zM561.5 84h2v2h-2zM665.5 84h2v2h-2zM669.5 84h2v2h-2z"/>
<path fill="#ecbcb0" d="M605.5 32h2v2h-2zM613.5 32h2v2h-2zM621.5 32h2v2h-2zM603.5 34h2v2h-2zM623.5 34h2v2h-2zM601.5 36h2v2h-2zM625.5 36h2v2h-2zM597.5 42h2v2h-2zM629.5 42h2v2h-2zM593.5 48h2v2h-2zM633.5 48h2v2h-2zM587.5 60h2v2h-2zM639.5 60h2v2h-2zM583.5 70h2v2h-2zM643.5 70h2v2h-2zM581.5 74h2v2h-2zM645.5 74h2v2h-2zM579.5 78h2v2h-2zM647.5 78h2v2h-2zM575.5 86h2v2h-2zM651.5 86h2v2h-2zM571.5 92h2v2h-2zM655.5 92h2v2h-2zM559.5 104h2v2h-2zM667.5 104h2v2h-2z"/>
<path fill="#ecc0b4" d="M607.5 32h4v2h-4zM617.5 32h4v2h-4zM599.5 40h2v2h-2zM627.5 40h2v2h-2zM595.5 46h2v2h-2zM631.5 46h2v2h-2zM591.5 52h2v2h-2zM635.5 52h2v2h-2zM589.5 56h2v2h-2zM637.5 56h2v2h-2zM585.5 66h2v2h-2zM641.5 66h2v2h-2zM581.5 76h2v2h-2zM645.5 76h2v2h-2zM579.5 80h2v2h-2zM647.5 80h2v2h-2zM577.5 84h2v2h-2zM649.5 84h2v2h-2zM575.5 88h2v2h-2zM651.5 88h2v2h-2zM573.5 90h2v2h-2zM653.5 90h2v2h-2zM571.5 94h2v2h-2zM655.5 94h2v2h-2zM569.5 96h2v2h-2zM657.5 96h2v2h-2zM563.5 102h2v2h-2zM663.5 102h2v2h-2zM561.5 104h2v2h-2zM665.5 104h2v2h-2zM559.5 106h2v2h-2zM667.5 106h2v2h-2z"/>
<path fill="#ecc0b0" d="M611.5 32h2v2h-2zM615.5 32h2v2h-2zM567.5 98h2v2h-2zM659.5 98h2v2h-2zM565.5 100h2v2h-2zM661.5 100h2v2h-2zM669.5 104h2v2h-2z"/>
<path fill="#f0c4b8" d="M605.5 34h2v2h-2zM613.5 34h2v2h-2zM621.5 34h2v2h-2zM603.5 36h2v2h-2zM623.5 36h2v2h-2zM601.5 38h2v2h-2zM625.5 38h2v2h-2zM597.5 44h2v2h-2zM629.5 44h2v2h-2zM593.5 50h2v2h-2zM633.5 50h2v2h-2zM591.5 54h2v2h-2zM635.5 54h2v2h-2zM587.5 62h2v2h-2zM639.5 62h2v2h-2zM573.5 92h2v2h-2zM653.5 92h2v2h-2zM569.5 98h2v2h-2zM657.5 98h2v2h-2zM567.5 100h2v2h-2zM659.5 100h2v2h-2zM565.5 102h2v2h-2zM661.5 102h2v2h-2zM563.5 104h2v2h-2zM663.5 104h2v2h-2zM561.5 106h2v2h-2zM665.5 106h2v2h-2zM669.5 106h2v2h-2z"/>
<path fill="#f0c8bc" d="M607.5 34h6v2h-6zM615.5 34h6v2h-6zM599.5 42h2v2h-2zM627.5 42h2v2h-2zM595.5 48h2v2h-2zM631.5 48h2v2h-2zM593.5 52h2v2h-2zM633.5 52h2v2h-2zM589.5 58h2v2h-2zM637.5 58h2v2h-2zM587.5 64h2v2h-2zM639.5 64h2v2h-2zM583.5 74h2v2h-2zM643.5 74h2v2h-2zM581.5 78h2v2h-2zM645.5 78h2v2h-2zM579.5 82h2v2h-2zM647.5 82h2v2h-2zM573.5 94h2v2h-2zM653.5 94h2v2h-2zM571.5 96h2v2h-2zM655.5 96h2v2h-2zM569.5 100h2v2h-2zM657.5 100h2v2h-2zM567.5 102h2v2h-2zM659.5 102h2v2h-2zM565.5 104h2v2h-2zM661.5 104h2v2h-2zM563.5 106h2v2h-2zM663.5 106h2v2h-2zM559.5 108h4v2h-4zM665.5 108h6v2h-6z"/>
<path fill="#dc806c" d="M589.5 36h2v2h-2zM637.5 36h2v2h-2zM583.5 50h2v2h-2zM643.5 50h2v2h-2zM581.5 54h2v2h-2zM645.5 54h2v2h-2zM559.5 78h4v2h-4zM665.5 78h4v2h-4z"/>
<path fill="#e09880" d="M593.5 36h2v2h-2zM633.5 36h2v2h-2zM589.5 42h2v2h-2zM637.5 42h2v2h-2zM577.5 68h2v2h-2zM649.5 68h2v2h-2zM573.5 74h2v2h-2zM653.5 74h2v2h-2zM559.5 86h2v2h-2zM667.5 86h2v2h-2z"/>
<path fill="#e8b4a4" d="M599.5 36h2v2h-2zM627.5 36h2v2h-2zM595.5 42h2v2h-2zM631.5 42h2v2h-2zM591.5 48h2v2h-2zM635.5 48h2v2h-2zM571.5 88h2v2h-2zM655.5 88h2v2h-2z"/>
<path fill="#f0c8c0" d="M605.5 36h2v2h-2zM621.5 36h2v2h-2zM603.5 38h2v2h-2zM623.5 38h2v2h-2zM601.5 40h2v2h-2zM625.5 40h2v2h-2zM597.5 46h2v2h-2zM629.5 46h2v2h-2zM591.5 56h2v2h-2zM635.5 56h2v2h-2zM585.5 70h2v2h-2zM641.5 70h2v2h-2zM579.5 84h2v2h-2zM647.5 84h2v2h-2zM577.5 88h2v2h-2zM649.5 88h2v2h-2zM575.5 92h2v2h-2zM651.5 92h2v2h-2zM571.5 98h2v2h-2zM655.5 98h2v2h-2zM559.5 110h4v2h-4zM665.5 110h6v2h-6z"/>
<path fill="#f0ccc4" d="M607.5 36h14v2h-14zM601.5 42h2v2h-2zM625.5 42h2v2h-2zM599.5 44h2v2h-2zM627.5 44h2v2h-2zM597.5 48h2v2h-2zM629.5 48h2v2h-2zM593.5 54h2v2h-2zM633.5 54h2v2h-2zM591.5 58h2v2h-2zM635.5 58h2v2h-2zM587.5 66h2v2h-2zM639.5 66h2v2h-2zM585.5 72h2v2h-2zM641.5 72h2v2h-2zM581.5 82h2v2h-2zM645.5 82h2v2h-2zM579.5 86h2v2h-2zM647.5 86h2v2h-2zM577.5 90h2v2h-2zM649.5 90h2v2h-2zM575.5 94h2v2h-2zM651.5 94h2v2h-2zM573.5 96h2v2h-2zM653.5 96h2v2h-2zM571.5 100h2v2h-2zM655.5 100h2v2h-2zM569.5 102h2v2h-2zM657.5 102h2v2h-2zM567.5 106h2v2h-2zM659.5 106h2v2h-2zM565.5 108h2v2h-2zM661.5 108h2v2h-2zM563.5 110h2v2h-2zM663.5 110h2v2h-2zM559.5 112h4v2h-4zM665.5 112h6v2h-6z"/>
<path fill="#ecd0c8" d="M605.5 38h2v2h-2zM621.5 38h2v2h-2zM599.5 46h2v2h-2zM627.5 46h2v2h-2zM595.5 52h2v2h-2zM631.5 52h2v2h-2zM593.5 56h2v2h-2zM633.5 56h2v2h-2zM587.5 68h2v2h-2zM639.5 68h2v2h-2zM583.5 78h2v2h-2zM643.5 78h2v2h-2zM579.5 88h2v2h-2zM647.5 88h2v2h-2zM577.5 92h2v2h-2zM649.5 92h2v2h-2zM575.5 96h2v2h-2zM651.5 96h2v2h-2zM571.5 102h2v2h-2zM655.5 102h2v2h-2zM569.5 104h2v2h-2zM657.5 104h2v2h-2zM567.5 108h2v2h-2zM659.5 108h2v2h-2zM565.5 110h2v2h-2zM661.5 110h2v2h-2zM563.5 112h2v2h-2zM663.5 112h2v2h-2zM559.5 114h4v2h-4zM665.5 114h6v2h-6z"/>
<path fill="#ecd0cc" d="M607.5 38h14v2h-14zM601.5 44h2v2h-2zM625.5 44h2v2h-2zM597.5 50h2v2h-2zM629.5 50h2v2h-2zM591.5 60h2v2h-2zM635.5 60h2v2h-2zM589.5 64h2v2h-2zM637.5 64h2v2h-2zM585.5 74h2v2h-2zM641.5 74h2v2h-2zM581.5 84h2v2h-2zM645.5 84h2v2h-2zM573.5 100h2v2h-2zM653.5 100h2v2h-2zM569.5 106h2v2h-2zM657.5 106h2v2h-2zM559.5 116h2v2h-2zM667.5 116h4v2h-4z"/>
<path fill="#f0ccc8" d="M603.5 40h2v2h-2zM623.5 40h2v2h-2z"/>
<path fill="#ecd4cc" d="M605.5 40h2v2h-2zM621.5 40h2v2h-2zM603.5 42h2v2h-2zM623.5 42h2v2h-2zM595.5 54h2v2h-2zM631.5 54h2v2h-2zM587.5 70h2v2h-2zM639.5 70h2v2h-2zM583.5 80h2v2h-2zM643.5 80h2v2h-2zM577.5 94h2v2h-2zM649.5 94h2v2h-2zM575.5 98h2v2h-2zM651.5 98h2v2h-2zM571.5 104h2v2h-2zM655.5 104h2v2h-2zM565.5 112h2v2h-2zM661.5 112h2v2h-2zM563.5 114h2v2h-2zM663.5 114h2v2h-2zM561.5 116h2v2h-2zM665.5 116h2v2h-2z"/>
<path fill="#ecd8d4" d="M607.5 40h14v2h-14zM605.5 42h2v2h-2zM621.5 42h2v2h-2zM603.5 44h2v2h-2zM623.5 44h2v2h-2zM599.5 50h2v2h-2zM627.5 50h2v2h-2zM595.5 56h2v2h-2zM631.5 56h2v2h-2zM593.5 60h2v2h-2zM633.5 60h2v2h-2zM587.5 72h2v2h-2zM639.5 72h2v2h-2zM585.5 78h2v2h-2zM641.5 78h2v2h-2zM581.5 88h2v2h-2zM645.5 88h2v2h-2zM579.5 92h2v2h-2zM647.5 92h2v2h-2zM577.5 96h2v2h-2zM649.5 96h2v2h-2zM575.5 100h2v2h-2zM651.5 100h2v2h-2zM573.5 104h2v2h-2zM653.5 104h2v2h-2zM571.5 106h2v2h-2zM655.5 106h2v2h-2zM569.5 110h2v2h-2zM657.5 110h2v2h-2zM567.5 112h2v2h-2zM659.5 112h2v2h-2zM563.5 118h2v2h-2zM663.5 118h2v2h-2zM559.5 120h4v2h-4zM665.5 120h6v2h-6z"/>
<path fill="#c45040" d="M579.5 42h2v2h-2zM647.5 42h2v2h-2zM567.5 56h2v2h-2zM659.5 56h2v2h-2z"/>
<path fill="#ecdcd8" d="M607.5 42h14v2h-14zM601.5 48h2v2h-2zM625.5 48h2v2h-2zM597.5 54h2v2h-2zM629.5 54h2v2h-2zM595.5 58h2v2h-2zM631.5 58h2v2h-2zM587.5 74h2v2h-2zM639.5 74h2v2h-2zM579.5 94h2v2h-2zM647.5 94h2v2h-2zM573.5 106h2v2h-2zM653.5 106h2v2h-2zM569.5 112h2v2h-2zM657.5 112h2v2h-2zM563.5 120h2v2h-2zM663.5 120h2v2h-2zM561.5 122h2v2h-2zM665.5 122h2v2h-2zM669.5 122h2v2h-2z"/>
<path fill="#ecdcdc" d="M605.5 44h2v2h-2zM621.5 44h2v2h-2zM603.5 46h2v2h-2zM623.5 46h2v2h-2zM599.5 52h2v2h-2zM627.5 52h2v2h-2zM593.5 62h2v2h-2zM633.5 62h2v2h-2zM591.5 66h2v2h-2zM635.5 66h2v2h-2zM589.5 70h2v2h-2zM637.5 70h2v2h-2zM585.5 80h2v2h-2zM641.5 80h2v2h-2zM583.5 86h2v2h-2zM643.5 86h2v2h-2zM581.5 90h2v2h-2zM645.5 90h2v2h-2zM577.5 100h2v2h-2zM649.5 100h2v2h-2zM575.5 104h2v2h-2zM651.5 104h2v2h-2zM571.5 110h2v2h-2zM655.5 110h2v2h-2zM569.5 114h2v2h-2zM657.5 114h2v2h-2zM567.5 116h2v2h-2zM659.5 116h2v2h-2zM565.5 118h2v2h-2zM661.5 118h2v2h-2zM559.5 124h2v2h-2zM667.5 124h4v2h-4z"/>
<path fill="#ece0e0" d="M607.5 44h14v2h-14zM603.5 48h2v2h-2zM623.5 48h2v2h-2zM601.5 50h2v2h-2zM625.5 50h2v2h-2zM597.5 56h2v2h-2zM629.5 56h2v2h-2zM595.5 60h2v2h-2zM631.5 60h2v2h-2zM593.5 64h2v2h-2zM633.5 64h2v2h-2zM591.5 68h2v2h-2zM635.5 68h2v2h-2zM587.5 76h2v2h-2zM639.5 76h2v2h-2zM585.5 82h2v2h-2zM641.5 82h2v2h-2zM583.5 88h2v2h-2zM643.5 88h2v2h-2zM581.5 92h2v2h-2zM645.5 92h2v2h-2zM577.5 102h2v2h-2zM649.5 102h2v2h-2zM575.5 106h2v2h-2zM651.5 106h2v2h-2zM571.5 112h2v2h-2zM655.5 112h2v2h-2zM569.5 116h2v2h-2zM657.5 116h2v2h-2zM567.5 118h2v2h-2zM659.5 118h2v2h-2zM565.5 120h2v2h-2zM661.5 120h2v2h-2zM563.5 122h2v2h-2zM663.5 122h2v2h-2zM559.5 126h4v2h-4zM665.5 126h6v2h-6z"/>
<path fill="#ecd8d0" d="M601.5 46h2v2h-2zM625.5 46h2v2h-2zM597.5 52h2v2h-2zM629.5 52h2v2h-2zM565.5 114h2v2h-2zM661.5 114h2v2h-2z"/>
<path fill="#ece0e4" d="M605.5 46h2v2h-2zM621.5 46h2v2h-2zM599.5 54h2v2h-2zM627.5 54h2v2h-2zM589.5 72h2v2h-2zM637.5 72h2v2h-2zM579.5 98h2v2h-2zM647.5 98h2v2h-2zM573.5 110h2v2h-2zM653.5 110h2v2h-2zM563.5 124h2v2h-2zM663.5 124h2v2h-2z"/>
<path fill="#ece4e8" d="M607.5 46h2v2h-2zM619.5 46h2v2h-2zM603.5 50h2v2h-2zM623.5 50h2v2h-2zM593.5 66h2v2h-2zM633.5 66h2v2h-2zM591.5 70h2v2h-2zM635.5 70h2v2h-2zM589.5 74h2v2h-2zM637.5 74h2v2h-2zM583.5 90h2v2h-2zM643.5 90h2v2h-2zM579.5 100h2v2h-2zM647.5 100h2v2h-2zM573.5 112h2v2h-2zM653.5 112h2v2h-2zM567.5 122h2v2h-2zM659.5 122h2v2h-2zM565.5 124h2v2h-2zM661.5 124h2v2h-2zM563.5 126h2v2h-2zM663.5 126h2v2h-2zM559.5 130h2v2h-2zM667.5 130h4v2h-4z"/>
<path fill="#ece8e8" d="M609.5 46h10v2h-10zM605.5 48h2v2h-2zM621.5 48h2v2h-2zM599.5 56h2v2h-2zM627.5 56h2v2h-2zM587.5 80h2v2h-2zM639.5 80h2v2h-2zM585.5 86h2v2h-2zM641.5 86h2v2h-2zM581.5 96h2v2h-2zM645.5 96h2v2h-2zM575.5 110h2v2h-2zM651.5 110h2v2h-2zM571.5 116h2v2h-2zM655.5 116h2v2h-2zM561.5 130h2v2h-2zM665.5 130h2v2h-2z"/>
<path fill="#cc5444" d="M577.5 48h2v2h-2zM649.5 48h2v2h-2zM565.5 60h2v2h-2zM661.5 60h2v2h-2zM559.5 62h4v2h-4zM665.5 62h4v2h-4z"/>
<path fill="#ecd4d0" d="M599.5 48h2v2h-2zM627.5 48h2v2h-2zM593.5 58h2v2h-2zM633.5 58h2v2h-2zM591.5 62h2v2h-2zM635.5 62h2v2h-2zM589.5 66h2v2h-2zM637.5 66h2v2h-2zM585.5 76h2v2h-2zM641.5 76h2v2h-2zM583.5 82h2v2h-2zM643.5 82h2v2h-2zM581.5 86h2v2h-2zM645.5 86h2v2h-2zM579.5 90h2v2h-2zM647.5 90h2v2h-2zM573.5 102h2v2h-2zM653.5 102h2v2h-2zM569.5 108h2v2h-2zM657.5 108h2v2h-2zM567.5 110h2v2h-2zM659.5 110h2v2h-2zM563.5 116h2v2h-2zM663.5 116h2v2h-2zM559.5 118h4v2h-4zM665.5 118h6v2h-6z"/>
<path fill="#e0e0e8" d="M607.5 48h6v2h-6zM615.5 48h6v2h-6zM599.5 58h2v2h-2zM627.5 58h2v2h-2zM587.5 82h2v2h-2zM639.5 82h2v2h-2zM581.5 98h2v2h-2zM645.5 98h2v2h-2zM571.5 118h2v2h-2zM655.5 118h2v2h-2z"/>
<path fill="#dce0e8" d="M613.5 48h2v2h-2zM605.5 50h2v2h-2zM621.5 50h2v2h-2zM585.5 88h2v2h-2zM641.5 88h2v2h-2zM575.5 112h2v2h-2zM651.5 112h2v2h-2zM561.5 132h2v2h-2zM665.5 132h2v2h-2z"/>
<path fill="#f0ccc0" d="M595.5 50h2v2h-2zM631.5 50h2v2h-2zM589.5 60h2v2h-2zM637.5 60h2v2h-2zM583.5 76h2v2h-2zM643.5 76h2v2h-2zM581.5 80h2v2h-2zM645.5 80h2v2h-2zM567.5 104h2v2h-2zM659.5 104h2v2h-2zM565.5 106h2v2h-2zM661.5 106h2v2h-2zM563.5 108h2v2h-2zM663.5 108h2v2h-2z"/>
<path fill="#d4dce4" d="M607.5 50h4v2h-4zM617.5 50h4v2h-4zM603.5 54h2v2h-2zM623.5 54h2v2h-2zM599.5 60h2v2h-2zM627.5 60h2v2h-2zM591.5 74h2v2h-2zM635.5 74h2v2h-2zM589.5 78h2v2h-2zM637.5 78h2v2h-2zM587.5 84h2v2h-2zM639.5 84h2v2h-2zM581.5 100h2v2h-2zM645.5 100h2v2h-2zM571.5 120h2v2h-2zM655.5 120h2v2h-2zM567.5 126h2v2h-2zM659.5 126h2v2h-2z"/>
<path fill="#d0dce4" d="M611.5 50h6v2h-6zM605.5 52h2v2h-2zM621.5 52h2v2h-2zM585.5 90h2v2h-2zM641.5 90h2v2h-2zM575.5 114h2v2h-2zM651.5 114h2v2h-2zM561.5 134h2v2h-2zM665.5 134h2v2h-2z"/>
<path fill="#ece4e4" d="M601.5 52h2v2h-2zM625.5 52h2v2h-2zM597.5 58h2v2h-2zM629.5 58h2v2h-2zM595.5 62h2v2h-2zM631.5 62h2v2h-2zM587.5 78h2v2h-2zM639.5 78h2v2h-2zM585.5 84h2v2h-2zM641.5 84h2v2h-2zM581.5 94h2v2h-2zM645.5 94h2v2h-2zM577.5 104h2v2h-2zM649.5 104h2v2h-2zM575.5 108h2v2h-2zM651.5 108h2v2h-2zM571.5 114h2v2h-2zM655.5 114h2v2h-2zM569.5 118h2v2h-2zM657.5 118h2v2h-2zM567.5 120h2v2h-2zM659.5 120h2v2h-2zM565.5 122h2v2h-2zM661.5 122h2v2h-2zM559.5 128h4v2h-4zM665.5 128h6v2h-6z"/>
<path fill="#e0e4e8" d="M603.5 52h2v2h-2zM623.5 52h2v2h-2z"/>
<path fill="#ccd8e0" d="M607.5 52h2v2h-2zM619.5 52h2v2h-2zM603.5 56h2v2h-2zM623.5 56h2v2h-2zM599.5 62h2v2h-2zM627.5 62h2v2h-2zM593.5 72h2v2h-2zM633.5 72h2v2h-2zM591.5 76h2v2h-2zM635.5 76h2v2h-2zM589.5 80h2v2h-2zM637.5 80h2v2h-2zM579.5 106h2v2h-2zM647.5 106h2v2h-2zM571.5 122h2v2h-2zM655.5 122h2v2h-2zM567.5 128h2v2h-2zM659.5 128h2v2h-2z"/>
<path fill="#c8d8e0" d="M609.5 52h10v2h-10zM605.5 54h2v2h-2zM621.5 54h2v2h-2zM587.5 86h2v2h-2zM639.5 86h2v2h-2zM581.5 102h2v2h-2zM645.5 102h2v2h-2zM575.5 116h2v2h-2zM651.5 116h2v2h-2zM561.5 136h2v2h-2zM665.5 136h2v2h-2z"/>
<path fill="#c4483c" d="M567.5 54h2v2h-2zM659.5 54h2v2h-2z"/>
<path fill="#ecbcac" d="M589.5 54h2v2h-2zM637.5 54h2v2h-2zM585.5 64h2v2h-2zM641.5 64h2v2h-2zM577.5 82h2v2h-2zM649.5 82h2v2h-2zM569.5 94h2v2h-2zM657.5 94h2v2h-2zM563.5 100h2v2h-2zM663.5 100h2v2h-2zM561.5 102h2v2h-2zM665.5 102h2v2h-2zM669.5 102h2v2h-2z"/>
<path fill="#e8e4e8" d="M601.5 54h2v2h-2zM625.5 54h2v2h-2zM595.5 64h2v2h-2zM631.5 64h2v2h-2zM583.5 92h2v2h-2zM643.5 92h2v2h-2zM563.5 128h2v2h-2zM663.5 128h2v2h-2z"/>
<path fill="#c4d4e0" d="M607.5 54h14v2h-14zM605.5 56h2v2h-2zM621.5 56h2v2h-2zM603.5 58h2v2h-2zM623.5 58h2v2h-2zM599.5 64h2v2h-2zM627.5 64h2v2h-2zM597.5 68h2v2h-2zM629.5 68h2v2h-2zM593.5 74h2v2h-2zM633.5 74h2v2h-2zM591.5 78h2v2h-2zM635.5 78h2v2h-2zM589.5 82h2v2h-2zM637.5 82h2v2h-2zM587.5 88h2v2h-2zM639.5 88h2v2h-2zM585.5 94h2v2h-2zM641.5 94h2v2h-2zM581.5 104h2v2h-2zM645.5 104h2v2h-2zM579.5 108h2v2h-2zM647.5 108h2v2h-2zM577.5 114h2v2h-2zM649.5 114h2v2h-2zM575.5 118h2v2h-2zM651.5 118h2v2h-2zM571.5 124h2v2h-2zM655.5 124h2v2h-2zM569.5 128h2v2h-2zM657.5 128h2v2h-2zM567.5 130h2v2h-2zM659.5 130h2v2h-2zM563.5 136h2v2h-2zM663.5 136h2v2h-2zM561.5 138h2v2h-2zM665.5 138h2v2h-2z"/>
<path fill="#d8dce4" d="M601.5 56h2v2h-2zM625.5 56h2v2h-2zM593.5 70h2v2h-2zM633.5 70h2v2h-2zM579.5 104h2v2h-2zM647.5 104h2v2h-2zM573.5 116h2v2h-2zM653.5 116h2v2h-2zM565.5 128h2v2h-2zM661.5 128h2v2h-2zM559.5 134h2v2h-2zM667.5 134h4v2h-4z"/>
<path fill="#c0d0e0" d="M607.5 56h14v2h-14zM605.5 58h2v2h-2zM621.5 58h2v2h-2zM603.5 60h2v2h-2zM623.5 60h2v2h-2zM599.5 66h2v2h-2zM627.5 66h2v2h-2zM591.5 80h2v2h-2zM635.5 80h2v2h-2zM589.5 84h2v2h-2zM637.5 84h2v2h-2zM587.5 90h2v2h-2zM639.5 90h2v2h-2zM581.5 106h2v2h-2zM645.5 106h2v2h-2zM571.5 126h2v2h-2zM655.5 126h2v2h-2zM567.5 132h2v2h-2zM659.5 132h2v2h-2zM561.5 140h2v2h-2zM665.5 140h2v2h-2z"/>
<path fill="#d87860" d="M577.5 58h2v2h-2zM649.5 58h2v2h-2zM569.5 68h2v2h-2zM657.5 68h2v2h-2z"/>
<path fill="#ccd8e4" d="M601.5 58h2v2h-2zM625.5 58h2v2h-2zM573.5 118h2v2h-2zM653.5 118h2v2h-2zM565.5 130h2v2h-2zM661.5 130h2v2h-2zM559.5 136h2v2h-2zM667.5 136h4v2h-4z"/>
<path fill="#bcd0dc" d="M607.5 58h14v2h-14zM605.5 60h2v2h-2zM621.5 60h2v2h-2zM603.5 62h2v2h-2zM623.5 62h2v2h-2zM601.5 64h2v2h-2zM625.5 64h2v2h-2zM599.5 68h2v2h-2zM627.5 68h2v2h-2zM597.5 70h2v2h-2zM629.5 70h2v2h-2zM595.5 74h2v2h-2zM631.5 74h2v2h-2zM593.5 78h2v2h-2zM633.5 78h2v2h-2zM591.5 82h2v2h-2zM635.5 82h2v2h-2zM589.5 86h2v2h-2zM637.5 86h2v2h-2zM587.5 92h2v2h-2zM639.5 92h2v2h-2zM585.5 98h2v2h-2zM641.5 98h2v2h-2zM583.5 102h2v2h-2zM643.5 102h2v2h-2zM581.5 108h2v2h-2zM645.5 108h2v2h-2zM579.5 112h2v2h-2zM647.5 112h2v2h-2zM577.5 116h2v2h-2zM649.5 116h2v2h-2zM575.5 122h2v2h-2zM651.5 122h2v2h-2zM573.5 124h2v2h-2zM653.5 124h2v2h-2zM571.5 128h2v2h-2zM655.5 128h2v2h-2zM569.5 130h2v2h-2zM657.5 130h2v2h-2zM567.5 134h2v2h-2zM659.5 134h2v2h-2zM565.5 136h2v2h-2zM661.5 136h2v2h-2zM563.5 138h2v2h-2zM663.5 138h2v2h-2zM559.5 142h4v2h-4zM665.5 142h6v2h-6z"/>
<path fill="#e8e8e8" d="M597.5 60h2v2h-2zM629.5 60h2v2h-2zM577.5 106h2v2h-2zM649.5 106h2v2h-2zM569.5 120h2v2h-2zM657.5 120h2v2h-2z"/>
<path fill="#c8d4e0" d="M601.5 60h2v2h-2zM625.5 60h2v2h-2zM597.5 66h2v2h-2zM629.5 66h2v2h-2zM595.5 70h2v2h-2zM631.5 70h2v2h-2zM585.5 92h2v2h-2zM641.5 92h2v2h-2zM583.5 98h2v2h-2zM643.5 98h2v2h-2zM577.5 112h2v2h-2zM649.5 112h2v2h-2zM573.5 120h2v2h-2zM653.5 120h2v2h-2zM569.5 126h2v2h-2zM657.5 126h2v2h-2zM565.5 132h2v2h-2zM661.5 132h2v2h-2zM563.5 134h2v2h-2zM663.5 134h2v2h-2zM559.5 138h2v2h-2zM667.5 138h4v2h-4z"/>
<path fill="#b8ccdc" d="M607.5 60h14v2h-14zM605.5 62h2v2h-2zM621.5 62h2v2h-2zM603.5 64h2v2h-2zM623.5 64h2v2h-2zM599.5 70h2v2h-2zM627.5 70h2v2h-2zM597.5 74h2v2h-2zM629.5 74h2v2h-2zM591.5 84h2v2h-2zM635.5 84h2v2h-2zM589.5 88h2v2h-2zM637.5 88h2v2h-2zM587.5 94h2v2h-2zM639.5 94h2v2h-2zM585.5 100h2v2h-2zM641.5 100h2v2h-2zM581.5 110h2v2h-2zM645.5 110h2v2h-2zM577.5 120h2v2h-2zM649.5 120h2v2h-2zM575.5 124h2v2h-2zM651.5 124h2v2h-2zM571.5 130h2v2h-2zM655.5 130h2v2h-2zM569.5 134h2v2h-2zM657.5 134h2v2h-2zM567.5 136h2v2h-2zM659.5 136h2v2h-2zM561.5 144h2v2h-2zM665.5 144h2v2h-2z"/>
<path fill="#f0d0c8" d="M589.5 62h2v2h-2zM637.5 62h2v2h-2zM573.5 98h2v2h-2zM653.5 98h2v2h-2z"/>
<path fill="#dce0e4" d="M597.5 62h2v2h-2zM629.5 62h2v2h-2zM577.5 108h2v2h-2zM649.5 108h2v2h-2zM569.5 122h2v2h-2zM657.5 122h2v2h-2zM563.5 130h2v2h-2zM663.5 130h2v2h-2z"/>
<path fill="#c0d4e0" d="M601.5 62h2v2h-2zM625.5 62h2v2h-2zM595.5 72h2v2h-2zM631.5 72h2v2h-2zM593.5 76h2v2h-2zM633.5 76h2v2h-2zM583.5 100h2v2h-2zM643.5 100h2v2h-2zM579.5 110h2v2h-2zM647.5 110h2v2h-2zM573.5 122h2v2h-2zM653.5 122h2v2h-2zM565.5 134h2v2h-2zM661.5 134h2v2h-2zM559.5 140h2v2h-2zM667.5 140h4v2h-4z"/>
<path fill="#b4ccdc" d="M607.5 62h14v2h-14zM605.5 64h2v2h-2zM621.5 64h2v2h-2zM603.5 66h2v2h-2zM623.5 66h2v2h-2zM601.5 68h2v2h-2zM625.5 68h2v2h-2zM599.5 72h2v2h-2zM627.5 72h2v2h-2zM597.5 76h2v2h-2zM629.5 76h2v2h-2zM595.5 78h2v2h-2zM631.5 78h2v2h-2zM593.5 82h2v2h-2zM633.5 82h2v2h-2zM591.5 86h2v2h-2zM635.5 86h2v2h-2zM589.5 90h2v2h-2zM637.5 90h2v2h-2zM587.5 96h2v2h-2zM639.5 96h2v2h-2zM585.5 102h2v2h-2zM641.5 102h2v2h-2zM583.5 106h2v2h-2zM643.5 106h2v2h-2zM581.5 112h2v2h-2zM645.5 112h2v2h-2zM579.5 116h2v2h-2zM647.5 116h2v2h-2zM577.5 122h2v2h-2zM649.5 122h2v2h-2zM575.5 126h2v2h-2zM651.5 126h2v2h-2zM573.5 128h2v2h-2zM653.5 128h2v2h-2zM571.5 132h2v2h-2zM655.5 132h2v2h-2zM569.5 136h2v2h-2zM657.5 136h2v2h-2zM567.5 138h2v2h-2zM659.5 138h2v2h-2zM565.5 140h2v2h-2zM661.5 140h2v2h-2zM563.5 142h2v2h-2zM663.5 142h2v2h-2zM563.5 144h2v2h-2zM663.5 144h2v2h-2zM559.5 146h4v2h-4zM665.5 146h6v2h-6z"/>
<path fill="#d06c58" d="M569.5 64h2v2h-2zM657.5 64h2v2h-2z"/>
<path fill="#ecd8d8" d="M591.5 64h2v2h-2zM635.5 64h2v2h-2zM589.5 68h2v2h-2zM637.5 68h2v2h-2zM583.5 84h2v2h-2zM643.5 84h2v2h-2zM577.5 98h2v2h-2zM649.5 98h2v2h-2zM575.5 102h2v2h-2zM651.5 102h2v2h-2zM571.5 108h2v2h-2zM655.5 108h2v2h-2zM567.5 114h2v2h-2zM659.5 114h2v2h-2zM565.5 116h2v2h-2zM661.5 116h2v2h-2zM559.5 122h2v2h-2zM667.5 122h2v2h-2z"/>
<path fill="#d0d8e4" d="M597.5 64h2v2h-2zM629.5 64h2v2h-2zM595.5 68h2v2h-2zM631.5 68h2v2h-2zM583.5 96h2v2h-2zM643.5 96h2v2h-2zM577.5 110h2v2h-2zM649.5 110h2v2h-2zM569.5 124h2v2h-2zM657.5 124h2v2h-2zM563.5 132h2v2h-2zM663.5 132h2v2h-2z"/>
<path fill="#b0c8dc" d="M607.5 64h4v2h-4zM617.5 64h4v2h-4zM603.5 68h2v2h-2zM623.5 68h2v2h-2zM599.5 74h2v2h-2zM627.5 74h2v2h-2zM587.5 98h2v2h-2zM639.5 98h2v2h-2zM581.5 114h2v2h-2zM645.5 114h2v2h-2zM571.5 134h2v2h-2zM655.5 134h2v2h-2z"/>
<path fill="#b0c8d8" d="M611.5 64h6v2h-6zM605.5 66h2v2h-2zM621.5 66h2v2h-2zM597.5 78h2v2h-2zM629.5 78h2v2h-2zM585.5 104h2v2h-2zM641.5 104h2v2h-2zM577.5 124h2v2h-2zM649.5 124h2v2h-2zM575.5 128h2v2h-2zM651.5 128h2v2h-2zM569.5 138h2v2h-2zM657.5 138h2v2h-2zM563.5 146h2v2h-2zM663.5 146h2v2h-2zM561.5 148h2v2h-2zM665.5 148h2v2h-2z"/>
<path fill="#e8b0a4" d="M583.5 66h2v2h-2zM643.5 66h2v2h-2zM669.5 98h2v2h-2z"/>
<path fill="#d8e0e4" d="M595.5 66h2v2h-2zM631.5 66h2v2h-2zM583.5 94h2v2h-2zM643.5 94h2v2h-2z"/>
<path fill="#b8d0dc" d="M601.5 66h2v2h-2zM625.5 66h2v2h-2zM597.5 72h2v2h-2zM629.5 72h2v2h-2zM595.5 76h2v2h-2zM631.5 76h2v2h-2zM593.5 80h2v2h-2zM633.5 80h2v2h-2zM583.5 104h2v2h-2zM643.5 104h2v2h-2zM579.5 114h2v2h-2zM647.5 114h2v2h-2zM577.5 118h2v2h-2zM649.5 118h2v2h-2zM573.5 126h2v2h-2zM653.5 126h2v2h-2zM569.5 132h2v2h-2zM657.5 132h2v2h-2zM565.5 138h2v2h-2zM661.5 138h2v2h-2zM563.5 140h2v2h-2zM663.5 140h2v2h-2zM559.5 144h2v2h-2zM667.5 144h4v2h-4z"/>
<path fill="#acc8d8" d="M607.5 66h14v2h-14zM605.5 68h2v2h-2zM621.5 68h2v2h-2zM603.5 70h2v2h-2zM623.5 70h2v2h-2zM601.5 72h2v2h-2zM625.5 72h2v2h-2zM599.5 76h2v2h-2zM627.5 76h2v2h-2zM597.5 80h2v2h-2zM629.5 80h2v2h-2zM595.5 82h2v2h-2zM631.5 82h2v2h-2zM593.5 86h2v2h-2zM633.5 86h2v2h-2zM591.5 90h2v2h-2zM635.5 90h2v2h-2zM589.5 94h2v2h-2zM637.5 94h2v2h-2zM587.5 100h2v2h-2zM639.5 100h2v2h-2zM585.5 106h2v2h-2zM641.5 106h2v2h-2zM583.5 110h2v2h-2zM643.5 110h2v2h-2zM581.5 116h2v2h-2zM645.5 116h2v2h-2zM579.5 120h2v2h-2zM647.5 120h2v2h-2zM577.5 126h2v2h-2zM649.5 126h2v2h-2zM575.5 130h2v2h-2zM651.5 130h2v2h-2zM573.5 132h2v2h-2zM653.5 132h2v2h-2zM571.5 136h2v2h-2zM655.5 136h2v2h-2zM569.5 140h2v2h-2zM657.5 140h2v2h-2zM567.5 142h2v2h-2zM659.5 142h2v2h-2zM565.5 144h2v2h-2zM661.5 144h2v2h-2zM563.5 148h2v2h-2zM663.5 148h2v2h-2zM559.5 150h4v2h-4zM665.5 150h6v2h-6z"/>
<path fill="#f0c4bc" d="M585.5 68h2v2h-2zM641.5 68h2v2h-2zM577.5 86h2v2h-2zM649.5 86h2v2h-2zM575.5 90h2v2h-2zM651.5 90h2v2h-2z"/>
<path fill="#e4e4e8" d="M593.5 68h2v2h-2zM633.5 68h2v2h-2zM591.5 72h2v2h-2zM635.5 72h2v2h-2zM589.5 76h2v2h-2zM637.5 76h2v2h-2zM579.5 102h2v2h-2zM647.5 102h2v2h-2zM573.5 114h2v2h-2zM653.5 114h2v2h-2zM567.5 124h2v2h-2zM659.5 124h2v2h-2zM565.5 126h2v2h-2zM661.5 126h2v2h-2zM559.5 132h2v2h-2zM667.5 132h4v2h-4z"/>
<path fill="#a8c4d8" d="M607.5 68h14v2h-14zM605.5 70h2v2h-2zM621.5 70h2v2h-2zM599.5 78h2v2h-2zM627.5 78h2v2h-2zM597.5 82h2v2h-2zM629.5 82h2v2h-2zM587.5 102h2v2h-2zM639.5 102h2v2h-2zM585.5 108h2v2h-2zM641.5 108h2v2h-2zM583.5 114h2v2h-2zM643.5 114h2v2h-2zM581.5 118h2v2h-2zM645.5 118h2v2h-2zM577.5 128h2v2h-2zM649.5 128h2v2h-2zM575.5 132h2v2h-2zM651.5 132h2v2h-2zM571.5 138h2v2h-2zM655.5 138h2v2h-2zM569.5 142h2v2h-2zM657.5 142h2v2h-2zM563.5 150h2v2h-2zM663.5 150h2v2h-2zM561.5 152h2v2h-2zM665.5 152h2v2h-2z"/>
<path fill="#b0ccdc" d="M601.5 70h2v2h-2zM625.5 70h2v2h-2zM595.5 80h2v2h-2zM631.5 80h2v2h-2zM593.5 84h2v2h-2zM633.5 84h2v2h-2zM591.5 88h2v2h-2zM635.5 88h2v2h-2zM589.5 92h2v2h-2zM637.5 92h2v2h-2zM583.5 108h2v2h-2zM643.5 108h2v2h-2zM579.5 118h2v2h-2zM647.5 118h2v2h-2zM573.5 130h2v2h-2zM653.5 130h2v2h-2zM567.5 140h2v2h-2zM659.5 140h2v2h-2zM565.5 142h2v2h-2zM661.5 142h2v2h-2zM559.5 148h2v2h-2zM667.5 148h4v2h-4z"/>
<path fill="#a4c4d8" d="M607.5 70h14v2h-14zM605.5 72h2v2h-2zM621.5 72h2v2h-2zM603.5 74h2v2h-2zM623.5 74h2v2h-2zM601.5 76h2v2h-2zM625.5 76h2v2h-2zM599.5 80h2v2h-2zM627.5 80h2v2h-2zM597.5 84h2v2h-2zM629.5 84h2v2h-2zM595.5 86h2v2h-2zM631.5 86h2v2h-2zM593.5 90h2v2h-2zM633.5 90h2v2h-2zM591.5 94h2v2h-2zM635.5 94h2v2h-2zM589.5 98h2v2h-2zM637.5 98h2v2h-2zM587.5 104h2v2h-2zM639.5 104h2v2h-2zM585.5 110h2v2h-2zM641.5 110h2v2h-2zM583.5 116h2v2h-2zM643.5 116h2v2h-2zM581.5 120h2v2h-2zM645.5 120h2v2h-2zM579.5 124h2v2h-2zM647.5 124h2v2h-2zM577.5 130h2v2h-2zM649.5 130h2v2h-2zM575.5 134h2v2h-2zM651.5 134h2v2h-2zM573.5 136h2v2h-2zM653.5 136h2v2h-2zM571.5 140h2v2h-2zM655.5 140h2v2h-2zM569.5 144h2v2h-2zM657.5 144h2v2h-2zM567.5 146h2v2h-2zM659.5 146h2v2h-2zM565.5 148h2v2h-2zM661.5 148h2v2h-2zM563.5 152h2v2h-2zM663.5 152h2v2h-2zM559.5 154h4v2h-4zM665.5 154h6v2h-6z"/>
<path fill="#d46c5c" d="M669.5 70h2v2h-2z"/>
<path fill="#ecc4b8" d="M583.5 72h2v2h-2zM643.5 72h2v2h-2z"/>
<path fill="#a8c8d8" d="M603.5 72h2v2h-2zM623.5 72h2v2h-2zM601.5 74h2v2h-2zM625.5 74h2v2h-2zM595.5 84h2v2h-2zM631.5 84h2v2h-2zM593.5 88h2v2h-2zM633.5 88h2v2h-2zM591.5 92h2v2h-2zM635.5 92h2v2h-2zM589.5 96h2v2h-2zM637.5 96h2v2h-2zM583.5 112h2v2h-2zM643.5 112h2v2h-2zM579.5 122h2v2h-2zM647.5 122h2v2h-2zM573.5 134h2v2h-2zM653.5 134h2v2h-2zM567.5 144h2v2h-2zM659.5 144h2v2h-2zM565.5 146h2v2h-2zM661.5 146h2v2h-2zM559.5 152h2v2h-2zM667.5 152h4v2h-4z"/>
<path fill="#a0c0d4" d="M607.5 72h14v2h-14zM605.5 74h2v2h-2zM621.5 74h2v2h-2zM599.5 82h2v2h-2zM627.5 82h2v2h-2zM597.5 86h2v2h-2zM629.5 86h2v2h-2zM595.5 90h2v2h-2zM631.5 90h2v2h-2zM587.5 106h2v2h-2zM639.5 106h2v2h-2zM585.5 112h2v2h-2zM641.5 112h2v2h-2zM583.5 118h2v2h-2zM643.5 118h2v2h-2zM581.5 122h2v2h-2zM645.5 122h2v2h-2zM577.5 132h2v2h-2zM649.5 132h2v2h-2zM575.5 136h2v2h-2zM651.5 136h2v2h-2zM571.5 142h2v2h-2zM655.5 142h2v2h-2zM569.5 146h2v2h-2zM657.5 146h2v2h-2zM563.5 154h2v2h-2zM663.5 154h2v2h-2zM561.5 156h2v2h-2zM665.5 156h2v2h-2z"/>
<path fill="#9cbcd4" d="M607.5 74h14v2h-14zM605.5 76h2v2h-2zM621.5 76h2v2h-2zM599.5 84h2v2h-2zM627.5 84h2v2h-2zM597.5 88h2v2h-2zM629.5 88h2v2h-2zM595.5 92h2v2h-2zM631.5 92h2v2h-2zM587.5 108h2v2h-2zM639.5 108h2v2h-2zM585.5 114h2v2h-2zM641.5 114h2v2h-2zM583.5 120h2v2h-2zM643.5 120h2v2h-2zM581.5 124h2v2h-2zM645.5 124h2v2h-2zM577.5 134h2v2h-2zM649.5 134h2v2h-2zM575.5 138h2v2h-2zM651.5 138h2v2h-2zM569.5 148h2v2h-2zM657.5 148h2v2h-2zM563.5 156h2v2h-2zM663.5 156h2v2h-2zM561.5 158h2v2h-2zM665.5 158h2v2h-2z"/>
<path fill="#a0c0d8" d="M603.5 76h2v2h-2zM623.5 76h2v2h-2zM601.5 78h2v2h-2zM625.5 78h2v2h-2zM593.5 92h2v2h-2zM633.5 92h2v2h-2zM591.5 96h2v2h-2zM635.5 96h2v2h-2zM589.5 100h2v2h-2zM637.5 100h2v2h-2zM579.5 126h2v2h-2zM647.5 126h2v2h-2zM573.5 138h2v2h-2zM653.5 138h2v2h-2zM567.5 148h2v2h-2zM659.5 148h2v2h-2zM565.5 150h2v2h-2zM661.5 150h2v2h-2zM559.5 156h2v2h-2zM667.5 156h4v2h-4z"/>
<path fill="#98bcd4" d="M607.5 76h14v2h-14zM605.5 78h2v2h-2zM621.5 78h2v2h-2zM603.5 80h2v2h-2zM623.5 80h2v2h-2zM601.5 82h2v2h-2zM625.5 82h2v2h-2zM599.5 86h2v2h-2zM627.5 86h2v2h-2zM597.5 90h2v2h-2zM629.5 90h2v2h-2zM593.5 96h2v2h-2zM633.5 96h2v2h-2zM591.5 100h2v2h-2zM635.5 100h2v2h-2zM589.5 104h2v2h-2zM637.5 104h2v2h-2zM587.5 110h2v2h-2zM639.5 110h2v2h-2zM585.5 116h2v2h-2zM641.5 116h2v2h-2zM581.5 126h2v2h-2zM645.5 126h2v2h-2zM579.5 130h2v2h-2zM647.5 130h2v2h-2zM577.5 136h2v2h-2zM649.5 136h2v2h-2zM575.5 140h2v2h-2zM651.5 140h2v2h-2zM573.5 142h2v2h-2zM653.5 142h2v2h-2zM571.5 146h2v2h-2zM655.5 146h2v2h-2zM569.5 150h2v2h-2zM657.5 150h2v2h-2zM567.5 152h2v2h-2zM659.5 152h2v2h-2zM565.5 154h2v2h-2zM661.5 154h2v2h-2zM563.5 158h2v2h-2zM663.5 158h2v2h-2zM559.5 160h4v2h-4zM665.5 160h6v2h-6z"/>
<path fill="#9cc0d4" d="M603.5 78h2v2h-2zM623.5 78h2v2h-2zM601.5 80h2v2h-2zM625.5 80h2v2h-2zM593.5 94h2v2h-2zM633.5 94h2v2h-2zM591.5 98h2v2h-2zM635.5 98h2v2h-2zM589.5 102h2v2h-2zM637.5 102h2v2h-2zM579.5 128h2v2h-2zM647.5 128h2v2h-2zM573.5 140h2v2h-2zM653.5 140h2v2h-2zM571.5 144h2v2h-2zM655.5 144h2v2h-2zM567.5 150h2v2h-2zM659.5 150h2v2h-2zM565.5 152h2v2h-2zM661.5 152h2v2h-2zM559.5 158h2v2h-2zM667.5 158h4v2h-4z"/>
<path fill="#94b8d4" d="M607.5 78h14v2h-14zM605.5 80h2v2h-2zM621.5 80h2v2h-2zM603.5 82h2v2h-2zM623.5 82h2v2h-2zM601.5 84h2v2h-2zM625.5 84h2v2h-2zM599.5 88h2v2h-2zM627.5 88h2v2h-2zM597.5 92h2v2h-2zM629.5 92h2v2h-2zM595.5 94h2v2h-2zM631.5 94h2v2h-2zM593.5 98h2v2h-2zM633.5 98h2v2h-2zM591.5 102h2v2h-2zM635.5 102h2v2h-2zM589.5 106h2v2h-2zM637.5 106h2v2h-2zM587.5 112h2v2h-2zM639.5 112h2v2h-2zM585.5 118h2v2h-2zM641.5 118h2v2h-2zM581.5 128h2v2h-2zM645.5 128h2v2h-2zM579.5 132h2v2h-2zM647.5 132h2v2h-2zM577.5 138h2v2h-2zM649.5 138h2v2h-2zM575.5 142h2v2h-2zM651.5 142h2v2h-2zM573.5 144h2v2h-2zM653.5 144h2v2h-2zM571.5 148h2v2h-2zM655.5 148h2v2h-2zM569.5 152h2v2h-2zM657.5 152h2v2h-2zM567.5 154h2v2h-2zM659.5 154h2v2h-2zM565.5 156h2v2h-2zM661.5 156h2v2h-2zM563.5 160h2v2h-2zM663.5 160h2v2h-2zM559.5 162h4v2h-4zM665.5 162h6v2h-6z"/>
<path fill="#e08c74" d="M563.5 80h2v2h-2zM663.5 80h2v2h-2z"/>
<path fill="#90b4d0" d="M607.5 80h14v2h-14zM605.5 82h2v2h-2zM621.5 82h2v2h-2zM603.5 84h2v2h-2zM623.5 84h2v2h-2zM599.5 90h2v2h-2zM627.5 90h2v2h-2zM597.5 94h2v2h-2zM629.5 94h2v2h-2zM591.5 104h2v2h-2zM635.5 104h2v2h-2zM589.5 108h2v2h-2zM637.5 108h2v2h-2zM587.5 114h2v2h-2zM639.5 114h2v2h-2zM585.5 120h2v2h-2zM641.5 120h2v2h-2zM581.5 130h2v2h-2zM645.5 130h2v2h-2zM575.5 144h2v2h-2zM651.5 144h2v2h-2zM571.5 150h2v2h-2zM655.5 150h2v2h-2zM569.5 154h2v2h-2zM657.5 154h2v2h-2zM567.5 156h2v2h-2zM659.5 156h2v2h-2z"/>
<path fill="#e49c8c" d="M569.5 82h2v2h-2zM657.5 82h2v2h-2z"/>
<path fill="#e8ac98" d="M573.5 82h2v2h-2zM653.5 82h2v2h-2z"/>
<path fill="#8cb4d0" d="M607.5 82h6v2h-6zM615.5 82h6v2h-6zM603.5 86h2v2h-2zM623.5 86h2v2h-2zM601.5 88h2v2h-2zM625.5 88h2v2h-2zM599.5 92h2v2h-2zM627.5 92h2v2h-2zM595.5 98h2v2h-2zM631.5 98h2v2h-2zM593.5 102h2v2h-2zM633.5 102h2v2h-2zM591.5 106h2v2h-2zM635.5 106h2v2h-2zM589.5 110h2v2h-2zM637.5 110h2v2h-2zM587.5 116h2v2h-2zM639.5 116h2v2h-2zM583.5 126h2v2h-2zM643.5 126h2v2h-2zM581.5 132h2v2h-2zM645.5 132h2v2h-2zM579.5 136h2v2h-2zM647.5 136h2v2h-2zM577.5 140h2v2h-2zM649.5 140h2v2h-2zM573.5 148h2v2h-2zM653.5 148h2v2h-2zM571.5 152h2v2h-2zM655.5 152h2v2h-2zM567.5 158h2v2h-2zM659.5 158h2v2h-2zM565.5 160h2v2h-2zM661.5 160h2v2h-2zM563.5 162h2v2h-2zM663.5 162h2v2h-2z"/>
<path fill="#8cb0d0" d="M613.5 82h2v2h-2zM605.5 84h2v2h-2zM621.5 84h2v2h-2zM585.5 122h2v2h-2zM641.5 122h2v2h-2zM575.5 146h2v2h-2zM651.5 146h2v2h-2z"/>
<path fill="#88b0d0" d="M607.5 84h6v2h-6zM615.5 84h6v2h-6zM603.5 88h2v2h-2zM623.5 88h2v2h-2zM601.5 90h2v2h-2zM625.5 90h2v2h-2zM599.5 94h2v2h-2zM627.5 94h2v2h-2zM597.5 96h2v2h-2zM629.5 96h2v2h-2zM595.5 100h2v2h-2zM631.5 100h2v2h-2zM593.5 104h2v2h-2zM633.5 104h2v2h-2zM591.5 108h2v2h-2zM635.5 108h2v2h-2zM589.5 112h2v2h-2zM637.5 112h2v2h-2zM587.5 118h2v2h-2zM639.5 118h2v2h-2zM583.5 128h2v2h-2zM643.5 128h2v2h-2zM581.5 134h2v2h-2zM645.5 134h2v2h-2zM579.5 138h2v2h-2zM647.5 138h2v2h-2zM577.5 142h2v2h-2zM649.5 142h2v2h-2zM573.5 150h2v2h-2zM653.5 150h2v2h-2zM571.5 154h2v2h-2zM655.5 154h2v2h-2zM569.5 156h2v2h-2zM657.5 156h2v2h-2zM567.5 160h2v2h-2zM659.5 160h2v2h-2zM565.5 162h2v2h-2zM661.5 162h2v2h-2z"/>
<path fill="#84b0d0" d="M613.5 84h2v2h-2zM605.5 86h2v2h-2zM621.5 86h2v2h-2zM597.5 98h2v2h-2zM629.5 98h2v2h-2zM585.5 124h2v2h-2zM641.5 124h2v2h-2zM583.5 130h2v2h-2zM643.5 130h2v2h-2zM577.5 144h2v2h-2zM649.5 144h2v2h-2zM575.5 148h2v2h-2zM651.5 148h2v2h-2zM569.5 158h2v2h-2zM657.5 158h2v2h-2z"/>
<path fill="#90b8d4" d="M601.5 86h2v2h-2zM625.5 86h2v2h-2zM595.5 96h2v2h-2zM631.5 96h2v2h-2zM593.5 100h2v2h-2zM633.5 100h2v2h-2zM583.5 124h2v2h-2zM643.5 124h2v2h-2zM579.5 134h2v2h-2zM647.5 134h2v2h-2zM573.5 146h2v2h-2zM653.5 146h2v2h-2zM565.5 158h2v2h-2zM661.5 158h2v2h-2z"/>
<path fill="#84acd0" d="M607.5 86h4v2h-4zM617.5 86h4v2h-4zM603.5 90h2v2h-2zM623.5 90h2v2h-2zM601.5 92h2v2h-2zM625.5 92h2v2h-2zM599.5 96h2v2h-2zM627.5 96h2v2h-2zM595.5 102h2v2h-2zM631.5 102h2v2h-2zM593.5 106h2v2h-2zM633.5 106h2v2h-2zM591.5 110h2v2h-2zM635.5 110h2v2h-2zM589.5 114h2v2h-2zM637.5 114h2v2h-2zM587.5 120h2v2h-2zM639.5 120h2v2h-2zM581.5 136h2v2h-2zM645.5 136h2v2h-2zM579.5 140h2v2h-2zM647.5 140h2v2h-2zM573.5 152h2v2h-2zM653.5 152h2v2h-2zM571.5 156h2v2h-2zM655.5 156h2v2h-2zM567.5 162h2v2h-2zM659.5 162h2v2h-2z"/>
<path fill="#80acd0" d="M611.5 86h6v2h-6zM605.5 88h2v2h-2zM621.5 88h2v2h-2z"/>
<path fill="#a4c0d8" d="M595.5 88h2v2h-2zM631.5 88h2v2h-2z"/>
<path fill="#7ca8cc" d="M607.5 88h14v2h-14zM605.5 90h2v2h-2zM621.5 90h2v2h-2zM601.5 96h2v2h-2zM625.5 96h2v2h-2zM599.5 98h2v2h-2zM627.5 98h2v2h-2zM597.5 102h2v2h-2zM629.5 102h2v2h-2zM595.5 106h2v2h-2zM631.5 106h2v2h-2zM593.5 110h2v2h-2zM633.5 110h2v2h-2zM587.5 122h2v2h-2zM639.5 122h2v2h-2zM585.5 128h2v2h-2zM641.5 128h2v2h-2zM583.5 134h2v2h-2zM643.5 134h2v2h-2zM581.5 138h2v2h-2zM645.5 138h2v2h-2zM579.5 144h2v2h-2zM647.5 144h2v2h-2zM577.5 148h2v2h-2zM649.5 148h2v2h-2zM575.5 152h2v2h-2zM651.5 152h2v2h-2zM573.5 156h2v2h-2zM653.5 156h2v2h-2zM571.5 158h2v2h-2zM655.5 158h2v2h-2zM569.5 162h2v2h-2zM657.5 162h2v2h-2z"/>
<path fill="#78a8cc" d="M607.5 90h4v2h-4zM617.5 90h4v2h-4zM603.5 94h2v2h-2zM623.5 94h2v2h-2zM599.5 100h2v2h-2zM627.5 100h2v2h-2zM591.5 114h2v2h-2zM635.5 114h2v2h-2zM589.5 118h2v2h-2zM637.5 118h2v2h-2zM587.5 124h2v2h-2zM639.5 124h2v2h-2zM581.5 140h2v2h-2zM645.5 140h2v2h-2zM571.5 160h2v2h-2zM655.5 160h2v2h-2z"/>
<path fill="#78a4cc" d="M611.5 90h6v2h-6zM605.5 92h2v2h-2zM621.5 92h2v2h-2zM601.5 98h2v2h-2zM625.5 98h2v2h-2zM597.5 104h2v2h-2zM629.5 104h2v2h-2zM595.5 108h2v2h-2zM631.5 108h2v2h-2zM593.5 112h2v2h-2zM633.5 112h2v2h-2zM585.5 130h2v2h-2zM641.5 130h2v2h-2zM583.5 136h2v2h-2zM643.5 136h2v2h-2zM577.5 150h2v2h-2zM649.5 150h2v2h-2zM575.5 154h2v2h-2zM651.5 154h2v2h-2zM573.5 158h2v2h-2zM653.5 158h2v2h-2z"/>
<path fill="#80a8cc" d="M603.5 92h2v2h-2zM623.5 92h2v2h-2zM591.5 112h2v2h-2zM635.5 112h2v2h-2zM589.5 116h2v2h-2zM637.5 116h2v2h-2z"/>
<path fill="#74a4cc" d="M607.5 92h14v2h-14zM605.5 94h2v2h-2zM621.5 94h2v2h-2zM603.5 96h2v2h-2zM623.5 96h2v2h-2zM599.5 102h2v2h-2zM627.5 102h2v2h-2zM597.5 106h2v2h-2zM629.5 106h2v2h-2zM591.5 116h2v2h-2zM635.5 116h2v2h-2zM589.5 120h2v2h-2zM637.5 120h2v2h-2zM587.5 126h2v2h-2zM639.5 126h2v2h-2zM585.5 132h2v2h-2zM641.5 132h2v2h-2zM581.5 142h2v2h-2zM645.5 142h2v2h-2zM579.5 146h2v2h-2zM647.5 146h2v2h-2zM575.5 156h2v2h-2zM651.5 156h2v2h-2zM571.5 162h2v2h-2zM655.5 162h2v2h-2z"/>
<path fill="#80accc" d="M601.5 94h2v2h-2zM625.5 94h2v2h-2zM597.5 100h2v2h-2zM629.5 100h2v2h-2zM595.5 104h2v2h-2zM631.5 104h2v2h-2zM593.5 108h2v2h-2zM633.5 108h2v2h-2zM585.5 126h2v2h-2zM641.5 126h2v2h-2zM583.5 132h2v2h-2zM643.5 132h2v2h-2zM579.5 142h2v2h-2zM647.5 142h2v2h-2zM577.5 146h2v2h-2zM649.5 146h2v2h-2zM575.5 150h2v2h-2zM651.5 150h2v2h-2zM573.5 154h2v2h-2zM653.5 154h2v2h-2zM569.5 160h2v2h-2zM657.5 160h2v2h-2z"/>
<path fill="#70a0c8" d="M607.5 94h14v2h-14zM605.5 96h2v2h-2zM621.5 96h2v2h-2zM603.5 98h2v2h-2zM623.5 98h2v2h-2zM599.5 104h2v2h-2zM627.5 104h2v2h-2zM597.5 108h2v2h-2zM629.5 108h2v2h-2zM593.5 114h2v2h-2zM633.5 114h2v2h-2zM591.5 118h2v2h-2zM635.5 118h2v2h-2zM589.5 122h2v2h-2zM637.5 122h2v2h-2zM587.5 128h2v2h-2zM639.5 128h2v2h-2zM585.5 134h2v2h-2zM641.5 134h2v2h-2zM581.5 144h2v2h-2zM645.5 144h2v2h-2zM579.5 148h2v2h-2zM647.5 148h2v2h-2zM577.5 154h2v2h-2zM649.5 154h2v2h-2zM575.5 158h2v2h-2zM651.5 158h2v2h-2zM573.5 160h2v2h-2zM653.5 160h2v2h-2z"/>
<path fill="#ece0dc" d="M579.5 96h2v2h-2zM647.5 96h2v2h-2zM573.5 108h2v2h-2zM653.5 108h2v2h-2zM561.5 124h2v2h-2zM665.5 124h2v2h-2z"/>
<path fill="#c0d0dc" d="M585.5 96h2v2h-2zM641.5 96h2v2h-2zM575.5 120h2v2h-2zM651.5 120h2v2h-2z"/>
<path fill="#6c9cc8" d="M607.5 96h6v2h-6zM615.5 96h6v2h-6zM603.5 100h2v2h-2zM623.5 100h2v2h-2zM599.5 106h2v2h-2zM627.5 106h2v2h-2zM593.5 116h2v2h-2zM633.5 116h2v2h-2zM591.5 120h2v2h-2zM635.5 120h2v2h-2zM589.5 124h2v2h-2zM637.5 124h2v2h-2zM587.5 130h2v2h-2zM639.5 130h2v2h-2zM581.5 146h2v2h-2zM645.5 146h2v2h-2zM579.5 150h2v2h-2zM647.5 150h2v2h-2zM573.5 162h2v2h-2zM653.5 162h2v2h-2z"/>
<path fill="#689cc8" d="M613.5 96h2v2h-2zM605.5 98h2v2h-2zM621.5 98h2v2h-2zM601.5 104h2v2h-2zM625.5 104h2v2h-2zM597.5 110h2v2h-2zM629.5 110h2v2h-2zM595.5 114h2v2h-2zM631.5 114h2v2h-2zM593.5 118h2v2h-2zM633.5 118h2v2h-2zM585.5 136h2v2h-2zM641.5 136h2v2h-2zM583.5 142h2v2h-2zM643.5 142h2v2h-2zM579.5 152h2v2h-2zM647.5 152h2v2h-2zM577.5 156h2v2h-2zM649.5 156h2v2h-2zM575.5 160h2v2h-2zM651.5 160h2v2h-2z"/>
<path fill="#6898c8" d="M607.5 98h6v2h-6zM615.5 98h6v2h-6zM603.5 102h2v2h-2zM623.5 102h2v2h-2zM599.5 108h2v2h-2zM627.5 108h2v2h-2zM591.5 122h2v2h-2zM635.5 122h2v2h-2zM589.5 126h2v2h-2zM637.5 126h2v2h-2zM587.5 132h2v2h-2zM639.5 132h2v2h-2zM581.5 148h2v2h-2zM645.5 148h2v2h-2z"/>
<path fill="#6498c8" d="M613.5 98h2v2h-2zM605.5 100h2v2h-2zM621.5 100h2v2h-2zM601.5 106h2v2h-2zM625.5 106h2v2h-2zM597.5 112h2v2h-2zM629.5 112h2v2h-2zM595.5 116h2v2h-2zM631.5 116h2v2h-2zM585.5 138h2v2h-2zM641.5 138h2v2h-2zM583.5 144h2v2h-2zM643.5 144h2v2h-2zM577.5 158h2v2h-2zM649.5 158h2v2h-2zM575.5 162h2v2h-2zM651.5 162h2v2h-2z"/>
<path fill="#70a0cc" d="M601.5 100h2v2h-2zM625.5 100h2v2h-2z"/>
<path fill="#6494c4" d="M607.5 100h6v2h-6zM615.5 100h6v2h-6zM599.5 110h2v2h-2zM627.5 110h2v2h-2zM587.5 134h2v2h-2zM639.5 134h2v2h-2zM581.5 150h2v2h-2zM645.5 150h2v2h-2z"/>
<path fill="#6094c4" d="M613.5 100h2v2h-2zM605.5 102h4v2h-4zM619.5 102h4v2h-4zM603.5 106h2v2h-2zM623.5 106h2v2h-2zM601.5 108h2v2h-2zM625.5 108h2v2h-2zM599.5 112h2v2h-2zM627.5 112h2v2h-2zM597.5 114h2v2h-2zM629.5 114h2v2h-2zM595.5 118h2v2h-2zM631.5 118h2v2h-2zM593.5 122h2v2h-2zM633.5 122h2v2h-2zM591.5 126h2v2h-2zM635.5 126h2v2h-2zM589.5 130h2v2h-2zM637.5 130h2v2h-2zM587.5 136h2v2h-2zM639.5 136h2v2h-2zM585.5 140h2v2h-2zM641.5 140h2v2h-2zM583.5 146h2v2h-2zM643.5 146h2v2h-2zM579.5 156h2v2h-2zM647.5 156h2v2h-2zM577.5 160h2v2h-2zM649.5 160h2v2h-2z"/>
<path fill="#6ca0c8" d="M601.5 102h2v2h-2zM625.5 102h2v2h-2zM595.5 112h2v2h-2zM631.5 112h2v2h-2zM583.5 140h2v2h-2zM643.5 140h2v2h-2z"/>
<path fill="#6090c4" d="M609.5 102h2v2h-2zM617.5 102h2v2h-2zM581.5 152h2v2h-2zM645.5 152h2v2h-2z"/>
<path fill="#5c90c4" d="M611.5 102h6v2h-6zM605.5 104h4v2h-4zM619.5 104h4v2h-4zM603.5 108h2v2h-2zM623.5 108h2v2h-2zM601.5 110h2v2h-2zM625.5 110h2v2h-2zM599.5 114h2v2h-2zM627.5 114h2v2h-2zM597.5 116h2v2h-2zM629.5 116h2v2h-2zM595.5 120h2v2h-2zM631.5 120h2v2h-2zM593.5 124h2v2h-2zM633.5 124h2v2h-2zM591.5 128h2v2h-2zM635.5 128h2v2h-2zM589.5 132h2v2h-2zM637.5 132h2v2h-2zM585.5 142h2v2h-2zM641.5 142h2v2h-2zM583.5 148h2v2h-2zM643.5 148h2v2h-2zM579.5 158h2v2h-2zM647.5 158h2v2h-2zM577.5 162h2v2h-2zM649.5 162h2v2h-2z"/>
<path fill="#6498c4" d="M603.5 104h2v2h-2zM623.5 104h2v2h-2zM593.5 120h2v2h-2zM633.5 120h2v2h-2zM591.5 124h2v2h-2zM635.5 124h2v2h-2zM589.5 128h2v2h-2zM637.5 128h2v2h-2zM579.5 154h2v2h-2zM647.5 154h2v2h-2z"/>
<path fill="#5890c4" d="M609.5 104h4v2h-4zM615.5 104h4v2h-4zM587.5 138h2v2h-2zM639.5 138h2v2h-2zM581.5 154h2v2h-2zM645.5 154h2v2h-2z"/>
<path fill="#588cc4" d="M613.5 104h2v2h-2zM605.5 106h2v2h-2zM621.5 106h2v2h-2zM597.5 118h2v2h-2zM629.5 118h2v2h-2zM585.5 144h2v2h-2zM641.5 144h2v2h-2z"/>
<path fill="#548cc0" d="M607.5 106h14v2h-14zM605.5 108h2v2h-2zM621.5 108h2v2h-2zM599.5 116h2v2h-2zM627.5 116h2v2h-2zM587.5 140h2v2h-2zM639.5 140h2v2h-2zM585.5 146h2v2h-2zM641.5 146h2v2h-2zM581.5 156h2v2h-2zM645.5 156h2v2h-2z"/>
<path fill="#5088c0" d="M607.5 108h14v2h-14zM605.5 110h2v2h-2zM621.5 110h2v2h-2zM603.5 112h2v2h-2zM623.5 112h2v2h-2zM599.5 118h2v2h-2zM627.5 118h2v2h-2zM597.5 122h2v2h-2zM629.5 122h2v2h-2zM587.5 142h2v2h-2zM639.5 142h2v2h-2zM585.5 148h2v2h-2zM641.5 148h2v2h-2zM581.5 158h2v2h-2zM645.5 158h2v2h-2z"/>
<path fill="#74a0cc" d="M595.5 110h2v2h-2zM631.5 110h2v2h-2zM583.5 138h2v2h-2zM643.5 138h2v2h-2zM577.5 152h2v2h-2zM649.5 152h2v2h-2z"/>
<path fill="#588cc0" d="M603.5 110h2v2h-2zM623.5 110h2v2h-2zM601.5 112h2v2h-2zM625.5 112h2v2h-2zM595.5 122h2v2h-2zM631.5 122h2v2h-2zM593.5 126h2v2h-2zM633.5 126h2v2h-2zM591.5 130h2v2h-2zM635.5 130h2v2h-2zM589.5 134h2v2h-2zM637.5 134h2v2h-2zM583.5 150h2v2h-2zM643.5 150h2v2h-2zM579.5 160h2v2h-2zM647.5 160h2v2h-2z"/>
<path fill="#4c84c0" d="M607.5 110h2v2h-2zM619.5 110h2v2h-2zM603.5 114h2v2h-2zM623.5 114h2v2h-2zM599.5 120h2v2h-2zM627.5 120h2v2h-2z"/>
<path fill="#4c84bc" d="M609.5 110h10v2h-10zM605.5 112h2v2h-2zM621.5 112h2v2h-2zM597.5 124h2v2h-2zM629.5 124h2v2h-2zM587.5 144h2v2h-2zM639.5 144h2v2h-2zM585.5 150h2v2h-2zM641.5 150h2v2h-2zM581.5 160h2v2h-2zM645.5 160h2v2h-2z"/>
<path fill="#4880bc" d="M607.5 112h14v2h-14zM605.5 114h2v2h-2zM621.5 114h2v2h-2zM603.5 116h2v2h-2zM623.5 116h2v2h-2zM599.5 122h2v2h-2zM627.5 122h2v2h-2zM597.5 126h2v2h-2zM629.5 126h2v2h-2zM595.5 130h2v2h-2zM631.5 130h2v2h-2zM591.5 136h2v2h-2zM635.5 136h2v2h-2zM589.5 140h2v2h-2zM637.5 140h2v2h-2zM587.5 146h2v2h-2zM639.5 146h2v2h-2zM585.5 152h2v2h-2zM641.5 152h2v2h-2zM583.5 158h2v2h-2zM643.5 158h2v2h-2zM581.5 162h2v2h-2zM645.5 162h2v2h-2z"/>
<path fill="#5488c0" d="M601.5 114h2v2h-2zM625.5 114h2v2h-2zM597.5 120h2v2h-2zM629.5 120h2v2h-2zM595.5 124h2v2h-2zM631.5 124h2v2h-2zM593.5 128h2v2h-2zM633.5 128h2v2h-2zM591.5 132h2v2h-2zM635.5 132h2v2h-2zM589.5 136h2v2h-2zM637.5 136h2v2h-2zM583.5 152h2v2h-2zM643.5 152h2v2h-2zM579.5 162h2v2h-2zM647.5 162h2v2h-2z"/>
<path fill="#447cbc" d="M607.5 114h14v2h-14zM605.5 116h2v2h-2zM621.5 116h2v2h-2zM603.5 118h2v2h-2zM623.5 118h2v2h-2zM601.5 122h2v2h-2zM625.5 122h2v2h-2zM599.5 124h2v2h-2zM627.5 124h2v2h-2zM597.5 128h2v2h-2zM629.5 128h2v2h-2zM595.5 132h2v2h-2zM631.5 132h2v2h-2zM593.5 134h2v2h-2zM633.5 134h2v2h-2zM591.5 138h2v2h-2zM635.5 138h2v2h-2zM589.5 142h2v2h-2zM637.5 142h2v2h-2zM587.5 148h2v2h-2zM639.5 148h2v2h-2zM585.5 154h2v2h-2zM641.5 154h2v2h-2zM583.5 160h2v2h-2zM643.5 160h2v2h-2z"/>
<path fill="#5084c0" d="M601.5 116h2v2h-2zM625.5 116h2v2h-2zM595.5 126h2v2h-2zM631.5 126h2v2h-2zM593.5 130h2v2h-2zM633.5 130h2v2h-2zM591.5 134h2v2h-2zM635.5 134h2v2h-2zM589.5 138h2v2h-2zM637.5 138h2v2h-2zM583.5 154h2v2h-2zM643.5 154h2v2h-2z"/>
<path fill="#4078b8" d="M607.5 116h14v2h-14zM605.5 118h2v2h-2zM621.5 118h2v2h-2zM603.5 120h2v2h-2zM623.5 120h2v2h-2zM599.5 126h2v2h-2zM627.5 126h2v2h-2zM597.5 130h2v2h-2zM629.5 130h2v2h-2zM593.5 136h2v2h-2zM633.5 136h2v2h-2zM591.5 140h2v2h-2zM635.5 140h2v2h-2zM589.5 144h2v2h-2zM637.5 144h2v2h-2zM587.5 150h2v2h-2zM639.5 150h2v2h-2zM585.5 156h2v2h-2zM641.5 156h2v2h-2z"/>
<path fill="#4c80bc" d="M601.5 118h2v2h-2zM625.5 118h2v2h-2zM595.5 128h2v2h-2zM631.5 128h2v2h-2zM593.5 132h2v2h-2zM633.5 132h2v2h-2zM583.5 156h2v2h-2zM643.5 156h2v2h-2z"/>
<path fill="#3c74b8" d="M607.5 118h14v2h-14zM605.5 120h2v2h-2zM621.5 120h2v2h-2zM603.5 122h2v2h-2zM623.5 122h2v2h-2zM599.5 128h2v2h-2zM627.5 128h2v2h-2zM593.5 138h2v2h-2zM633.5 138h2v2h-2zM591.5 142h2v2h-2zM635.5 142h2v2h-2zM589.5 146h2v2h-2zM637.5 146h2v2h-2zM587.5 152h2v2h-2zM639.5 152h2v2h-2zM585.5 158h2v2h-2zM641.5 158h2v2h-2z"/>
<path fill="#487cbc" d="M601.5 120h2v2h-2zM625.5 120h2v2h-2z"/>
<path fill="#3870b8" d="M607.5 120h6v2h-6zM615.5 120h6v2h-6zM605.5 122h2v2h-2zM621.5 122h2v2h-2zM603.5 124h2v2h-2zM623.5 124h2v2h-2zM599.5 130h2v2h-2zM627.5 130h2v2h-2zM591.5 144h2v2h-2zM635.5 144h2v2h-2zM589.5 148h2v2h-2zM637.5 148h2v2h-2zM587.5 154h2v2h-2zM639.5 154h2v2h-2z"/>
<path fill="#3470b4" d="M613.5 120h2v2h-2zM601.5 128h2v2h-2zM625.5 128h2v2h-2zM597.5 134h2v2h-2zM629.5 134h2v2h-2zM595.5 138h2v2h-2zM631.5 138h2v2h-2zM593.5 142h2v2h-2zM633.5 142h2v2h-2zM585.5 160h2v2h-2zM641.5 160h2v2h-2z"/>
<path fill="#98b8d4" d="M583.5 122h2v2h-2zM643.5 122h2v2h-2z"/>
<path fill="#346cb4" d="M607.5 122h14v2h-14zM605.5 124h2v2h-2zM621.5 124h2v2h-2zM603.5 126h2v2h-2zM623.5 126h2v2h-2zM601.5 130h2v2h-2zM625.5 130h2v2h-2zM599.5 132h2v2h-2zM627.5 132h2v2h-2zM597.5 136h2v2h-2zM629.5 136h2v2h-2zM595.5 140h2v2h-2zM631.5 140h2v2h-2zM591.5 146h2v2h-2zM635.5 146h2v2h-2zM589.5 150h2v2h-2zM637.5 150h2v2h-2zM587.5 156h2v2h-2zM639.5 156h2v2h-2zM585.5 162h2v2h-2zM641.5 162h2v2h-2z"/>
<path fill="#3c78b8" d="M601.5 124h2v2h-2zM625.5 124h2v2h-2zM595.5 134h2v2h-2zM631.5 134h2v2h-2zM583.5 162h2v2h-2zM643.5 162h2v2h-2z"/>
<path fill="#3468b4" d="M607.5 124h4v2h-4zM617.5 124h4v2h-4zM603.5 128h2v2h-2zM623.5 128h2v2h-2zM599.5 134h2v2h-2zM627.5 134h2v2h-2zM593.5 144h2v2h-2zM633.5 144h2v2h-2zM591.5 148h2v2h-2zM635.5 148h2v2h-2zM589.5 152h2v2h-2zM637.5 152h2v2h-2zM587.5 158h2v2h-2zM639.5 158h2v2h-2z"/>
<path fill="#3468b0" d="M611.5 124h2v2h-2zM615.5 124h2v2h-2z"/>
<path fill="#3068b0" d="M613.5 124h2v2h-2zM605.5 126h2v2h-2zM621.5 126h2v2h-2zM597.5 138h2v2h-2zM629.5 138h2v2h-2zM595.5 142h2v2h-2zM631.5 142h2v2h-2z"/>
<path fill="#3874b8" d="M601.5 126h2v2h-2zM625.5 126h2v2h-2zM597.5 132h2v2h-2zM629.5 132h2v2h-2zM595.5 136h2v2h-2zM631.5 136h2v2h-2zM593.5 140h2v2h-2zM633.5 140h2v2h-2z"/>
<path fill="#3064b0" d="M607.5 126h14v2h-14zM605.5 128h2v2h-2zM621.5 128h2v2h-2zM603.5 130h2v2h-2zM623.5 130h2v2h-2zM601.5 132h2v2h-2zM625.5 132h2v2h-2zM599.5 136h2v2h-2zM627.5 136h2v2h-2zM597.5 140h2v2h-2zM629.5 140h2v2h-2zM593.5 146h2v2h-2zM633.5 146h2v2h-2zM591.5 150h2v2h-2zM635.5 150h2v2h-2zM589.5 154h2v2h-2zM637.5 154h2v2h-2zM587.5 160h2v2h-2zM639.5 160h2v2h-2z"/>
<path fill="#3060ac" d="M607.5 128h4v2h-4zM617.5 128h4v2h-4zM599.5 138h2v2h-2zM627.5 138h2v2h-2zM587.5 162h2v2h-2zM639.5 162h2v2h-2z"/>
<path fill="#2c60ac" d="M611.5 128h6v2h-6zM605.5 130h2v2h-2zM621.5 130h2v2h-2z"/>
<path fill="#2c5cac" d="M607.5 130h14v2h-14zM605.5 132h2v2h-2zM621.5 132h2v2h-2zM603.5 134h2v2h-2zM623.5 134h2v2h-2zM601.5 136h2v2h-2zM625.5 136h2v2h-2zM599.5 140h2v2h-2zM627.5 140h2v2h-2zM597.5 142h2v2h-2zM629.5 142h2v2h-2zM595.5 146h2v2h-2zM631.5 146h2v2h-2zM593.5 150h2v2h-2zM633.5 150h2v2h-2zM591.5 154h2v2h-2zM635.5 154h2v2h-2zM589.5 158h2v2h-2zM637.5 158h2v2h-2z"/>
<path fill="#3060b0" d="M603.5 132h2v2h-2zM623.5 132h2v2h-2zM601.5 134h2v2h-2zM625.5 134h2v2h-2zM595.5 144h2v2h-2zM631.5 144h2v2h-2zM593.5 148h2v2h-2zM633.5 148h2v2h-2zM591.5 152h2v2h-2zM635.5 152h2v2h-2zM589.5 156h2v2h-2zM637.5 156h2v2h-2z"/>
<path fill="#2c58a8" d="M607.5 132h2v2h-2zM619.5 132h2v2h-2zM603.5 136h2v2h-2zM623.5 136h2v2h-2zM591.5 156h2v2h-2zM635.5 156h2v2h-2zM589.5 160h2v2h-2zM637.5 160h2v2h-2z"/>
<path fill="#2858a8" d="M609.5 132h2v2h-2zM617.5 132h2v2h-2zM599.5 142h2v2h-2zM627.5 142h2v2h-2z"/>
<path fill="#2854a8" d="M611.5 132h6v2h-6zM605.5 134h2v2h-2zM621.5 134h2v2h-2zM603.5 138h2v2h-2zM623.5 138h2v2h-2zM601.5 140h2v2h-2zM625.5 140h2v2h-2zM597.5 146h2v2h-2zM629.5 146h2v2h-2zM595.5 150h2v2h-2zM631.5 150h2v2h-2zM593.5 154h2v2h-2zM633.5 154h2v2h-2zM591.5 158h2v2h-2zM635.5 158h2v2h-2zM589.5 162h2v2h-2zM637.5 162h2v2h-2z"/>
<path fill="#2850a8" d="M607.5 134h14v2h-14zM605.5 136h2v2h-2zM621.5 136h2v2h-2zM601.5 142h2v2h-2zM625.5 142h2v2h-2zM599.5 144h2v2h-2zM627.5 144h2v2h-2zM597.5 148h2v2h-2zM629.5 148h2v2h-2zM595.5 152h2v2h-2zM631.5 152h2v2h-2z"/>
<path fill="#244ca4" d="M607.5 136h14v2h-14zM605.5 138h2v2h-2zM621.5 138h2v2h-2zM603.5 140h2v2h-2zM623.5 140h2v2h-2zM601.5 144h2v2h-2zM625.5 144h2v2h-2zM599.5 146h2v2h-2zM627.5 146h2v2h-2zM597.5 150h2v2h-2zM629.5 150h2v2h-2zM595.5 154h2v2h-2zM631.5 154h2v2h-2zM593.5 158h2v2h-2zM633.5 158h2v2h-2z"/>
<path fill="#2c58ac" d="M601.5 138h2v2h-2zM625.5 138h2v2h-2zM597.5 144h2v2h-2zM629.5 144h2v2h-2zM595.5 148h2v2h-2zM631.5 148h2v2h-2zM593.5 152h2v2h-2zM633.5 152h2v2h-2z"/>
<path fill="#2448a4" d="M607.5 138h14v2h-14zM605.5 140h2v2h-2zM621.5 140h2v2h-2zM603.5 142h2v2h-2zM623.5 142h2v2h-2zM599.5 148h2v2h-2zM627.5 148h2v2h-2zM597.5 152h2v2h-2zM629.5 152h2v2h-2zM591.5 162h2v2h-2zM635.5 162h2v2h-2z"/>
<path fill="#2044a0" d="M607.5 140h14v2h-14zM605.5 142h2v2h-2zM621.5 142h2v2h-2zM603.5 144h2v2h-2zM623.5 144h2v2h-2zM599.5 150h2v2h-2zM627.5 150h2v2h-2zM597.5 154h2v2h-2zM629.5 154h2v2h-2z"/>
<path fill="#2040a0" d="M607.5 142h4v2h-4zM617.5 142h4v2h-4zM603.5 146h2v2h-2zM623.5 146h2v2h-2zM601.5 148h2v2h-2zM625.5 148h2v2h-2zM599.5 152h2v2h-2zM627.5 152h2v2h-2zM595.5 158h2v2h-2zM631.5 158h2v2h-2zM593.5 162h2v2h-2zM633.5 162h2v2h-2z"/>
<path fill="#20409c" d="M611.5 142h6v2h-6zM605.5 144h2v2h-2zM621.5 144h2v2h-2zM597.5 156h2v2h-2zM629.5 156h2v2h-2z"/>
<path fill="#203c98" d="M607.5 144h6v2h-6zM615.5 144h6v2h-6zM603.5 148h2v2h-2zM623.5 148h2v2h-2zM599.5 154h2v2h-2zM627.5 154h2v2h-2z"/>
<path fill="#1c3c98" d="M613.5 144h2v2h-2zM605.5 146h2v2h-2zM621.5 146h2v2h-2zM597.5 158h2v2h-2zM629.5 158h2v2h-2z"/>
<path fill="#2448a0" d="M601.5 146h2v2h-2zM625.5 146h2v2h-2zM595.5 156h2v2h-2zM631.5 156h2v2h-2z"/>
<path fill="#1c3894" d="M607.5 146h14v2h-14zM605.5 148h2v2h-2zM621.5 148h2v2h-2zM603.5 150h2v2h-2zM623.5 150h2v2h-2zM599.5 156h2v2h-2zM627.5 156h2v2h-2zM597.5 160h2v2h-2zM629.5 160h2v2h-2z"/>
<path fill="#1c3490" d="M607.5 148h4v2h-4zM617.5 148h4v2h-4zM603.5 152h2v2h-2zM623.5 152h2v2h-2zM601.5 154h2v2h-2zM625.5 154h2v2h-2zM599.5 158h2v2h-2zM627.5 158h2v2h-2z"/>
<path fill="#1c348c" d="M611.5 148h6v2h-6zM605.5 150h2v2h-2zM621.5 150h2v2h-2zM597.5 162h2v2h-2zM629.5 162h2v2h-2z"/>
<path fill="#203c9c" d="M601.5 150h2v2h-2zM625.5 150h2v2h-2zM595.5 160h2v2h-2zM631.5 160h2v2h-2z"/>
<path fill="#1c3088" d="M607.5 150h14v2h-14zM605.5 152h2v2h-2zM621.5 152h2v2h-2zM603.5 154h2v2h-2zM623.5 154h2v2h-2zM599.5 160h2v2h-2zM627.5 160h2v2h-2z"/>
<path fill="#1c3898" d="M601.5 152h2v2h-2zM625.5 152h2v2h-2zM595.5 162h2v2h-2zM631.5 162h2v2h-2z"/>
<path fill="#1c2c84" d="M607.5 152h14v2h-14zM605.5 154h2v2h-2zM621.5 154h2v2h-2zM603.5 156h2v2h-2zM623.5 156h2v2h-2zM599.5 162h2v2h-2zM627.5 162h2v2h-2z"/>
<path fill="#18287c" d="M607.5 154h4v2h-4zM617.5 154h4v2h-4zM603.5 158h2v2h-2zM623.5 158h2v2h-2z"/>
<path fill="#182878" d="M611.5 154h6v2h-6zM605.5 156h2v2h-2zM621.5 156h2v2h-2z"/>
<path fill="#2850a4" d="M593.5 156h2v2h-2zM633.5 156h2v2h-2zM591.5 160h2v2h-2zM635.5 160h2v2h-2z"/>
<path fill="#1c308c" d="M601.5 156h2v2h-2zM625.5 156h2v2h-2z"/>
<path fill="#182470" d="M607.5 156h14v2h-14zM605.5 158h2v2h-2zM621.5 158h2v2h-2zM603.5 160h2v2h-2zM623.5 160h2v2h-2z"/>
<path fill="#1c2c88" d="M601.5 158h2v2h-2zM625.5 158h2v2h-2z"/>
<path fill="#182068" d="M607.5 158h2v2h-2zM619.5 158h2v2h-2zM603.5 162h2v2h-2zM623.5 162h2v2h-2z"/>
<path fill="#182064" d="M609.5 158h10v2h-10zM605.5 160h18v2h-18zM605.5 162h18v2h-18z"/>
<path fill="#2444a0" d="M593.5 160h2v2h-2zM633.5 160h2v2h-2z"/>
<path fill="#182880" d="M601.5 160h2v2h-2zM625.5 160h2v2h-2z"/>
<path fill="#182474" d="M601.5 162h2v2h-2zM625.5 162h2v2h-2z"/>
</g></g>
<line x1="563.5" y1="10" x2="563.5" y2="159.2" stroke="#8a8a8a" stroke-width="0.8"/>
<line x1="563.5" y1="26.8" x2="567" y2="26.8" stroke="#ffffff" stroke-width="0.8" opacity="0.8"/>
<line x1="563.5" y1="60" x2="567" y2="60" stroke="#ffffff" stroke-width="0.8" opacity="0.8"/>
<line x1="563.5" y1="93.2" x2="567" y2="93.2" stroke="#ffffff" stroke-width="0.8" opacity="0.8"/>
<line x1="563.5" y1="126.4" x2="567" y2="126.4" stroke="#ffffff" stroke-width="0.8" opacity="0.8"/>
<line x1="589.3" y1="159.2" x2="589.3" y2="155.7" stroke="#ffffff" stroke-width="0.8" opacity="0.8"/>
<line x1="614.5" y1="159.2" x2="614.5" y2="155.7" stroke="#ffffff" stroke-width="0.8" opacity="0.8"/>
<line x1="639.7" y1="159.2" x2="639.7" y2="155.7" stroke="#ffffff" stroke-width="0.8" opacity="0.8"/>
<text x="540.9" y="63.9">44.4</text>
<text x="541.2" y="130">44.0</text>
<text x="559.25" y="171.5">-2</text>
<text x="584.4" y="171.45">-1</text>
<text x="611.7" y="171.45">0</text>
<text x="637.15" y="171.45">1</text>
<text x="662.8" y="171.5">2</text>
<text x="608.5" y="182.3" font-size="11"><tspan font-style="italic">θ</tspan> (°)</text>
<text transform="translate(542.2 96.6) rotate(-90)" font-size="11"><tspan font-style="italic">T</tspan> (K)</text>
<polyline points="562.84,130.69 563.47,129.93 564.1,129.17 564.73,128.41 565.36,127.64 565.99,126.88 566.62,126.12 567.25,125.36 567.88,124.6 568.51,123.84 569.14,123.08 569.77,122.04 570.4,121 571.03,119.97 571.66,118.93 572.29,117.89 572.92,116.85 573.55,115.82 574.18,114.78 574.81,113.74 575.44,112.7 576.07,111.67 576.7,110.63 577.33,109.5 577.96,108.02 578.59,106.54 579.22,105.06 579.85,103.57 580.48,102.09 581.11,100.61 581.74,99.13 582.37,97.65 583,96.16 583.63,94.68 584.26,93.2 584.89,91.44 585.52,89.69 586.15,87.93 586.78,86.18 587.41,84.42 588.04,82.67 588.67,80.91 589.3,79.15 589.93,77.4 590.56,75.64 591.19,74.24 591.82,73.08 592.45,71.93 593.08,70.77 593.71,69.61 594.34,68.45 594.97,67.29 595.6,66.13 596.23,64.97 596.86,63.81 597.49,62.65 598.12,61.49 598.75,60.33 599.38,59.17 600.01,58.2 600.64,57.23 601.27,56.26 601.9,55.3 602.53,54.33 603.16,53.36 603.79,52.55 604.42,51.75 605.05,50.94 605.68,50.13 606.31,49.33 606.94,48.52 607.57,47.71 608.2,47.51 608.83,47.47 609.46,47.42 610.09,47.37 610.72,47.33 611.35,47.28 611.98,47.24 612.61,47.19 613.24,47.14 613.87,47.1 614.5,47.05 615.13,47.1 615.76,47.14 616.39,47.19 617.02,47.24 617.65,47.28 618.28,47.33 618.91,47.37 619.54,47.42 620.17,47.47 620.8,47.51 621.43,47.71 622.06,48.52 622.69,49.33 623.32,50.13 623.95,50.94 624.58,51.75 625.21,52.55 625.84,53.36 626.47,54.33 627.1,55.3 627.73,56.26 628.36,57.23 628.99,58.2 629.62,59.17 630.25,60.33 630.88,61.49 631.51,62.65 632.14,63.81 632.77,64.97 633.4,66.13 634.03,67.29 634.66,68.45 635.29,69.61 635.92,70.77 636.55,71.93 637.18,73.08 637.81,74.24 638.44,75.64 639.07,77.4 639.7,79.15 640.33,80.91 640.96,82.67 641.59,84.42 642.22,86.18 642.85,87.93 643.48,89.69 644.11,91.44 644.74,93.2 645.37,94.68 646,96.16 646.63,97.65 647.26,99.13 647.89,100.61 648.52,102.09 649.15,103.57 649.78,105.06 650.41,106.54 651.04,108.02 651.67,109.5 652.3,110.63 652.93,111.67 653.56,112.7 654.19,113.74 654.82,114.78 655.45,115.82 656.08,116.85 656.71,117.89 657.34,118.93 657.97,119.97 658.6,121 659.23,122.04 659.86,123.08 660.49,123.84 661.12,124.6 661.75,125.36 662.38,126.12 663.01,126.88 663.64,127.64 664.27,128.41 664.9,129.17 665.53,129.93 666.16,130.69" fill="none" stroke="#ffffff" stroke-width="1.4" stroke-dasharray="4.6,3"/>
<line x1="563.5" y1="99.3" x2="590.2" y2="99.3" stroke="#231f20" stroke-width="0.9" stroke-dasharray="3.2,2"/>
<line x1="643.3" y1="99.3" x2="665.8" y2="99.3" stroke="#231f20" stroke-width="0.9" stroke-dasharray="3.2,2"/>
<line x1="581.9" y1="112.5" x2="581.9" y2="107.5" stroke="#3a3a3a" stroke-width="1.3"/>
<path d="M581.9 102L585 108.6L578.8 108.6Z" fill="#231f20"/>
<line x1="653.1" y1="112.5" x2="653.1" y2="107.5" stroke="#3a3a3a" stroke-width="1.3"/>
<path d="M653.1 102L656.2 108.6L650 108.6Z" fill="#231f20"/>
<text x="649.95" y="21.8" fill="#ffffff" font-size="10.5">S2</text>
<text x="596.75" y="151.4" fill="#ffffff" font-size="10.8"><tspan font-style="italic">B</tspan> = 12 T</text>
<defs><linearGradient id="cbg4" x1="0" y1="0" x2="0" y2="1"><stop offset="0" stop-color="#520a22"/><stop offset="0.1" stop-color="#9c1c2e"/><stop offset="0.2" stop-color="#c95240"/><stop offset="0.3" stop-color="#e1937d"/><stop offset="0.4" stop-color="#efc6bb"/><stop offset="0.5" stop-color="#ebe7ea"/><stop offset="0.6" stop-color="#a8c6d8"/><stop offset="0.7" stop-color="#6a9cc8"/><stop offset="0.8" stop-color="#3670b6"/><stop offset="0.9" stop-color="#1f3f9e"/><stop offset="0.95" stop-color="#1a2a82"/><stop offset="1" stop-color="#16164e"/></linearGradient></defs>
<rect x="669.2" y="130" width="6.3" height="29.2" fill="url(#cbg4)" stroke="#231f20" stroke-width="0.6"/>
<text x="670.1" y="128.9" font-size="7.5">5</text>
<text x="670.15" y="166.7" font-size="7.5">2</text>
<text transform="translate(677.4 135.3) rotate(90)" font-size="8.6"><tspan font-style="italic">R</tspan> (Ω)</text>
<text x="590.5" y="102.75" font-style="italic" font-size="10.5">T</text>
<text x="598.85" y="98.55" font-size="8">50%</text>
<text x="599.25" y="105.55" font-size="8">sc</text>
<text x="615.5" y="102.95" font-size="11">(<tspan font-style="italic">B</tspan>=0)</text>
<text x="585.15" y="39.55" font-style="italic" fill="#ffffff" font-size="10.5">T</text>
<text x="592.7" y="35.6" fill="#ffffff" font-size="8">50%</text>
<text x="594.15" y="43" fill="#ffffff" font-size="8">sc</text>
<text x="609.5" y="39.8" fill="#ffffff" font-size="11">(<tspan font-style="italic">B</tspan>=12)</text>
<text x="334.1" y="194.6" font-weight="bold">f</text>
<defs><linearGradient id="fbg" x1="0" y1="0" x2="1" y2="0"><stop offset="0" stop-color="#c9e4f4"/><stop offset="0.35" stop-color="#daedf8"/><stop offset="0.58" stop-color="#ffffff"/><stop offset="0.7" stop-color="#fbeef3"/><stop offset="1" stop-color="#f5dbe6"/></linearGradient></defs>
<rect x="362.6" y="194.2" width="150" height="164.8" fill="url(#fbg)" stroke="none" stroke-width="1"/>
<rect x="362.6" y="194.2" width="150" height="164.8" fill="none" stroke="#6d6466" stroke-width="1"/>
<line x1="362.6" y1="318" x2="366.1" y2="318" stroke="#6d6466" stroke-width="1"/>
<line x1="362.6" y1="277" x2="366.1" y2="277" stroke="#6d6466" stroke-width="1"/>
<line x1="362.6" y1="236" x2="366.1" y2="236" stroke="#6d6466" stroke-width="1"/>
<line x1="392.1" y1="359" x2="392.1" y2="355.5" stroke="#6d6466" stroke-width="1"/>
<line x1="452.6" y1="359" x2="452.6" y2="355.5" stroke="#6d6466" stroke-width="1"/>
<text x="349.5" y="198.9">20</text>
<text x="348.35" y="280.85">10</text>
<text x="352.6" y="363.1">0</text>
<text x="382.8" y="373.45">0.99</text>
<text x="449.65" y="372.9">1</text>
<text x="502.5" y="373">1.01</text>
<text transform="translate(344.6 290.8) rotate(-90)" font-size="11"><tspan font-style="italic">B</tspan><tspan font-size="8" dy="2.6">c2</tspan><tspan dy="-2.6"> (T)</tspan></text>
<text x="413.15" y="385" font-size="11"><tspan font-style="italic">T</tspan>/<tspan font-style="italic">T</tspan></text>
<text x="430.9" y="380.15" font-size="8">50%</text>
<text x="429.1" y="387" font-size="8">sc</text>
<text x="447.65" y="384.5" font-size="11">(0)</text>
<line x1="362.6" y1="297" x2="452.6" y2="359" stroke="#8c8c8c" stroke-width="0.6"/>
<rect x="363.8" y="291.2" width="4.8" height="4.8" fill="#cfcfcf" stroke="#8e8e8e" stroke-width="0.7"/>
<rect x="369.2" y="299.1" width="4.8" height="4.8" fill="#cfcfcf" stroke="#8e8e8e" stroke-width="0.7"/>
<rect x="379.8" y="307.6" width="4.8" height="4.8" fill="#cfcfcf" stroke="#8e8e8e" stroke-width="0.7"/>
<rect x="385.6" y="315.5" width="4.8" height="4.8" fill="#cfcfcf" stroke="#8e8e8e" stroke-width="0.7"/>
<rect x="396.2" y="324" width="4.8" height="4.8" fill="#cfcfcf" stroke="#8e8e8e" stroke-width="0.7"/>
<rect x="401.6" y="340" width="4.8" height="4.8" fill="#cfcfcf" stroke="#8e8e8e" stroke-width="0.7"/>
<line x1="394.8" y1="308.4" x2="392.6" y2="313.8" stroke="#555555" stroke-width="0.5"/>
<text transform="translate(365.6 287.4) rotate(34.52)" font-size="8.6" fill="#333333">[(Li,Fe)OH]FeSe, <tspan font-style="italic">B</tspan>//<tspan font-style="italic">ab</tspan><tspan font-size="5.6" dx="0.6" dy="-3.4">[35]</tspan></text>
<polyline points="441.2,203.2 441.38,203.72 441.59,204.3 441.81,204.92 442.05,205.58 442.3,206.29 442.58,207.04 442.87,207.83 443.17,208.65 443.49,209.51 443.82,210.41 444.16,211.33 444.51,212.29 444.87,213.27 445.24,214.28 445.62,215.31 446.01,216.36 446.4,217.44 446.8,218.53 447.2,219.64 447.61,220.76 448.01,221.89 448.42,223.03 448.83,224.18 449.24,225.34 449.65,226.5 450.06,227.66 450.46,228.83 450.86,229.99 451.25,231.15 451.64,232.3 452.02,233.45 452.4,234.58 452.76,235.71 453.12,236.82 453.46,237.92 453.8,239 454.12,240.06 454.43,241.09 454.72,242.11 455,243.1 455.27,244.08 455.55,245.05 455.82,246.02 456.09,246.99 456.37,247.96 456.64,248.93 456.92,249.89 457.19,250.85 457.46,251.82 457.73,252.78 458,253.73 458.26,254.69 458.52,255.65 458.78,256.6 459.04,257.56 459.29,258.51 459.53,259.46 459.77,260.42 460,261.37 460.23,262.32 460.45,263.27 460.67,264.22 460.87,265.17 461.07,266.12 461.27,267.07 461.45,268.02 461.62,268.97 461.79,269.92 461.94,270.88 462.09,271.83 462.22,272.78 462.35,273.73 462.46,274.69 462.56,275.64 462.65,276.6 462.73,277.56 462.79,278.52 462.84,279.48 462.88,280.44 462.9,281.4 462.91,282.36 462.89,283.33 462.86,284.29 462.81,285.26 462.74,286.23 462.66,287.19 462.56,288.16 462.44,289.13 462.32,290.1 462.18,291.06 462.03,292.03 461.87,293 461.69,293.97 461.51,294.94 461.32,295.91 461.12,296.88 460.92,297.85 460.71,298.83 460.49,299.8 460.27,300.77 460.04,301.74 459.82,302.71 459.59,303.68 459.36,304.66 459.13,305.63 458.9,306.6 458.67,307.57 458.44,308.54 458.22,309.52 458,310.49 457.78,311.46 457.58,312.43 457.37,313.4 457.18,314.38 456.99,315.35 456.81,316.32 456.64,317.29 456.48,318.26 456.34,319.23 456.2,320.2 456.07,321.18 455.95,322.19 455.82,323.21 455.7,324.25 455.58,325.32 455.46,326.39 455.34,327.48 455.22,328.58 455.11,329.69 455,330.81 454.89,331.93 454.78,333.06 454.67,334.19 454.57,335.32 454.46,336.46 454.36,337.58 454.27,338.7 454.17,339.82 454.07,340.93 453.98,342.03 453.89,343.11 453.8,344.18 453.72,345.24 453.63,346.27 453.55,347.29 453.47,348.29 453.39,349.26 453.32,350.21 453.24,351.13 453.17,352.03 453.11,352.89 453.04,353.72 452.98,354.52 452.92,355.28 452.86,356.01 452.8,356.69 452.75,357.33 452.7,357.94 452.65,358.49 452.6,359" fill="none" stroke="#8a3ab8" stroke-width="1" stroke-dasharray="3,2"/>
<polyline points="452.6,359 452.62,358.79 452.63,358.55 452.64,358.3 452.64,358.03 452.65,357.74 452.65,357.44 452.65,357.12 452.64,356.78 452.64,356.43 452.64,356.07 452.63,355.69 452.62,355.3 452.62,354.91 452.62,354.5 452.61,354.08 452.61,353.65 452.61,353.21 452.62,352.77 452.62,352.32 452.63,351.86 452.64,351.4 452.66,350.94 452.68,350.47 452.71,350 452.74,349.52 452.78,349.05 452.82,348.57 452.87,348.1 452.92,347.62 452.99,347.15 453.06,346.68 453.14,346.21 453.22,345.75 453.32,345.3 453.42,344.84 453.54,344.4 453.66,343.96 453.8,343.53 453.94,343.11 454.1,342.7 454.27,342.29 454.46,341.89 454.66,341.48 454.88,341.08 455.12,340.67 455.36,340.27 455.62,339.87 455.89,339.46 456.17,339.06 456.47,338.65 456.77,338.25 457.08,337.85 457.39,337.45 457.72,337.04 458.04,336.64 458.38,336.24 458.72,335.83 459.06,335.43 459.4,335.03 459.74,334.62 460.09,334.22 460.43,333.82 460.78,333.41 461.12,333.01 461.46,332.61 461.79,332.2 462.12,331.8 462.45,331.39 462.76,330.99 463.07,330.58 463.38,330.18 463.67,329.77 463.96,329.36 464.23,328.96 464.49,328.55 464.74,328.14 464.98,327.73 465.2,327.32 465.41,326.91 465.6,326.5 465.78,326.09 465.95,325.68 466.11,325.26 466.27,324.85 466.41,324.44 466.55,324.02 466.69,323.6 466.81,323.19 466.93,322.77 467.04,322.36 467.15,321.94 467.25,321.52 467.35,321.1 467.44,320.68 467.52,320.27 467.6,319.85 467.68,319.43 467.75,319.01 467.82,318.59 467.88,318.17 467.94,317.75 468,317.33 468.05,316.91 468.11,316.49 468.16,316.07 468.2,315.65 468.25,315.23 468.29,314.81 468.34,314.39 468.38,313.97 468.42,313.55 468.46,313.14 468.5,312.72 468.54,312.3 468.58,311.88 468.62,311.46 468.67,311.05 468.71,310.63 468.75,310.22 468.8,309.8 468.85,309.39 468.89,308.97 468.94,308.56 468.98,308.14 469.02,307.73 469.06,307.31 469.1,306.9 469.13,306.49 469.17,306.07 469.2,305.66 469.23,305.25 469.26,304.84 469.29,304.42 469.32,304.01 469.34,303.6 469.37,303.19 469.39,302.77 469.41,302.36 469.43,301.95 469.44,301.54 469.46,301.13 469.47,300.71 469.48,300.3 469.49,299.89 469.5,299.48 469.51,299.07 469.51,298.66 469.52,298.24 469.52,297.83 469.51,297.42 469.51,297.01 469.51,296.6 469.5,296.18 469.49,295.77 469.48,295.36 469.47,294.95 469.45,294.54 469.44,294.12 469.42,293.71 469.4,293.3 469.38,292.89 469.35,292.47 469.32,292.06 469.29,291.65 469.25,291.24 469.21,290.82 469.17,290.41 469.12,290 469.07,289.58 469.02,289.17 468.97,288.75 468.91,288.34 468.85,287.93 468.79,287.51 468.73,287.1 468.67,286.69 468.61,286.27 468.54,285.86 468.47,285.44 468.41,285.03 468.34,284.62 468.27,284.2 468.2,283.79 468.13,283.38 468.06,282.97 467.99,282.55 467.92,282.14 467.85,281.73 467.78,281.32 467.71,280.9 467.65,280.49 467.58,280.08 467.52,279.67 467.45,279.26 467.39,278.85 467.33,278.44 467.27,278.03 467.21,277.62 467.15,277.21 467.1,276.8 467.05,276.39 467,275.98 466.94,275.57 466.89,275.16 466.84,274.75 466.79,274.34 466.74,273.93 466.69,273.52 466.64,273.1 466.59,272.69 466.55,272.28 466.5,271.87 466.45,271.46 466.4,271.04 466.35,270.63 466.31,270.22 466.26,269.81 466.21,269.4 466.17,268.99 466.12,268.58 466.07,268.17 466.03,267.76 465.98,267.36 465.93,266.95 465.89,266.54 465.84,266.14 465.8,265.74 465.75,265.33 465.7,264.93 465.66,264.53 465.61,264.13 465.57,263.73 465.52,263.34 465.48,262.94 465.43,262.55 465.38,262.15 465.34,261.76 465.29,261.37 465.25,260.99 465.2,260.6 465.15,260.21 465.11,259.82 465.06,259.42 465.01,259.01 464.96,258.6 464.91,258.18 464.86,257.77 464.8,257.34 464.75,256.92 464.7,256.5 464.65,256.07 464.6,255.64 464.54,255.22 464.49,254.79 464.44,254.37 464.39,253.94 464.33,253.52 464.28,253.11 464.23,252.7 464.18,252.29 464.13,251.88 464.08,251.49 464.03,251.1 463.99,250.71 463.94,250.34 463.89,249.97 463.85,249.61 463.8,249.26 463.76,248.92 463.72,248.59 463.68,248.27 463.64,247.96 463.61,247.67 463.57,247.38 463.54,247.12 463.51,246.86 463.48,246.62 463.45,246.4 463.42,246.19 463.4,246" fill="none" stroke="#3a4aa8" stroke-width="1" stroke-dasharray="3,2"/>
<polyline points="452.6,359 452.64,358.79 452.69,358.55 452.73,358.3 452.77,358.03 452.81,357.74 452.86,357.44 452.9,357.12 452.94,356.78 452.98,356.43 453.03,356.07 453.07,355.69 453.12,355.3 453.17,354.91 453.22,354.5 453.27,354.08 453.33,353.65 453.39,353.21 453.45,352.77 453.52,352.32 453.59,351.86 453.66,351.4 453.74,350.94 453.82,350.47 453.91,350 454,349.52 454.1,349.05 454.21,348.57 454.32,348.1 454.43,347.62 454.55,347.15 454.68,346.68 454.82,346.21 454.96,345.75 455.12,345.3 455.28,344.84 455.44,344.4 455.62,343.96 455.8,343.53 456,343.11 456.2,342.7 456.41,342.29 456.64,341.89 456.89,341.48 457.14,341.08 457.41,340.67 457.69,340.27 457.98,339.87 458.28,339.46 458.59,339.06 458.91,338.65 459.24,338.25 459.58,337.85 459.92,337.45 460.27,337.04 460.62,336.64 460.98,336.24 461.34,335.83 461.71,335.43 462.07,335.03 462.44,334.62 462.82,334.22 463.19,333.82 463.56,333.41 463.93,333.01 464.3,332.61 464.67,332.2 465.03,331.8 465.39,331.39 465.75,330.99 466.1,330.58 466.45,330.18 466.79,329.77 467.12,329.36 467.45,328.96 467.76,328.55 468.07,328.14 468.37,327.73 468.66,327.32 468.94,326.91 469.2,326.5 469.46,326.09 469.71,325.68 469.95,325.26 470.2,324.85 470.43,324.44 470.67,324.02 470.89,323.6 471.12,323.19 471.34,322.77 471.56,322.36 471.77,321.94 471.98,321.52 472.18,321.1 472.39,320.68 472.59,320.27 472.78,319.85 472.97,319.43 473.16,319.01 473.35,318.59 473.54,318.17 473.72,317.75 473.9,317.33 474.08,316.91 474.25,316.49 474.43,316.07 474.6,315.65 474.77,315.23 474.94,314.81 475.11,314.39 475.27,313.97 475.44,313.55 475.6,313.14 475.77,312.72 475.93,312.3 476.09,311.88 476.26,311.46 476.42,311.05 476.58,310.63 476.74,310.22 476.9,309.8 477.06,309.39 477.22,308.97 477.38,308.56 477.53,308.14 477.69,307.73 477.84,307.31 477.99,306.9 478.14,306.49 478.29,306.07 478.44,305.66 478.59,305.25 478.73,304.84 478.87,304.42 479.02,304.01 479.16,303.6 479.29,303.19 479.43,302.77 479.57,302.36 479.7,301.95 479.83,301.54 479.96,301.13 480.09,300.71 480.22,300.3 480.34,299.89 480.46,299.48 480.59,299.07 480.71,298.66 480.82,298.24 480.94,297.83 481.06,297.42 481.17,297.01 481.28,296.6 481.39,296.18 481.5,295.77 481.6,295.36 481.7,294.95 481.81,294.54 481.91,294.12 482,293.71 482.1,293.3 482.19,292.89 482.28,292.47 482.37,292.06 482.46,291.65 482.54,291.24 482.62,290.82 482.7,290.41 482.78,290 482.85,289.58 482.93,289.17 483,288.75 483.07,288.34 483.13,287.93 483.2,287.51 483.26,287.1 483.32,286.69 483.38,286.27 483.44,285.86 483.5,285.44 483.56,285.03 483.61,284.62 483.66,284.2 483.72,283.79 483.77,283.38 483.82,282.97 483.87,282.55 483.92,282.14 483.96,281.73 484.01,281.32 484.06,280.9 484.1,280.49 484.15,280.08 484.19,279.67 484.24,279.26 484.28,278.85 484.33,278.44 484.37,278.03 484.41,277.62 484.46,277.21 484.5,276.8 484.54,276.39 484.59,275.98 484.63,275.58 484.67,275.17 484.72,274.76 484.76,274.36 484.8,273.95 484.84,273.55 484.88,273.15 484.93,272.74 484.96,272.34 485,271.94 485.04,271.53 485.08,271.13 485.12,270.73 485.15,270.33 485.19,269.93 485.22,269.52 485.26,269.12 485.29,268.72 485.32,268.32 485.35,267.91 485.38,267.51 485.4,267.11 485.43,266.71 485.45,266.3 485.47,265.9 485.49,265.49 485.51,265.09 485.53,264.69 485.55,264.28 485.56,263.87 485.57,263.47 485.58,263.06 485.59,262.65 485.6,262.24 485.6,261.83 485.6,261.42 485.6,261.01 485.6,260.6 485.59,260.18 485.58,259.75 485.57,259.32 485.55,258.87 485.54,258.41 485.51,257.95 485.49,257.48 485.46,257.01 485.43,256.53 485.39,256.05 485.36,255.56 485.32,255.07 485.28,254.59 485.24,254.1 485.2,253.61 485.15,253.12 485.11,252.63 485.06,252.15 485.02,251.66 484.97,251.19 484.92,250.72 484.87,250.25 484.83,249.79 484.78,249.34 484.73,248.9 484.69,248.46 484.64,248.04 484.6,247.62 484.55,247.22 484.51,246.83 484.47,246.46 484.43,246.09 484.39,245.75 484.36,245.42 484.33,245.1 484.29,244.8 484.27,244.52 484.24,244.26 484.22,244.02 484.2,243.8" fill="none" stroke="#d0508a" stroke-width="1" stroke-dasharray="3,2"/>
<circle cx="456.2" cy="342.7" r="2.7" fill="#fbeef4" stroke="#d0508a" stroke-width="0.9"/>
<circle cx="469.2" cy="326.5" r="2.7" fill="#fbeef4" stroke="#d0508a" stroke-width="0.9"/>
<circle cx="476.9" cy="309.8" r="2.7" fill="#fbeef4" stroke="#d0508a" stroke-width="0.9"/>
<circle cx="482.1" cy="293.3" r="2.7" fill="#fbeef4" stroke="#d0508a" stroke-width="0.9"/>
<circle cx="484.5" cy="276.8" r="2.7" fill="#fbeef4" stroke="#d0508a" stroke-width="0.9"/>
<circle cx="485.6" cy="260.6" r="2.7" fill="#fbeef4" stroke="#d0508a" stroke-width="0.9"/>
<circle cx="454.1" cy="342.7" r="2.7" fill="#b8dcf4" stroke="#3a4aa8" stroke-width="0.9"/>
<circle cx="465.6" cy="326.5" r="2.7" fill="#b8dcf4" stroke="#3a4aa8" stroke-width="0.9"/>
<circle cx="468.8" cy="309.8" r="2.7" fill="#b8dcf4" stroke="#3a4aa8" stroke-width="0.9"/>
<circle cx="469.4" cy="293.3" r="2.7" fill="#b8dcf4" stroke="#3a4aa8" stroke-width="0.9"/>
<circle cx="467.1" cy="276.8" r="2.7" fill="#b8dcf4" stroke="#3a4aa8" stroke-width="0.9"/>
<circle cx="465.2" cy="260.6" r="2.7" fill="#b8dcf4" stroke="#3a4aa8" stroke-width="0.9"/>
<path d="M441.2 199.24L444.26 203.2L441.2 207.16L438.14 203.2Z" fill="#f4ecfa" stroke="#8a3ab8" stroke-width="0.9"/>
<path d="M455 239.14L458.06 243.1L455 247.06L451.94 243.1Z" fill="#f4ecfa" stroke="#8a3ab8" stroke-width="0.9"/>
<path d="M462.9 277.44L465.96 281.4L462.9 285.36L459.84 281.4Z" fill="#f4ecfa" stroke="#8a3ab8" stroke-width="0.9"/>
<path d="M456.2 316.24L459.26 320.2L456.2 324.16L453.14 320.2Z" fill="#f4ecfa" stroke="#8a3ab8" stroke-width="0.9"/>
<path d="M452.6 355.04L455.66 359L452.6 362.96L449.54 359Z" fill="#f4ecfa" stroke="#8a3ab8" stroke-width="0.9"/>
<circle cx="383.4" cy="222.3" r="2.7" fill="#f6e2ee" stroke="#d0508a" stroke-width="0.9"/>
<circle cx="383.4" cy="237.8" r="2.7" fill="#e8f2fa" stroke="#3a4aa8" stroke-width="0.9"/>
<path d="M383.4 249.54L386.46 253.5L383.4 257.46L380.34 253.5Z" fill="#eef4fa" stroke="#8a3ab8" stroke-width="0.9"/>
<text x="392.95" y="226.7" font-size="10.5">S2</text>
<text x="415.65" y="226.7" font-size="10.5">0°</text>
<text x="392.95" y="242.35" font-size="10.5">S2</text>
<text x="409.7" y="242.35" font-size="10.5">1.5°</text>
<text x="392.85" y="257.9" font-size="10.5">S4</text>
<text x="415.65" y="257.9" font-size="10.5">0°</text>
<text x="530.3" y="192.7" font-weight="bold">g</text>
<rect x="563.6" y="194.6" width="102" height="164.3" fill="none" stroke="#6d6466" stroke-width="1"/>
<line x1="563.6" y1="304.5" x2="567.1" y2="304.5" stroke="#6d6466" stroke-width="1"/>
<line x1="563.6" y1="250.1" x2="567.1" y2="250.1" stroke="#6d6466" stroke-width="1"/>
<line x1="594.29" y1="358.9" x2="594.29" y2="355.4" stroke="#6d6466" stroke-width="1"/>
<line x1="624.79" y1="358.9" x2="624.79" y2="355.4" stroke="#6d6466" stroke-width="1"/>
<text x="543.9" y="253.35">100</text>
<text x="547.05" y="307.95">50</text>
<text x="550.15" y="362.35">0</text>
<text x="560.4" y="373.05">0</text>
<text x="587.5" y="373">15</text>
<text x="618.8" y="373.05">30</text>
<text x="659.85" y="373">45</text>
<text transform="translate(544.0 293.4) rotate(-90)" font-size="11"><tspan font-style="italic">B</tspan><tspan font-size="8" dy="2.6">c2</tspan><tspan dy="-2.6"> (T)</tspan></text>
<text x="592.75" y="385.05" font-style="italic" font-size="11">T</text>
<text x="601.35" y="379.6" font-size="8">50%</text>
<text x="601" y="387.15" font-size="8">sc</text>
<text x="620.25" y="384.6" font-size="11">(K)</text>
<line x1="563.6" y1="269.6" x2="606.2" y2="269.6" stroke="#9456cc" stroke-width="1.2" stroke-dasharray="3.5,1.7"/>
<line x1="622" y1="269.6" x2="665.6" y2="269.6" stroke="#9456cc" stroke-width="1.2" stroke-dasharray="3.5,1.7"/>
<text x="608" y="271.9" font-size="10.5"><tspan font-style="italic">B</tspan><tspan font-size="7.8" dx="0.3" dy="1.2">p</tspan></text>
<line x1="563.6" y1="310.1" x2="652.7" y2="358.9" stroke="#b83040" stroke-width="1"/>
<polyline points="650.6,326.74 650.28,322.73 649.95,319.19 649.63,315.99 649.31,313.05 648.98,310.33 648.66,307.77 648.34,305.36 648.01,303.07 647.69,300.89 647.36,298.8 647.04,296.79 646.72,294.86 646.39,293 646.07,291.19 645.75,289.45 645.42,287.75 645.1,286.1 644.78,284.49 644.45,282.93 644.13,281.4 643.81,279.91 643.48,278.45 643.16,277.02 642.84,275.62 642.51,274.25 642.19,272.9 641.86,271.58 641.54,270.28 641.22,269 640.89,267.75 640.57,266.51 640.25,265.3 639.92,264.1 639.6,262.92 639.28,261.76 638.95,260.62 638.63,259.49 638.31,258.37 637.98,257.27 637.66,256.19 637.34,255.11 637.01,254.05 636.69,253.01 636.36,251.97 636.04,250.95 635.72,249.94 635.39,248.94 635.07,247.95 634.75,246.97 634.42,246 634.1,245.04 633.78,244.09 633.45,243.15 633.13,242.22 632.81,241.3 632.48,240.38 632.16,239.48 631.84,238.58 631.51,237.69 631.19,236.81 630.86,235.93 630.54,235.07 630.22,234.21 629.89,233.35 629.57,232.51 629.25,231.67 628.92,230.84 628.6,230.01 628.28,229.19 627.95,228.38 627.63,227.57 627.31,226.77 626.98,225.97 626.66,225.18 626.34,224.39 626.01,223.61 625.69,222.84 625.36,222.07 625.04,221.31 624.72,220.55 624.39,219.79 624.07,219.04 623.75,218.3 623.42,217.56 623.1,216.82 622.78,216.09 622.45,215.37 622.13,214.65 621.81,213.93 621.48,213.22 621.16,212.51 620.84,211.8 620.51,211.1 620.19,210.4 619.86,209.71 619.54,209.02 619.22,208.33 618.89,207.65 618.57,206.97 618.25,206.3 617.92,205.63 617.6,204.96 617.28,204.3 616.95,203.63 616.63,202.98 616.31,202.32 615.98,201.67 615.66,201.02 615.34,200.38 615.01,199.74 614.69,199.1 614.36,198.46 614.04,197.83 613.72,197.2 613.39,196.58 613.07,195.95 612.75,195.33 612.42,194.71 612.1,194.1" fill="none" stroke="#7038b8" stroke-width="1"/>
<circle cx="630" cy="346.45" r="2.9" fill="#fbe4ea" stroke="#c03848" stroke-width="0.9"/>
<circle cx="633.5" cy="348.37" r="2.7" fill="#fbe4ea" stroke="#c03848" stroke-width="0.9"/>
<circle cx="637.2" cy="350.4" r="2.7" fill="#fbe4ea" stroke="#c03848" stroke-width="0.9"/>
<circle cx="640.9" cy="352.42" r="2.7" fill="#fbe4ea" stroke="#c03848" stroke-width="0.9"/>
<circle cx="644.4" cy="354.34" r="2.7" fill="#fbe4ea" stroke="#c03848" stroke-width="0.9"/>
<circle cx="648.1" cy="356.36" r="2.7" fill="#fbe4ea" stroke="#c03848" stroke-width="0.9"/>
<circle cx="651.6" cy="358.28" r="2.7" fill="#fbe4ea" stroke="#c03848" stroke-width="0.9"/>
<path d="M651.7 317.52L654.5 321.15L651.7 324.78L648.9 321.15Z" fill="#dcd0f2" stroke="#7a3ab8" stroke-width="0.9"/>
<path d="M651.7 319.37L654.5 323L651.7 326.63L648.9 323Z" fill="#dcd0f2" stroke="#7a3ab8" stroke-width="0.9"/>
<path d="M651.7 324.48L654.5 328.11L651.7 331.74L648.9 328.11Z" fill="#dcd0f2" stroke="#7a3ab8" stroke-width="0.9"/>
<path d="M651.7 329.59L654.5 333.22L651.7 336.85L648.9 333.22Z" fill="#dcd0f2" stroke="#7a3ab8" stroke-width="0.9"/>
<path d="M651.7 334.71L654.5 338.34L651.7 341.97L648.9 338.34Z" fill="#dcd0f2" stroke="#7a3ab8" stroke-width="0.9"/>
<path d="M651.7 339.82L654.5 343.45L651.7 347.08L648.9 343.45Z" fill="#dcd0f2" stroke="#7a3ab8" stroke-width="0.9"/>
<path d="M651.7 344.93L654.5 348.56L651.7 352.19L648.9 348.56Z" fill="#dcd0f2" stroke="#7a3ab8" stroke-width="0.9"/>
<path d="M651.7 350.16L654.5 353.79L651.7 357.42L648.9 353.79Z" fill="#dcd0f2" stroke="#7a3ab8" stroke-width="0.9"/>
<path d="M651.7 355.27L654.5 358.9L651.7 362.53L648.9 358.9Z" fill="#dcd0f2" stroke="#7a3ab8" stroke-width="0.9"/>
<circle cx="574" cy="217.1" r="2.8" fill="#fbe8ee" stroke="#c04055" stroke-width="0.9"/>
<path d="M574 229.44L577.06 233.4L574 237.36L570.94 233.4Z" fill="#dcd0f2" stroke="#7a3ab8" stroke-width="0.9"/>
<text x="583.7" y="221.3" font-size="10.5">S2</text>
<text x="603.7" y="221.3" font-size="10.5">90°</text>
<text x="583.6" y="237.55" font-size="10.5">S4</text>
<text x="606.9" y="237.55" font-size="10.5">0°</text></svg></body></html>
